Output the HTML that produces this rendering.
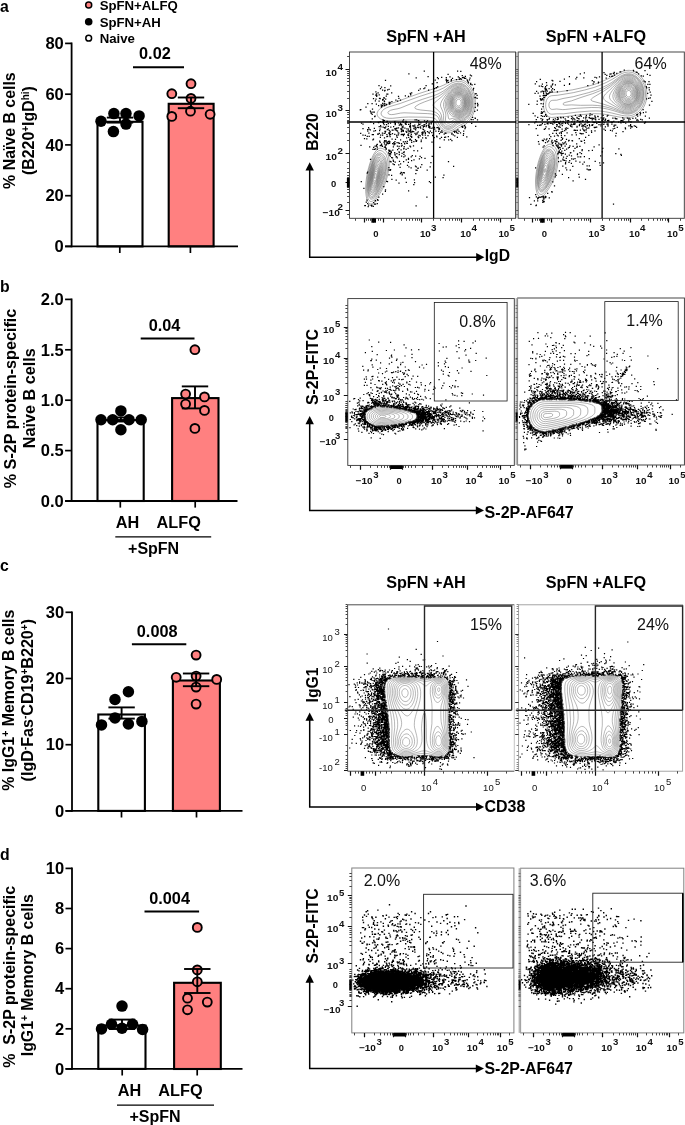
<!DOCTYPE html>
<html><head><meta charset="utf-8"><title>Figure</title>
<style>
html,body{margin:0;padding:0;background:#fff;}
svg{display:block;font-family:"Liberation Sans",sans-serif;will-change:transform;}
</style></head><body>
<svg width="685" height="1125" viewBox="0 0 685 1125">
<rect width="685" height="1125" fill="#fff"/>
<text x=".1" y="11.7" font-size="15.8" font-weight="bold" text-anchor="start" fill="#000">a</text>
<text x=".1" y="292" font-size="15.8" font-weight="bold" text-anchor="start" fill="#000">b</text>
<text x=".1" y="571.4" font-size="15.8" font-weight="bold" text-anchor="start" fill="#000">c</text>
<text x=".1" y="860" font-size="15.8" font-weight="bold" text-anchor="start" fill="#000">d</text>
<circle cx="88.7" cy="5" r="3.0" fill="#ff8080" stroke="#000" stroke-width="1.5"/>
<circle cx="88.7" cy="21.8" r="3.8" fill="#000"/>
<circle cx="88.7" cy="38.2" r="2.9" fill="#fff" stroke="#000" stroke-width="1.5"/>
<text x="99.7" y="10.3" font-size="13.2" font-weight="bold" text-anchor="start" fill="#000">SpFN+ALFQ</text>
<text x="99.7" y="26.8" font-size="13.2" font-weight="bold" text-anchor="start" fill="#000">SpFN+AH</text>
<text x="99.7" y="42.8" font-size="13.2" font-weight="bold" text-anchor="start" fill="#000">Naive</text>
<rect x="97.5" y="121.8" width="45" height="124.6" stroke="#000" stroke-width="2.1" fill="#fff"/>
<rect x="168.7" y="103.8" width="44.9" height="142.6" stroke="#000" stroke-width="2.1" fill="#ff8080"/>
<line x1="71.6" y1="42.5" x2="71.6" y2="247.3" stroke="#000" stroke-width="1.8" stroke-linecap="butt"/>
<line x1="65.1" y1="246.4" x2="238" y2="246.4" stroke="#000" stroke-width="1.8" stroke-linecap="butt"/>
<line x1="65.1" y1="43.4" x2="71.6" y2="43.4" stroke="#000" stroke-width="1.7" stroke-linecap="butt"/>
<text x="63.8" y="49.1" font-size="16.5" font-weight="bold" text-anchor="end" fill="#000">80</text>
<line x1="65.1" y1="94.2" x2="71.6" y2="94.2" stroke="#000" stroke-width="1.7" stroke-linecap="butt"/>
<text x="63.8" y="99.9" font-size="16.5" font-weight="bold" text-anchor="end" fill="#000">60</text>
<line x1="65.1" y1="144.9" x2="71.6" y2="144.9" stroke="#000" stroke-width="1.7" stroke-linecap="butt"/>
<text x="63.8" y="150.6" font-size="16.5" font-weight="bold" text-anchor="end" fill="#000">40</text>
<line x1="65.1" y1="195.7" x2="71.6" y2="195.7" stroke="#000" stroke-width="1.7" stroke-linecap="butt"/>
<text x="63.8" y="201.4" font-size="16.5" font-weight="bold" text-anchor="end" fill="#000">20</text>
<line x1="65.1" y1="246.4" x2="71.6" y2="246.4" stroke="#000" stroke-width="1.7" stroke-linecap="butt"/>
<text x="63.8" y="252.1" font-size="16.5" font-weight="bold" text-anchor="end" fill="#000">0</text>
<line x1="119.8" y1="246.4" x2="119.8" y2="253" stroke="#000" stroke-width="1.7" stroke-linecap="butt"/>
<line x1="190.4" y1="246.4" x2="190.4" y2="253" stroke="#000" stroke-width="1.7" stroke-linecap="butt"/>
<line x1="120" y1="117.6" x2="120" y2="122.6" stroke="#000" stroke-width="1.9" stroke-linecap="butt"/>
<line x1="106.8" y1="117.6" x2="133.2" y2="117.6" stroke="#000" stroke-width="1.9" stroke-linecap="butt"/>
<line x1="106.8" y1="122.6" x2="133.2" y2="122.6" stroke="#000" stroke-width="1.9" stroke-linecap="butt"/>
<circle cx="101" cy="121.3" r="5.75" fill="#000"/>
<circle cx="113.9" cy="113.6" r="5.75" fill="#000"/>
<circle cx="126" cy="113.6" r="5.75" fill="#000"/>
<circle cx="139.1" cy="115.9" r="5.75" fill="#000"/>
<circle cx="126" cy="124.1" r="5.75" fill="#000"/>
<circle cx="113.4" cy="131.6" r="5.75" fill="#000"/>
<circle cx="191" cy="83.7" r="4.45" fill="#ff8080" stroke="#000" stroke-width="1.9"/>
<circle cx="171.8" cy="93.7" r="4.45" fill="#ff8080" stroke="#000" stroke-width="1.9"/>
<circle cx="191" cy="98.4" r="4.45" fill="#ff8080" stroke="#000" stroke-width="1.9"/>
<circle cx="190.5" cy="111.2" r="4.45" fill="#ff8080" stroke="#000" stroke-width="1.9"/>
<circle cx="171.8" cy="116.4" r="4.45" fill="#ff8080" stroke="#000" stroke-width="1.9"/>
<circle cx="210.1" cy="114.3" r="4.45" fill="#ff8080" stroke="#000" stroke-width="1.9"/>
<line x1="191" y1="97.5" x2="191" y2="108.2" stroke="#000" stroke-width="1.9" stroke-linecap="butt"/>
<line x1="177.8" y1="97.5" x2="204.2" y2="97.5" stroke="#000" stroke-width="1.9" stroke-linecap="butt"/>
<line x1="177.8" y1="108.2" x2="204.2" y2="108.2" stroke="#000" stroke-width="1.9" stroke-linecap="butt"/>
<line x1="133" y1="67.3" x2="184" y2="67.3" stroke="#000" stroke-width="2.0" stroke-linecap="butt"/>
<text x="154.9" y="58.8" font-size="16.3" font-weight="bold" text-anchor="middle" fill="#000">0.02</text>
<text x="15.4" y="130.6" font-size="15.9" font-weight="bold" text-anchor="middle" fill="#000" transform="rotate(-90 15.4 130.6)">% Na&#239;ve B cells</text>
<text x="34.3" y="130.6" font-size="15.9" font-weight="bold" text-anchor="middle" transform="rotate(-90 34.3 130.6)">(B220<tspan font-size="10" dy="-5">+</tspan><tspan dy="5">IgD</tspan><tspan font-size="10" dy="-5">hi</tspan><tspan dy="5">)</tspan></text>
<rect x="97.5" y="420.1" width="46.2" height="80.9" stroke="#000" stroke-width="2.1" fill="#fff"/>
<rect x="172.1" y="398.1" width="46.4" height="102.9" stroke="#000" stroke-width="2.1" fill="#ff8080"/>
<line x1="71.6" y1="298.5" x2="71.6" y2="501.9" stroke="#000" stroke-width="1.8" stroke-linecap="butt"/>
<line x1="65.1" y1="501" x2="237.5" y2="501" stroke="#000" stroke-width="1.8" stroke-linecap="butt"/>
<line x1="65.1" y1="299.4" x2="71.6" y2="299.4" stroke="#000" stroke-width="1.7" stroke-linecap="butt"/>
<text x="63.8" y="305.1" font-size="16.5" font-weight="bold" text-anchor="end" fill="#000">2.0</text>
<line x1="65.1" y1="349.8" x2="71.6" y2="349.8" stroke="#000" stroke-width="1.7" stroke-linecap="butt"/>
<text x="63.8" y="355.5" font-size="16.5" font-weight="bold" text-anchor="end" fill="#000">1.5</text>
<line x1="65.1" y1="400.2" x2="71.6" y2="400.2" stroke="#000" stroke-width="1.7" stroke-linecap="butt"/>
<text x="63.8" y="405.9" font-size="16.5" font-weight="bold" text-anchor="end" fill="#000">1.0</text>
<line x1="65.1" y1="450.6" x2="71.6" y2="450.6" stroke="#000" stroke-width="1.7" stroke-linecap="butt"/>
<text x="63.8" y="456.3" font-size="16.5" font-weight="bold" text-anchor="end" fill="#000">0.5</text>
<line x1="65.1" y1="501" x2="71.6" y2="501" stroke="#000" stroke-width="1.7" stroke-linecap="butt"/>
<text x="63.8" y="506.7" font-size="16.5" font-weight="bold" text-anchor="end" fill="#000">0.0</text>
<line x1="120.3" y1="501" x2="120.3" y2="507.6" stroke="#000" stroke-width="1.7" stroke-linecap="butt"/>
<line x1="195.2" y1="501" x2="195.2" y2="507.6" stroke="#000" stroke-width="1.7" stroke-linecap="butt"/>
<line x1="120.9" y1="417.5" x2="120.9" y2="421.5" stroke="#000" stroke-width="1.9" stroke-linecap="butt"/>
<line x1="107.7" y1="417.5" x2="134.1" y2="417.5" stroke="#000" stroke-width="1.9" stroke-linecap="butt"/>
<line x1="107.7" y1="421.5" x2="134.1" y2="421.5" stroke="#000" stroke-width="1.9" stroke-linecap="butt"/>
<circle cx="101" cy="419.8" r="5.75" fill="#000"/>
<circle cx="141.2" cy="419.8" r="5.75" fill="#000"/>
<circle cx="120.9" cy="410.9" r="5.75" fill="#000"/>
<circle cx="120.9" cy="429.8" r="5.75" fill="#000"/>
<circle cx="112.7" cy="419.8" r="5.75" fill="#000"/>
<circle cx="129" cy="419.8" r="5.75" fill="#000"/>
<line x1="195" y1="386.4" x2="195" y2="408.4" stroke="#000" stroke-width="1.9" stroke-linecap="butt"/>
<line x1="181.8" y1="386.4" x2="208.2" y2="386.4" stroke="#000" stroke-width="1.9" stroke-linecap="butt"/>
<line x1="181.8" y1="408.4" x2="208.2" y2="408.4" stroke="#000" stroke-width="1.9" stroke-linecap="butt"/>
<circle cx="194.9" cy="349.7" r="4.45" fill="#ff8080" stroke="#000" stroke-width="1.9"/>
<circle cx="185.6" cy="394.1" r="4.45" fill="#ff8080" stroke="#000" stroke-width="1.9"/>
<circle cx="204.5" cy="396.9" r="4.45" fill="#ff8080" stroke="#000" stroke-width="1.9"/>
<circle cx="185.6" cy="404.1" r="4.45" fill="#ff8080" stroke="#000" stroke-width="1.9"/>
<circle cx="204.5" cy="410.4" r="4.45" fill="#ff8080" stroke="#000" stroke-width="1.9"/>
<circle cx="194.9" cy="428.4" r="4.45" fill="#ff8080" stroke="#000" stroke-width="1.9"/>
<line x1="140.7" y1="338.5" x2="194.5" y2="338.5" stroke="#000" stroke-width="2.0" stroke-linecap="butt"/>
<text x="164.6" y="331" font-size="16.3" font-weight="bold" text-anchor="middle" fill="#000">0.04</text>
<text x="127.6" y="528.3" font-size="16.3" font-weight="bold" text-anchor="middle" fill="#000">AH</text>
<text x="178.7" y="528.3" font-size="16.3" font-weight="bold" text-anchor="middle" fill="#000">ALFQ</text>
<line x1="115.3" y1="536.8" x2="211.2" y2="536.8" stroke="#000" stroke-width="1.3" stroke-linecap="butt"/>
<text x="153.6" y="553.6" font-size="16" font-weight="bold" text-anchor="middle" fill="#000">+SpFN</text>
<text x="15.8" y="398.5" font-size="16.2" font-weight="bold" text-anchor="middle" fill="#000" transform="rotate(-90 15.8 398.5)">% S-2P protein-specific</text>
<text x="35.2" y="398.2" font-size="16.2" font-weight="bold" text-anchor="middle" fill="#000" transform="rotate(-90 35.2 398.2)">Na&#239;ve B cells</text>
<rect x="98.3" y="714.5" width="46.6" height="96.4" stroke="#000" stroke-width="2.1" fill="#fff"/>
<rect x="172.9" y="680.5" width="47" height="130.4" stroke="#000" stroke-width="2.1" fill="#ff8080"/>
<line x1="72" y1="611.4" x2="72" y2="811.8" stroke="#000" stroke-width="1.8" stroke-linecap="butt"/>
<line x1="65.5" y1="810.9" x2="242.5" y2="810.9" stroke="#000" stroke-width="1.8" stroke-linecap="butt"/>
<line x1="65.5" y1="612.3" x2="72" y2="612.3" stroke="#000" stroke-width="1.7" stroke-linecap="butt"/>
<text x="64.2" y="618" font-size="16.5" font-weight="bold" text-anchor="end" fill="#000">30</text>
<line x1="65.5" y1="678.5" x2="72" y2="678.5" stroke="#000" stroke-width="1.7" stroke-linecap="butt"/>
<text x="64.2" y="684.2" font-size="16.5" font-weight="bold" text-anchor="end" fill="#000">20</text>
<line x1="65.5" y1="744.7" x2="72" y2="744.7" stroke="#000" stroke-width="1.7" stroke-linecap="butt"/>
<text x="64.2" y="750.4" font-size="16.5" font-weight="bold" text-anchor="end" fill="#000">10</text>
<line x1="65.5" y1="810.9" x2="72" y2="810.9" stroke="#000" stroke-width="1.7" stroke-linecap="butt"/>
<text x="64.2" y="816.6" font-size="16.5" font-weight="bold" text-anchor="end" fill="#000">0</text>
<line x1="121.5" y1="810.9" x2="121.5" y2="817.5" stroke="#000" stroke-width="1.7" stroke-linecap="butt"/>
<line x1="196.5" y1="810.9" x2="196.5" y2="817.5" stroke="#000" stroke-width="1.7" stroke-linecap="butt"/>
<line x1="121.6" y1="707.4" x2="121.6" y2="718.6" stroke="#000" stroke-width="1.9" stroke-linecap="butt"/>
<line x1="108.4" y1="707.4" x2="134.8" y2="707.4" stroke="#000" stroke-width="1.9" stroke-linecap="butt"/>
<line x1="108.4" y1="718.6" x2="134.8" y2="718.6" stroke="#000" stroke-width="1.9" stroke-linecap="butt"/>
<circle cx="128.4" cy="691.8" r="5.75" fill="#000"/>
<circle cx="115" cy="699.5" r="5.75" fill="#000"/>
<circle cx="115" cy="717.9" r="5.75" fill="#000"/>
<circle cx="101.5" cy="724.9" r="5.75" fill="#000"/>
<circle cx="128.4" cy="724" r="5.75" fill="#000"/>
<circle cx="141.9" cy="721.4" r="5.75" fill="#000"/>
<circle cx="196.1" cy="655.1" r="4.45" fill="#ff8080" stroke="#000" stroke-width="1.9"/>
<circle cx="176.2" cy="677.3" r="4.45" fill="#ff8080" stroke="#000" stroke-width="1.9"/>
<circle cx="216.7" cy="679.4" r="4.45" fill="#ff8080" stroke="#000" stroke-width="1.9"/>
<circle cx="196.1" cy="676.1" r="4.45" fill="#ff8080" stroke="#000" stroke-width="1.9"/>
<circle cx="196.1" cy="687.1" r="4.45" fill="#ff8080" stroke="#000" stroke-width="1.9"/>
<circle cx="196.1" cy="704.1" r="4.45" fill="#ff8080" stroke="#000" stroke-width="1.9"/>
<line x1="196.1" y1="673.5" x2="196.1" y2="686.2" stroke="#000" stroke-width="1.9" stroke-linecap="butt"/>
<line x1="182.9" y1="673.5" x2="209.3" y2="673.5" stroke="#000" stroke-width="1.9" stroke-linecap="butt"/>
<line x1="182.9" y1="686.2" x2="209.3" y2="686.2" stroke="#000" stroke-width="1.9" stroke-linecap="butt"/>
<line x1="131.9" y1="644.3" x2="186.3" y2="644.3" stroke="#000" stroke-width="2.0" stroke-linecap="butt"/>
<text x="157.2" y="636.9" font-size="16.3" font-weight="bold" text-anchor="middle" fill="#000">0.008</text>
<text x="13.7" y="700.2" font-size="15.9" font-weight="bold" text-anchor="middle" transform="rotate(-90 13.7 700.2)">% IgG1<tspan font-size="10.5" dy="-5">+</tspan><tspan dy="5"> Memory B cells</tspan></text>
<text x="33.0" y="700.2" font-size="16.1" font-weight="bold" text-anchor="middle" transform="rotate(-90 33.0 700.2)">(IgD<tspan font-size="10" dy="-5">-</tspan><tspan dy="5">Fas</tspan><tspan font-size="10" dy="-5">-</tspan><tspan dy="5">CD19</tspan><tspan font-size="10" dy="-5">+</tspan><tspan dy="5">B220</tspan><tspan font-size="10" dy="-5">+</tspan><tspan dy="5">)</tspan></text>
<rect x="98.3" y="1025.5" width="47.2" height="43.4" stroke="#000" stroke-width="2.1" fill="#fff"/>
<rect x="174.1" y="982.8" width="46.7" height="86.2" stroke="#000" stroke-width="2.1" fill="#ff8080"/>
<line x1="72" y1="867.5" x2="72" y2="1069.8" stroke="#000" stroke-width="1.8" stroke-linecap="butt"/>
<line x1="65.5" y1="1068.9" x2="242.5" y2="1068.9" stroke="#000" stroke-width="1.8" stroke-linecap="butt"/>
<line x1="65.5" y1="868.4" x2="72" y2="868.4" stroke="#000" stroke-width="1.7" stroke-linecap="butt"/>
<text x="64.2" y="874.1" font-size="16.5" font-weight="bold" text-anchor="end" fill="#000">10</text>
<line x1="65.5" y1="908.5" x2="72" y2="908.5" stroke="#000" stroke-width="1.7" stroke-linecap="butt"/>
<text x="64.2" y="914.2" font-size="16.5" font-weight="bold" text-anchor="end" fill="#000">8</text>
<line x1="65.5" y1="948.6" x2="72" y2="948.6" stroke="#000" stroke-width="1.7" stroke-linecap="butt"/>
<text x="64.2" y="954.3" font-size="16.5" font-weight="bold" text-anchor="end" fill="#000">6</text>
<line x1="65.5" y1="988.7" x2="72" y2="988.7" stroke="#000" stroke-width="1.7" stroke-linecap="butt"/>
<text x="64.2" y="994.4" font-size="16.5" font-weight="bold" text-anchor="end" fill="#000">4</text>
<line x1="65.5" y1="1028.8" x2="72" y2="1028.8" stroke="#000" stroke-width="1.7" stroke-linecap="butt"/>
<text x="64.2" y="1034.5" font-size="16.5" font-weight="bold" text-anchor="end" fill="#000">2</text>
<line x1="65.5" y1="1068.9" x2="72" y2="1068.9" stroke="#000" stroke-width="1.7" stroke-linecap="butt"/>
<text x="64.2" y="1074.6" font-size="16.5" font-weight="bold" text-anchor="end" fill="#000">0</text>
<line x1="122.2" y1="1068.9" x2="122.2" y2="1075.5" stroke="#000" stroke-width="1.7" stroke-linecap="butt"/>
<line x1="197.2" y1="1068.9" x2="197.2" y2="1075.5" stroke="#000" stroke-width="1.7" stroke-linecap="butt"/>
<line x1="122" y1="1019.6" x2="122" y2="1029" stroke="#000" stroke-width="1.9" stroke-linecap="butt"/>
<line x1="108.8" y1="1019.6" x2="135.2" y2="1019.6" stroke="#000" stroke-width="1.9" stroke-linecap="butt"/>
<line x1="108.8" y1="1029" x2="135.2" y2="1029" stroke="#000" stroke-width="1.9" stroke-linecap="butt"/>
<circle cx="122" cy="1006.1" r="5.75" fill="#000"/>
<circle cx="101.5" cy="1029" r="5.75" fill="#000"/>
<circle cx="111.5" cy="1024.3" r="5.75" fill="#000"/>
<circle cx="122" cy="1028.3" r="5.75" fill="#000"/>
<circle cx="132.6" cy="1024.3" r="5.75" fill="#000"/>
<circle cx="142.6" cy="1029.5" r="5.75" fill="#000"/>
<circle cx="197.3" cy="927.4" r="4.45" fill="#ff8080" stroke="#000" stroke-width="1.9"/>
<circle cx="197.3" cy="969.9" r="4.45" fill="#ff8080" stroke="#000" stroke-width="1.9"/>
<circle cx="197.3" cy="981.8" r="4.45" fill="#ff8080" stroke="#000" stroke-width="1.9"/>
<circle cx="187.5" cy="998.2" r="4.45" fill="#ff8080" stroke="#000" stroke-width="1.9"/>
<circle cx="207.3" cy="1002.1" r="4.45" fill="#ff8080" stroke="#000" stroke-width="1.9"/>
<circle cx="187.5" cy="1009.8" r="4.45" fill="#ff8080" stroke="#000" stroke-width="1.9"/>
<line x1="197.3" y1="969" x2="197.3" y2="993" stroke="#000" stroke-width="1.9" stroke-linecap="butt"/>
<line x1="184.1" y1="969" x2="210.5" y2="969" stroke="#000" stroke-width="1.9" stroke-linecap="butt"/>
<line x1="184.1" y1="993" x2="210.5" y2="993" stroke="#000" stroke-width="1.9" stroke-linecap="butt"/>
<line x1="144.5" y1="911.5" x2="199.1" y2="911.5" stroke="#000" stroke-width="2.0" stroke-linecap="butt"/>
<text x="169.6" y="904" font-size="16.3" font-weight="bold" text-anchor="middle" fill="#000">0.004</text>
<text x="129.4" y="1095.8" font-size="16.3" font-weight="bold" text-anchor="middle" fill="#000">AH</text>
<text x="180.5" y="1095.8" font-size="16.3" font-weight="bold" text-anchor="middle" fill="#000">ALFQ</text>
<line x1="117" y1="1105.2" x2="214" y2="1105.2" stroke="#000" stroke-width="1.3" stroke-linecap="butt"/>
<text x="155" y="1122.1" font-size="16" font-weight="bold" text-anchor="middle" fill="#000">+SpFN</text>
<text x="14.9" y="976.8" font-size="16.0" font-weight="bold" text-anchor="middle" fill="#000" transform="rotate(-90 14.9 976.8)" xml:space="preserve">%  S-2P protein-specific</text>
<text x="33.4" y="975.2" font-size="15.9" font-weight="bold" text-anchor="middle" transform="rotate(-90 33.4 975.2)">IgG1<tspan font-size="10" dy="-5">+</tspan><tspan dy="5"> Memory B cells</tspan></text>
<path d="M457.6 99.5l.9-.3l1 .2l1 .9l.5 1.2l.2 1.5l-.4 1.5l-.8 1.1l-1 .6l-1 0l-1-.6l-.7-1.1l-.3-1l0-1.5l.3-1l.7-1zM457.2 98l.8-.3l1-.1l1.5 .7l1.1 1.2l.7 2l0 2l-.6 2l-1.2 1.6l-1.5 .7l-1.5-.1l-1.1-.7l-.9-1.1l-.7-1.9l0-2l.3-1.5l.9-1.5zM457.4 96.5l1.1-.2l1 .1l1.5 .7l.8 .9l.7 1l.7 2.5l0 2.5l-.8 2.5l-1.4 1.7l-1 .7l-1 .3l-1 0l-1-.3l-1.5-1l-1.2-1.9l-.6-2l.1-2.5l.7-2.2l1.3-1.8zM457.3 95.5l1.2-.2l1 .1l1 .3l1 .7l1 1.1l.6 1l.6 1.5l.3 1.5l-.1 3l-.9 2.5l-1.5 2l-1 .7l-1.5 .5l-2-.2l-1-.5l-1-.8l-1-1.2l-.5-1l-.6-2.5l.1-3l1-2.5l1.5-1.9zM375.5 173.5l.5-.2l.1 .2l.2 1.5l-.3 2l-.5 1.2l-.5 .5l-.5-.5l0-1.7l.5-2.2zM456.6 95l1.4-.4l1 0l1.5 .3l1 .6l1 1l1 1.5l.6 1.5l.4 1.5l.1 2l-.2 1.5l-.3 1.5l-.7 1.5l-.9 1.4l-1 1l-1 .6l-1.5 .4l-2-.1l-1-.4l-1.2-.9l-1.5-2l-.7-1.5l-.3-1.5l0-3l.7-2.5l1.5-2.4l1-.9zM375.9 171l.6-.1l.6 1.1l.2 1.5l-.2 2l-.6 2.5l-.5 1.4l-1 1.5l-.5 .2l-.5-.3l-.3-1.3l0-3l.8-3.2l.5-1.2zM457.3 94l1.2-.2l1.5 .2l1.5 .7l1 .8l1 1.3l.9 1.7l.4 1.5l.3 2l-.1 2l-.2 1.5l-.5 1.5l-.8 1.5l-1 1.3l-1 .9l-1.5 .8l-1.5 .2l-1.5-.1l-1-.4l-1.2-.7l-1-1l-1.5-2.5l-.7-3l0-2l.3-1.5l1.2-3l.9-1.3l1-1l1-.7zM375.9 169.5l.6-.3l.5 .1l.5 .7l.4 2l-.1 3l-.8 3.4l-1 2.5l-1 1.4l-.5 .4l-.5 0l-.5-.5l-.4-1.7l-.1-2l.2-2l.5-2.5l.8-2.3l.5-1zM456.6 93.5l1.4-.3l1.5 0l1.5 .5l1.3 .8l1.2 1.3l1 1.6l.6 1.6l.4 2l.1 2l-.2 2l-.5 2l-.7 1.5l-1.1 1.5l-1.1 1.1l-1.5 .9l-1.5 .4l-1.5 0l-1.5-.4l-1-.5l-1.3-1l-.8-1l-.9-1.5l-.6-1.5l-.4-2l0-1.5l.2-2l1-3l.8-1.5l1-1.2l1.5-1.2zM376.3 168l.7-.2l.5 .3l.7 1.4l.3 2.5l-.2 3l-.7 3l-1.1 3.2l-1.5 2.4l-1 .6l-.5-.2l-.4-.5l-.4-1.5l-.2-2.5l.3-3l.6-3l.9-2.5l1.2-2.3zM457.5 92.5l1.5-.1l1.5 .3l1.5 .8l1.5 1.3l1 1.4l.8 1.8l.6 2l.2 2l0 2l-.4 2l-.6 2l-1.1 1.9l-1 1.2l-1.5 1.2l-1.5 .6l-1.5 .3l-1.5-.1l-1.5-.4l-1.5-.9l-1-1l-1-1.3l-.8-1.5l-.6-2l-.3-2l.1-2l.3-2l.8-2l.8-1.5l1.1-1.5l1.1-1l1.5-1zM376 167l1-.5l.5 .1l.5 .4l.5 1l.6 3l-.2 3.5l-.9 4l-1.5 3.9l-1.5 2.3l-1 .7l-.5 0l-.5-.3l-.3-.6l-.5-2l-.1-2.5l.2-3l.7-3.4l.9-3.1l1.1-2.2zM456.5 92l1.5-.3l2 .1l1.5 .5l1.6 1.2l1.4 1.6l1.1 1.9l.6 2l.5 2.5l-.1 2.5l-.3 2l-.6 2l-1 2l-1.2 1.5l-1.5 1.3l-1.5 .8l-2 .4l-1.5 0l-1.7-.5l-1.3-.7l-1.5-1.3l-1.2-1.5l-.7-1.5l-.7-2l-.3-2l0-2l.3-2l.4-1.5l.9-2l.9-1.5l1.4-1.6l1.5-1.2zM376.4 165.5l.6-.3l1 .2l.5 .5l.6 1.1l.5 3l-.1 4l-.9 4l-1.6 4.5l-1 2l-1 1.4l-1 .8l-.5 .1l-.5-.2l-.5-.5l-.7-2.1l-.2-3l.4-4l.7-4l1.2-3.5l1.1-2.4zM457.1 91l1.9-.2l2 .5l1.5 .8l1.5 1.3l1.2 1.6l1 2l.8 2.5l.3 2.5l-.1 2.5l-.5 2.5l-.8 2l-1.1 2l-1.3 1.5l-1.5 1.2l-2 .9l-2 .3l-2-.2l-1.5-.5l-1.5-.9l-1.4-1.3l-1-1.5l-1-2l-.7-2.5l-.2-2l.1-2l.5-2.5l.8-2l1.1-2l1.3-1.6l1.5-1.4l1.5-.9zM377.1 164l.9 0l.7 .5l.7 1l.5 1.5l.4 3.5l-.4 4.5l-1.2 4.5l-2.1 5l-1.1 1.9l-1 1.1l-1 .5l-.5 0l-.5-.3l-.5-.7l-.5-1.5l-.2-1.5l-.1-3.5l.5-4.5l1-4.5l1.3-3.6l1.5-2.6l1-1zM458.2 90l1.8 .1l2 .7l2 1.5l1.4 1.7l1.1 2l.9 2.5l.4 2.5l.1 2.5l-.3 2.5l-.7 2.5l-1 2l-1.4 2l-1.5 1.5l-2 1.1l-2 .6l-2 .1l-2-.3l-2-.8l-1.5-1.1l-.9-1.1l-1.2-2l-1-2.5l-.6-2.5l-.1-2l.3-2.5l.8-2.5l1.2-2.5l1.4-2l1.6-1.7l1.5-1.1l2-.9zM376.7 163l.8-.4l1 .2l1 1l.6 1.2l.6 2l.2 2l-.2 4.5l-1.3 5.5l-2.1 5.5l-1.3 2.3l-1 1.4l-1 .9l-1 .3l-.5-.2l-.7-.7l-.4-1l-.5-2l-.1-4l.4-4.5l1-5l1.3-4l1.5-3.1l1-1.4zM456.1 89.5l2.4-.4l2 .2l2 .9l2 1.5l1.5 1.9l1.3 2.4l.9 3l.3 2.5l-.1 3l-.5 3l-.9 2.5l-1.5 2.5l-1.5 1.7l-2 1.4l-2 .8l-2.5 .4l-2.5-.1l-2-.4l-1.5-.6l-1-.9l-1.2-1.8l-1.5-3l-.8-2.5l-.4-2.5l0-2l.5-2.5l.9-2.5l1.3-2.5l1.4-2l1.8-1.9l2-1.4zM377.2 161.5l.8-.2l1 .3l1 1l.9 1.9l.5 2l.3 2l-.1 2.5l-.2 2.5l-.7 3l-1 3.5l-2.6 6l-1.5 2.5l-1.1 1.3l-1 .8l-1 .1l-.9-.7l-.5-1l-.7-3l-.1-4.5l.5-5l1.1-5l1.7-5l.9-2l1-1.5l1-1.1zM456.4 88.5l1.6-.3l1.5 .1l2.5 .7l2.5 1.6l2 2.4l1.5 3l.9 3.5l.3 3.5l-.5 4l-1 3l-1.3 2.5l-1.9 2.3l-2 1.5l-1.5 .7l-2 .6l-6 .6l-3 .9l-1 0l-.5-.8l-.6-3.8l-2-6l-.5-2l-.2-2.5l.4-2.5l.6-2l1.2-2.5l1.1-2l1.5-2l1.5-1.6l1.5-1.2l1.5-1zM378 160l1 .1l1 .8l1 1.4l.7 1.7l.5 2l.2 2.5l-.1 2.5l-.3 2.5l-.8 3.5l-.9 3l-2.5 6l-1.4 2.5l-1.4 2l-1.5 1.3l-1 .2l-1-.5l-.5-.7l-.6-1.8l-.4-2l-.1-5l.7-6.5l1.6-6.5l1.7-4.5l1.1-1.9l1-1.4l1-.8zM456.9 87.5l2.6-.1l1.5 .3l1.5 .6l2.5 1.8l1.3 1.4l1 1.5l1.6 3.5l.7 3.5l.1 4l-.5 3.5l-1 3l-1.2 2.4l-1.5 1.9l-2 1.8l-3 1.5l-6.5 1.6l-1.3 .8l-2.7 2.2l-1 .4l-1 .1l-1-.4l-.5-.5l-.5-.8l-.4-1l-.1-1.5l.3-3.5l0-1.5l-.5-2l-1.6-5.5l-.2-2l.3-2l.8-2.5l1.3-2.5l1.9-3l1.5-2l1.7-1.8l2-1.5l2-1.1zM377.4 159l1.1-.3l1.5 .6l1.1 1.2l1 2l.7 2l.3 2.5l0 3l-.3 3l-.7 3l-1.2 4l-1.6 4l-1.7 3.5l-1.6 2.7l-1.5 1.9l-1.5 1.1l-1 0l-.9-.7l-.6-.9l-.5-1.6l-.4-2.5l-.1-5l.7-6.5l1.1-5.5l1.9-5.5l1.2-2.5l.9-1.5l1.2-1.4zM456.6 86.5l2.9-.2l1.5 .3l1.5 .6l1.5 .9l1.5 1.2l2.2 2.7l1.6 3.5l1 4l.2 4l-.2 2.5l-.4 2l-1 3l-1.3 2.5l-1.6 2.1l-2 1.9l-3 1.6l-4.5 1.3l-1.3 .6l-1.2 .8l-2.5 2.2l-1.5 .9l-1.5 .4l-1-.1l-1-.3l-1.2-.9l-.7-1l-.6-1.5l-.4-2l0-4l-.2-2l-.6-2l-2.1-5l-.2-1.5l.2-1.5l1-2.5l1.6-2.5l2.9-4l2.6-3l1.7-1.7l2-1.5l2-1.1zM377.7 157.5l1.3-.2l1.5 .6l1.4 1.6l1.1 2l.6 2l.4 2.5l0 3l-.3 3l-.8 4l-1.1 3.5l-1.6 4l-1.9 4l-1.7 3l-1.6 2.3l-1.5 1.5l-1 .4l-.5 0l-1-.4l-.9-1.3l-.5-1.5l-.5-2.5l-.2-5.5l.7-7l1.5-7l2.1-6l1-2l1.3-2l1-1.2zM455.8 85.5l1.7-.3l1.5-.1l1.5 .2l2 .7l1.5 .7l1.5 1.2l1.5 1.5l1.2 1.6l1.1 2l.8 2l1 4l.3 4.5l-.6 4.5l-.9 3l-1.2 2.5l-1.7 2.5l-2 2.1l-3 1.9l-4.5 1.6l-1.5 .8l-3.8 3.1l-1.2 .8l-2 .7l-2-.1l-1.5-.6l-1-.8l-1.5-2l-.8-2.5l-.9-6l-1.2-2.5l-1.6-1.9l-4.8-4.1l-.5-1l-.1-.5l.4-1l1.3-1.5l7.2-6l7.6-7.5l3.4-2.4zM377.7 156l.8-.3l1 0l1.5 .7l1.6 1.6l1.2 2l.8 2.5l.4 2.5l0 3l-.3 3.5l-.8 4l-1.2 4l-1.8 4.5l-2.3 4.5l-2.3 4l-1.8 2.4l-1.5 1.2l-1 .3l-.5 0l-1-.7l-.8-1.2l-.7-2l-.4-2.5l-.2-6l.7-7.5l1.7-7.5l2-6l1.2-2.5l1.2-2l1.3-1.6zM455.6 84.5l1.9-.4l1.5 0l3 .6l1.5 .7l1.5 .9l1.5 1.3l1.3 1.4l1.9 3l1.5 4l.8 4.5l0 4.5l-.7 4l-1 3l-1.5 3l-1.9 2.5l-1.4 1.4l-2 1.4l-7 3.2l-3.5 2.9l-1.5 1l-2 .8l-2 .1l-2-.6l-1.7-1.2l-1.2-1.5l-1-2l-1.6-5.8l-.7-1.7l-1.3-1.6l-2-1.4l-2-.8l-3-.7l-10.2-1l-3-.5l-1.8-.6l-.7-.4l-.4-.5l0-.5l.2-.5l1-1l3.4-2l4.7-2l9.8-3.6l5-2.4l4-2.7l5.6-4.8l2.4-1.8l2.5-1.4zM378.1 154.5l.9-.3l1 .1l1.5 .8l1.9 1.9l1.2 2l.8 2.5l.4 3l0 3.5l-.4 3.5l-.8 4l-1.4 4.5l-1.6 4l-1.9 4l-2.6 4.5l-2.1 3l-2 1.9l-1.5 .4l-1-.4l-1-1.3l-.8-2.1l-.5-2.5l-.3-3.5l0-3.5l.3-4l.5-4l1.6-7.5l2.4-7l1.4-3l1.4-2.2l1.5-1.6zM455.3 83.5l3.2-.4l2 .2l1.5 .3l3 1.6l1.5 1.1l1.6 1.7l2.2 3.5l1.6 4l.8 4.5l.1 5l-.6 3.5l-1 3.5l-1.4 3l-2.3 3.2l-1.5 1.5l-2 1.5l-6.5 3.1l-4.5 3.5l-1.5 .9l-2 .6l-2 .1l-2-.5l-2-1.2l-1.2-1.2l-1.3-2l-2-5.4l-1-2l-1-1.1l-1-.7l-2.5-.9l-2.5-.5l-3.5-.3l-23.5-.8l-3.5 .3l-6.5 1.3l-2.5 .2l-1.5-.1l-1-.4l-1-.8l-.1-.8l.6-1l2-1.2l2.5-.7l5-.9l3-.9l15.3-6.3l6.2-2.2l11-3.5l4.5-1.8l5-2.7l8-5.9l2-1zM378.6 153l1.4-.1l1 .3l1 .5l2 1.9l1.4 2.4l.8 2.5l.4 3.5l0 3.5l-.5 4l-.9 4.5l-1.4 4.5l-1.6 4l-2 4l-2.9 5l-2.5 3.5l-1.8 1.7l-1 .4l-1 .1l-1-.6l-1.1-1.6l-.7-2l-.5-3l-.3-3.5l0-3.5l.3-4.5l.5-4l1-5l1.1-4l2.5-7l1.5-3l1.2-1.9l1.5-1.7zM456.3 81.5l3.2-.1l2 .3l1.5 .5l2 1l1.5 1.1l2.6 2.7l1.1 1.5l1.4 2.5l1.6 4.5l.8 5l0 4.5l-.7 4.5l-1 3.5l-1.8 3.5l-2.1 3l-1.9 1.9l-2 1.5l-6.1 3.1l-4.4 3.2l-2 1.1l-2.5 .8l-2 .1l-2-.4l-2-1l-1.5-1.2l-1.4-1.6l-1.2-2l-1.9-3.6l-1-1.5l-1.5-1.2l-2.5-.9l-3-.4l-4.5-.2l-16.5-.2l-6.5 .3l-9.5 1l-3.5 0l-2.5-.3l-2.5-.8l-1.5-.9l-1-1.3l-.4-1l0-1l.4-1l.6-1l1.9-1.8l2.5-1.4l3.5-1.3l10.1-3l19.9-7.2l18-5.8l5.5-2.5l8-4.9l2.5-1zM378.2 151l.8-.4l1-.1l1 .1l1.5 .7l2.2 1.7l.9 1l.8 1.5l1 3l.5 3.5l0 4.5l-.5 4.5l-1 5l-1.2 4l-2 5l-2 4l-3.9 6.5l-2.8 3.9l-2 1.7l-1 .4l-1 0l-.5-.2l-.9-.8l-.9-1.5l-.8-2.5l-.5-3l-.3-3.5l0-4l.7-8l.9-5.5l1-4l1-3.5l1.6-4.5l1.6-3.5l1.6-2.8l1.5-1.9zM454.7 80l1.8-.4l2-.1l2 .2l2 .5l2 .8l2 1.3l2.9 2.7l1.6 2l1.2 2l1.1 2.5l.9 2.5l1 5l.2 5l-.6 5l-1.1 4l-1.8 4l-2.3 3.5l-2.1 2.2l-2 1.6l-6.8 3.7l-5.7 3.7l-2.5 .9l-2.5 .3l-2-.3l-2.5-.9l-1.7-1.2l-1.6-1.5l-4.7-6.3l-1.7-1.2l-2.3-.7l-2.5-.4l-4.5-.3l-13-.2l-8.6 .1l-11.4 .8l-4-.1l-3.5-.6l-3-1l-2-1.3l-1.4-1.8l-.4-1l-.1-1.5l.4-1.5l.8-1.5l1.2-1.3l1.4-1.2l3.6-2.1l3-1.2l11-3.7l19.5-7.1l21.2-6.9l4.7-2l7.1-3.7zM378.8 148.5l1.2-.3l1 0l1.5 .4l1.5 .7l2 1.7l1.6 2.5l1 3l.6 4l0 4.5l-.5 5l-1 5l-1.4 5l-1.6 4.5l-2.4 5l-3.6 6l-3.7 5.4l-1.5 1.6l-1 .8l-1 .5l-1 .1l-1-.3l-.5-.3l-1-1.3l-1.2-3l-.6-3l-.5-4.5l0-4.5l.2-4l.7-6l1.1-5.5l1-4l1.5-5l1.5-4l1.6-3.5l1.8-3l1.9-2.3z" fill="none" stroke="#686868" stroke-width="0.55" stroke-linejoin="round"/>
<path d="m366 107.1h0m-5.2 2.5h0m-.5 .3h0m1.2 13.1h0m1.5 1.1h0m0 4.4h0m-2.3 4.8h0m2.3 1.7h0m2.3 .4h0m-.8 3.1h0m-3.5 6.9h0m.3 36.3h0m2.6 6.6h0m1.5 17.3h0m-.6 .1h0m3 -102.2h0m2.6 7.6h0m.6 .9h0m.2 1.4h0m-.4 8.5h0m-2.2 5.6h0m.4 1.5h0m-1.4 .7h0m2.7 .2h0m-2.5 1.1h0m1.1 2.1h0m-1.6 3.2h0m1.9 0h0m-2.4 2.6h0m2.9 8h0m.8 12.5h0m-2.8 12.8h0m-.5 .8h0m-.2 27h0m-.7 2h0m1.4 1.7h0m1 1.4h0m3.2 .1h0m-.8 .1h0m.6 .9h0m-3.5 .3h0m7.7 -114.6h0m.6 2h0m-3.5 .3h0m2.8 .8h0m1 .4h0m-.1 1h0m-3.2 2.3h0m2.5 .4h0m-.6 1.8h0m-3.3 2.8h0m4.3 .5h0m-3.9 4.9h0m.4 3h0m1.4 0h0m-2.1 2.2h0m2.9 1.8h0m-.4 .6h0m-2.4 2.1h0m1.3 4.9h0m.8 4.7h0m1.1 2.2h0m-1.6 .4h0m3.7 3.2h0m-5.3 .3h0m1.1 .2h0m.1 4.3h0m-.6 .9h0m4.4 4.5h0m-.7 .8h0m-.1 .8h0m-1.4 .1h0m2.2 1.1h0m-3.6 .1h0m1.8 1.5h0m1.8 .3h0m-4.3 .3h0m1.5 0h0m3.1 50.1h0m-2.3 1.1h0m.3 .2h0m-1.9 1.7h0m3.6 1.1h0m-2.9 .5h0m1.1 0h0m-2.2 2.3h0m5.7 -120.9h0m2.5 1.6h0m-1 1.6h0m2.1 1.3h0m-4.5 2.8h0m1.1 2.1h0m4.7 2.6h0m-4.1 .8h0m-.3 .1h0m.7 .3h0m3 .7h0m-.6 .1h0m0 .7h0m-3.5 .9h0m3.6 2.2h0m-1.5 1.6h0m1.7 .1h0m-.3 .4h0m-4 .1h0m2.8 .5h0m.7 .2h0m-.7 .8h0m1.6 12.9h0m.3 .7h0m-3.1 1.1h0m3.4 .3h0m-1.1 .1h0m-4.2 .2h0m.4 .4h0m4.8 .7h0m-2.9 2.3h0m-1.4 .8h0m1.7 .4h0m2.2 .1h0m-3 2.2h0m-.5 1.4h0m2.8 2.6h0m-3.1 .1h0m-.8 .8h0m4.1 .9h0m-1.9 .2h0m-.3 2.1h0m-.7 3.8h0m.5 1.2h0m1.4 1.7h0m-.2 .4h0m.1 .4h0m.3 .7h0m-1.5 .1h0m2.1 .8h0m1.4 40.3h0m-1.2 7.5h0m-3.8 2.8h0m-.8 3.4h0m7.5 -120.1h0m-.6 7.3h0m4.2 1.8h0m-1.5 .4h0m-2.6 .5h0m-.4 .6h0m3.2 3.1h0m-.9 .1h0m-.6 2.1h0m-2 2h0m1.4 .8h0m-1.5 1.8h0m.3 .7h0m4.7 .9h0m.5 .9h0m-.5 .1h0m-4.4 .3h0m4.9 .3h0m-5.5 .2h0m2.4 .1h0m-.5 .6h0m-1.5 .6h0m-.6 15h0m.4 .2h0m2.9 .6h0m-.4 .6h0m1.4 1.7h0m-4.2 .9h0m2.4 .2h0m1.8 1.7h0m-2.5 .4h0m-1.3 .8h0m.5 .4h0m.1 .2h0m3.2 .6h0m-1 .7h0m1.9 .8h0m-4.2 1h0m.6 0h0m-.3 .1h0m4.7 .6h0m-.8 .9h0m-3.8 0h0m3.5 .3h0m.4 .2h0m-5.1 0h0m5.3 .4h0m-2.6 .7h0m2.9 .7h0m-2.2 1.2h0m-.7 .2h0m-2.4 1.2h0m1.6 2.7h0m-1.4 0h0m4.4 .6h0m-4.6 0h0m.2 0h0m3.8 .4h0m.5 .2h0m-1.1 .1h0m-1.8 .1h0m3.8 0h0m-5.8 .5h0m3.1 .3h0m2.1 .5h0m.3 .1h0m-2.4 0h0m1.3 .3h0m-1.5 0h0m-2.5 .3h0m1.9 .9h0m-1 .2h0m0 1.9h0m-1 .3h0m1.1 .4h0m.7 .8h0m-.1 1h0m2.7 .8h0m.9 .2h0m-.4 .4h0m-.2 .4h0m.6 .1h0m-1.1 1.6h0m1.4 .7h0m-.8 0h0m.2 1.6h0m-.5 12.4h0m.1 2.2h0m0 5.1h0m-2.3 6.4h0m.8 .3h0m-2 8.2h0m-.1 1.5h0m5.3 -105.5h0m1 7.1h0m4.2 7.3h0m-4 1.5h0m-1.8 .6h0m4.9 19.2h0m-.3 .2h0m-.3 1h0m-3.9 .5h0m4.9 0h0m-.1 0h0m0 .8h0m-.1 .5h0m-1.6 2h0m-2.8 .7h0m4.1 1.3h0m.1 0h0m.3 1.4h0m-3.1 .2h0m.8 0h0m-2.9 1.2h0m2.4 2.4h0m-1.8 .6h0m4.1 .1h0m-4.7 2.1h0m2 2.6h0m3.4 .2h0m-.6 2.2h0m-1.1 1.1h0m.2 .4h0m-1.4 .5h0m2.4 .2h0m-.3 .4h0m-.8 .8h0m-.5 1.9h0m-.6 3.4h0m-1.8 1h0m.4 1.2h0m3.3 .2h0m-4 .6h0m-.5 .4h0m.4 .4h0m4.3 .2h0m.3 .8h0m-4.8 1.2h0m1.2 1.3h0m.9 .3h0m.7 2.4h0m-3.1 1.1h0m3.4 .1h0m-3.4 .2h0m1 .2h0m4.1 .4h0m-2.2 1.7h0m1.4 .7h0m-.2 .1h0m-3.6 5h0m-.4 .7h0m1.4 4.9h0m.3 4h0m6.6 -82.9h0m.4 2.1h0m1.6 1.7h0m-2.8 .9h0m.8 21.8h0m1.8 .2h0m.4 1.1h0m.4 .1h0m.6 .2h0m-1.9 .3h0m1.6 .3h0m-2.1 .1h0m-.8 2.7h0m-1.5 .2h0m-.7 .4h0m4.7 .2h0m.9 .4h0m-.7 .6h0m.5 .2h0m-5.2 .2h0m5.3 0h0m-4.7 .8h0m.5 .2h0m3.8 .6h0m-3.2 1.1h0m.6 .4h0m3 1.3h0m-.5 .1h0m-2.8 .3h0m-1.6 .2h0m-.2 .7h0m.5 1.7h0m3.4 2.5h0m-3.5 2.7h0m1.5 .2h0m.8 .6h0m2.1 .1h0m-4.1 2.5h0m4.1 0h0m-2.4 .4h0m-.2 2h0m-1.3 1.1h0m3.5 .3h0m-2 2.1h0m.2 .7h0m-2.4 1h0m2.4 1h0m2.3 1.4h0m-5 .6h0m-.5 .2h0m1.2 .9h0m2.2 3.5h0m1.1 2.7h0m-1.8 1h0m1.3 2.3h0m1 5.1h0m.7 .3h0m-1.4 .9h0m-4.2 6.6h0m2.8 3h0m6.4 -87.3h0m-1.8 23.9h0m-1 1.4h0m3.4 .1h0m-2.7 .8h0m3.3 .3h0m-1.3 .6h0m0 .6h0m1 .6h0m-.4 .2h0m-2.8 1.8h0m-.7 .6h0m-.3 .3h0m.9 .6h0m1.9 .4h0m2 .7h0m-3.5 1.7h0m-1.1 .5h0m5.7 0h0m-4.7 .5h0m2.8 0h0m.1 .2h0m.5 .6h0m-2.3 1.9h0m-1.9 .3h0m1.4 0h0m-.7 .5h0m4.7 .1h0m-4.4 .5h0m3.1 2.3h0m.7 3.6h0m-2 .1h0m-1.9 .2h0m3.3 1.4h0m.6 .1h0m-2.7 0h0m.1 .7h0m-2.6 1.4h0m2.1 1.3h0m-.2 1.8h0m-.3 .3h0m2.4 .7h0m-1.8 2.5h0m-.6 .3h0m-1.6 1h0m1.8 1h0m1.2 1.5h0m-1.3 1h0m2.5 3h0m-2.7 1.8h0m3.9 3.8h0m-3.9 7.2h0m.8 .2h0m-2.2 1.3h0m0 .7h0m3.2 3.4h0m.9 4.3h0m2.6 -108.5h0m2.8 19h0m-1.4 .3h0m.4 1h0m0 .6h0m-2.2 1.6h0m2 26.8h0m-1.9 1.1h0m1.7 .5h0m3.3 .9h0m-.8 .2h0m-2.3 .1h0m-.9 .2h0m.7 .4h0m-.1 1h0m.4 .4h0m3.3 .5h0m-5.5 .6h0m2.3 .5h0m-1.7 1.1h0m1.6 0h0m-1.3 .7h0m3.1 0h0m1.3 .1h0m-2.9 .2h0m1.4 .1h0m-1.3 .7h0m-2 .5h0m-.8 1.2h0m3.2 .2h0m-2.7 .8h0m2 .9h0m1 .2h0m.1 .9h0m-3 0h0m1.2 1.8h0m.4 .1h0m.3 .2h0m-.8 .8h0m1.8 .5h0m2.3 .9h0m-2.2 .9h0m1.8 3.5h0m-3.5 .2h0m.6 .7h0m-2.5 1.6h0m4.2 7.2h0m-1.1 1.2h0m-2.7 1.4h0m-.1 1.1h0m.1 .1h0m5.5 .5h0m-2.4 .6h0m-3.2 1.8h0m.5 4.5h0m2.2 1.1h0m2.7 16.7h0m-5.2 6.1h0m7.6 -112.9h0m2.5 12.6h0m-3.6 29.3h0m1.6 0h0m1.6 .9h0m.6 .2h0m-.1 2h0m0 1.6h0m1.1 .2h0m-5.1 .5h0m3.2 .5h0m-3.9 1.1h0m1.2 .4h0m.3 .3h0m2.1 0h0m1 .1h0m-2.6 .6h0m-.9 1h0m.5 .8h0m2.5 1.8h0m-1.1 1.1h0m-2.1 .5h0m2 .5h0m-1.2 .5h0m0 .3h0m3.2 .6h0m-.6 1.5h0m-.3 .1h0m.6 .8h0m-3.2 1.8h0m1.2 1.2h0m-.7 .3h0m.4 .3h0m-2.4 9.2h0m3.6 .3h0m-2 5.3h0m3.8 2.8h0m-3.9 7.1h0m.8 .8h0m1.9 1.4h0m-.3 .2h0m-1.8 1.6h0m1 .4h0m-1.3 3.1h0m-1.4 6.3h0m.2 2.7h0m1.5 23.3h0m8.2 -134.8h0m.6 16.8h0m-1 .9h0m-3.6 .2h0m4.2 32h0m-3.7 1.9h0m3.3 1.9h0m.9 .1h0m-2.9 .9h0m1.5 .5h0m.7 .2h0m-4 .5h0m3.1 .3h0m-2.7 .8h0m2.3 1.1h0m-.1 0h0m.7 .6h0m1.2 1.2h0m-.6 .6h0m-1.7 .5h0m2.7 .5h0m-3.2 .1h0m.1 .2h0m1.1 0h0m-1 0h0m3.2 .5h0m-2.8 .1h0m-.5 1h0m3.2 .7h0m-2.6 .1h0m-2.4 .7h0m2.3 1.9h0m3 .1h0m-4.3 2.3h0m-.1 1.5h0m.4 6.3h0m-1.5 8.3h0m1.4 1.2h0m3.5 .8h0m-3.2 6.2h0m-1.2 2.5h0m7.5 -90.5h0m-2 9h0m2.5 4.7h0m-1.1 30.7h0m-1 .7h0m4.7 1h0m-4.9 .8h0m2.8 .3h0m2.1 .2h0m-2.2 .9h0m-.4 .5h0m-1.9 .1h0m2.2 .7h0m-2.7 .5h0m3.6 .1h0m-1.1 .5h0m.8 .5h0m.6 .4h0m1.8 .2h0m-1.5 2.8h0m-2.9 .4h0m1.4 .8h0m2.9 .2h0m-2.5 .6h0m-1.3 2.5h0m-1.8 2.5h0m5.8 4.1h0m-1.1 20.4h0m-.7 4.3h0m-3 3.2h0m2.2 11.4h0m1.2 1h0m-3.7 14.6h0m10.6 -119.6h0m-2.3 2.7h0m1.9 2.4h0m-3.9 1.2h0m-.9 .1h0m5.4 2.6h0m-1.1 1.2h0m-.5 .2h0m-1.6 .7h0m-2.3 32.7h0m2.3 6.1h0m-1.3 0h0m3.8 .3h0m1 0h0m-3.8 0h0m.5 1.5h0m1.2 2h0m-3.2 4.2h0m-.1 .2h0m4.1 .5h0m.3 .7h0m-2.8 .9h0m-2 18.7h0m3.1 20.7h0m6.4 -99.8h0m-3.3 1.2h0m.8 49.9h0m-.3 .2h0m.5 .5h0m-.4 .4h0m2.8 1.3h0m-3.1 .5h0m1.9 .7h0m1.5 .3h0m-2.6 1.2h0m2 3.9h0m-1.5 1.3h0m-.1 8.6h0m4 27.7h0m-.8 2.6h0m5 -103.3h0m-1.8 3.4h0m.1 1.7h0m-.3 .7h0m1.9 .2h0m-.5 .4h0m-.8 .1h0m0 1.2h0m1.7 .4h0m-3.2 50.6h0m.7 .4h0m-1.7 .7h0m4.1 2.5h0m-2.7 .5h0m-1 .2h0m4.1 2.5h0m-4.4 0h0m4.2 21.8h0m1.5 -84.7h0m2.5 1.5h0m-1.1 1.3h0m-.2 1.1h0m2.8 50.5h0m1.1 .1h0m-.4 1h0m-2.7 .9h0m-.2 .9h0m1.5 .8h0m1.5 .9h0m-4.1 3.6h0m1.2 1.1h0m1.7 25.7h0m4 -95.2h0m3.2 .3h0m-2.5 5.5h0m1.1 1.1h0m1.3 .6h0m-1.4 .9h0m1.9 0h0m-4.7 .1h0m5.4 46.7h0m-4 3.6h0m-.1 0h0m-1.3 1.2h0m2.5 .2h0m-2.3 1.4h0m3.8 .1h0m-2.5 .6h0m-.6 4h0m4.9 -61.8h0m3.1 .7h0m-1.6 1.1h0m.3 .2h0m-1.6 .1h0m3.2 .6h0m-1.3 .2h0m2.7 1.5h0m.5 1h0m-3 44.6h0m-1.9 .8h0m2.5 .4h0m-2.9 .4h0m3.2 .1h0m-2.8 .1h0m2.3 1.3h0m-1.3 2.4h0m-.1 2.6h0m-.2 1.7h0m3.4 1.5h0m3.6 -61.7h0m1.1 .6h0m-1.5 2.3h0m-.5 1.9h0m-1.4 1.9h0m.4 1.1h0m2.2 .5h0m0 1h0m1.4 .3h0m1.5 3.6h0m-.2 1.4h0m-.8 27.6h0m-1.3 2.2h0m1.8 .1h0m-1.4 3.6h0m3.1 -38.9h0m1.3 9.2h0m-.8 .3h0m1.8 1.4h0m-1.5 2h0m-.2 .3h0m-.5 0h0m2.2 .7h0m.4 5.2h0m-2.2 .2h0m2.6 .9h0m-.2 1.4h0m-2.4 1.5h0m2.1 2.6h0m-2.6 1.4h0m.3 6.7h0m.3 .2h0m2.1 1.5h0m-1.8 6.5h0" fill="none" stroke="#000" stroke-width="1.25" stroke-linecap="square"/>
<rect x="349.5" y="52" width="166.1" height="166.3" stroke="#333" stroke-width="0.9" fill="none"/>
<line x1="433.6" y1="52" x2="433.6" y2="218.3" stroke="#000" stroke-width="1.3" stroke-linecap="butt"/>
<line x1="347" y1="122" x2="518.1" y2="122" stroke="#000" stroke-width="1.3" stroke-linecap="butt"/>
<path d="M345.5 69.5h4M345.5 110.5h4M345.5 153.5h4M345.5 182.5h4M345.5 210.5h4" stroke="#111" stroke-width="1.2" fill="none"/>
<path d="M347.1 98.5h2.4M347.1 91.5h2.4M347.1 85.5h2.4M347.1 81.5h2.4M347.1 78.5h2.4M347.1 75.5h2.4M347.1 73.5h2.4M347.1 71.5h2.4M347.1 140.5h2.4M347.1 133.5h2.4M347.1 127.5h2.4M347.1 123.5h2.4M347.1 120.5h2.4M347.1 117.5h2.4M347.1 114.5h2.4M347.1 112.5h2.4M347.1 56.5h2.4M347.1 162.5h2.4M347.1 168.5h2.4M347.1 172.5h2.4M347.1 175.5h2.4M347.1 177.5h2.4M347.1 179.5h2.4M347.1 180.5h2.4M347.1 185.5h2.4M347.1 186.5h2.4M347.1 187.5h2.4M347.1 189.5h2.4M347.1 192.5h2.4M347.1 196.5h2.4M347.1 202.5h2.4M347.1 214.5h2.4" stroke="#444" stroke-width="1.0" fill="none"/>
<rect x="346.9" y="178" width="2.6" height="9.3" fill="#000"/>
<path d="M364.5 218.3v4.3M383.5 218.3v4.3M421.5 218.3v4.3M461.5 218.3v4.3M500.5 218.3v4.3M373.5 218.3v4.3" stroke="#111" stroke-width="1.2" fill="none"/>
<path d="M394.5 218.3v2.5M401.5 218.3v2.5M406.5 218.3v2.5M409.5 218.3v2.5M412.5 218.3v2.5M415.5 218.3v2.5M417.5 218.3v2.5M419.5 218.3v2.5M433.5 218.3v2.5M440.5 218.3v2.5M445.5 218.3v2.5M449.5 218.3v2.5M452.5 218.3v2.5M455.5 218.3v2.5M457.5 218.3v2.5M459.5 218.3v2.5M473.5 218.3v2.5M479.5 218.3v2.5M484.5 218.3v2.5M488.5 218.3v2.5M491.5 218.3v2.5M494.5 218.3v2.5M496.5 218.3v2.5M498.5 218.3v2.5M511.5 218.3v2.5M378.5 218.3v2.5M380.5 218.3v2.5M370.5 218.3v2.5M368.5 218.3v2.5M366.5 218.3v2.5M355.5 218.3v2.5" stroke="#444" stroke-width="1.0" fill="none"/>
<rect x="371.4" y="218.3" width="4.6" height="4.4" fill="#000"/>
<text x="337" y="75.5" font-size="9.5" font-weight="bold" text-anchor="end" fill="#111" textLength="11.4" lengthAdjust="spacingAndGlyphs">10</text>
<text x="337.6" y="69.7" font-size="9.8" font-weight="bold" text-anchor="start" fill="#111">4</text>
<text x="337" y="116.9" font-size="9.5" font-weight="bold" text-anchor="end" fill="#111" textLength="11.4" lengthAdjust="spacingAndGlyphs">10</text>
<text x="337.6" y="111.1" font-size="9.8" font-weight="bold" text-anchor="start" fill="#111">3</text>
<text x="337" y="159.5" font-size="9.5" font-weight="bold" text-anchor="end" fill="#111" textLength="11.4" lengthAdjust="spacingAndGlyphs">10</text>
<text x="337.6" y="153.7" font-size="9.8" font-weight="bold" text-anchor="start" fill="#111">2</text>
<text x="333.7" y="186.6" font-size="9.5" font-weight="bold" text-anchor="middle" fill="#111">0</text>
<text x="339.8" y="216.4" font-size="9.5" font-weight="bold" text-anchor="end" fill="#111" textLength="17.2" lengthAdjust="spacingAndGlyphs">&#8722;10</text>
<text x="337.4" y="210.2" font-size="9.8" font-weight="bold" text-anchor="start" fill="#111">2</text>
<text x="375.8" y="237.4" font-size="9.5" font-weight="bold" text-anchor="middle" fill="#111">0</text>
<text x="430.8" y="237.4" font-size="9.5" font-weight="bold" text-anchor="end" fill="#111" textLength="10.9" lengthAdjust="spacingAndGlyphs">10</text>
<text x="431" y="231.4" font-size="9.8" font-weight="bold" text-anchor="start" fill="#111">3</text>
<text x="471.2" y="237.4" font-size="9.5" font-weight="bold" text-anchor="end" fill="#111" textLength="10.9" lengthAdjust="spacingAndGlyphs">10</text>
<text x="471.4" y="231.4" font-size="9.8" font-weight="bold" text-anchor="start" fill="#111">4</text>
<text x="509.3" y="237.4" font-size="9.5" font-weight="bold" text-anchor="end" fill="#111" textLength="10.9" lengthAdjust="spacingAndGlyphs">10</text>
<text x="509.5" y="231.4" font-size="9.8" font-weight="bold" text-anchor="start" fill="#111">5</text>
<text x="426" y="42.4" font-size="16.2" font-weight="bold" text-anchor="middle" fill="#000">SpFN +AH</text>
<text x="485.7" y="69" font-size="16" text-anchor="middle" fill="#111">48%</text>
<path d="M628.1 90.5l1.1 0l1 .6l.6 .9l.4 1.4l-.2 1.6l-.6 1l-.7 .6l-1 .4l-1-.2l-1-.8l-.5-1l-.2-1l.2-1.5l.5-1l.5-.5zM628 89l1.2 0l1.5 .7l1 1.3l.6 2l-.1 2l-.6 1.5l-1.4 1.5l-1.5 .5l-1.5-.3l-1.4-1.2l-.8-1.5l-.3-1.5l.3-2l.7-1.4l1-1zM627.3 88l.9-.2l1 0l1 .3l1 .6l.8 .8l.6 1l.6 2l0 2.5l-.7 2l-1.3 1.6l-1 .7l-1 .3l-1 .1l-1-.2l-1.5-.9l-1.2-1.6l-.7-2l.1-2.5l.7-2l1.1-1.5zM626.8 87l1.4-.4l1 0l1 .3l1 .5l1 .8l1 1.3l.9 2.5l.1 1.5l-.1 1.5l-.4 1.5l-.5 1.2l-1.5 1.9l-1 .7l-1.5 .5l-2-.1l-1-.4l-1-.7l-1.5-1.8l-.8-2.3l-.1-2.5l.7-2.5l1.2-2l1-.9zM626.6 86l1.1-.3l1.5-.1l1.5 .4l1 .6l1.1 .9l.9 1.3l.8 1.7l.4 1.5l.1 2l-.2 1.5l-.4 1.5l-.7 1.5l-1 1.4l-1 .9l-1 .5l-1.5 .5l-1.5 0l-1-.2l-2-1.2l-1.7-1.9l-.7-1.5l-.4-1.5l-.1-1.5l.2-1.5l.7-2.5l.9-1.5l.8-1l1.3-1zM626.4 85l1.3-.4l1.5 0l1.5 .3l1.5 .8l1.4 1.3l1 1.5l.6 1.5l.5 2l.1 2l-.3 2l-.6 2l-.7 1.4l-1 1.3l-1 .9l-1.5 .8l-1.5 .4l-1.5 .1l-1.5-.4l-1.5-.8l-.9-.7l-1.1-1.2l-.8-1.3l-.6-1.5l-.4-1.5l0-1.5l.2-2l1.1-3l1-1.5l.9-1l1.1-.9zM626.2 84l1.5-.4l2 0l1.5 .4l1.5 .9l1.2 1.1l1.1 1.5l.9 2l.5 2l.2 2l-.1 2l-.5 2l-.9 2l-1 1.5l-1.4 1.4l-1.5 .9l-2 .6l-1.5 0l-1.5-.3l-1.5-.6l-1.4-1l-1.1-1.1l-1-1.5l-.7-1.4l-.5-2l-.2-1.5l.2-2l.5-2l.6-1.5l.9-1.5l1.2-1.5l1.5-1.2zM544.9 169l.3-.4l.5 .3l.1 1.1l-.6 2l-.5 .5l-.3-.5l-.1-1l.3-1.5zM627.3 83l1.9-.1l1.5 .3l1.5 .6l1.5 1.2l1.3 1.5l1.1 2l.7 2l.3 2l-.1 2.5l-.3 2l-.7 2l-1.1 2l-1.2 1.3l-1.5 1.2l-1.5 .7l-2 .4l-2-.2l-1.5-.4l-1.5-.9l-1.5-1.2l-1.2-1.4l-1.1-2l-.4-1.5l-.3-2l0-2l.5-2l.7-2l.9-1.5l1.1-1.5l1.6-1.5l1.7-1zM545.6 165.5l.6 0l.6 1l.2 1.5l-.1 2l-.5 2l-.7 1.9l-1 1.4l-.5 .3l-.5-.3l-.5-1.3l.1-3l.9-3.5l.5-1zM626.3 82.5l1.9-.4l2 .2l2 .7l1.5 1.1l1.5 1.6l1.1 1.8l.8 2l.5 2.5l.1 2.5l-.3 2l-.7 2.5l-1.1 2l-1.4 1.8l-1.5 1.2l-1.5 .8l-2 .5l-2 0l-1.5-.3l-2-1l-1.5-1.1l-1.4-1.4l-1.3-2l-.6-1.5l-.5-2l-.1-2l.3-2l.8-2.5l1-2l1.3-1.7l1.5-1.5l1.5-1.1zM545.7 163.5l.5-.2l.5 .1l.7 1.1l.4 2l-.1 3l-.5 2.6l-1.1 2.9l-1.4 2.2l-.5 .4l-.5 .1l-.5-.3l-.2-.4l-.5-1.5l-.1-2l.2-2.5l.5-2.5l.7-2l.9-1.9zM627.3 81.5l1.9-.1l2 .4l2 1l1.5 1.3l1.5 1.9l1 2l.7 2.5l.3 2.5l0 2.5l-.6 2.5l-.7 2l-1.2 2l-1.5 1.7l-1.5 1.2l-2 .9l-2 .3l-2-.1l-2-.6l-2-1.1l-1.5-1.2l-1.4-1.6l-1.3-2l-.7-2l-.3-2l0-2l.5-2.5l1.1-2.5l1.1-2l1.7-2l1.8-1.5l2-1.1zM545.6 162l.6-.3l.5-.1l.5 .2l.5 .5l.5 1.1l.4 2.6l-.2 3.5l-.8 3.5l-1.4 3.5l-1.5 2.3l-1 .6l-.5-.1l-.8-.8l-.5-2l-.1-2.5l.3-3l.6-3.1l1-2.9l1-1.9zM625.9 81l2.3-.4l2 .1l2 .6l2 1.3l1.8 1.9l1.3 2l1 2.5l.5 2.5l.1 3l-.3 2.5l-.8 2.5l-1.2 2.5l-1.6 2l-1.8 1.5l-2 1l-2 .4l-2 0l-2-.4l-2-.8l-2-1.4l-1.9-1.8l-1.5-2l-.9-2l-.5-2l-.1-2l.4-2.5l.9-2.5l1.3-2.5l1.5-2l1.8-1.9l2-1.4zM546.4 160l.8-.1l.8 .6l.6 1l.4 1l.4 3l-.3 4l-1 4l-1.6 4l-1.8 2.8l-1 .7l-.5 .1l-.5-.1l-.5-.5l-.5-1l-.3-1.5l-.2-3l.3-4l.9-4l1.3-3.7l1.5-2.4zM626.2 80l2.5-.3l2 .2l2 .7l2 1.4l1.9 2l1.2 2l1 2.5l.7 3l.1 3l-.3 2.5l-.9 3l-1.2 2.5l-1.6 2l-1.9 1.6l-2 1.1l-2.5 .6l-2.5 0l-2-.5l-2.5-1.1l-2-1.4l-2.4-2.3l-1.4-2l-1-2l-.5-2l0-2l.6-2.5l1.2-3l1.8-3l1.7-2.1l2-1.8l2-1.3zM546.4 158.5l.8-.2l1 .4l.7 .8l.7 1.5l.6 3.5l-.3 4.5l-1.2 5l-2 4.8l-2 2.9l-1 .8l-1 .2l-.5-.2l-.7-1l-.7-2.5l-.2-3.5l.4-4.5l1-4.5l1.2-3.6l1.5-2.8l1-1.2zM626.4 79l2.3-.3l2.5 .4l2.5 1.1l2 1.5l1.9 2.3l1.3 2.5l1 3l.4 2.5l0 3l-.5 3l-1 3l-1.3 2.5l-1.8 2.1l-2 1.6l-2.5 1.2l-2.5 .5l-2-.1l-2.5-.6l-2.5-1.1l-2.5-1.6l-2.8-2.5l-2-2.5l-1.1-2l-.4-2l.1-2l1.1-3l1.9-3.5l2-3l2.2-2.4l2-1.7l2-1.1zM546.4 157l.8-.3l.5 0l.8 .3l1 1l.7 1.5l.6 2l.2 2l-.2 4.5l-1.2 5.5l-2.2 5.5l-1.4 2.5l-1.3 1.7l-1 .8l-1 .4l-1-.4l-.5-.6l-.8-2.4l-.4-4l.4-5l1-5.5l1.5-4.5l1.8-3.4l1-1.1zM626 78l2.7-.3l2.5 .3l2.5 1l2.1 1.5l1.9 2.1l1.7 2.9l1.1 3l.5 3l.1 3.5l-.5 3.5l-1 3l-1.4 2.5l-2 2.5l-2 1.6l-2.5 1.2l-2.5 .6l-2.5 0l-2.5-.5l-2.5-.9l-2.6-1.5l-3.6-2.5l-3.5-3l-1.7-2l-.9-2l.2-2l.8-2l2-3l4.6-6l2.3-2.5l2.4-2l2-1.1zM547.3 155l1.4 .2l1 .8l1 1.5l.6 1.5l.4 2l.3 2.5l-.4 5l-.6 3l-.9 3l-1.2 3l-1.4 3l-1.5 2.5l-1.3 1.7l-1.5 1.2l-1 .2l-1-.5l-.5-.7l-.6-1.4l-.4-2l-.3-5l.6-6l1.4-6l1.7-4.5l1.1-2.1l1-1.4l1-1zM625.6 77l2.6-.4l3 .3l2.5 .9l2.5 1.8l2 2.1l1.7 2.8l1.3 3.5l.7 3.5l.1 3.5l-.5 3.5l-1 3l-1.5 3l-1.9 2.5l-2.4 2l-2.5 1.3l-3 .7l-2 .1l-2.5-.3l-3-1l-2.5-1.1l-12.8-7.2l-1.4-1l-.9-1l-.6-1.5l.1-1l.4-1l1.5-2l6.7-6.3l6-6.2l3.5-2.7l2-1.1zM547 153.5l1.2-.3l1.5 .7l1.1 1.1l1.1 2l.7 2.5l.3 2.5l0 3l-.3 3l-.7 3l-1 3.5l-1.4 3.5l-1.9 4l-1.9 3l-1.5 1.7l-1.5 1l-1 .1l-1-.7l-.5-.7l-.7-1.9l-.4-2l-.3-5.5l.6-6l1.4-6.5l1.8-5l2.1-3.9l1-1.2zM628.2 75.5l2.5 .2l2 .5l2.5 1.3l2 1.6l1.6 1.9l1.6 2.5l1.1 2.5l.9 3l.4 3l0 3l-.3 3l-.8 3l-1.1 2.5l-1.5 2.5l-1.9 2.3l-2 1.6l-2.5 1.4l-3 .8l-2.5 .1l-3-.3l-3.5-1.1l-7.5-3.3l-5.5-2l-5.5-1.7l-9.5-2.6l-1.3-.7l-.4-.5l0-.5l.3-.5l1.8-1.5l10.6-6.3l7-4.7l7.5-6.5l2.5-1.9l3.5-1.8l2-.6zM546.9 152l1.3-.4l1.5 .4l1.5 1.2l1.4 2.3l.8 2.5l.4 2.5l.1 3l-.3 3.5l-.7 3.5l-1 3.5l-1.5 4l-1.9 4l-2.1 3.5l-1.7 2.2l-1.5 1.3l-1.5 .4l-1-.3l-1-1.2l-.7-1.9l-.5-2l-.2-2.5l-.1-3.5l.6-6.5l1.2-6l2.1-6.5l1.2-2.5l1.1-2l1.3-1.6zM625.6 75l2.6-.4l3 .3l2.5 .9l2.5 1.5l2.4 2.2l1.8 2.5l1.5 3l1.1 3.5l.5 3.5l0 3.5l-.6 3.5l-1.1 3.5l-1.5 3l-1.8 2.5l-2.3 2.2l-2.5 1.5l-2.5 1l-2 .4l-2 .1l-2.5-.3l-3.5-.9l-8-2.9l-5.2-1.6l-5.3-1.3l-5-.7l-5.5-.3l-11.5 .1l-9-.4l-6 .3l-1.6-.2l-.9-.5l-.2-.5l.2-.5l.6-.5l1.1-.5l6.8-1.7l9.2-3.3l11.8-3.8l7-2.8l5.5-2.8l5-3l10.5-8l2.5-1.3zM547.6 150.5l1.6-.1l1.5 .7l1.5 1.6l1.2 2.3l.8 2.5l.4 3l0 3.5l-.4 3.5l-.8 3.5l-1.4 4.5l-1.6 4l-2.1 4l-2.2 3.5l-1.9 2.3l-1.5 1.1l-1.5 .3l-1-.6l-1-1.4l-.6-1.7l-.5-2.5l-.3-3l0-3.5l.7-7l1.5-7l1.1-3.5l1.3-3.5l1.3-2.5l1.5-2.1l1-1.1zM626.1 74l2.6-.3l3 .4l3 1.2l2.5 1.7l2.4 2.5l1.9 3l1.5 3.5l.9 3.5l.3 3.5l-.2 4l-.7 3.5l-1.3 3.5l-1.7 3l-2.1 2.5l-2.5 2.1l-2.5 1.3l-2 .7l-2 .4l-2 .1l-2.5-.2l-3.5-.8l-8.3-2.6l-5.2-1.4l-5-1l-4.5-.5l-6.5-.1l-15.5 .8l-11 1.2l-2.5 .1l-6-.6l-4 .4l-1 0l-1.5-.8l-1-1.5l-.3-2.1l.3-2l.9-1.5l1.1-.8l1.5-.4l4-.1l6.3-1.7l10.2-1.8l15.5-4.1l7-2.2l5.5-2.3l6-3l4.5-2.6l6.5-4.8l2.5-1.6l2.5-1.2zM547.2 149.5l1.5-.4l1 .1l1 .4l1.6 1.4l1.6 2.5l.9 2.5l.4 3l.1 3.5l-.3 4l-.9 4.5l-1 3.5l-1.6 4l-1.9 4l-2.7 4.5l-2.2 2.9l-2 1.7l-1.5 .4l-1-.4l-1-1.1l-.9-2l-.6-2.5l-.3-3l-.1-3.5l.2-3.5l.4-4l1.5-7.5l1-3.5l1.5-4l1.5-3l1.2-2l1.1-1.3zM624.8 72.5l3.4-.5l3 .3l3 .9l3 1.8l2.7 2.5l2.2 3l1.9 4l1 3.5l.5 4l0 4l-.6 4l-1.3 4l-1.5 3l-2.4 3.2l-2.5 2.3l-3 1.9l-2 .8l-2.5 .6l-2.5 .2l-2.5-.2l-3.5-.5l-9.4-2.3l-6.1-1.2l-5-.7l-5-.2l-6 .2l-12.5 1l-13.5 1.7l-7 0l-5 .4l-1.5-.3l-1.5-.8l-1-1.1l-.9-1.5l-.7-2l-.4-2l0-2l.2-2l.5-2l.8-1.6l1-1.4l1.5-1.2l2-.6l5.5-.4l16-2.6l11.5-2.7l9.1-2.5l5.6-2l6.8-3l5.7-3l8.3-5.1l2.5-1.2zM547.6 147l1.1-.4l1 0l2 .8l2 1.8l1.5 2.3l.8 2.5l.6 3.5l.1 4l-.4 4.5l-.9 4.5l-1.4 5l-1.6 4l-2 4l-3 5l-2.7 3.6l-2 1.8l-1 .5l-1 0l-1-.3l-.5-.4l-.8-1.2l-.9-2l-.6-2.5l-.4-3.5l-.1-3.5l.1-4l.5-4.5l.9-5l1.1-4.5l1.4-4.5l1.1-3l1.5-3l1.5-2.5l1.7-2zM626 70.5l3.2-.2l3.5 .6l3 1.2l3 2.1l2.7 2.8l2.1 3l1.6 3.5l1.3 4.5l.5 4.5l-.1 4l-.7 4.5l-1.2 3.5l-1.4 3l-2.4 3.5l-2.9 2.8l-3 2l-2 .9l-2.5 .7l-2.5 .4l-3 0l-5-.6l-16-3l-4.5-.4l-5-.1l-6.2 .3l-11 1l-13.8 1.9l-7 .2l-5 .4l-2-.3l-1.5-.8l-1.5-1.4l-1.3-2l-1.1-2.5l-.7-3l-.1-3l.3-3l.9-3l1.3-2.5l1.7-1.9l1.5-1l2.5-.7l5.5-.3l15-2.2l10.9-2.4l9.4-2.5l5.9-2l7-3l6.3-3l9.5-5.1l2-.7zM548.2 144.5l1-.3l1 0l1.5 .5l1 .5l1.5 1.2l1 1.1l1.4 2.5l.9 3l.5 4l0 4.5l-.5 4.5l-1 5l-1.5 5l-2 5l-2 4l-3.1 5l-3.2 4.3l-1.5 1.4l-1 .7l-1 .4l-1 0l-1.5-.8l-1-1.3l-.9-2.2l-.8-3.5l-.4-4l-.1-4l.3-5l.6-4.5l1-5.5l1-4l1.4-4.5l1.6-4l1.5-3l1.8-2.9l1.5-1.8z" fill="none" stroke="#686868" stroke-width="0.55" stroke-linejoin="round"/>
<path d="m528.8 104.3h0m4.4 9h0m-4.3 11.2h0m.6 73.1h0m1.4 6.7h0m5.7 -122.8h0m-1.3 2.3h0m4 2.2h0m-2.7 5.3h0m1.6 1.7h0m-3.1 .4h0m4.9 2.7h0m-2.7 4.9h0m-.2 3.3h0m-2 11.5h0m2.6 1.5h0m-1.4 2.2h0m-.3 2h0m-1.3 1.4h0m2.9 2.4h0m2.1 .1h0m-3.5 3.1h0m1.6 6.9h0m.7 6.1h0m.6 2.6h0m-3.5 23.8h0m.1 26.7h0m.7 2.3h0m2.4 .4h0m-.7 .3h0m0 .7h0m-.5 .5h0m.1 2h0m-3.3 .1h0m2 4.3h0m-.4 .4h0m4.3 -126.3h0m2.1 4.8h0m-1 1.9h0m1.3 .6h0m2.9 .1h0m-.6 1.4h0m.4 .1h0m-.3 .1h0m.2 1.2h0m.3 1.5h0m-3.3 0h0m1.6 .4h0m-.3 .2h0m-2.6 .2h0m2.5 .4h0m.1 1.3h0m1.7 1.8h0m-1.4 0h0m-.7 .2h0m1.9 .1h0m-.8 1.8h0m-.5 0h0m-1 1.1h0m-2.5 .1h0m1.6 .6h0m-1.2 .6h0m2.4 .2h0m-1.7 .2h0m-.3 3.4h0m2.2 .2h0m-.3 2.9h0m-1.4 2.4h0m2.3 2.5h0m-2.4 .3h0m1 .6h0m-1.3 .8h0m.9 .1h0m3.5 1.2h0m.2 .5h0m-4.5 .5h0m1.4 .7h0m1.8 .2h0m-3.5 2.2h0m1.7 .8h0m-.5 1h0m.2 3.2h0m2.5 .7h0m-3.7 .4h0m-1.1 .3h0m5.2 3.6h0m-1 .6h0m-.1 9.9h0m-1.8 1.2h0m.9 .2h0m.1 .2h0m2.1 1.9h0m-1.3 3.2h0m-1.1 1.2h0m.2 49.2h0m-.3 .1h0m2.2 .1h0m-3.6 .3h0m-1.4 .5h0m3 .3h0m2.3 0h0m-1.4 .3h0m-.3 1.3h0m-1 1.2h0m1.2 .9h0m-.8 0h0m1 .3h0m-.5 .4h0m-.9 .5h0m3.7 -119.9h0m.3 2.7h0m4.3 .9h0m.2 .9h0m-2.2 1.5h0m-2.6 .5h0m0 .7h0m5.2 .3h0m-4.4 1h0m2.4 1h0m1.2 .1h0m-4.8 .7h0m2.9 .2h0m-.8 .5h0m-1.6 .2h0m1.1 .3h0m-1.3 1.2h0m.3 21.1h0m2.7 2h0m-.4 1h0m-1.8 .3h0m.2 .5h0m.6 2.4h0m2.2 .6h0m.9 .3h0m-3.9 .1h0m.7 .1h0m.1 .2h0m-2 2.9h0m3 2.1h0m.5 5.9h0m1.3 1.8h0m-1.2 2.1h0m-2.7 .3h0m-.7 1h0m5.8 .4h0m-3.4 .5h0m-1.1 1h0m4 .1h0m.3 49.7h0m-4.1 1.6h0m-1.7 3.7h0m3.3 .8h0m2.8 -117.4h0m.7 .6h0m0 2.9h0m-.4 1h0m3 .1h0m-2.8 3.6h0m1.8 1h0m-2.1 2.2h0m5.1 .2h0m.1 25.6h0m.4 .2h0m-2.6 1.2h0m-1.9 .5h0m3.9 .1h0m-.1 0h0m-2.4 1.4h0m-1.7 .2h0m1.2 .4h0m2.5 .4h0m-3.3 .1h0m2.6 .4h0m-1.5 .5h0m-2 .8h0m.4 .4h0m3.6 .5h0m.8 .2h0m-.6 1.6h0m-2.2 1.2h0m.9 .7h0m2.4 1.4h0m-1.1 .3h0m-.9 .4h0m.6 .1h0m-2.3 0h0m.2 .1h0m-1.6 2.7h0m3.6 .1h0m.9 1.7h0m-2.8 1h0m2.2 3.4h0m-1.5 1.2h0m-.5 .1h0m1.2 .7h0m1 .1h0m-.2 0h0m.3 .1h0m-4.1 .6h0m2.7 1h0m-3.3 .1h0m5.7 1.3h0m-1.9 .2h0m-3.1 .3h0m.1 .3h0m3.5 .4h0m1.1 1h0m0 7h0m-2.2 19.8h0m.6 1.7h0m-.8 1.3h0m-2.5 5h0m1.7 4.2h0m-2.4 6.1h0m7.9 -110.6h0m.7 35.8h0m2.6 0h0m.1 .4h0m-2.4 .2h0m-2.6 1.2h0m0 0h0m2.3 2.2h0m0 .1h0m2.5 .1h0m-.3 .4h0m-4.5 .2h0m1.4 .4h0m-1.1 .4h0m.3 .2h0m.5 .2h0m3.3 .3h0m-1.5 .4h0m-1.3 .9h0m2.3 .8h0m-3.2 .9h0m-.4 .4h0m1.5 .5h0m1.9 1.6h0m.6 2.3h0m-1.4 .4h0m-.2 .7h0m-1.6 .6h0m1.9 .4h0m0 1.8h0m-3.1 .6h0m3.2 1.6h0m1.2 .8h0m-.4 1h0m-1.2 1.2h0m1.7 2.3h0m-4.2 .3h0m5.1 .7h0m-3.8 .4h0m1.3 .1h0m.6 .3h0m-.6 .5h0m-3.1 .7h0m3.4 .3h0m-2.1 1.2h0m-1.3 0h0m2 .4h0m2.8 .7h0m-4.4 .2h0m1.9 .8h0m-1.1 1.4h0m2.5 .3h0m-2.9 .5h0m.6 .7h0m1.5 .4h0m-2.3 .2h0m2.1 0h0m.3 .4h0m2.1 .1h0m-1.2 .3h0m-4 .1h0m3.5 1.4h0m2 2h0m-5.1 .6h0m4.5 1.4h0m.3 1h0m-2.3 1h0m-2.3 .4h0m4.2 4.5h0m-3.4 4.8h0m3 3.5h0m7 -97.7h0m-5 2.5h0m5.2 4.4h0m-.1 .9h0m-5.1 .9h0m2.7 5.2h0m1.1 26.5h0m-3 1.7h0m.7 1.6h0m2.8 .2h0m-.9 .1h0m.1 1.5h0m-2.6 .4h0m2.2 .6h0m-2 .2h0m3 .8h0m-2.2 3.7h0m1.5 .4h0m-2.4 .6h0m.6 .6h0m.1 .1h0m-1.4 1.1h0m2.4 2.1h0m-2.3 2.9h0m1.7 3.7h0m2.6 1.1h0m-.5 .4h0m-3.1 1h0m-.8 .9h0m1.7 1.3h0m3.5 1.9h0m-4.8 .1h0m4.3 1.4h0m-1 .5h0m-1.8 1.1h0m-1.8 1.4h0m.6 3.7h0m3.9 .9h0m-2.2 1.3h0m-.8 2h0m-1.8 1.9h0m5.2 .3h0m-3.7 .3h0m3 1.4h0m-3.4 .4h0m-.1 1.1h0m.4 4.2h0m.8 2h0m1.9 7.6h0m7.3 -98.7h0m-.5 36.5h0m-3.6 1.2h0m1 1.2h0m-1.3 .9h0m2.5 0h0m-1.3 1.2h0m2.2 0h0m-3 1.7h0m2.5 .4h0m-.5 1.4h0m1.3 .4h0m-4 .3h0m2.2 .4h0m1 0h0m-2.5 .5h0m-1.6 .3h0m.5 1h0m1.2 .6h0m2.5 3.2h0m1.2 .2h0m-1.5 .1h0m1.6 2.3h0m-3.8 2.3h0m.1 5.7h0m.4 .2h0m.6 5.6h0m1.9 1.9h0m-1.3 2.6h0m-2.9 1.6h0m-.4 .3h0m1.1 2.9h0m3.5 2.8h0m-3.3 .4h0m1.7 .1h0m2.5 2.1h0m-4.5 2.1h0m1.4 3h0m-2.5 3.9h0m2.8 10.8h0m7.2 -107.1h0m-3.5 3.5h0m3.5 37.6h0m.4 .5h0m.5 .8h0m-2.1 .1h0m-2.1 1.1h0m.2 .7h0m1.3 .4h0m.6 .4h0m-1.9 1.7h0m.7 .2h0m.2 .3h0m2.6 .1h0m-.9 .1h0m0 1.3h0m1.3 1.1h0m-1.6 .8h0m-.1 1.1h0m2.4 .4h0m-4.7 .2h0m-.1 .8h0m3.4 3h0m-3.1 .3h0m2.8 3.1h0m.9 .2h0m.7 .3h0m-5.3 .8h0m2.9 3.8h0m1.7 2.5h0m.7 .2h0m-5 2.5h0m3.2 2.5h0m-2.7 0h0m-.3 1h0m3.1 5.4h0m1.5 1h0m-4 .2h0m-.1 .8h0m.6 2.2h0m2.2 .1h0m.5 0h0m-.8 5.2h0m-1.1 12.2h0m.5 2.7h0m5.1 -104.1h0m-.6 5h0m4 7.7h0m-1.4 29.8h0m.1 1.6h0m-.9 0h0m-2 .7h0m2.1 1h0m1.6 1.6h0m-4.3 .3h0m0 0h0m2.6 .5h0m-3.4 0h0m.4 .3h0m4.7 .3h0m.1 .9h0m-1.9 1.4h0m-1.1 .2h0m-1.8 .9h0m1 .5h0m3.7 0h0m-2.3 .6h0m-2.1 .5h0m2.9 .4h0m1.2 1.1h0m-4.3 .7h0m1.2 .8h0m2.4 .1h0m-.3 .1h0m-2.2 .1h0m.2 .5h0m.6 .4h0m1.6 1.5h0m-3.1 1.2h0m2.5 3.6h0m-1.2 3.1h0m.2 2.5h0m-2.4 6.8h0m-.1 1h0m2.3 5.9h0m-.1 5.5h0m-1.5 2.1h0m4.3 1.7h0m0 3.1h0m-1.6 10.4h0m6.8 -98.7h0m1.6 1h0m-.7 2.2h0m-3 29.9h0m1.8 .9h0m-2.1 .7h0m-.4 1.9h0m-.4 .4h0m3 .3h0m.1 .1h0m-2 .2h0m.9 .1h0m2.8 0h0m-1 .2h0m.1 .3h0m-.8 1.1h0m-3.2 1.9h0m4 .3h0m-4.4 0h0m5.4 .4h0m-4.6 2h0m3.4 .1h0m-1 .4h0m.6 .2h0m-2.8 .7h0m-.8 2h0m2.7 2.8h0m.1 1.5h0m-2.8 3.1h0m3.6 15h0m-3.6 .2h0m.5 8h0m0 7.2h0m1.1 3.8h0m-2 .4h0m1.2 0h0m9.9 -93h0m-4.5 .5h0m1.6 .5h0m-2.6 4.1h0m4.5 .1h0m-.1 .6h0m-3.5 33h0m2.9 .7h0m.3 .2h0m-3 .1h0m.6 1h0m-.5 1.5h0m3.8 .1h0m-3.2 .5h0m.3 2.2h0m2 0h0m.9 .4h0m-4.3 0h0m2.1 1h0m2.2 1.1h0m-2.6 2.5h0m.3 0h0m-2.4 .4h0m1.2 0h0m-.8 .1h0m.3 3.4h0m4.1 14h0m-5 1.8h0m1.1 14.5h0m4.5 1.6h0m4.3 -90.2h0m1.2 1.6h0m-2.1 41h0m-1.9 2.5h0m2.7 .2h0m-.9 .4h0m2.6 .8h0m-2.4 .1h0m2.2 .6h0m-3.2 .3h0m-.2 .2h0m3 .1h0m-2.1 .6h0m-2.9 1.4h0m4.2 .2h0m-3.2 1.8h0m2.8 0h0m-2.9 1.5h0m4.5 .8h0m-1.4 2.4h0m1.4 1.3h0m-2.6 17.9h0m-.5 3.4h0m-1.6 4h0m2.8 7h0m-3.3 2.6h0m10.9 -91.4h0m-1.1 .2h0m-3.2 1.2h0m2.8 .9h0m2.1 0h0m-5.5 1.9h0m1.7 37.2h0m-.7 .7h0m1.6 4.3h0m-1.3 .2h0m1.1 .3h0m2.5 1.3h0m-3.1 1.8h0m-1 .1h0m4.9 .1h0m-3.9 .8h0m0 1.2h0m2.5 4.3h0m3.8 -58.2h0m-.9 1.2h0m3.4 0h0m-2.9 .1h0m.6 1.6h0m-1.8 1h0m2.4 41.9h0m-2.2 0h0m2.9 .6h0m.2 .1h0m.9 .2h0m-3.1 2.3h0m-1.5 .9h0m-.3 .3h0m3.7 2.6h0m-1.4 .1h0m-.3 1.2h0m3.3 1.1h0m-2.6 1h0m-1.5 .3h0m-.8 2.1h0m3.8 2.6h0m-.5 2.3h0m.1 17.9h0m-2.3 50.5h0m7.2 -132.4h0m-.6 .2h0m2.6 46h0m-.1 0h0m1.4 1.1h0m-1.1 1.3h0m-1.4 .3h0m-.7 .2h0m2 1h0m-4.2 .2h0m2.2 .3h0m3.1 0h0m-2.9 .6h0m2 8.7h0m-4.1 17.1h0m2 5.5h0m.5 1.2h0m2.9 -85.4h0m3.1 48h0m1.5 .2h0m-.2 1.5h0m.2 1.5h0m-3.2 1.9h0m3.2 2.7h0m-3.6 2.1h0m.2 .8h0m7.9 -58.5h0m.2 .6h0m2.1 47.3h0m-2.8 .1h0m-2.7 .8h0m.8 2.9h0m0 .1h0m-.4 2.6h0m-.1 .9h0m3.8 .4h0m1.3 .5h0m-4.6 0h0m.7 .2h0m.5 .1h0m-.4 0h0m-1.2 1.3h0m5.7 -56h0m.8 .4h0m1.5 1.3h0m2.7 2.2h0m-1.2 36.6h0m.5 .7h0m-3.1 1.2h0m2.8 .4h0m-3.7 .1h0m1.1 1.1h0m3 3.3h0m-3.1 .5h0m-1 .2h0m1.6 .8h0m-1.6 6.5h0m8.4 -56.7h0m2.4 3.7h0m-4.1 1.8h0m.8 5h0m1.3 .8h0m2.5 2.5h0m-1.6 2.2h0m.4 1.1h0m1 5.7h0m-1.1 5.3h0m-3.5 10.8h0m2.8 2.6h0m-2.5 .4h0m2 3.5h0m-3.1 3.7h0m3.2 2.3h0m-.4 .5h0m-.6 .6h0m5.5 -47.9h0m-1 6.3h0m.9 2.9h0m-.8 3.1h0m.2 2.2h0m.9 2.4h0m.8 2.9h0m-.7 2.9h0m-1.6 .5h0m3.2 2.8h0m-2.4 3.9h0m-.1 12.9h0" fill="none" stroke="#000" stroke-width="1.25" stroke-linecap="square"/>
<rect x="518.2" y="52" width="166.1" height="166.3" stroke="#333" stroke-width="0.9" fill="none"/>
<line x1="602.1" y1="52" x2="602.1" y2="218.3" stroke="#000" stroke-width="1.3" stroke-linecap="butt"/>
<line x1="515.7" y1="122" x2="685" y2="122" stroke="#000" stroke-width="1.3" stroke-linecap="butt"/>
<rect x="516.2" y="52" width="2" height="166.3" fill="#b5b5b5"/>
<path d="M516.2 69.5h2M516.2 110.5h2M516.2 153.5h2M516.2 182.5h2M516.2 210.5h2" stroke="#555" stroke-width="1.2" fill="none"/>
<path d="M516.2 98.5h2M516.2 91.5h2M516.2 85.5h2M516.2 81.5h2M516.2 78.5h2M516.2 75.5h2M516.2 73.5h2M516.2 71.5h2M516.2 140.5h2M516.2 133.5h2M516.2 127.5h2M516.2 123.5h2M516.2 120.5h2M516.2 117.5h2M516.2 114.5h2M516.2 112.5h2M516.2 56.5h2M516.2 162.5h2M516.2 168.5h2M516.2 172.5h2M516.2 175.5h2M516.2 177.5h2M516.2 179.5h2M516.2 180.5h2M516.2 185.5h2M516.2 186.5h2M516.2 187.5h2M516.2 189.5h2M516.2 192.5h2M516.2 196.5h2M516.2 202.5h2M516.2 214.5h2" stroke="#777" stroke-width="1.0" fill="none"/>
<rect x="516.2" y="178" width="2" height="9.3" fill="#000"/>
<path d="M532.5 218.3v4.3M551.5 218.3v4.3M590.5 218.3v4.3M630.5 218.3v4.3M668.5 218.3v4.3M542.5 218.3v4.3" stroke="#111" stroke-width="1.2" fill="none"/>
<path d="M563.5 218.3v2.5M570.5 218.3v2.5M574.5 218.3v2.5M578.5 218.3v2.5M581.5 218.3v2.5M584.5 218.3v2.5M586.5 218.3v2.5M588.5 218.3v2.5M602.5 218.3v2.5M609.5 218.3v2.5M614.5 218.3v2.5M618.5 218.3v2.5M621.5 218.3v2.5M624.5 218.3v2.5M626.5 218.3v2.5M628.5 218.3v2.5M641.5 218.3v2.5M648.5 218.3v2.5M653.5 218.3v2.5M657.5 218.3v2.5M660.5 218.3v2.5M662.5 218.3v2.5M665.5 218.3v2.5M667.5 218.3v2.5M680.5 218.3v2.5M547.5 218.3v2.5M549.5 218.3v2.5M539.5 218.3v2.5M537.5 218.3v2.5M535.5 218.3v2.5M524.5 218.3v2.5" stroke="#444" stroke-width="1.0" fill="none"/>
<rect x="540.1" y="218.3" width="4.6" height="4.4" fill="#000"/>
<text x="544.5" y="237.4" font-size="9.5" font-weight="bold" text-anchor="middle" fill="#111">0</text>
<text x="599.5" y="237.4" font-size="9.5" font-weight="bold" text-anchor="end" fill="#111" textLength="10.9" lengthAdjust="spacingAndGlyphs">10</text>
<text x="599.7" y="231.4" font-size="9.8" font-weight="bold" text-anchor="start" fill="#111">3</text>
<text x="639.9" y="237.4" font-size="9.5" font-weight="bold" text-anchor="end" fill="#111" textLength="10.9" lengthAdjust="spacingAndGlyphs">10</text>
<text x="640.1" y="231.4" font-size="9.8" font-weight="bold" text-anchor="start" fill="#111">4</text>
<text x="678" y="237.4" font-size="9.5" font-weight="bold" text-anchor="end" fill="#111" textLength="10.9" lengthAdjust="spacingAndGlyphs">10</text>
<text x="678.2" y="231.4" font-size="9.8" font-weight="bold" text-anchor="start" fill="#111">5</text>
<text x="595.9" y="42.4" font-size="16.2" font-weight="bold" text-anchor="middle" fill="#000">SpFN +ALFQ</text>
<text x="650.6" y="69" font-size="16" text-anchor="middle" fill="#111">64%</text>
<path d="M309.7 168.3V257.2H478.4" stroke="#000" stroke-width="1.5" fill="none"/>
<path d="M309.7 162.3l-4.2 8.2h8.4z" fill="#000"/>
<path d="M484.4 257.2l-8.2 -4.2v8.4z" fill="#000"/>
<text x="484.7" y="261" font-size="15.7" font-weight="bold" text-anchor="start" fill="#000">IgD</text>
<text x="318" y="132" font-size="15.7" font-weight="bold" text-anchor="middle" fill="#000" transform="rotate(-90 318 132)">B220</text>
<path d="m353.8 398.9h0m-4 2.5h0m3.4 7.6h0m-1.2 2.9h0m-1.7 .9h0m2 .1h0m1.5 2.6h0m-2 .6h0m-.3 .3h0m.2 .9h0m1.3 .3h0m.2 .4h0m-2.9 1.5h0m1.5 2.2h0m-1.8 5.9h0m4.7 -29.1h0m3.8 1.1h0m1.2 1.3h0m-.9 1.5h0m-1.4 .8h0m1.8 .8h0m0 1.2h0m-1.5 .6h0m2 2.2h0m-.3 .7h0m-3.4 .6h0m-1.1 .4h0m4.5 .5h0m-3.4 1.1h0m1.8 .4h0m.9 .2h0m0 .1h0m-4.2 .5h0m-.1 .8h0m4.2 .6h0m.7 .2h0m-1.8 .2h0m-2.6 .2h0m3.3 0h0m-1.8 .2h0m3.3 0h0m-5.1 1.1h0m2.5 .4h0m-.6 .8h0m.3 .2h0m-.4 .4h0m2.4 .9h0m.9 .1h0m-5 .3h0m4.3 0h0m-.5 .2h0m-1.1 .1h0m2.2 .3h0m-2.6 0h0m1.9 .1h0m-.4 .4h0m1.2 .2h0m-.9 0h0m-1.6 .2h0m-.5 .2h0m2.8 .5h0m.4 1.5h0m-1.6 .5h0m.9 .6h0m-3.9 .2h0m-1.2 .9h0m2.5 .7h0m.2 .2h0m2.5 .5h0m-1.1 2.7h0m.5 2.2h0m6.7 -78.4h0m-2.6 13.6h0m.8 3.9h0m.8 9h0m1 3.2h0m-1 3h0m-.6 9.1h0m-3.6 3.7h0m2.9 2.4h0m2.9 5.4h0m-3.8 .1h0m-1.4 0h0m2.2 .2h0m2.9 .3h0m-4.3 .6h0m.4 0h0m2.5 .1h0m0 0h0m-.5 .1h0m1.9 .2h0m-4.5 .5h0m3.4 .3h0m-3.9 0h0m2.1 .3h0m-1.1 0h0m3.6 .5h0m-.1 0h0m-.4 .3h0m.1 .1h0m-1.3 .2h0m-3 .6h0m3.5 .3h0m.9 .1h0m-.5 .2h0m-1.8 0h0m-1.6 .1h0m3.2 .1h0m-2.3 0h0m-1.9 .1h0m1.9 .2h0m2 .2h0m1.4 0h0m.1 .2h0m-.3 0h0m-1.6 .2h0m1.2 .2h0m-2.1 .2h0m2.1 0h0m-1.8 0h0m.3 .1h0m1.3 .1h0m-1 .2h0m-1.9 .2h0m.5 .2h0m2.6 0h0m-1.4 .1h0m1.4 .1h0m-.3 .2h0m-3.8 0h0m-.5 .1h0m3.2 .2h0m-.6 0h0m2 .1h0m-2.8 .1h0m2.6 .1h0m-1.2 0h0m1.8 0h0m-4.1 .1h0m2.5 .2h0m1.2 .4h0m-.5 .1h0m-.5 0h0m-3.6 0h0m4 .1h0m-.7 0h0m.7 0h0m-3.9 0h0m1.6 .2h0m2.6 .2h0m-2.2 .1h0m-2.3 .1h0m2.4 .3h0m.6 0h0m1.4 0h0m-2.4 0h0m-1.3 .1h0m.4 .2h0m3.7 .2h0m-.5 .1h0m.5 .5h0m-3.5 0h0m1.4 .1h0m-.8 .1h0m2.9 .2h0m-.7 .1h0m1.2 .5h0m-3.7 .1h0m-1 .2h0m4 .1h0m-3.8 0h0m4.4 0h0m-.2 .3h0m0 0h0m-2.3 .1h0m1.4 .4h0m-.8 .1h0m2.1 0h0m-3 .1h0m1.1 0h0m-2.8 0h0m2.2 .3h0m2.3 0h0m-.7 .3h0m-3.6 .4h0m2.4 .1h0m1.8 .2h0m-1.5 .1h0m1.9 .2h0m-.2 .2h0m-5.2 0h0m4.9 .2h0m-.3 0h0m-2.7 .1h0m2.5 0h0m.7 0h0m-.3 .4h0m-.8 .2h0m1.1 .4h0m.3 .4h0m-1.1 .2h0m.1 0h0m.6 .1h0m-2.7 .4h0m2.1 0h0m-2.2 .2h0m1.1 .1h0m1.2 .2h0m.9 .2h0m0 0h0m-.5 0h0m-3.8 .4h0m0 .4h0m0 .3h0m2.7 .7h0m-1.5 .7h0m2.2 .4h0m-1.2 .5h0m1 1.2h0m-2.7 3.2h0m7.4 -92.3h0m2.5 6.6h0m0 12.5h0m-1 1.6h0m.5 0h0m-3.1 9.2h0m-.2 1.1h0m4 5.6h0m-5.8 .2h0m.3 2.4h0m4.4 1h0m0 2.8h0m.1 .5h0m-4 1.9h0m3.9 2.3h0m-2.6 5h0m2.7 .1h0m-4 .9h0m2.6 .9h0m-.5 .1h0m.3 .5h0m.4 .6h0m.6 2.5h0m1.4 .3h0m0 .9h0m-.3 .9h0m-3.3 2h0m.6 .2h0m-1.1 .3h0m0 .1h0m3.9 .1h0m-2 1.9h0m-1.5 .3h0m-1.1 .3h0m4.6 .3h0m.1 .1h0m-.2 .1h0m-4.8 .1h0m1.8 0h0m1.6 .3h0m1.2 .3h0m-4.8 .2h0m.6 .1h0m4.2 .4h0m-.4 .3h0m.4 .1h0m-.7 .1h0m-3.6 0h0m4.2 .1h0m-2.3 0h0m.5 .1h0m.1 0h0m1.8 .2h0m.2 .1h0m-2 .2h0m-2.3 0h0m3 0h0m1.1 .1h0m-1.9 .2h0m.4 .1h0m0 0h0m-3.7 0h0m3.4 .1h0m-2.7 .1h0m1.4 0h0m.1 .1h0m-2.3 .2h0m.8 0h0m1.9 0h0m-.2 0h0m.6 0h0m-2 .2h0m1.6 0h0m-1.9 0h0m1.6 .1h0m-.3 .1h0m-1.8 0h0m1.2 0h0m-1.1 .3h0m.6 0h0m-.8 .3h0m.6 .4h0m-.3 .3h0m-.5 9.7h0m.9 .5h0m.2 .2h0m.1 .4h0m.4 0h0m-1.2 .2h0m-.2 .2h0m2 0h0m0 0h0m-1.2 .2h0m.6 .3h0m.1 .2h0m.3 .2h0m-.5 .1h0m1 0h0m1.1 0h0m-.3 0h0m-.7 .1h0m1.3 .1h0m-2.5 .2h0m2.5 .1h0m-.8 .1h0m1.6 .3h0m.5 .1h0m-.7 .1h0m.9 .2h0m-2.3 0h0m.2 .1h0m-1.8 .3h0m4.3 .1h0m-2.2 .7h0m-2 .1h0m1.5 .1h0m.8 0h0m-2.4 0h0m0 .2h0m2 .2h0m-2.3 0h0m1.4 .2h0m-.5 0h0m1.6 .2h0m2.2 .1h0m-.1 .2h0m-1.1 0h0m1 .2h0m-.3 .2h0m-.8 .2h0m-3.6 0h0m4 1.2h0m-4.2 .3h0m.5 .7h0m-.5 .7h0m3.9 .6h0m.8 1.2h0m-2.5 .8h0m2.2 4.5h0m1.1 -86.5h0m4.9 3.3h0m-.9 5.5h0m-4.1 4.7h0m.7 2.3h0m4.8 2.3h0m-4.8 6.9h0m4.8 .8h0m-5.1 1.8h0m2.4 5.5h0m1.7 2.6h0m.5 .6h0m-4.7 2.3h0m5.2 1h0m-.5 .4h0m-4.9 2.1h0m4.1 1h0m-2.8 2.1h0m3.8 .9h0m-4.5 1.6h0m2.9 .2h0m-.8 .3h0m2.2 .6h0m-4.9 .2h0m1.5 0h0m2.3 .1h0m-4 .1h0m5.2 .2h0m-4.5 .4h0m1.8 .2h0m1.4 .3h0m-.8 .2h0m-1.5 .4h0m2.3 0h0m-3.4 .1h0m1 .1h0m1.5 .1h0m.8 0h0m-.9 0h0m.2 .3h0m1.6 0h0m-3.7 0h0m4.4 0h0m-1.7 .2h0m-.2 0h0m.2 0h0m.2 .3h0m-1.4 .1h0m.1 0h0m.2 .1h0m1.6 .1h0m-.6 .1h0m-1.9 .1h0m3.3 0h0m-3.7 .3h0m1.1 .4h0m.2 .3h0m1.4 .1h0m.5 .1h0m-1.4 .6h0m-.2 .1h0m-1.1 .2h0m-.6 .1h0m4.1 .1h0m-3.8 .1h0m-.4 .1h0m3.7 0h0m-4.8 .1h0m.7 0h0m-.1 0h0m.1 .2h0m2.2 .2h0m0 .2h0m.1 .2h0m-2.3 .1h0m-.8 .3h0m.3 .3h0m.4 16.9h0m-.5 .7h0m-.2 0h0m1.6 .2h0m.6 .1h0m2.6 .1h0m-3.4 0h0m-1.1 .1h0m2.4 .2h0m-.6 .1h0m1.3 .3h0m-3 .1h0m2.1 0h0m1.2 .1h0m-.1 0h0m-3.4 .2h0m4.7 0h0m.8 .1h0m-.4 0h0m-1.3 .4h0m1.5 .1h0m-.6 .1h0m-2.1 0h0m0 0h0m.1 .2h0m-.7 0h0m.3 .2h0m-1.7 .6h0m-.2 0h0m-.5 .1h0m0 0h0m4.3 0h0m-.9 .2h0m.9 .1h0m-.6 0h0m-1.4 .1h0m3.1 .1h0m-2.1 .1h0m-3 .3h0m4.5 .1h0m-1 0h0m1.9 0h0m-3.7 .1h0m1 .2h0m2 0h0m-3 0h0m-1.3 .5h0m2.3 0h0m.9 .2h0m-3.8 .1h0m1.1 2.5h0m5.2 -91.3h0m1.9 20.6h0m-.4 5.4h0m-1.6 4.8h0m3.9 .7h0m-3.9 7h0m.8 .1h0m2.5 .3h0m.8 3.2h0m-1.6 3.4h0m-2.1 .1h0m.9 .8h0m.7 .2h0m-2.6 1.9h0m5 .3h0m-1.6 1.4h0m.1 .3h0m-2.3 .6h0m4.6 2.3h0m-5.2 0h0m.4 1h0m4.8 .3h0m-1.7 .8h0m.6 1.1h0m.9 .3h0m-4.3 .2h0m2.9 .6h0m.5 .3h0m1.1 .3h0m-.1 .3h0m-.9 .5h0m-3 0h0m-.6 .1h0m-.8 0h0m1.9 .5h0m-.2 .3h0m.1 .2h0m-.9 0h0m1.5 .5h0m1.6 .1h0m-3.7 .1h0m1.1 0h0m1.3 .1h0m0 .1h0m2.6 .3h0m-2 .5h0m-3.1 .1h0m5.2 .2h0m-4.2 .1h0m4.4 .3h0m-5.8 .1h0m2.3 .1h0m-.8 .1h0m-1.7 0h0m.5 .1h0m.2 0h0m4.6 .1h0m-1.1 .2h0m-1.6 0h0m1.5 .2h0m1.2 .1h0m-4.9 .2h0m5.1 .1h0m-.8 0h0m-.2 .1h0m.4 0h0m-1.8 .1h0m.3 0h0m1.3 .1h0m-1.3 0h0m-.7 .1h0m-.4 0h0m2.6 .1h0m-1.1 0h0m-.6 0h0m1.7 .2h0m-.4 0h0m-.7 19.1h0m.2 0h0m.3 0h0m-1.1 0h0m-2.8 .1h0m.7 0h0m.8 0h0m2.9 .1h0m.5 .2h0m-1.4 0h0m0 .1h0m-.7 0h0m-.3 0h0m2.8 0h0m-.6 0h0m-4.5 .1h0m-.2 .2h0m.6 0h0m.9 .1h0m-1.3 .1h0m.1 .3h0m2.5 0h0m-1 0h0m-.4 .1h0m-1.6 0h0m4.5 .2h0m-2.3 .1h0m-1.5 0h0m1.5 .1h0m-.8 0h0m1.2 .4h0m-1.3 0h0m-.7 .2h0m1 .1h0m.8 .4h0m3.1 0h0m-1 .1h0m-3.2 0h0m2 .2h0m2 0h0m-3.6 0h0m.8 .1h0m-.5 .1h0m.8 .4h0m.4 .1h0m1.2 .9h0m-.3 .5h0m-.8 .3h0m-3.3 .2h0m1.7 1.3h0m1.9 1.1h0m1.7 .5h0m-3.3 3.8h0m6.2 -87.9h0m3.1 7.7h0m-.2 5.7h0m-2.8 4.6h0m.3 2.7h0m-1.4 .8h0m-.6 5.7h0m3.8 1.6h0m-2.2 2.6h0m-1.1 .7h0m.4 .9h0m.7 .6h0m.3 .8h0m.8 3.5h0m-2 0h0m3.6 1.1h0m-1.9 .8h0m-1.6 .7h0m-1.1 .8h0m1.9 0h0m2.9 0h0m-4.1 .6h0m3.9 .2h0m-2.2 .4h0m2.5 .7h0m-1.5 4.4h0m.3 .3h0m-3.4 0h0m-.6 .1h0m1.9 1.1h0m2.5 .5h0m-3.1 .2h0m4.1 .1h0m-3.8 .7h0m-1.5 .1h0m3.4 .5h0m-1 .2h0m2.3 0h0m.3 .2h0m-5.1 .5h0m3.4 .1h0m-1 .4h0m-1.6 .2h0m2.1 .9h0m-.9 0h0m-.4 .4h0m2.9 .2h0m.1 .1h0m-4.6 .1h0m.9 .1h0m4.1 0h0m-5.1 .1h0m3.8 .1h0m-1.8 .3h0m.1 .2h0m-1 .1h0m.8 .1h0m-1.4 .3h0m4.2 .1h0m-1.9 .1h0m.5 .2h0m-3.1 .1h0m3.1 .1h0m-.4 0h0m-.2 0h0m2.3 0h0m-2 .3h0m2.4 0h0m0 .1h0m-1.4 18.1h0m-.5 .1h0m.6 .1h0m-.9 .1h0m-.6 .1h0m.9 .1h0m.6 0h0m.1 0h0m-3.8 .2h0m.7 .2h0m3.2 .1h0m.8 .2h0m-1.3 .2h0m-1.6 .1h0m3.5 .1h0m-5.7 .3h0m4.5 .1h0m-1.8 .1h0m2.1 0h0m-4.5 0h0m2.5 .1h0m2.4 0h0m-2.7 0h0m.4 .1h0m1 .3h0m-3.5 .4h0m4.8 .1h0m-1.5 .4h0m.6 .1h0m-2.9 .4h0m1.9 0h0m1.1 .3h0m-4.4 .1h0m1 .2h0m.6 .3h0m0 .2h0m2.5 1.2h0m2.4 -89.3h0m3.8 7.6h0m-2.8 5h0m-.3 .9h0m.6 1.2h0m-.2 5.2h0m4.1 9.3h0m-2.2 .5h0m-2.1 .5h0m.8 .1h0m.2 5h0m2.5 2h0m-1.5 .3h0m-2.2 .8h0m2.4 0h0m-1.1 1.6h0m1.8 .5h0m-1.7 3h0m0 .1h0m2.2 .7h0m-4.7 .4h0m5.6 .8h0m-5.4 1.4h0m5.5 .5h0m-4.8 .5h0m2.3 .1h0m1.4 .1h0m0 1.6h0m.9 1.6h0m-4 .3h0m-.1 .3h0m-1.5 .1h0m.6 1.7h0m1.5 1.1h0m-.4 .5h0m2.7 .1h0m-1.3 .1h0m.4 .1h0m1.8 .6h0m.6 .4h0m-1.9 1.9h0m-1.8 .2h0m.2 .5h0m2.2 .3h0m-4.7 .3h0m4 1.4h0m-.2 .3h0m1.3 .2h0m-1.5 .1h0m-1.6 1.2h0m1.6 0h0m-2.9 .1h0m3.8 .3h0m-3 .1h0m.3 0h0m.4 0h0m1.4 .1h0m-.7 .4h0m.1 .1h0m-1.6 .1h0m3.6 .1h0m.2 .1h0m-4.7 0h0m5.5 .1h0m-2.4 0h0m-.1 0h0m-2.2 .1h0m-1 .1h0m.3 0h0m5.3 0h0m-4.5 .2h0m-.2 0h0m.6 .1h0m3.1 .2h0m.4 0h0m0 .1h0m-3.7 0h0m-.2 0h0m2.6 .1h0m1.3 .2h0m-.2 16.5h0m.8 .1h0m-.4 .2h0m-3.5 .2h0m2.7 0h0m-3.2 0h0m2.3 .1h0m0 .1h0m-2.9 .3h0m2.3 .2h0m.7 0h0m-1 .1h0m2.9 0h0m-.9 .2h0m-2.9 .1h0m-.1 0h0m1.1 .1h0m-1 .4h0m3.8 .1h0m-1.5 0h0m-1.5 .1h0m-2.2 .3h0m5.3 0h0m-1.4 .3h0m-1.3 .2h0m-3 0h0m3.1 .1h0m2 0h0m-3.2 .7h0m.3 .3h0m-1.6 .2h0m.4 .2h0m.5 .1h0m-.4 .2h0m3 0h0m-1.2 .9h0m-.2 .3h0m2.1 2.7h0m.7 .7h0m1.3 -74.9h0m-.5 1.2h0m4.4 2.7h0m-.3 1.6h0m-2.8 2.6h0m.3 .5h0m0 3.1h0m2.5 .3h0m-.2 .4h0m-2.4 1h0m-1.1 4.6h0m2.3 2.2h0m2.5 .4h0m-3 3.5h0m1.3 .9h0m0 .6h0m-2 .8h0m3.5 .1h0m-5.2 .7h0m3.2 .2h0m-1.9 1.5h0m.8 0h0m-1.6 .3h0m2.1 .9h0m.2 .9h0m-1 4.7h0m-1.3 .3h0m.3 .3h0m1.4 .2h0m-1 .7h0m.4 .5h0m-1 .1h0m1 .6h0m1.1 .9h0m-2.7 .1h0m2.2 .8h0m1.7 .2h0m.7 .6h0m0 .4h0m-1.3 .9h0m-1.9 .4h0m3.6 .3h0m-5 .5h0m3.2 .3h0m-3.1 .2h0m3 .3h0m-1 1.1h0m2.3 0h0m-1 .6h0m-1.7 .2h0m.8 .2h0m1.5 0h0m-2.3 .3h0m-.1 0h0m.4 .1h0m2.6 .1h0m-4.4 .1h0m.3 .1h0m-.5 0h0m3 .1h0m2 0h0m-3.9 .4h0m-.9 .2h0m1.3 .1h0m2.1 .2h0m-3.2 0h0m2.9 .2h0m-3.4 0h0m.3 0h0m4.2 0h0m-3.8 .3h0m0 .1h0m1.8 0h0m1.6 .1h0m-1.6 0h0m-2.4 0h0m1.6 .3h0m1.4 .1h0m1.7 0h0m-4.1 .2h0m.1 .1h0m3 .1h0m1.8 0h0m-1.7 0h0m-1.7 0h0m1.1 0h0m1.1 0h0m-.2 .3h0m-.3 0h0m-.4 .1h0m-.2 14.8h0m-.8 .1h0m2.6 .2h0m-1.8 .3h0m2.1 0h0m-5.3 0h0m3.9 0h0m.1 .5h0m1.4 0h0m-.8 .1h0m-2 0h0m1 .1h0m-3.3 .2h0m2.8 .2h0m.6 .2h0m-2.4 .1h0m-.5 0h0m3.4 .1h0m1.4 .2h0m-4.6 0h0m4.2 .2h0m-3 .4h0m0 0h0m.6 .1h0m-1.4 .1h0m.2 .3h0m-.4 .2h0m1.7 1h0m2.2 .1h0m.4 .9h0m-1.9 1.4h0m-1.7 .4h0m5.9 -86.4h0m1.9 2.9h0m-1 8.2h0m-2.1 6.3h0m2.4 4.7h0m.4 3.6h0m-2.9 2.1h0m1.7 .4h0m-.5 .7h0m-.3 .5h0m3.4 .1h0m-1.9 2.2h0m-2.1 2.8h0m3.7 2.7h0m.1 .7h0m-3.8 1.6h0m1.3 2.1h0m3 2.3h0m.3 1.3h0m-5 1.2h0m3.7 2.6h0m-.3 3.5h0m-2.5 .1h0m2.6 .7h0m1.3 .2h0m-2 .6h0m-3.3 .7h0m.9 1.1h0m.5 1.3h0m.2 .4h0m2.4 .3h0m-.3 0h0m.6 .7h0m-4 .5h0m3.5 .2h0m.5 .3h0m-4.2 .2h0m5 .4h0m-4.1 .1h0m4.4 .1h0m0 .7h0m-4.8 .2h0m3.9 .1h0m.4 .2h0m-4.6 .1h0m3 .1h0m-2.1 0h0m4.5 .1h0m-.5 .1h0m-2.1 .2h0m-1.4 .1h0m1.9 0h0m-2.2 0h0m2.5 .2h0m-1.4 .1h0m2.5 0h0m.1 .3h0m.4 .2h0m-2.3 0h0m-2.3 .1h0m-.9 .2h0m4.3 .1h0m-1 0h0m.6 .2h0m-3.6 0h0m2.3 0h0m-.8 .2h0m0 .1h0m-.1 0h0m-.3 .2h0m-1.3 0h0m.5 .1h0m1.2 0h0m.6 .1h0m1.7 .3h0m-.8 0h0m-1.4 0h0m.7 .2h0m2.6 0h0m.4 .1h0m-.7 .1h0m.4 0h0m-1.2 0h0m-.5 .1h0m.5 .1h0m-.1 .1h0m.7 12.1h0m0 .1h0m.7 .1h0m-2 .4h0m1.2 .1h0m-.9 .2h0m-3.3 .2h0m-.5 .1h0m1.1 .3h0m3.2 .1h0m-.2 .1h0m-2.6 0h0m.3 0h0m1.2 .1h0m-2.8 .3h0m4.1 0h0m-1.5 .1h0m-2.6 0h0m1.5 .1h0m.8 .1h0m-1.3 .2h0m.4 .4h0m0 .3h0m-.2 .4h0m.8 .8h0m-1.9 .3h0m5.2 1.2h0m-4.5 0h0m.3 1h0m.2 .5h0m-1.1 .2h0m9 -80.2h0m.5 4.5h0m0 3.2h0m-3.6 12.2h0m.8 .5h0m-1 5.4h0m4.9 .4h0m-1.4 2.8h0m-2 2.6h0m-.8 2.9h0m1.3 .6h0m.3 6.8h0m1.4 .2h0m-2.6 2.9h0m1.1 2.3h0m2 .6h0m.1 1h0m-4.5 .3h0m5.8 .4h0m-.7 3.9h0m-4.8 1.2h0m1.6 .1h0m-1 1.5h0m-.5 0h0m3.6 .6h0m2 .6h0m-3.9 0h0m1.4 .1h0m-1.8 .1h0m-.5 0h0m4.7 .8h0m-.6 .1h0m-3.3 .1h0m3.3 .1h0m-1.5 .2h0m-2.7 .1h0m.1 .1h0m2 .4h0m-2.5 0h0m2.8 .2h0m.5 .1h0m-2.6 0h0m0 .1h0m.2 0h0m1.2 .1h0m-1.4 .1h0m4.3 0h0m-4.1 .2h0m-.6 0h0m1.4 .2h0m-.4 0h0m-1.5 0h0m1.4 .1h0m3.1 0h0m-2.8 0h0m.1 .1h0m.3 0h0m3.2 0h0m-5.1 .1h0m-.6 0h0m4 .2h0m-2.3 .1h0m2.3 .1h0m1.7 .1h0m-2.3 .1h0m-.3 .1h0m1 .2h0m-1.5 .1h0m1.8 .1h0m0 0h0m-.4 .3h0m1 .2h0m.4 8.1h0m0 .5h0m-3 .4h0m2.2 0h0m1.2 .1h0m-1.3 .1h0m-.7 .1h0m-.2 .1h0m1.3 0h0m-1.4 0h0m-.3 0h0m-1.5 .1h0m4 0h0m-5.1 0h0m2.4 .1h0m-2.5 .1h0m2.3 .2h0m2.4 0h0m-1.6 .1h0m-1.4 .2h0m-.2 .2h0m-1.2 .1h0m.8 0h0m2.7 .2h0m-3.1 .3h0m3.7 .2h0m-.6 .1h0m.4 .1h0m0 .1h0m-2.8 .1h0m1.3 0h0m-.8 .1h0m1.8 0h0m-2.6 0h0m2.2 .3h0m-.4 .3h0m.3 .1h0m.7 .4h0m-2.8 .1h0m1.6 .1h0m1.9 .5h0m-4.9 0h0m5.1 1.5h0m-.3 .1h0m5.7 -77.8h0m-3.3 11.9h0m4 5.5h0m-1.8 9.3h0m-1.2 5.8h0m1 5.1h0m.1 0h0m-2.2 .2h0m3.7 .4h0m-2.6 3.4h0m-2 2.1h0m3.1 .7h0m.9 .5h0m-1 2.8h0m-2.9 1.1h0m1.9 .1h0m1.3 .9h0m1.9 .2h0m-4.8 2.5h0m.9 .6h0m4 .8h0m-1 1h0m-4.5 .2h0m2 1.3h0m-.8 .2h0m3.1 0h0m-1.1 .1h0m.8 .7h0m-4 0h0m1.3 .3h0m2.8 .7h0m-2.7 .1h0m-1 .1h0m3.8 0h0m-.8 .3h0m.4 .1h0m-3.6 .1h0m.8 0h0m2.3 .2h0m-1.1 0h0m1.9 0h0m-2.1 .3h0m-.6 .1h0m1.1 0h0m.8 .1h0m-1.8 .1h0m1.6 0h0m-2.1 0h0m-.4 .2h0m2.9 .1h0m-.5 .1h0m2.4 .3h0m-5.1 .1h0m3.5 .2h0m1.6 .1h0m-1.7 0h0m-1.9 .1h0m-1.4 0h0m0 .2h0m3.7 .1h0m-.2 0h0m.5 .2h0m-2 0h0m2.4 .1h0m-3.1 .1h0m-1.3 .1h0m3.7 0h0m.4 0h0m-2.6 .1h0m-1.2 .1h0m-.5 0h0m1.8 .1h0m3.4 0h0m-2.5 0h0m-.2 0h0m.8 .2h0m.4 0h0m-3.2 .1h0m-.4 .1h0m.8 .1h0m1.8 0h0m-.2 0h0m2.7 0h0m-.5 .1h0m-2.1 0h0m-.2 0h0m1.9 0h0m-1.3 .1h0m1.7 .1h0m-1.8 0h0m.9 0h0m-2.5 0h0m-1.5 0h0m2.9 0h0m-1 0h0m1.9 0h0m0 .4h0m-1.7 .1h0m2.6 0h0m-.6 .1h0m-1.5 0h0m1.3 .1h0m1 .3h0m.1 0h0m-.2 .1h0m.4 .2h0m-2.9 0h0m-.1 0h0m1.9 .1h0m-1.5 .1h0m.5 0h0m.6 0h0m-1.2 .1h0m.4 .1h0m0 .1h0m.3 .1h0m.6 0h0m0 .2h0m.7 .1h0m-1.1 0h0m2 .1h0m-.8 .2h0m-1.8 .2h0m.9 .1h0m1 .1h0m-1.5 .1h0m1.5 0h0m-.3 .3h0m-.3 .1h0m.6 .2h0m.1 .2h0m.2 .2h0m.3 .1h0m-2.5 0h0m2.7 .2h0m-.3 .1h0m-2 .1h0m.9 0h0m.8 0h0m-2 .3h0m1.9 0h0m-1.1 .2h0m1 .1h0m-2 .1h0m2.8 .1h0m-3 0h0m1.4 .2h0m-.1 .1h0m0 .6h0m-1.7 .1h0m.3 .1h0m1.9 0h0m.2 .1h0m.1 0h0m-2.6 0h0m-.6 .2h0m2.8 0h0m-1.9 .1h0m1.7 0h0m-1.8 0h0m.2 .1h0m.6 .1h0m2.3 0h0m-2.1 .1h0m-.7 0h0m-.8 0h0m.4 .1h0m3.3 0h0m-1.8 0h0m-2.6 .1h0m3.3 0h0m.7 .2h0m-2.2 .1h0m-2.2 0h0m3.2 0h0m1.7 .2h0m-3.4 .1h0m3 0h0m-2.1 .1h0m-3 .2h0m.7 0h0m1.9 .1h0m-2.1 .1h0m0 0h0m3.6 .2h0m-4.1 0h0m5.3 .2h0m-4.4 0h0m2.3 .1h0m-1 .1h0m-1.8 .1h0m2 .1h0m2.2 0h0m-3 0h0m.1 .1h0m-1.6 .1h0m-.2 0h0m4.8 0h0m-1.5 0h0m-.5 .1h0m-2.3 .2h0m.8 .3h0m3.2 .1h0m-4.5 0h0m.1 .1h0m2.9 .2h0m.2 .3h0m-3.1 0h0m5.7 .3h0m-2.5 .2h0m-3 .2h0m-.3 .1h0m1.1 .5h0m.2 .3h0m4.3 .7h0m-2.5 .1h0m2 0h0m-1.7 1.1h0m-3.6 .7h0m1.7 1.2h0m3.8 .4h0m2.6 -64.2h0m1.6 3h0m-2.7 14.6h0m.4 2.2h0m4 .9h0m-.4 3.6h0m-.3 1.7h0m-4.1 5.3h0m4.7 .5h0m-3.4 2.6h0m1.6 .6h0m-2.5 4.1h0m1.7 2.6h0m-.8 .1h0m.1 .6h0m3.2 .3h0m-1.4 .4h0m-.2 .1h0m-1.1 .3h0m.3 .3h0m-2.4 .1h0m.7 .3h0m-1 .2h0m3.5 0h0m1 .1h0m-3.5 .1h0m-.5 0h0m.3 .1h0m-.4 0h0m4 0h0m-1.7 .5h0m0 0h0m3.1 0h0m-4.7 .2h0m.9 0h0m1.6 .2h0m-1 0h0m2.5 .1h0m-1.7 .1h0m-3.5 .1h0m3.5 .3h0m-3 .1h0m2.4 .5h0m-1.1 0h0m2.3 .1h0m0 .1h0m-3.9 .1h0m4.6 0h0m1 .5h0m-3.4 .1h0m.3 0h0m3 0h0m-4.9 .1h0m4.1 0h0m-1 0h0m-2.3 0h0m.1 .2h0m-.3 .2h0m3.4 0h0m.6 .2h0m-1.9 0h0m-2 .1h0m1.6 0h0m-1.9 .1h0m1.8 .1h0m1.7 0h0m-4.3 .1h0m0 .1h0m2.9 0h0m.5 0h0m-3 .2h0m-.4 0h0m3.9 0h0m-3.5 0h0m1.3 .1h0m-1 .1h0m1.1 .1h0m.4 0h0m2.7 0h0m-3.8 .1h0m1.4 0h0m-2.6 0h0m.3 0h0m5.1 .3h0m-5.5 .1h0m3.6 0h0m2 0h0m0 .1h0m-1.1 0h0m-1.7 .1h0m2.1 0h0m-4 .1h0m.3 .2h0m2.6 0h0m-2.6 .1h0m2.2 0h0m-.1 .1h0m-1.3 0h0m-.7 .1h0m-1.1 .2h0m3.8 0h0m-1.7 .1h0m.6 .1h0m-1.9 0h0m.6 .1h0m.3 0h0m3.7 0h0m-5.4 .1h0m.7 .2h0m2.7 .1h0m1.2 0h0m-.5 0h0m-2.1 .1h0m-2.4 .1h0m3.1 0h0m-1.8 .1h0m3.1 0h0m-2.7 .1h0m-1 0h0m-.4 0h0m.6 .1h0m2.2 0h0m2.1 0h0m-1.6 0h0m2.2 .1h0m0 .1h0m-.8 .1h0m-2.6 .1h0m-1 .1h0m4.2 0h0m-.5 .1h0m.2 0h0m-.5 0h0m-3.1 .1h0m-.8 0h0m2 0h0m1.3 0h0m-1.7 .1h0m1.3 .1h0m-2.2 0h0m-.6 0h0m2.3 .1h0m-.3 0h0m-2.7 .2h0m4 0h0m-1.7 0h0m-1.2 0h0m.2 .1h0m3.5 .1h0m-4.3 0h0m3.5 .1h0m-1.2 .1h0m0 0h0m.2 0h0m-.2 .1h0m-2.7 0h0m2.3 .2h0m1.4 .1h0m-1.7 0h0m-.3 .1h0m-.6 0h0m3.9 .2h0m-4.3 .1h0m2.3 .1h0m-3.1 .2h0m5.4 .5h0m-5.1 0h0m2.9 0h0m-.5 .1h0m-.1 0h0m-.3 0h0m3.2 .1h0m-3.3 .1h0m-1.1 .1h0m3.9 .2h0m.5 .1h0m-5.3 .1h0m.3 0h0m2.4 .3h0m-1.4 .1h0m3.4 0h0m-2.4 .3h0m-1.5 0h0m-.1 .2h0m1.8 .1h0m-.4 .1h0m-2.2 .5h0m3.8 0h0m-2.4 .2h0m4.2 .3h0m-4.3 .5h0m3.9 .2h0m-5.5 .9h0m5.6 .4h0m-3 .6h0m1.6 2h0m1.6 1.2h0m-2.7 0h0m-1.4 .9h0m4.7 -65.6h0m4.1 18.4h0m-1 1.3h0m-.9 6.4h0m-2.5 7.8h0m4.1 .5h0m-4 6.7h0m2.3 .7h0m-2.4 .8h0m4.8 .3h0m-4.2 .3h0m.4 0h0m4.1 .3h0m-1.1 .2h0m-1.4 .4h0m1.1 .2h0m-3 .4h0m1.8 0h0m-1.4 .1h0m2.6 .3h0m1.1 .9h0m-2.3 .2h0m3.1 .6h0m-2.3 0h0m.5 .2h0m-.5 .1h0m.5 .1h0m-2.3 0h0m1.2 0h0m-2.1 .1h0m.3 .5h0m.2 0h0m-1 .1h0m3 .2h0m-2.8 .1h0m1.4 0h0m-.2 .3h0m.3 .1h0m1 .1h0m.2 .3h0m1.2 .3h0m-3.4 .3h0m3.6 .1h0m-2.5 .2h0m1.6 .1h0m1.7 0h0m-3.4 0h0m-.4 0h0m-.4 .1h0m2.4 .1h0m-3.1 .2h0m4.2 0h0m-4.6 .1h0m3.4 0h0m-.7 0h0m1.3 .1h0m-.2 0h0m-.2 0h0m.9 0h0m-.8 .1h0m-3.7 0h0m3.4 .2h0m-.2 0h0m1 .1h0m-2.2 .3h0m2.2 0h0m-1.6 .1h0m.7 .1h0m1.4 0h0m-1.5 .2h0m-1.7 .1h0m3.2 0h0m0 .1h0m-2.5 .1h0m.6 .1h0m.2 .1h0m2.9 .4h0m-1.8 0h0m-.4 0h0m-2.9 0h0m5.1 .2h0m-1.3 .4h0m-1.4 0h0m1 .1h0m.5 .2h0m.6 0h0m-2.4 0h0m-2.4 .1h0m.5 0h0m2 .1h0m-2.7 .1h0m1.6 0h0m1.8 .3h0m-3.6 .3h0m5.2 .2h0m-2.9 .1h0m1.3 .3h0m-.9 0h0m-2.1 .2h0m2.7 .1h0m-3.2 .1h0m1.4 0h0m.8 .1h0m-1.3 .1h0m-.4 0h0m.8 .3h0m-1.3 0h0m.3 .2h0m.9 .1h0m-1.2 .2h0m2 .2h0m-.4 .1h0m.2 0h0m2.1 .3h0m-.5 .2h0m-2.8 .1h0m3.6 .2h0m-3.5 .2h0m1.5 0h0m-1.1 .1h0m0 .2h0m-.5 .3h0m1.8 .1h0m-1.4 .1h0m1.1 0h0m3.1 .1h0m-.2 .2h0m-3.4 1.7h0m-.8 0h0m4.8 1h0m-4.9 .8h0m7.3 -39.7h0m.8 1.2h0m-1.6 1.2h0m-.5 4.7h0m4.1 12.8h0m-.1 .5h0m-3.4 .9h0m3.2 .1h0m-3 .3h0m3.6 .1h0m.1 .1h0m-2.5 .1h0m-1.3 .6h0m2.1 .4h0m1.6 0h0m-1.1 .1h0m.4 .3h0m-.8 .5h0m-.1 .2h0m-2.7 .1h0m-.3 0h0m2.1 .1h0m-2.1 .1h0m3.2 0h0m-1.8 .5h0m1.4 0h0m-.8 .3h0m-1 0h0m4 .2h0m-4.2 .3h0m.9 .1h0m1.6 .1h0m-4.1 .2h0m3.2 .2h0m-1.5 0h0m-.2 .3h0m.6 .1h0m.4 .1h0m1 0h0m.9 .7h0m-4.2 .7h0m5.4 0h0m-2.7 .4h0m1.4 .1h0m-.7 .2h0m1.9 .2h0m-5.2 .2h0m2 .3h0m-2.3 .1h0m1.4 .1h0m3 .1h0m-4.2 0h0m.5 .2h0m1.5 .1h0m.2 .1h0m-.6 .1h0m.4 .1h0m-1.1 .1h0m1.2 .1h0m-.4 0h0m-1.6 .1h0m.7 .1h0m-.3 .4h0m-.3 .2h0m1 .3h0m-.1 .3h0m3.7 0h0m-2.4 .2h0m2.7 .4h0m-4.3 .2h0m.8 0h0m1.2 .1h0m-1.6 .1h0m4.5 .6h0m-3.7 .3h0m-1.6 .3h0m3.1 .1h0m-.1 .6h0m-2.3 .6h0m-1.3 .2h0m5.1 0h0m-2.7 .4h0m2.8 0h0m.3 1.5h0m-4.4 .1h0m-.1 .7h0m6.1 -81.9h0m4.1 3.7h0m-3.8 3.8h0m-1.1 11.7h0m.1 3.1h0m3.1 4.4h0m1.7 1.2h0m.1 2.8h0m-4.2 5.5h0m4.9 3.5h0m-1.2 2.5h0m-1.2 2.5h0m.5 15.8h0m-1.4 1.1h0m.8 1.1h0m1.2 1.7h0m.9 .2h0m-3.8 .8h0m-1.4 .4h0m1.8 .2h0m1.8 0h0m0 .1h0m-1.2 .2h0m-2.1 .2h0m2.1 .3h0m1.8 .1h0m-2.8 .4h0m1 1.2h0m-1.8 0h0m1.1 .3h0m.7 .5h0m2.7 .1h0m-1 .2h0m0 .8h0m-3.7 .4h0m2.9 .1h0m-3 .1h0m-.2 .2h0m4.8 0h0m-1 0h0m-3.7 .6h0m1.8 .4h0m-.9 .2h0m2.3 .2h0m1.5 .1h0m.3 .1h0m-1 0h0m-3.8 .3h0m2.9 1h0m-.3 0h0m-2 .3h0m.2 .1h0m.1 0h0m-.3 .2h0m1 .1h0m-.6 .2h0m3.6 .3h0m-1.4 .1h0m-.4 0h0m1.2 .1h0m-1.9 0h0m-2.2 .3h0m3.9 .1h0m-1.5 .2h0m-2.2 .2h0m-.1 .1h0m3.8 .2h0m1.3 .1h0m-2.5 .7h0m1.8 .1h0m-2.2 .3h0m.4 .2h0m1.6 0h0m.6 .2h0m-5.2 .3h0m1.8 .2h0m.9 1.2h0m-.7 .2h0m.9 .8h0m4.9 -77.5h0m.7 11.5h0m-1.7 2.7h0m.6 1.4h0m-1.3 1.3h0m.9 2.9h0m3 .7h0m1.1 5.1h0m-1.3 2.8h0m.8 .9h0m.6 10.3h0m-3.7 13.3h0m3.9 7h0m-3.5 .6h0m-1.8 1.2h0m4.8 2h0m-1.4 .2h0m-2.1 .4h0m-1 .4h0m2.2 .3h0m2.9 0h0m-2.7 .3h0m-1.3 0h0m-.3 0h0m.5 .1h0m2.6 .3h0m-1.5 .5h0m-2.3 .1h0m.1 .3h0m3.6 .4h0m.1 .6h0m-3.4 .3h0m1.3 0h0m-1.6 .3h0m2.1 .4h0m2.3 .3h0m-2.5 .1h0m1 1h0m.4 .1h0m-3.4 .4h0m3 1.2h0m1.7 .1h0m-5.2 .7h0m4.3 .9h0m1.3 .3h0m-4.6 .3h0m1.9 .3h0m-2.4 .6h0m3.7 1.9h0m-1 .7h0m-3.2 4.3h0m11.4 -48h0m-3.2 4.9h0m2.4 .6h0m0 1h0m-3.7 .6h0m1 5.7h0m.5 1.4h0m2.1 .5h0m-4 10.5h0m.8 3.9h0m-.9 1.1h0m2.4 1.3h0m2.7 .4h0m-5.5 .9h0m2.7 .4h0m-3 .2h0m3.1 .3h0m-2.4 .1h0m4 .2h0m-2.8 0h0m2.9 .2h0m.9 1.1h0m-5.4 1h0m-.3 0h0m1.5 .7h0m1.1 .3h0m1.2 .4h0m1.7 .2h0m-2 .7h0m-2.2 .1h0m.6 .3h0m1.2 .2h0m-1.7 .1h0m4.1 .6h0m-3.4 .5h0m1.8 .2h0m1 1h0m-.9 2.8h0m4.5 -84.2h0m.1 3.6h0m-2.5 1.3h0m2.9 1.9h0m-2.1 3.9h0m2.1 6.6h0m-1.7 12.4h0m1.3 2.6h0m-.7 13.4h0m3.4 6.2h0m.4 2.8h0m-4.6 .4h0m2.6 12.2h0m.6 2.7h0m1.3 .7h0m.3 .1h0m-5.8 1.3h0m.5 .3h0m2.1 .2h0m0 .8h0m-1.9 .3h0m2.7 .1h0m-1.6 .9h0m3.1 .8h0m-4.7 .2h0m1.5 .1h0m.2 .2h0m2.1 .4h0m-.2 .9h0m.7 2.9h0m-4.4 3.5h0m2.7 1.9h0m5.1 -85.1h0m1.5 8.2h0m-.9 1.4h0m1.3 4.1h0m-3.9 12.9h0m.5 25.4h0m-.4 16.9h0m.8 0h0m4.6 .3h0m-3.1 .8h0m2.4 1.2h0m-2.5 .2h0m1.1 .2h0m1.4 .1h0m-1.5 1.4h0m1.7 .3h0m-5.1 .1h0m.2 1.3h0m2.1 1h0m1.5 .6h0m1.2 1h0m-.8 2.2h0m-2.1 .6h0m8.9 -78.7h0m-2.4 5.5h0m-1.8 11.8h0m.2 1.6h0m.7 .4h0m1.3 9.1h0m1.3 22.7h0m-2.9 8.8h0m1.3 9.3h0m.1 1h0m2.1 1h0m.3 .4h0m-4.1 .1h0m.2 .1h0m.6 .3h0m0 .9h0m2.4 1.3h0m.1 .3h0m0 1h0m-2.9 3.1h0m5.9 -80.5h0m.8 12.2h0m-.5 7.2h0m-1.4 50h0m.2 7.4h0m9 -22.7h0m-.7 16.3h0m.5 5.5h0m1.3 1.6h0m-1.9 2.3h0m.4 10h0m3.1 -72.8h0m.6 17.4h0" fill="none" stroke="#000" stroke-width="1.2" stroke-linecap="square"/>
<path d="M379.9 415.6l1.4-.4l3 .2l.9 .2l.6 .4l.1 .6l-.4 .5l-1.2 .3l-3.5 .2l-1-.5l-.3-.5l0-.5zM380.1 414.1l1.2-.1l3.5 .1l3.5 .6l1.2 .4l.6 .5l.3 .5l-.1 1l-.5 .5l-1 .4l-2 .5l-5 .3l-2.1-.2l-.9-.3l-.9-.7l-.4-.5l-.1-1l.2-.5l.7-.8zM378.7 413.1l2.1-.3l3 .1l4.5 .4l3 .5l2 .7l1 .6l.5 1l0 1l-.5 .7l-1 .6l-3.5 1l-3.5 .4l-4.5 .2l-3-.3l-1.5-.6l-.8-.5l-.9-1l-.2-1l.1-1l.6-1l1.2-.9zM380.2 411.6l1.6 0l6.5 .4l3.5 .5l3.5 .8l2 .7l1.1 .6l.7 1l.1 1.5l-.5 1l-1.6 1l-2.3 .7l-2.5 .5l-4.5 .6l-6 .3l-2 0l-2-.4l-2-.8l-1.7-1.4l-.7-1.5l0-1.5l.8-1.5l1.6-1.3l2-.8zM378.3 410.6l3-.3l6.5 .5l6.5 .9l4.3 .9l2.8 1l1.6 1l.6 1l.1 1l-.2 1l-.7 1l-1.8 1l-2.7 .9l-4 .8l-5.5 .7l-7 .5l-2.5-.1l-2.5-.5l-2.5-1l-2-1.7l-.9-1.6l-.1-2l.6-1.5l1.4-1.5l2-1.2zM376.8 409.6l4-.5l4.5 .3l8.5 1l7.5 1.4l3.5 1.2l2.1 1.1l.6 .5l.5 1l0 2l-.6 1l-.6 .5l-2 1l-3.5 1.1l-4 .8l-6.5 .9l-9 .8l-3-.2l-2.5-.4l-3-1.1l-1.4-.9l-1.1-.9l-.8-1.1l-.5-1l-.3-2l.5-2l.7-1l.9-1l2.5-1.5zM378.2 408.1l3.6-.2l9 1l7.5 1.1l7 1.5l3.5 1.2l2.6 1.4l.5 .5l.6 1l0 2l-.6 1l-.5 .5l-3 1.5l-4.1 1.2l-5.5 1.1l-7.5 1.1l-10 .9l-3.5-.2l-3-.7l-3.5-1.4l-1.4-1l-1.1-1l-.7-1l-.7-1.5l-.3-1.5l.2-1.5l.3-1l.9-1.5l.9-1l1.4-1.1l1.5-.8l2-.8zM376.4 407.1l4.9-.4l6.5 .7l10.5 1.5l9.5 1.9l5 1.6l1.6 .7l1.4 .9l.6 .6l.5 1l0 2l-.5 1l-.5 .5l-1.6 1l-1.5 .7l-5 1.5l-7 1.4l-8 1.2l-11 1.2l-4-.2l-3.5-.7l-4-1.5l-1.8-1.1l-1.2-1.1l-1.1-1.4l-.8-1.5l-.3-1.5l0-1.5l.4-1.5l.7-1.5l1.1-1.3l1.4-1.2l1.6-1l2-.9z" fill="none" stroke="#6a6a6a" stroke-width="0.5" stroke-linejoin="round"/>
<rect x="347.8" y="298.6" width="166.5" height="166.8" stroke="#333" stroke-width="0.9" fill="none"/>
<rect x="434.3" y="302.5" width="72.8" height="98.5" stroke="#1a1a1a" stroke-width="0.8" fill="none"/>
<path d="M343.8 327.5h4M343.8 358.5h4M343.8 395.5h4M343.8 439.5h4" stroke="#111" stroke-width="1.2" fill="none"/>
<path d="M345.4 348.5h2.4M345.4 343.5h2.4M345.4 339.5h2.4M345.4 336.5h2.4M345.4 333.5h2.4M345.4 331.5h2.4M345.4 330.5h2.4M345.4 328.5h2.4M345.4 383.5h2.4M345.4 377.5h2.4M345.4 372.5h2.4M345.4 369.5h2.4M345.4 366.5h2.4M345.4 363.5h2.4M345.4 361.5h2.4M345.4 359.5h2.4M345.4 317.5h2.4M345.4 312.5h2.4M345.4 308.5h2.4M345.4 305.5h2.4M345.4 401.5h2.4M345.4 405.5h2.4M345.4 407.5h2.4M345.4 409.5h2.4M345.4 411.5h2.4M345.4 412.5h2.4M345.4 421.5h2.4M345.4 422.5h2.4M345.4 424.5h2.4M345.4 426.5h2.4M345.4 428.5h2.4M345.4 432.5h2.4M345.4 427.5h2.4M345.4 421.5h2.4M345.4 416.5h2.4M345.4 413.5h2.4M345.4 410.5h2.4M345.4 407.5h2.4M345.4 405.5h2.4M345.4 403.5h2.4" stroke="#444" stroke-width="1.0" fill="none"/>
<rect x="345.2" y="412.4" width="2.6" height="9.2" fill="#000"/>
<path d="M360.5 465.4v4.3M432.5 465.4v4.3M467.5 465.4v4.3M500.5 465.4v4.3M390.5 465.4v4.3M402.5 465.4v4.3" stroke="#111" stroke-width="1.2" fill="none"/>
<path d="M442.5 465.4v2.5M448.5 465.4v2.5M453.5 465.4v2.5M456.5 465.4v2.5M459.5 465.4v2.5M461.5 465.4v2.5M463.5 465.4v2.5M465.5 465.4v2.5M477.5 465.4v2.5M482.5 465.4v2.5M486.5 465.4v2.5M490.5 465.4v2.5M492.5 465.4v2.5M494.5 465.4v2.5M496.5 465.4v2.5M498.5 465.4v2.5M510.5 465.4v2.5M403.5 465.4v2.5M405.5 465.4v2.5M408.5 465.4v2.5M411.5 465.4v2.5M415.5 465.4v2.5M422.5 465.4v2.5M389.5 465.4v2.5M387.5 465.4v2.5M384.5 465.4v2.5M381.5 465.4v2.5M377.5 465.4v2.5M370.5 465.4v2.5M350.5 465.4v2.5" stroke="#444" stroke-width="1.0" fill="none"/>
<rect x="390.8" y="465.4" width="11.2" height="3.6" fill="#000"/>
<text x="334.3" y="332.5" font-size="9.3" font-weight="bold" text-anchor="end" fill="#111" textLength="11.3" lengthAdjust="spacingAndGlyphs">10</text>
<text x="334.9" y="326.9" font-size="9.6" font-weight="bold" text-anchor="start" fill="#111">5</text>
<text x="334.3" y="363.6" font-size="9.3" font-weight="bold" text-anchor="end" fill="#111" textLength="11.3" lengthAdjust="spacingAndGlyphs">10</text>
<text x="334.9" y="358" font-size="9.6" font-weight="bold" text-anchor="start" fill="#111">4</text>
<text x="334.3" y="400.6" font-size="9.3" font-weight="bold" text-anchor="end" fill="#111" textLength="11.3" lengthAdjust="spacingAndGlyphs">10</text>
<text x="334.9" y="395" font-size="9.6" font-weight="bold" text-anchor="start" fill="#111">3</text>
<text x="331.4" y="420.9" font-size="9.3" font-weight="bold" text-anchor="middle" fill="#111">0</text>
<text x="336.5" y="444.9" font-size="9.3" font-weight="bold" text-anchor="end" fill="#111" textLength="17" lengthAdjust="spacingAndGlyphs">&#8722;10</text>
<text x="334.9" y="438.5" font-size="9.6" font-weight="bold" text-anchor="start" fill="#111">3</text>
<text x="372.6" y="484.3" font-size="9.3" font-weight="bold" text-anchor="end" fill="#111" textLength="17" lengthAdjust="spacingAndGlyphs">&#8722;10</text>
<text x="373.2" y="477.5" font-size="9.6" font-weight="bold" text-anchor="start" fill="#111">3</text>
<text x="399" y="484.3" font-size="9.3" font-weight="bold" text-anchor="middle" fill="#111">0</text>
<text x="441.9" y="484.3" font-size="9.3" font-weight="bold" text-anchor="end" fill="#111" textLength="11" lengthAdjust="spacingAndGlyphs">10</text>
<text x="442.5" y="477.9" font-size="9.6" font-weight="bold" text-anchor="start" fill="#111">3</text>
<text x="476.6" y="484.3" font-size="9.3" font-weight="bold" text-anchor="end" fill="#111" textLength="11" lengthAdjust="spacingAndGlyphs">10</text>
<text x="477.2" y="477.9" font-size="9.6" font-weight="bold" text-anchor="start" fill="#111">4</text>
<text x="509.6" y="484.3" font-size="9.3" font-weight="bold" text-anchor="end" fill="#111" textLength="11" lengthAdjust="spacingAndGlyphs">10</text>
<text x="510.2" y="477.9" font-size="9.6" font-weight="bold" text-anchor="start" fill="#111">5</text>
<text x="477.6" y="327" font-size="16" text-anchor="middle" fill="#111">0.8%</text>
<path d="m520.4 402h0m1.5 .2h0m-1.7 1.9h0m-.2 1.7h0m.9 1.5h0m-.1 0h0m-1 1.7h0m1.5 2h0m-.7 2.2h0m.2 .4h0m-.3 .9h0m-1 2.2h0m.1 .8h0m-.2 5.3h0m5.3 -30.6h0m3.2 7.2h0m-3.3 1.3h0m1.9 .2h0m1.3 1.2h0m-3.7 .4h0m-1.6 2.7h0m1.2 0h0m-.4 1h0m4.4 .7h0m-3.5 .7h0m2.3 .2h0m-.1 .7h0m.7 .2h0m.3 .2h0m.5 .2h0m-1.4 .8h0m1.4 0h0m-.9 .3h0m-.1 .1h0m1 .3h0m-.1 .1h0m-.3 .3h0m.5 .3h0m-2.3 0h0m1.6 .8h0m-1.3 .4h0m-.4 .1h0m-.4 .1h0m-.1 0h0m2.1 .1h0m.6 .1h0m-.6 .2h0m-5.1 .1h0m2.7 .3h0m2.1 .9h0m.9 0h0m-.2 .1h0m-1.1 0h0m-.1 .6h0m1.4 0h0m-3.4 .3h0m2.2 0h0m.1 .1h0m-1.3 .1h0m-2.6 0h0m2.1 .1h0m2.7 0h0m-4.2 0h0m3.5 .2h0m.9 .1h0m-1.2 .1h0m-1.5 .1h0m-2.8 0h0m.6 .2h0m5 .5h0m-3.5 .1h0m3.4 .1h0m-.6 .2h0m-2.2 .2h0m-1.8 .3h0m4.3 .4h0m-3.3 0h0m3.3 .8h0m-2.6 .3h0m.1 .3h0m.4 .1h0m2.3 .4h0m-.3 .4h0m-.1 0h0m0 .1h0m-1.1 .1h0m-3.7 .1h0m3.9 .2h0m1 .4h0m-.7 .2h0m-2.4 .6h0m2.2 0h0m-3.5 .3h0m4.1 0h0m-1.7 0h0m-2.2 .1h0m3.3 .3h0m.7 .2h0m0 0h0m-2.2 1h0m1.7 .6h0m-3.3 0h0m3.6 .6h0m.5 .4h0m-3.1 .5h0m-.4 .1h0m3.5 .2h0m-.5 .8h0m.3 .1h0m-.2 .1h0m-3.3 1.1h0m4.1 .2h0m-3.4 .1h0m3.4 .5h0m-.1 2.4h0m-3.4 .6h0m2.8 1.9h0m-3.9 2h0m3.5 1.5h0m-3.1 .4h0m2.9 .3h0m.7 .3h0m-3.6 3.8h0m1.2 3.2h0m0 3.3h0m1.1 0h0m-1.2 .7h0m8.8 -111.1h0m-4.3 2.6h0m2.7 3.5h0m.7 6.8h0m0 1.3h0m-1.9 5.5h0m1.7 .2h0m-3.5 6.1h0m2.5 6.6h0m-1.2 2.4h0m-.9 1.2h0m1.6 .7h0m-.7 .1h0m-.6 .7h0m-.5 4.5h0m2 5h0m-1.7 .6h0m1.3 .8h0m0 1.3h0m-1 1.6h0m-.8 .3h0m2.7 .1h0m2.2 .7h0m-2.1 .6h0m1.3 1.3h0m-2 1.5h0m1.8 .6h0m.4 0h0m0 .3h0m.6 1.7h0m-.6 .2h0m.3 .1h0m0 .2h0m-.1 .1h0m-3.6 .1h0m2.7 .3h0m-1.9 .1h0m-.4 .2h0m2 .1h0m-.1 1.4h0m-1 0h0m.7 .1h0m-2.3 .1h0m3.8 .2h0m-3.4 .9h0m2.6 .2h0m-.3 0h0m-2.9 .1h0m4.3 0h0m-.4 .2h0m-3.6 .3h0m-1.5 .1h0m2.8 .2h0m-1.9 .3h0m1.1 0h0m3 .3h0m-3.2 0h0m1.2 .2h0m-3 0h0m3.5 .6h0m1.1 .1h0m-1 .2h0m-3.8 .1h0m2.4 .2h0m1.7 0h0m-.3 .3h0m-.4 .1h0m-3.3 .1h0m3.6 0h0m-.1 .2h0m-.5 .1h0m.6 .2h0m-2.9 .3h0m1.5 .1h0m-1.3 .1h0m2.7 .1h0m-.1 0h0m-1.6 .4h0m.5 .3h0m.2 0h0m-2.3 .1h0m.4 .1h0m.7 .3h0m-.4 .9h0m-.9 .2h0m.2 .4h0m.4 0h0m-.6 0h0m1.3 .2h0m.2 .1h0m0 .1h0m-1.3 1h0m-.2 .6h0m.3 .6h0m.3 .3h0m-.4 .2h0m-.1 1h0m.1 .1h0m-.3 .1h0m0 .2h0m.3 .2h0m-.1 .2h0m-.1 .2h0m.1 0h0m-.2 3.3h0m.5 1.1h0m-.2 .5h0m-.1 .1h0m.2 1.2h0m.4 .5h0m.4 .2h0m-.5 .7h0m.8 .3h0m-.8 .4h0m.4 .1h0m.6 .6h0m-.3 .3h0m.1 0h0m.1 .5h0m.9 .7h0m-.6 .3h0m0 .2h0m1.2 .1h0m-.5 .2h0m.8 .1h0m.3 .8h0m-2.7 .1h0m1.5 .1h0m-1.7 .2h0m2.2 .1h0m.5 .1h0m-1.9 .2h0m1.3 0h0m.7 .1h0m-.3 0h0m1 .1h0m-.7 0h0m-2.6 .1h0m.6 .1h0m4.1 .2h0m-5 .3h0m2.4 0h0m-.9 .1h0m2.9 0h0m-1.8 .1h0m-.9 .4h0m.7 .1h0m-1.7 0h0m3.8 .2h0m-4.2 .3h0m2.9 .1h0m-.3 0h0m-1.2 .4h0m2.1 .7h0m-2.5 .1h0m1.8 .2h0m.5 .2h0m-.3 0h0m-3.8 1.1h0m5.2 .1h0m-.5 .2h0m-.8 .8h0m.1 .2h0m-1.8 .1h0m2.3 1.9h0m-1.2 2.8h0m6.3 -105.3h0m.6 5.8h0m-1.5 15.5h0m2.6 2.9h0m-3.7 1.6h0m0 .6h0m0 3.6h0m-.9 6.6h0m-.2 .9h0m1 1.5h0m-1.5 6.8h0m3.5 .3h0m.1 1h0m-1.3 4h0m-2.5 .7h0m.4 0h0m4.7 .1h0m-.4 2.2h0m-2 .5h0m1.1 .2h0m-3.1 .9h0m2.1 1.3h0m.8 1.2h0m2.2 .7h0m-4.5 .2h0m.2 .3h0m-1.1 .3h0m5.1 .9h0m-4.8 .7h0m2.3 1.3h0m-2.3 0h0m.4 .5h0m2.4 .2h0m.2 .2h0m-2.5 .5h0m2.1 .6h0m-3 .3h0m1.9 0h0m-1.5 .3h0m-.8 .4h0m3.3 .1h0m2.5 .1h0m-.3 0h0m-.9 .3h0m.7 .2h0m-4.9 .1h0m.7 .2h0m.9 .2h0m3.5 .2h0m.5 .1h0m-.9 .1h0m-.1 0h0m.2 .1h0m-1 0h0m-2.7 .1h0m3.4 .1h0m-2.5 0h0m-.6 .1h0m2.1 0h0m1.2 .1h0m-1.9 0h0m-.7 0h0m2.3 .1h0m-4.2 .5h0m1.8 0h0m1 .3h0m-.4 0h0m.3 .1h0m-1 .4h0m-2 .6h0m.1 .1h0m.9 .1h0m-.9 .6h0m-.2 25.9h0m.5 .1h0m-.1 .1h0m.5 .1h0m.3 .2h0m.4 0h0m.6 .3h0m-.1 .1h0m.6 0h0m-.6 0h0m-2.2 .1h0m1.6 .1h0m1.2 .1h0m-.1 .1h0m1.4 0h0m-2 0h0m-1 .1h0m1.1 0h0m1.4 .1h0m-2.6 0h0m1.4 .3h0m.8 .1h0m2.7 .1h0m-.4 .1h0m-3.8 .1h0m2.4 .2h0m.6 0h0m-4.5 .5h0m3.6 .4h0m0 .2h0m-1.6 .1h0m3.7 .2h0m-.2 0h0m-4.3 .1h0m1.6 .2h0m-1.1 0h0m-.4 .9h0m-.8 .3h0m-.8 0h0m.8 .3h0m1.6 .5h0m0 .6h0m2.5 1.5h0m-.2 .5h0m-.9 .4h0m-1 .6h0m2.1 1.7h0m-1.3 1.7h0m-1 4.4h0m8.7 -110.6h0m.6 8.1h0m-.5 7.4h0m-5.2 3.1h0m4.3 .5h0m-2.7 1.3h0m2.4 3.9h0m-1.4 .1h0m2.8 .3h0m-2.5 .6h0m-2.7 4.8h0m4.4 4.4h0m0 1.9h0m-2.4 1.3h0m-.4 0h0m-.1 .3h0m0 4.3h0m2 .6h0m1.6 .4h0m.1 .2h0m-4.3 .7h0m4.5 .4h0m-2 1.4h0m-1.5 1h0m3.2 1.5h0m-4.5 .7h0m4.9 2.5h0m-3.4 1.9h0m2.7 1h0m-4.6 .8h0m1.3 .5h0m3.9 .3h0m-3.6 0h0m-.5 .8h0m2.3 .6h0m-3.1 .7h0m1.5 0h0m.4 .2h0m1.8 .2h0m-1.8 .3h0m-2.6 .1h0m4.3 0h0m-.7 0h0m-3.3 .1h0m2.2 .3h0m-.7 .2h0m3.6 .2h0m-2.8 .1h0m-1.7 .2h0m4.4 .8h0m.2 .1h0m-1.3 .1h0m-3.4 0h0m.1 0h0m.8 .1h0m.2 .4h0m.8 .1h0m-1 .2h0m.4 0h0m-1.8 0h0m-.1 0h0m3.2 .2h0m1.6 0h0m-.4 0h0m.5 .3h0m-2.9 0h0m2.8 0h0m-2.1 .1h0m-1 0h0m-1.3 .1h0m5.1 .1h0m-2.5 0h0m.5 .4h0m.3 .1h0m-1.1 .1h0m-.9 0h0m.4 0h0m-2.5 0h0m.3 0h0m.5 .1h0m0 0h0m1.7 .2h0m1.5 0h0m-3.7 0h0m2.9 .1h0m.9 0h0m-2.1 31.6h0m-1.3 .1h0m-.8 .1h0m.4 0h0m3.2 .3h0m-1.6 .1h0m1 0h0m-2 0h0m2.3 .1h0m2.2 0h0m-5.1 .1h0m1.5 0h0m3.8 .1h0m-.8 .1h0m-2.8 .1h0m.9 0h0m1.6 0h0m-1.5 0h0m-.6 .1h0m3.1 .1h0m-5 0h0m2.4 .1h0m1.4 0h0m-1 .1h0m0 0h0m-1.1 0h0m2.2 .1h0m.2 .1h0m-2.3 .2h0m.8 0h0m.5 .4h0m.7 0h0m-.4 0h0m1 .1h0m-1.2 .1h0m1.9 .1h0m-3.5 0h0m1.4 .1h0m-.2 .6h0m-2.4 .4h0m.1 .3h0m-.7 .1h0m4.1 .2h0m-.3 .2h0m-.9 .5h0m-.6 .7h0m.2 .5h0m-2.1 3.3h0m.7 .7h0m10.3 -108.3h0m-5.1 .6h0m1 2.2h0m3.1 1.7h0m-3.4 8.9h0m3.4 6.7h0m-.9 4.3h0m-.6 2.1h0m-2 2.3h0m1.7 3.4h0m-1.3 .1h0m-1 1.5h0m3 0h0m1.9 .6h0m0 .1h0m-1.1 .7h0m.5 1.1h0m-.5 .2h0m-.6 .2h0m.9 2.8h0m-3.6 .4h0m1.2 .7h0m-2 .1h0m.6 .7h0m.8 .5h0m3.7 .8h0m-5 1.3h0m2.8 0h0m.6 .1h0m-2.7 .1h0m1.4 .6h0m-2.3 1.4h0m4.2 2.1h0m-.5 1.4h0m-2.8 .5h0m-.5 .4h0m.6 .6h0m2.4 .5h0m-3 .1h0m3.2 .9h0m-1.3 .1h0m.7 .2h0m-2.1 .2h0m-.2 1.3h0m1.4 .2h0m-1.9 .1h0m4 .3h0m-1 .4h0m-1.9 0h0m3.7 .1h0m-4.6 .1h0m2.9 .3h0m1.3 .3h0m-2.8 .8h0m.9 .2h0m1.5 .3h0m-3.1 .8h0m3.4 .1h0m-.1 .2h0m-2.1 0h0m-2.2 .3h0m-.2 .7h0m2.9 .5h0m2.8 0h0m-4.8 .3h0m.3 .7h0m3.1 .3h0m-1.9 .1h0m3.2 .1h0m-5.4 .3h0m2.4 .1h0m2.4 .5h0m-1.1 0h0m1.2 .1h0m-4 .1h0m4.6 0h0m-2.8 .1h0m2.8 0h0m-5.6 0h0m4.5 0h0m-.2 0h0m-2.7 .1h0m2.8 0h0m-.7 .1h0m-1.3 .1h0m-1.7 .6h0m3.4 .3h0m-3.4 0h0m4.4 .4h0m-2.4 .1h0m1.7 0h0m-4.6 .1h0m4.9 .2h0m.1 0h0m-4.3 .1h0m2.3 .1h0m2.2 .1h0m-1.2 .1h0m1.1 0h0m-.9 .1h0m-3.5 0h0m1.1 .2h0m.9 .1h0m-2 .1h0m4.3 .2h0m-.1 0h0m-3.1 .1h0m2.2 0h0m-3.7 0h0m5.6 .1h0m-.4 .2h0m-1.5 .1h0m-2.9 0h0m2 0h0m.5 0h0m-.8 31.3h0m1 .1h0m.2 0h0m-.9 0h0m-.7 .2h0m.9 0h0m-2.7 0h0m3.5 .1h0m-.4 .1h0m-1 .1h0m-1.4 .1h0m3.6 .1h0m-4.4 .1h0m4.8 .1h0m-2.2 0h0m.5 .2h0m-1 .4h0m2.2 .4h0m-4.7 .1h0m2.1 .1h0m2 .3h0m.2 .4h0m.7 .1h0m-4.4 .1h0m1.8 .7h0m-2.3 .1h0m4.5 .1h0m-.1 0h0m.3 .1h0m-.4 .8h0m-2.7 .2h0m-1.7 0h0m9.7 -93.5h0m.4 .4h0m-2.5 2.4h0m-1.3 .1h0m3.4 .5h0m.5 1.6h0m-2 1.3h0m-2.2 .7h0m4 1.3h0m-3.4 .8h0m.8 1.7h0m3.6 1.1h0m-.4 0h0m-.3 2.3h0m.9 4.3h0m-4.7 2.5h0m1.8 1.1h0m-2.1 1.3h0m1.7 1.5h0m3.8 0h0m-2.9 .9h0m.1 1.3h0m1.7 1h0m-.8 .3h0m-2.8 1.4h0m4.5 1.2h0m-3.3 .1h0m3.4 .6h0m-.7 2.8h0m-4 .5h0m4.3 .7h0m.2 1.4h0m-2.8 3h0m2 .4h0m-3.3 1.7h0m.6 1.6h0m1.3 1.5h0m-.3 0h0m-.4 .4h0m.2 .1h0m.4 .5h0m-2.4 1.1h0m3.5 0h0m-.6 0h0m-1.8 .1h0m-.3 .1h0m3.9 .1h0m-1.9 .1h0m-1.4 .1h0m-.1 .3h0m-2.1 .1h0m2.2 0h0m-2.1 .4h0m1.2 .1h0m3.5 .3h0m-4.3 .1h0m1.8 .1h0m-1.4 .2h0m2.8 .5h0m-3.8 .4h0m0 .2h0m5.7 0h0m-5.3 0h0m2 0h0m1.4 .6h0m1.8 .1h0m0 .4h0m.3 .7h0m-4.6 0h0m4.6 .1h0m-4.8 .5h0m3.5 .2h0m-2.6 .1h0m3.3 .4h0m-2 0h0m-.6 0h0m.3 .1h0m2.1 0h0m-1.2 .3h0m.5 0h0m-3.4 .5h0m2.1 .2h0m-2 0h0m-.9 .2h0m5.4 0h0m.3 .1h0m-3.3 0h0m-2.4 .1h0m1.5 .4h0m.4 0h0m1.7 .1h0m.2 0h0m1.3 .2h0m-1 .2h0m-4 .1h0m.5 .3h0m3.8 0h0m-2.4 .1h0m1.7 .1h0m-3.1 .1h0m1.7 .1h0m1.9 .2h0m1 30.1h0m-4.3 0h0m3.6 0h0m-.8 .1h0m1 .1h0m-3.2 .1h0m4.1 .1h0m-5.7 .1h0m5.9 .1h0m-2.3 0h0m-.8 0h0m.6 .1h0m-.3 0h0m-1.9 .1h0m1.1 .1h0m1.5 .2h0m1.8 0h0m-5.5 .2h0m1.3 .1h0m2.2 .1h0m2.2 .2h0m-2.7 0h0m-3.1 .1h0m.5 0h0m.8 .1h0m2.8 0h0m-3.5 .1h0m2.9 .1h0m-1.2 .1h0m-.9 .3h0m-.4 .2h0m3.6 0h0m.5 0h0m-4.5 .2h0m1.1 .2h0m3.6 0h0m-3.1 .4h0m-1.2 .6h0m4.8 4.1h0m-3.6 0h0m9.3 -103.4h0m-4.3 9h0m4 1.8h0m-1.6 2.2h0m-1.8 5.1h0m3.5 3.7h0m-3 .8h0m-.6 .3h0m.3 2.8h0m3.5 .1h0m-3.4 6.3h0m3.6 .7h0m-1.5 1.7h0m.7 .5h0m-1.3 0h0m1.3 .3h0m-.3 1.2h0m-1.7 .8h0m-1.3 .1h0m-1.7 0h0m4.7 .5h0m1.3 1.2h0m-2.8 1.9h0m-3.1 1.3h0m5.3 .8h0m-5.2 .2h0m3.6 1.7h0m-1.4 1.7h0m-1.8 .2h0m.8 2.2h0m.2 .3h0m2.8 .4h0m-1.6 .6h0m2 .5h0m-4.7 .5h0m1.2 .2h0m2.3 .2h0m-3 .3h0m1.1 0h0m.2 1h0m1.9 .1h0m-3.2 .8h0m-.2 1.3h0m5.3 .3h0m-1.6 .1h0m-2.1 .2h0m3.4 .3h0m-2.2 .4h0m1.4 .3h0m-4.5 .3h0m5.1 .3h0m-3.4 .1h0m3.5 .6h0m-3.3 .3h0m4 .3h0m-4.4 .7h0m3.4 0h0m0 .1h0m-2.1 .1h0m1.6 .4h0m-3.1 .2h0m.5 .2h0m3.3 .2h0m-3.2 .2h0m3.1 .2h0m-3.2 .3h0m-1.8 0h0m1.4 0h0m-1.3 .1h0m2.1 .2h0m3.7 .1h0m-3.6 .2h0m1.8 .2h0m-2.2 .3h0m2.5 0h0m-2.2 .2h0m1.2 .1h0m0 .1h0m-.8 .1h0m3.2 .1h0m-.5 .2h0m-1.5 .1h0m-1.9 .1h0m2.9 .1h0m-2 .1h0m2.9 .1h0m.1 .1h0m-4.5 0h0m-.6 .2h0m3.5 .1h0m1 0h0m-4.9 0h0m2.2 .1h0m1 0h0m-3 0h0m3.9 0h0m-3 0h0m0 .1h0m-.7 0h0m-.1 0h0m1.4 .2h0m-1.6 0h0m4.1 .1h0m-1.5 0h0m1.3 0h0m1.1 .1h0m-3.9 .1h0m3.5 0h0m-3.3 0h0m1.2 .1h0m1.9 0h0m-3.3 0h0m2.6 0h0m.4 0h0m.4 .1h0m-.3 0h0m1.3 27.6h0m-.3 .5h0m-1.5 0h0m.9 0h0m-.2 .1h0m.4 .1h0m-.3 0h0m-3.1 .3h0m1 .2h0m-.3 .1h0m1.4 .2h0m-.2 .2h0m-3.3 .1h0m3.7 0h0m1 .1h0m-3.7 0h0m.6 0h0m-1.2 .1h0m4.5 0h0m-2.6 .1h0m-1 0h0m3 .3h0m.3 .2h0m-1.8 0h0m.1 0h0m-1.8 .2h0m3.2 .1h0m-2.6 .5h0m1.2 .3h0m1.1 .1h0m1.5 .5h0m-3.4 0h0m-.3 .2h0m-1.4 0h0m3.4 .2h0m-2.4 .1h0m1.1 0h0m-2 .4h0m.9 .4h0m1.7 .3h0m-2.8 .5h0m4.1 .2h0m-.6 .6h0m-2.6 .3h0m-.9 .8h0m.1 .1h0m3.6 .2h0m-2.7 2.5h0m5.7 -106.1h0m-.1 3.5h0m.3 .8h0m-.9 2h0m-.4 12.1h0m.4 6.2h0m-.3 7.3h0m5.1 4h0m-5.1 .5h0m4.2 1h0m-3.8 1.1h0m4.9 .5h0m-3.8 3.7h0m3.4 .6h0m-5.4 .1h0m5.2 .9h0m-4 1.5h0m-.3 .1h0m.7 .2h0m-.2 4.6h0m.2 .2h0m2.5 .1h0m1.4 1.6h0m-4.5 2.1h0m.3 .2h0m3 2.8h0m1.3 .5h0m-1.2 .5h0m-1.1 .1h0m-1.7 1.2h0m2.5 .1h0m-1.4 .6h0m-.1 .3h0m-2.2 .3h0m2.5 .1h0m-2.2 .1h0m1 .4h0m-.8 .5h0m2.6 .2h0m-1.9 .1h0m3.3 .2h0m-3.3 .5h0m3 .2h0m.3 .8h0m-1.1 .4h0m-3.4 0h0m3.9 .2h0m-2.9 0h0m.6 .5h0m3.9 .1h0m-1.8 0h0m-1 .2h0m.1 0h0m-2.6 .2h0m2.6 0h0m2.3 .1h0m-.9 .1h0m.3 0h0m-1.5 0h0m-1.3 0h0m-.7 .1h0m-.4 .1h0m.5 .1h0m-.9 0h0m.4 0h0m1.4 .1h0m3.2 .1h0m-5.2 0h0m1 .1h0m-.1 0h0m-1.1 .2h0m.8 .4h0m-.3 0h0m5 .1h0m-.7 0h0m.9 .1h0m-1.6 .2h0m1.3 26.1h0m-.6 .3h0m.6 .3h0m-3.6 .1h0m-.4 0h0m.5 .1h0m-.2 0h0m.3 0h0m-.8 .2h0m4.5 .1h0m-1.8 .1h0m-2.3 0h0m2 0h0m-1.9 .2h0m-1.3 .1h0m-.2 0h0m3.4 .1h0m1 .1h0m-3.7 .4h0m-.2 .5h0m1.9 .2h0m-1.7 .1h0m3.1 .1h0m1.7 .5h0m-5.1 .6h0m4.4 .4h0m-4.3 1.1h0m1.4 .9h0m1.8 1.3h0m2.1 -101.4h0m5 3.5h0m-1.2 6.1h0m.9 .6h0m.4 10.8h0m-4.3 .1h0m3.5 3.4h0m.1 3.1h0m.6 .9h0m-4.4 3.2h0m4.3 5.1h0m-2.7 2.1h0m1.6 .1h0m.2 1.7h0m-2.8 2.1h0m2.7 1.1h0m.5 .4h0m.3 .1h0m-.7 2.1h0m-2.3 1h0m.1 1.6h0m-1.1 .2h0m0 .4h0m3.7 .4h0m-.6 .9h0m-.8 0h0m1.3 2.7h0m-1.9 1.2h0m-.9 1h0m.5 1.2h0m1.2 .3h0m2.2 .9h0m-5.3 .5h0m1.9 .4h0m-1.2 .1h0m3.2 .2h0m-3.6 .5h0m3.1 .1h0m1.1 .1h0m-3.9 0h0m1.9 .1h0m-2.2 .4h0m-.5 0h0m2.7 .5h0m-1.5 .8h0m3.9 .6h0m-1.7 .1h0m-3.4 .3h0m2.3 0h0m2.3 .4h0m-2.8 0h0m1.1 .1h0m1.6 0h0m-2.9 .1h0m-1.6 0h0m1.2 0h0m4.6 .1h0m-3.4 .2h0m2.4 0h0m-2.9 .3h0m2.1 .3h0m-2.8 0h0m-.5 .1h0m4 0h0m-4.4 .7h0m1.9 .1h0m1 0h0m-1.8 .1h0m2.1 .1h0m0 0h0m-2.4 .1h0m.7 .3h0m.1 0h0m-.8 0h0m-.6 .1h0m4.1 0h0m-3.2 .1h0m3.4 0h0m-4.2 .1h0m2.9 0h0m.8 .1h0m-.3 0h0m-3.3 .2h0m2.9 .1h0m-2.3 0h0m4 0h0m-3.8 .1h0m-.8 0h0m-.6 .1h0m3.1 .3h0m1.4 .1h0m-2 0h0m-2.6 0h0m.5 0h0m3.5 .2h0m-1.9 0h0m-.9 .1h0m-1.2 0h0m2.8 24.6h0m2.3 .1h0m-1.7 0h0m1.2 .1h0m-.1 0h0m-2.7 .3h0m3.4 .2h0m-3.3 .2h0m.2 0h0m-1.6 .1h0m.9 .2h0m2.9 0h0m-2.4 .1h0m2.9 0h0m-1.7 0h0m.7 .3h0m.1 .2h0m-1.1 0h0m.5 .2h0m-2.1 .1h0m2 .1h0m-3.2 .7h0m1.2 .2h0m1.9 .1h0m1.5 .1h0m-2.4 .2h0m1.3 .1h0m-1.6 .6h0m-1.7 4.4h0m.2 2h0m8.9 -85.2h0m-2.4 10.3h0m3 3.3h0m-3.1 5.1h0m-.4 1.9h0m2.8 4.2h0m-.6 4.4h0m1.3 1.3h0m.3 .1h0m-2.7 1.3h0m2.1 .1h0m1.1 .1h0m-1.3 .1h0m-2.2 1.8h0m-.4 .8h0m2.4 .2h0m-1 .2h0m-1.8 .7h0m5.3 .1h0m-1 1.1h0m-4.4 1.1h0m.7 1.3h0m-.4 .3h0m-.5 .2h0m2.6 1.1h0m2.7 .2h0m-3.7 .3h0m-.6 .2h0m4.4 .1h0m-4.2 1.2h0m1.1 .4h0m1.7 .6h0m-.7 .2h0m-3 0h0m4.1 .9h0m-1.8 .3h0m-1.2 .1h0m.9 .2h0m.9 .3h0m-.1 .5h0m2 0h0m-3.9 .2h0m-.1 .3h0m3.4 .2h0m-3 .1h0m2.7 .3h0m-4.2 0h0m1.9 .3h0m1.5 .1h0m-2 .2h0m1.3 .1h0m-.4 0h0m2 .2h0m-.2 .1h0m-3.6 .1h0m1.8 .1h0m-2.1 0h0m3.9 .2h0m1.7 .1h0m-5.6 0h0m3.4 .1h0m2.2 .1h0m-2.5 0h0m.3 0h0m-1.6 .2h0m1.7 0h0m-1.4 .1h0m.5 0h0m2.1 0h0m-.4 .1h0m-.5 .2h0m-.4 .2h0m1.9 .3h0m-.6 0h0m0 22.1h0m.5 .2h0m-.7 .1h0m-.7 .1h0m0 .1h0m-1.5 .5h0m-2.2 0h0m2.7 .1h0m2 0h0m-1.6 .1h0m-3.1 .2h0m3.7 .1h0m0 0h0m-3.5 0h0m3.8 .1h0m0 .5h0m-3.2 .1h0m2.7 .2h0m-1.1 0h0m-.2 0h0m-.7 .2h0m-1.1 0h0m3 .1h0m-2.9 .1h0m1.9 .6h0m-.9 .2h0m-.9 .6h0m3 .3h0m-3.3 .3h0m3.5 0h0m-2.2 .4h0m-.2 .3h0m.4 1.1h0m6.5 -86.5h0m2.2 12.8h0m.4 8.9h0m0 .5h0m-5.3 1.4h0m2.7 .6h0m.1 3h0m-1.4 1.6h0m.8 .9h0m2.5 2.8h0m-1.3 3.6h0m.9 .7h0m-.8 .6h0m1.3 .4h0m-3.7 1.2h0m3.1 0h0m-3.7 3.1h0m4.2 1.7h0m.8 .6h0m-5.5 .4h0m4.7 1.8h0m-2.8 .7h0m-.7 .4h0m4.1 .7h0m-1.9 1.3h0m.6 0h0m-.6 .2h0m-2.3 .4h0m.6 1h0m-1.5 0h0m1.7 .2h0m.8 .1h0m.3 1h0m2.9 .2h0m-.9 .1h0m-4.6 .1h0m-.3 .3h0m1.2 0h0m1.8 .2h0m1.1 .5h0m-.4 .3h0m.1 0h0m1.4 .1h0m-2.4 0h0m2.6 .2h0m-4.9 .3h0m4.6 0h0m.1 .1h0m-2.5 .8h0m2.9 .3h0m-3.2 .2h0m-1.6 0h0m.4 0h0m3 .4h0m-3.1 .4h0m4.3 0h0m-2.6 .1h0m1.2 .1h0m1.7 .1h0m-2.1 0h0m-1.1 0h0m1.8 .1h0m-2.8 .1h0m1.3 0h0m-2.6 0h0m3.8 .1h0m-1.1 0h0m-1.2 .1h0m2.2 .1h0m1.1 0h0m0 .1h0m-1.1 0h0m.6 .1h0m.4 .1h0m-.6 0h0m-1.3 .1h0m2.1 0h0m-.4 20.2h0m-.8 0h0m-.5 0h0m-.3 .2h0m.1 .1h0m1.4 .1h0m-1.6 .2h0m-.1 .1h0m-.6 .1h0m-1.3 .1h0m3.3 .1h0m1 0h0m-4.5 .1h0m1 0h0m-1.1 .1h0m-.7 0h0m2.2 .1h0m-.4 .1h0m2.8 .1h0m-.4 0h0m-3.8 .1h0m1.8 .2h0m-2 .4h0m1.1 .2h0m-.1 .1h0m-.4 .1h0m-.3 .3h0m3.6 .2h0m.8 0h0m-3.1 .1h0m-1.5 .2h0m3.3 .6h0m-.3 .3h0m1.9 .8h0m-1.4 .7h0m-3.6 0h0m.2 1.6h0m-.4 .3h0m.3 1.4h0m7.7 -94.4h0m.3 8.8h0m3.2 1.5h0m-5 5h0m0 3.3h0m2.6 9h0m1.1 1.2h0m-1.5 10.7h0m.1 1.2h0m.7 3.1h0m-.2 3.8h0m-1.8 1.2h0m-.7 .7h0m1.8 .1h0m1.8 2.6h0m-.2 .1h0m-3.6 1.6h0m2.4 1h0m-.9 .4h0m2.2 .9h0m-1.5 .9h0m-1.6 .2h0m2.6 .8h0m.2 .6h0m-4.2 1.1h0m5.2 0h0m-4.5 .1h0m5.2 .2h0m-1.1 .2h0m-1.3 .4h0m.5 .9h0m1.6 .1h0m-1.1 .3h0m-.2 .4h0m-.8 .2h0m-1 .5h0m-.4 .2h0m.1 0h0m2.9 .1h0m-2.3 .2h0m-1.3 0h0m1.1 .7h0m2.9 .2h0m-.8 0h0m-1.9 .1h0m-.8 .1h0m2.8 0h0m.3 .3h0m.2 .1h0m-1.2 0h0m-2.7 0h0m4.5 .1h0m-.3 0h0m-3.9 .3h0m.6 .1h0m2.6 0h0m.9 .4h0m.2 16.3h0m-.6 .3h0m.2 0h0m-1.2 .1h0m.7 .1h0m.9 0h0m-1.4 .3h0m-2.1 .1h0m1.7 .1h0m-.9 .1h0m2.1 .1h0m-.1 .1h0m-3.3 .1h0m1.7 .4h0m.6 0h0m-.8 0h0m1.6 .1h0m-4.4 0h0m.6 0h0m4.5 .1h0m-.3 .1h0m-4.5 .2h0m2.3 .1h0m-3 .1h0m.3 .1h0m-.5 .3h0m1.4 .1h0m3.9 .1h0m-1.3 0h0m-3.7 0h0m1.4 .3h0m3.7 .1h0m-4.7 .2h0m3.1 0h0m-.1 0h0m.8 .2h0m-.7 .2h0m-2.2 0h0m3.9 .3h0m-4.2 0h0m3.4 0h0m-2.9 .1h0m2.2 .2h0m-3.7 0h0m3.5 .2h0m-3.8 .5h0m1.7 1h0m-.8 .9h0m4.9 .2h0m-5 .2h0m1.3 .2h0m-2 1.7h0m7.5 -63.2h0m-1.6 .6h0m1.2 1h0m.1 7h0m.3 .5h0m3.9 .7h0m-5 3.2h0m1.1 .8h0m.4 2.6h0m.4 3.5h0m.8 .2h0m-1 1h0m2 .3h0m-2.2 .6h0m2.7 .4h0m-.4 1.1h0m-.5 .9h0m-3.1 2h0m1.8 .3h0m1.2 2.4h0m-1.2 1.1h0m-1.1 .5h0m4 1.1h0m-.7 .6h0m-2 .3h0m-1.4 .2h0m-.8 1h0m1.6 .1h0m-.7 .1h0m-1.4 .6h0m4 .1h0m-.2 .2h0m-2.6 .1h0m4 .1h0m-4.3 0h0m1.7 .1h0m-1.1 .3h0m.7 0h0m-2 .2h0m.4 0h0m2.5 .2h0m.8 0h0m0 0h0m.1 .3h0m-3.3 0h0m2.7 .1h0m-1.8 0h0m.3 0h0m-.4 .1h0m3.6 0h0m-3 .1h0m-.7 .1h0m3.7 .1h0m-2.8 0h0m.3 .3h0m2.5 .1h0m-5.1 .2h0m3.8 0h0m-1.4 .2h0m-1.5 .2h0m1.9 0h0m2.2 0h0m-.2 0h0m-.2 .1h0m-2.3 .1h0m3.3 .2h0m-1.9 0h0m.7 .2h0m-1.2 0h0m2.1 .2h0m-1.1 .1h0m1.2 .3h0m.2 .1h0m0 11.1h0m-.5 .5h0m.6 .2h0m-.4 .3h0m.5 .1h0m-1.7 0h0m-.6 .3h0m-.2 .1h0m1.8 .4h0m-2 .1h0m1.3 .4h0m-.2 .1h0m-1.7 0h0m1.8 .1h0m1.2 .1h0m-2.2 .1h0m1.6 0h0m-4.2 .1h0m4 .2h0m.8 0h0m-3.5 0h0m1.6 0h0m-2.8 .1h0m5.1 .2h0m-4.3 0h0m1.6 .2h0m-2.6 .1h0m.4 .1h0m1.9 .2h0m1.4 .1h0m-2.7 .1h0m.1 .1h0m-.6 0h0m4 .2h0m-4.1 .1h0m4.1 .1h0m-1.7 .3h0m-1.1 .3h0m1.7 .2h0m.1 .1h0m1.2 0h0m-4 .2h0m4.2 0h0m-5 .1h0m-.1 .5h0m2.2 .3h0m.6 .1h0m.1 .1h0m-2.6 .1h0m1.9 .3h0m-1.1 0h0m4.2 .1h0m-1.8 .2h0m-1.3 0h0m-1.9 .4h0m-.5 .3h0m.9 .1h0m1.3 .5h0m2.6 .5h0m.1 .3h0m-3.1 .5h0m3.4 7.3h0m5.7 -99.6h0m-4.6 13.3h0m1.1 2h0m2.3 10.8h0m-2.1 15.3h0m.3 .3h0m-1.1 2.1h0m.8 .3h0m2.8 1.4h0m-4.2 2.9h0m2.8 .3h0m2.6 .3h0m-3.2 1.5h0m-1 .3h0m.4 3.1h0m2.9 4.4h0m-1.3 0h0m-1.4 1.4h0m2.7 1h0m-.3 .4h0m-1.7 1.7h0m2 .4h0m.9 1.5h0m-.7 .4h0m-2.8 1.3h0m-1.5 .1h0m1.9 .2h0m-1.2 0h0m1.7 .4h0m-1.8 0h0m-.7 .2h0m4.9 .2h0m-5.2 .2h0m2.3 .2h0m.5 0h0m.6 .7h0m1.2 .1h0m-.3 .2h0m.1 .2h0m-3.2 0h0m.2 .1h0m3.8 .1h0m.2 .5h0m-1.5 0h0m-1.4 0h0m-1.8 0h0m-.1 0h0m2 .2h0m-3 0h0m3.9 0h0m1.9 .1h0m-2.7 0h0m.1 .2h0m2.2 .1h0m-.1 .2h0m-.6 .1h0m-4.5 .1h0m2.6 0h0m-1.7 .1h0m1.5 .1h0m-2.7 0h0m2 .2h0m-1.6 0h0m1.8 .1h0m1.2 .1h0m.8 0h0m.3 0h0m-3.1 .1h0m3.8 .1h0m.1 0h0m-4.3 .1h0m3.5 0h0m-.9 0h0m-.7 .1h0m1.4 .1h0m-2.8 0h0m0 0h0m-.3 .1h0m1.9 0h0m1.8 .2h0m.9 0h0m-1.2 0h0m1 .1h0m-3.2 0h0m1.2 0h0m.3 .2h0m-2.3 0h0m2.4 0h0m-.5 0h0m-.6 .1h0m-.9 .2h0m1.9 0h0m1.7 0h0m-1.2 .1h0m1 0h0m-.1 0h0m-3.4 0h0m1.5 .1h0m-.9 0h0m2 .1h0m-.7 .1h0m2.1 .1h0m-1.3 .1h0m-2.1 .2h0m-.6 .1h0m1.3 0h0m.9 .1h0m.5 .1h0m.1 .3h0m.3 0h0m-.8 .1h0m-.9 .1h0m-1.2 .1h0m1 0h0m1 .1h0m-1.4 0h0m-.4 .1h0m1.8 0h0m-.7 0h0m-.8 0h0m3 .2h0m-1.9 .1h0m-.5 0h0m-1 .1h0m2.3 .1h0m-.9 0h0m.5 0h0m-.2 0h0m-1.9 .2h0m.8 0h0m2.8 0h0m-1.4 .1h0m-1.4 .1h0m.3 .1h0m1 0h0m-1.5 0h0m3.2 .1h0m-2.1 0h0m-.7 .1h0m2 0h0m-2.8 .1h0m3 .1h0m-2.3 0h0m-.8 .1h0m2.4 0h0m.1 .2h0m.3 .1h0m-2.2 .1h0m2.8 0h0m-3.1 .1h0m3.3 .1h0m-3.4 .1h0m3.6 .1h0m-.7 .1h0m-2 0h0m.4 .3h0m-1.4 .1h0m2.3 .1h0m0 .1h0m-1 0h0m1.8 .1h0m.4 .3h0m-2.4 0h0m-.4 .1h0m-.2 .2h0m-.2 .1h0m1.2 0h0m1.3 0h0m-1.9 .1h0m-1 .1h0m1.9 0h0m.6 .1h0m-.6 0h0m-.5 .2h0m-1.5 0h0m3.6 .1h0m-.1 0h0m-.5 .1h0m-1.9 0h0m1.2 .1h0m.4 0h0m-1.8 .1h0m1.2 .1h0m-1 0h0m-.5 .2h0m-.4 .1h0m-.8 .2h0m3.5 .1h0m.7 0h0m.2 .2h0m-1.4 .1h0m.4 0h0m-3.2 0h0m2.3 0h0m-1.8 .1h0m3.2 0h0m-.7 0h0m-3.7 0h0m.8 .1h0m.3 0h0m3.8 .1h0m-1.6 0h0m-2.4 .2h0m-.1 0h0m3.8 0h0m.4 .1h0m-5.3 .1h0m1.8 0h0m-1.9 .1h0m4.9 0h0m-3 .2h0m3 0h0m-2.9 .1h0m2.6 0h0m-2.1 0h0m-1.5 .1h0m2.1 0h0m-1.2 0h0m-.1 0h0m-.3 0h0m2 0h0m-.9 .1h0m-.1 0h0m2 0h0m-.4 .1h0m-3.3 0h0m4.2 0h0m-1.5 0h0m-3.5 0h0m2.2 0h0m-1.8 .2h0m4.6 .2h0m-4.7 0h0m.4 0h0m.9 .2h0m-1.6 .1h0m3.6 .2h0m-2 0h0m1.2 .1h0m-2.4 .1h0m-.7 .1h0m3.8 .1h0m-1.6 0h0m1.2 .1h0m1.3 0h0m-2.3 .1h0m-1.1 .1h0m1.9 0h0m-3.2 0h0m3.8 .1h0m0 .1h0m1.8 .1h0m-3.5 .1h0m2.6 .1h0m-2.9 .1h0m3.1 0h0m-2.8 .1h0m2.8 0h0m-2.1 0h0m-3 .4h0m1.6 0h0m4.1 .2h0m-1.4 0h0m-.2 0h0m1.5 .1h0m-4.4 0h0m4.7 .2h0m-3.5 0h0m-2.3 .3h0m3.2 .1h0m.7 .1h0m-2.4 .2h0m1.9 .1h0m-3.3 .1h0m3.8 0h0m-.3 .3h0m-1.8 0h0m.4 .2h0m1.2 .1h0m-3.3 .1h0m5.7 0h0m-1.3 .1h0m-.6 .8h0m-.6 .1h0m-.6 .3h0m2.5 .1h0m-2.4 .8h0m2.4 .2h0m-1.3 0h0m2 .8h0m-2.1 .7h0m-.6 .1h0m-1.8 .3h0m-.9 .2h0m2 .1h0m3.4 .3h0m-5.9 .1h0m2.2 .5h0m.4 .1h0m.4 .3h0m.5 .1h0m3.2 -84.9h0m-.2 9.4h0m0 3.3h0m5.2 4.1h0m-4.7 3.7h0m3 1.5h0m1.2 1.4h0m-5.2 8h0m3.5 2.1h0m-2.7 1.4h0m-.5 6.5h0m2.5 3.2h0m.4 2.2h0m-1.8 .9h0m.5 .1h0m.6 1.3h0m2.9 .2h0m-1.2 2h0m-3.2 .3h0m4.8 .3h0m-.4 .4h0m-1 0h0m-.3 .9h0m-1.8 .2h0m-1.3 0h0m-.3 .6h0m-.6 .3h0m2.6 1h0m-2.1 .1h0m1 .1h0m3.1 .2h0m-1.4 .4h0m1.6 .1h0m-1.2 .2h0m-2.5 .2h0m.9 0h0m2.8 .2h0m-4.8 .6h0m3.1 .8h0m-2.4 .2h0m4.3 .4h0m-1.7 .6h0m.3 .4h0m-1.8 .1h0m-1.6 .1h0m3.5 .3h0m-2.1 .2h0m.4 .1h0m-1.4 .5h0m2.8 .4h0m-2.9 .1h0m4.9 .2h0m-5.4 .4h0m5.3 .5h0m-4.9 .1h0m.6 .1h0m4 0h0m-2.6 .1h0m3 .1h0m-2.9 .1h0m-2.4 0h0m5 .3h0m-3.8 .3h0m-1.2 .1h0m2.5 .1h0m-.7 .2h0m0 0h0m1.1 .3h0m.6 0h0m-.4 .1h0m.7 .2h0m-3.5 0h0m3 .2h0m-1 0h0m1.9 0h0m-3.4 .1h0m-.9 .1h0m3.5 .1h0m-.3 .1h0m-2.3 0h0m-.2 0h0m4.7 .1h0m-4 0h0m-.2 0h0m-.3 .1h0m.9 .2h0m.4 .1h0m1.4 .1h0m-3 0h0m4.5 .1h0m-.8 .1h0m-3.7 .1h0m5.1 0h0m-2.8 .1h0m-2.6 .1h0m2.3 0h0m1.6 .1h0m-.1 .2h0m-2.1 .1h0m-1.7 0h0m2.7 0h0m-2.5 0h0m.4 0h0m.1 .2h0m.2 0h0m-.1 0h0m2.1 .1h0m-.9 .1h0m-2.3 .1h0m2.3 0h0m2.7 0h0m-3.4 .1h0m2.1 .1h0m-.4 0h0m1.7 .2h0m-3.6 0h0m-.1 0h0m-.9 .2h0m3 0h0m-2 .1h0m1.9 .1h0m2.2 .1h0m-4.9 0h0m1.7 .1h0m-1.6 .4h0m.4 .1h0m-1 0h0m1.4 0h0m2.8 .1h0m.4 .1h0m.8 0h0m-.5 .2h0m-4.1 .1h0m4.6 0h0m.2 .1h0m-4.5 0h0m.9 .1h0m-2.1 0h0m2.5 0h0m-.5 0h0m-1.3 .1h0m3.9 .1h0m1.1 .1h0m-2.8 0h0m-1.5 .1h0m2.9 0h0m-1.2 .1h0m2.4 0h0m-2.8 .1h0m2.4 0h0m-4.9 .1h0m1.6 0h0m2.3 .1h0m1.4 .1h0m-2.1 .2h0m.8 0h0m0 0h0m-.3 0h0m.6 .3h0m-1.5 .1h0m2.6 .1h0m-3.5 0h0m-.8 .1h0m-1.3 .2h0m4.8 0h0m-3.9 .2h0m2.5 0h0m-2.9 0h0m3.8 .1h0m.3 0h0m-1.7 .1h0m-1.3 0h0m.2 0h0m2.1 .1h0m-3.8 0h0m.1 0h0m3.5 .1h0m-3.1 0h0m4.5 .2h0m-4.2 0h0m4.1 0h0m-4.5 0h0m2.7 .1h0m-1.5 .1h0m-1.5 0h0m1.4 .1h0m3.7 .1h0m-.8 0h0m.1 0h0m1 0h0m-5.6 .2h0m1.6 0h0m2.9 .1h0m-3.7 .1h0m4.3 0h0m-2.3 .1h0m-.6 .1h0m.6 .2h0m-1.9 0h0m2.6 .1h0m1.3 .1h0m.7 .1h0m-3.5 .1h0m2.2 0h0m-2.4 0h0m2.8 0h0m-2.7 .1h0m.9 .5h0m1.7 0h0m-.7 0h0m1 0h0m.3 .1h0m-1.9 0h0m-1.3 .2h0m3.6 0h0m-3.1 .1h0m1.4 .1h0m-2 0h0m2.6 .1h0m-.4 .1h0m-.8 0h0m-1.1 .1h0m-.7 0h0m2.6 .1h0m1.3 .1h0m-.1 0h0m-4 0h0m.8 .1h0m-.9 .1h0m-.4 0h0m0 .1h0m1.7 0h0m1.6 .1h0m1.4 0h0m-2.9 0h0m2.3 0h0m-4.5 0h0m1.4 .1h0m.5 .1h0m1.9 0h0m-.4 0h0m2 .4h0m-1.2 .1h0m-4.1 .7h0m-.1 .1h0m1 .1h0m2.3 .2h0m-1.5 0h0m1.7 .3h0m.1 0h0m-1.7 0h0m1.3 .3h0m-1.8 0h0m4 .1h0m-2.4 .2h0m.6 .1h0m-3.2 0h0m4.2 .1h0m-5 0h0m5.2 .2h0m.4 .3h0m-2.3 0h0m-3.3 .1h0m2.6 0h0m-.8 .2h0m3.5 .1h0m-1.5 0h0m-2.6 .4h0m3.5 .6h0m-1 .1h0m-2.9 .2h0m3.2 0h0m-1.2 .1h0m1.6 .3h0m.2 .1h0m-.2 1.5h0m-2.4 .1h0m-.7 .1h0m-.5 .3h0m2.4 .1h0m.4 .8h0m-2.1 4.5h0m.4 2.7h0m6.1 -79.5h0m3.2 1.7h0m-.4 1.9h0m-2.7 .4h0m-1.5 6.3h0m4 4.4h0m-.5 3.6h0m1.1 2.2h0m.5 .8h0m-2.2 2.4h0m-3.6 .4h0m.6 2.4h0m5.3 .3h0m-3.7 .2h0m1.9 .9h0m-3.6 1.7h0m-.5 .2h0m1 5h0m-.9 .5h0m5.8 .1h0m-1.6 3.4h0m-.6 .2h0m1.7 3h0m-5.3 .7h0m3.1 .3h0m-2.3 0h0m-.6 1h0m4 2h0m.8 1.1h0m-2 .3h0m2.3 .5h0m-1.1 .6h0m-.7 .1h0m-1.3 1h0m-2.3 .1h0m4.6 0h0m-4.5 .2h0m.1 0h0m2.4 0h0m-2.6 .1h0m1.8 0h0m-1.3 .2h0m3.2 .3h0m-3.3 0h0m.6 .1h0m-.2 .1h0m4.5 .2h0m0 .2h0m-.5 .2h0m-4.4 .1h0m1.8 .1h0m3.6 0h0m-.4 .1h0m.5 .9h0m-1.8 0h0m-3.5 .1h0m0 .1h0m4.9 0h0m-2.3 .2h0m1.7 .2h0m-2.7 0h0m-1 .1h0m.8 .1h0m1.6 .2h0m.6 .1h0m-1 0h0m-1.5 .1h0m-.5 0h0m-.2 .1h0m.9 .2h0m2.4 .1h0m.4 .2h0m-4.7 .2h0m1.3 .2h0m-.6 0h0m3.6 0h0m-2.6 .2h0m.4 0h0m1.1 .1h0m-1.5 .3h0m3.3 .1h0m-3.2 .3h0m-1.5 .2h0m5.5 0h0m-2.3 .4h0m.5 .1h0m-2.2 0h0m3.3 .1h0m-4.1 .4h0m-.9 0h0m.8 0h0m1.2 0h0m.8 0h0m-2.3 .2h0m2.6 .1h0m2.7 .1h0m-4.3 0h0m3.9 .1h0m-1.7 0h0m-.2 .1h0m1.2 .1h0m-2.8 0h0m.9 .3h0m-1.5 0h0m.4 .1h0m1 0h0m1.6 0h0m-1.9 .1h0m.5 0h0m1.1 0h0m-2.1 .1h0m3.1 0h0m-.3 .2h0m-4.2 0h0m1.9 .2h0m.5 .1h0m2.4 .1h0m-1.3 0h0m-3.7 .1h0m4.8 0h0m-3.9 .2h0m3.8 0h0m-.8 .1h0m-1.2 0h0m-2.2 0h0m1.8 .1h0m.8 0h0m1.5 .1h0m-3.7 0h0m.8 .1h0m1.3 0h0m-1.1 .1h0m1.7 .1h0m0 .1h0m1.1 0h0m-4 .2h0m2.2 .1h0m.5 .1h0m-3 .2h0m0 0h0m3.8 .3h0m-1.7 0h0m-.8 0h0m-2 .2h0m4.5 0h0m-3 0h0m4.3 .6h0m-1.8 .1h0m-2.2 0h0m-.3 .1h0m-1.5 0h0m.3 .2h0m.2 .1h0m-.2 .3h0m3.7 .2h0m-3.6 0h0m3.6 .1h0m-3.4 .2h0m1.3 .1h0m-.9 .3h0m-.7 0h0m.6 .3h0m.7 0h0m-1 0h0m-.5 0h0m3.4 .1h0m.1 .1h0m-1.4 0h0m-.1 .2h0m-.2 .2h0m-1.3 .1h0m1.1 .3h0m-1.1 0h0m2.5 .1h0m-.7 .1h0m1.4 .1h0m-2.7 .2h0m.6 .1h0m2.4 .2h0m-2 .1h0m-.5 .1h0m-.7 0h0m4.7 .1h0m-.1 .2h0m-3.3 .1h0m2.3 0h0m-3 .1h0m-.5 .7h0m2.7 .4h0m-1.3 .2h0m.2 .1h0m-1 0h0m1.8 .3h0m-.2 .6h0m-1.8 0h0m1.2 .2h0m1.1 .1h0m-1.9 .6h0m3.1 .2h0m-.7 .2h0m-2.7 .5h0m3.4 1h0m-1.1 1.4h0m-2.5 1.5h0m3.4 .8h0m-3.7 1.3h0m1.2 .1h0m6 -80.3h0m2.8 4.7h0m-.7 6.7h0m-1.3 10h0m1.7 3h0m.8 .3h0m-3.1 .2h0m2.4 .3h0m-.6 .4h0m1.2 .1h0m-5.2 0h0m5 .4h0m-1.1 .1h0m.4 .3h0m0 .8h0m-1.7 .5h0m.6 .1h0m-3.4 .1h0m2.7 1.5h0m-1.6 .9h0m-1.1 1.3h0m0 1.4h0m.8 .8h0m0 .9h0m2.8 .3h0m-1.1 2.2h0m1.1 3.9h0m-3.6 .7h0m4 2.3h0m.4 5.8h0m-.1 1.2h0m-1.4 2.4h0m-.8 .5h0m3.6 .1h0m-5.8 .2h0m1.5 .5h0m.1 .3h0m4 0h0m-4.1 .2h0m-1.2 .3h0m0 .8h0m3.6 .1h0m-2.1 .4h0m2.1 .4h0m-2.9 .6h0m2.8 .3h0m-.5 .2h0m-.4 .2h0m-1.5 .5h0m2.3 .2h0m-1 .6h0m1 .1h0m-.5 .2h0m-2.6 0h0m4.2 .1h0m-4.2 .1h0m1.7 .1h0m2.9 0h0m-3.2 .1h0m.3 .2h0m-1.7 .4h0m3.2 .2h0m-2.5 0h0m1.4 .3h0m-.7 .4h0m3 0h0m0 0h0m-.6 0h0m-4.3 .2h0m2.2 .2h0m2.3 0h0m0 .2h0m-3.5 .1h0m.6 .1h0m3.9 .1h0m0 .2h0m-.9 .2h0m.6 .1h0m-5 .1h0m1.2 .1h0m-1.2 .1h0m.3 0h0m.8 .4h0m-.4 0h0m-.7 .1h0m.3 .1h0m3.8 0h0m-1.9 .1h0m.6 0h0m1 .1h0m-1.6 .1h0m.8 0h0m-2.2 0h0m.2 0h0m3 .1h0m-.4 .2h0m-2.9 .1h0m-.1 .1h0m3.4 0h0m-2.7 .1h0m3.9 .1h0m-5.5 .4h0m4.3 .1h0m0 0h0m1.2 .2h0m-2.5 .2h0m-2.1 .4h0m.3 .3h0m3.4 .2h0m-1.9 0h0m2.5 0h0m.3 0h0m-1.5 .1h0m.7 .6h0m.9 .3h0m-4.1 .5h0m-.3 .1h0m4.7 0h0m-4.7 0h0m-.7 .2h0m3 .1h0m-1.3 .3h0m-2 .4h0m3.2 .4h0m1.4 .1h0m-1.5 .1h0m-.1 0h0m2.4 .7h0m-1 .2h0m-4.4 .7h0m1 .2h0m.1 .6h0m-.8 .3h0m-.1 1.1h0m2.1 .2h0m1.7 .8h0m-1.6 1.1h0m1.8 .3h0m-2.2 .1h0m4 -74.3h0m.4 9.4h0m5.1 5.7h0m-.1 .3h0m-.5 .4h0m-2.9 .1h0m.7 .9h0m-.8 1.2h0m.4 .6h0m.7 .1h0m-2 .3h0m0 .1h0m.3 .1h0m1.1 .3h0m-1.3 .3h0m-.9 .8h0m.1 .2h0m.9 .6h0m-.6 1.8h0m1.7 12.6h0m2.5 0h0m-4.2 .2h0m4 2h0m-2.1 2.9h0m-1.9 1.2h0m-.1 5.8h0m3.2 1.8h0m1.7 .6h0m-5.3 .6h0m1.7 .4h0m.3 .2h0m.1 .5h0m-.8 0h0m1.2 .1h0m1.3 .2h0m1 .5h0m-2 0h0m-1.1 0h0m2.8 1h0m.9 .5h0m-4.2 1.5h0m.5 0h0m-.8 .2h0m4.7 0h0m-3.4 .3h0m-1.4 .2h0m.5 .2h0m2.5 .2h0m-2.1 0h0m.3 0h0m.4 .3h0m.7 .3h0m2.3 .5h0m-.7 .3h0m-.8 .2h0m-2.8 .1h0m-.5 0h0m4.1 0h0m-3.7 .5h0m.9 .3h0m-.1 0h0m-.2 .2h0m2.5 .6h0m-3.1 0h0m-.4 .2h0m2.3 0h0m-1.1 0h0m-.6 .1h0m-1.2 0h0m3.4 .7h0m1 .1h0m-4.3 0h0m1.6 .1h0m1.6 .1h0m0 0h0m-3.4 .1h0m2.5 .2h0m-1 0h0m-.6 .1h0m-.4 .4h0m2.7 .2h0m-1.5 0h0m-1.1 .1h0m4 .1h0m-2.4 .7h0m0 .3h0m-1.9 .2h0m2.6 .8h0m1.5 .1h0m.5 .1h0m-.8 .1h0m-.1 .3h0m-3.9 0h0m5.7 .1h0m-3.4 .3h0m-.6 .1h0m.3 .4h0m.4 0h0m2.5 0h0m-2.2 .8h0m-.6 .1h0m1.4 .5h0m-2.3 .2h0m2.9 .2h0m-4.3 .2h0m1.5 .1h0m3.7 0h0m-4.8 0h0m1.9 .1h0m-2.1 .1h0m4.5 .4h0m-2.6 .8h0m2.5 .7h0m-4.6 .5h0m4.1 .9h0m-3.7 1.2h0m6.5 -76.5h0m-.9 8.9h0m1.2 3.6h0m.4 15.1h0m3 3.6h0m-2.7 4.8h0m3.1 6.9h0m-3 11h0m-1.4 3.3h0m3 1h0m-1.7 .4h0m-1.4 1.1h0m3.9 .3h0m-4 .9h0m4.6 .6h0m-4.4 0h0m-.3 0h0m.9 0h0m.6 .3h0m.7 .2h0m-2.5 .1h0m3.6 0h0m0 .7h0m-.8 .1h0m-2.8 .1h0m5.3 .1h0m-1.3 .2h0m-3.6 .4h0m4.7 .1h0m.6 .1h0m-.8 .2h0m-1.9 .3h0m-1.2 .5h0m-1.1 .1h0m2.9 .2h0m-2.7 .9h0m.5 .1h0m1.4 .9h0m-2 .3h0m3.7 .1h0m-2.5 0h0m.2 .2h0m1.6 .2h0m1.2 .4h0m.7 .4h0m-1.3 1h0m1 .1h0m-5 .1h0m2.9 .6h0m2.6 .1h0m-3.7 .8h0m-1.3 1.5h0m3.3 1h0m.5 .8h0m-3.6 1h0m-.1 2.9h0m6.7 -43.6h0m-1.5 3.7h0m4.5 .2h0m-.1 3h0m-3.5 1.1h0m1 1h0m.8 6.9h0m1.4 1.1h0m.9 3.6h0m-.2 3.1h0m.1 2.2h0m-2.8 .9h0m1.3 .7h0m-3.2 .4h0m4 .6h0m-2.5 .4h0m-1.6 .2h0m-.2 .3h0m4.7 .1h0m.6 .2h0m-.2 .5h0m.6 0h0m-4.8 .3h0m1.3 .1h0m.4 .2h0m-.2 .3h0m2.6 .3h0m-3.7 .1h0m-.8 0h0m.9 .1h0m4.2 0h0m-1.2 .2h0m0 .1h0m-.1 .2h0m1 .1h0m-1.3 .3h0m1.7 .2h0m-2.1 .3h0m-2.4 .1h0m4.3 .1h0m-3.4 .7h0m-.2 .4h0m.1 0h0m-.6 .3h0m3.8 .2h0m.3 .1h0m-5.6 .3h0m2 .9h0m2 .2h0m-1 .7h0m2.3 .1h0m-3.7 .7h0m.8 1h0m-2 .4h0m3.8 1h0m-1.1 .5h0m-.7 .2h0m.1 .2h0m1.2 2.6h0m-2 .2h0m10.1 -70.5h0m-.5 40.1h0m-4.1 2.5h0m-.9 1.2h0m4.7 6.1h0m-2 1.1h0m.4 .3h0m-2.5 .5h0m3.5 .6h0m-3.6 .9h0m4.1 .7h0m-4.3 .1h0m5.2 .5h0m-3.5 .1h0m.1 .1h0m1.9 1.2h0m-2.1 .1h0m-1.6 .3h0m4.6 .2h0m-2.3 .5h0m-.9 0h0m2.5 0h0m-4.4 .5h0m.4 1.7h0m1.6 .1h0m-1.9 .4h0m.4 .1h0m2.5 0h0m-1.9 .1h0m.3 .3h0m1.5 .1h0m-3 .1h0m3.4 .2h0m-2.4 .5h0m3.3 1.1h0m-.8 1.1h0m-2.4 .2h0m.7 .6h0m-1.8 .4h0m2.3 .7h0m.9 .1h0m8.5 -39.7h0m-4.8 20.7h0m2.8 .7h0m-.9 1.6h0m1.8 1.1h0m-4.2 1.7h0m3.7 1.3h0m-3 .8h0m3.7 2.1h0m-3.9 .8h0m1.2 .6h0m3.4 1h0m-.8 .1h0m-4.3 .6h0m-.5 .3h0m1.7 .4h0m4.2 1h0m-3.9 2.5h0m-.7 0h0m.4 4.8h0m1.2 .2h0m6.8 -55.3h0m-3.4 15.9h0m3.6 18.8h0m1.6 4.3h0m-1.9 4.8h0m-3.5 1.7h0m.1 .1h0m.7 1h0m-.8 .6h0m4.8 .4h0m.2 .2h0m-4.9 .1h0m2.2 .5h0m.3 2.1h0m-1.8 1.8h0m1.3 1.3h0m1.3 1h0m-1.5 6h0m.1 1h0m4.7 -23.6h0m2.3 3.2h0m-2.8 2.7h0m.7 .5h0m.7 2.4h0m-.7 .4h0m-.8 1.2h0m.9 .2h0m15.4 -17.5h0m-4.3 14.5h0" fill="none" stroke="#000" stroke-width="1.2" stroke-linecap="square"/>
<path d="M547.6 413.5l2.5-.1l1.5 .2l.8 .4l.2 .5l-.1 1l-.2 .5l-.8 .5l-2.9 .8l-3.5 .4l-1.3-.7l-.3-.5l-.1-1l.2-.7l.5-.6l1-.5zM547.9 411.5l6.7-.3l2 .2l1.5 .3l1 .6l.4 .7l.1 1.5l-.1 1l-.8 1l-.8 .5l-1.8 .7l-2.5 .7l-8 1.3l-1.5-.2l-1-.4l-1.2-1.1l-.6-1.5l0-1.5l.6-1.5l.9-1l1.3-.6zM548.4 409.5l9.7-.4l3.5 .2l2.5 .5l1.6 .7l.8 1l.2 1.5l-.2 2l-.5 1l-.5 .5l-1.6 1l-2.5 1l-3.3 .9l-4.5 1l-8 1.3l-2-.2l-1.5-.6l-1.7-1.4l-1-2l-.2-2.5l.5-2l1.1-1.5l1.8-1.2l2-.6zM549.3 407.5l12.8-.3l4.5 .2l3.5 .6l2.4 1l.9 1l.3 1.5l-.1 3l-.9 1.5l-2 1.5l-3.5 1.5l-4.6 1.3l-6.5 1.5l-10.5 1.9l-2.5-.3l-2-.7l-1.5-1.1l-1-1l-.7-1.1l-.6-1.5l-.3-1.5l0-1.5l.3-1.5l.5-1.5l.8-1.2l1-1l1-.8l1.5-.7l2-.5zM550.7 405.5l8.9-.2l7 0l5.5 .4l4.4 .8l2.5 1l.7 .5l.8 1l.3 2l-.2 3l-.4 1l-.8 1l-1.3 1l-1.9 1l-4.6 1.8l-7 2l-8.5 1.9l-10.5 2l-3-.3l-1.5-.5l-1.5-.7l-1.5-1.1l-1.1-1.1l-1-1.5l-.8-2l-.3-2l0-2l.4-2l1-2l1.1-1.5l1.2-1.1l1.5-1l1.5-.6l2.5-.5zM554.5 403.5l10.1-.1l8 .3l6.5 .7l4.5 .9l2.6 1.2l.6 .5l.7 1l.4 2l0 2l-.3 1.5l-.8 1.5l-1 1l-2.3 1.5l-2.4 1.1l-7.5 2.7l-11.5 2.9l-17 3.5l-2.5-.3l-2-.5l-2-.9l-1.5-1l-1.6-1.5l-1.3-2l-.9-2l-.5-2.5l0-2.5l.5-2.5l.8-2l1.4-2l1.5-1.5l1.6-1.1l1.5-.7l2-.6l2.5-.4zM542.1 402l2.5-.3l3.5 0l21 .1l10 .5l8 1.1l4.5 1.3l1.6 .8l1 1l.5 1l.2 1l-.1 4l-.4 1l-.7 1l-1 1l-1.4 1l-4.7 2.3l-6.5 2.4l-13 3.6l-21.5 4.9l-3.5-.3l-2.5-.7l-2-.9l-2-1.3l-2-2l-1.3-2l-.9-2l-.6-2.5l-.2-2.5l.2-2.5l.7-2.5l1-2l1.5-2l1.6-1.6l2-1.3l2-.9zM541.9 400l3.7-.3l15.5 .1l11 .3l11.5 .8l9 1.2l5.4 1.4l1.6 .7l1.1 .8l.8 1l.4 1l.1 2l-.1 2.5l-.6 1.5l-.7 1l-2.6 2l-5 2.5l-7.4 2.7l-6.5 2.1l-9 2.5l-24.5 5.9l-4-.3l-2.5-.7l-3-1.4l-2-1.4l-2-1.9l-1.7-2.5l-1.1-2.5l-.6-2.5l-.2-3l.3-3l.7-2.5l1.1-2.5l1.5-2.1l2-1.9l2.5-1.7l2.5-1.1z" fill="none" stroke="#6a6a6a" stroke-width="0.5" stroke-linejoin="round"/>
<rect x="517.6" y="298" width="166.8" height="167" stroke="#333" stroke-width="0.9" fill="none"/>
<rect x="604.8" y="301.6" width="73.4" height="98.9" stroke="#1a1a1a" stroke-width="0.8" fill="none"/>
<rect x="515.6" y="298" width="2" height="167" fill="#b5b5b5"/>
<path d="M515.6 327.5h2M515.6 358.5h2M515.6 395.5h2M515.6 439.5h2" stroke="#555" stroke-width="1.2" fill="none"/>
<path d="M515.6 348.5h2M515.6 343.5h2M515.6 339.5h2M515.6 336.5h2M515.6 333.5h2M515.6 331.5h2M515.6 330.5h2M515.6 328.5h2M515.6 383.5h2M515.6 377.5h2M515.6 372.5h2M515.6 369.5h2M515.6 366.5h2M515.6 363.5h2M515.6 361.5h2M515.6 359.5h2M515.6 317.5h2M515.6 312.5h2M515.6 308.5h2M515.6 305.5h2M515.6 401.5h2M515.6 405.5h2M515.6 407.5h2M515.6 409.5h2M515.6 411.5h2M515.6 412.5h2M515.6 421.5h2M515.6 422.5h2M515.6 424.5h2M515.6 426.5h2M515.6 428.5h2M515.6 432.5h2M515.6 427.5h2M515.6 421.5h2M515.6 416.5h2M515.6 413.5h2M515.6 410.5h2M515.6 407.5h2M515.6 405.5h2M515.6 403.5h2" stroke="#777" stroke-width="1.0" fill="none"/>
<rect x="515.6" y="412.4" width="2" height="9.2" fill="#000"/>
<path d="M530.5 465v4.3M602.5 465v4.3M637.5 465v4.3M670.5 465v4.3M560.5 465v4.3M572.5 465v4.3" stroke="#111" stroke-width="1.2" fill="none"/>
<path d="M612.5 465v2.5M618.5 465v2.5M623.5 465v2.5M626.5 465v2.5M629.5 465v2.5M631.5 465v2.5M633.5 465v2.5M635.5 465v2.5M647.5 465v2.5M652.5 465v2.5M656.5 465v2.5M660.5 465v2.5M662.5 465v2.5M664.5 465v2.5M666.5 465v2.5M668.5 465v2.5M680.5 465v2.5M573.5 465v2.5M575.5 465v2.5M578.5 465v2.5M581.5 465v2.5M585.5 465v2.5M592.5 465v2.5M559.5 465v2.5M557.5 465v2.5M554.5 465v2.5M551.5 465v2.5M547.5 465v2.5M540.5 465v2.5M520.5 465v2.5" stroke="#444" stroke-width="1.0" fill="none"/>
<rect x="560.8" y="465" width="11.2" height="3.6" fill="#000"/>
<text x="542.6" y="484.3" font-size="9.3" font-weight="bold" text-anchor="end" fill="#111" textLength="17" lengthAdjust="spacingAndGlyphs">&#8722;10</text>
<text x="543.2" y="477.5" font-size="9.6" font-weight="bold" text-anchor="start" fill="#111">3</text>
<text x="569" y="484.3" font-size="9.3" font-weight="bold" text-anchor="middle" fill="#111">0</text>
<text x="611.9" y="484.3" font-size="9.3" font-weight="bold" text-anchor="end" fill="#111" textLength="11" lengthAdjust="spacingAndGlyphs">10</text>
<text x="612.5" y="477.9" font-size="9.6" font-weight="bold" text-anchor="start" fill="#111">3</text>
<text x="646.6" y="484.3" font-size="9.3" font-weight="bold" text-anchor="end" fill="#111" textLength="11" lengthAdjust="spacingAndGlyphs">10</text>
<text x="647.2" y="477.9" font-size="9.6" font-weight="bold" text-anchor="start" fill="#111">4</text>
<text x="679.6" y="484.3" font-size="9.3" font-weight="bold" text-anchor="end" fill="#111" textLength="11" lengthAdjust="spacingAndGlyphs">10</text>
<text x="680.2" y="477.9" font-size="9.6" font-weight="bold" text-anchor="start" fill="#111">5</text>
<text x="644.5" y="326.1" font-size="16" text-anchor="middle" fill="#111">1.4%</text>
<path d="M309.7 422V510.4H478" stroke="#000" stroke-width="1.5" fill="none"/>
<path d="M309.7 416l-4.2 8.2h8.4z" fill="#000"/>
<path d="M484 510.4l-8.2 -4.2v8.4z" fill="#000"/>
<text x="484.6" y="518.3" font-size="16.05" font-weight="bold" text-anchor="start" fill="#000">S-2P-AF647</text>
<text x="318" y="367" font-size="15.95" font-weight="bold" text-anchor="middle" fill="#000" transform="rotate(-90 318 367)">S-2P-FITC</text>
<path d="m353.8 679.4h0m-4.8 5.3h0m.9 12h0m.1 9.5h0m2.3 .5h0m-3.3 .3h0m4.2 2.3h0m.1 7.9h0m-3 13.3h0m1.9 8.9h0m-.3 3.7h0m-2.2 4.9h0m9.3 -68.5h0m.6 2.3h0m-2.4 1h0m2.4 .3h0m-5.3 1.1h0m3.3 .8h0m-2.1 .1h0m.3 1.9h0m-.4 .4h0m3.1 .1h0m-2.2 2.2h0m-.4 .7h0m1.7 1.7h0m.3 1h0m1.5 1.8h0m-1.2 4.5h0m-3.1 .5h0m.9 2.7h0m3.3 2.3h0m.5 7h0m-4 .1h0m1.6 1.8h0m-2.3 .2h0m4.4 .8h0m-1.2 3.3h0m.9 1.9h0m-4.6 5.8h0m3.8 .2h0m-1.8 4.6h0m-.6 1.9h0m-1.2 3h0m1.5 7.9h0m8.2 -68.7h0m-3.7 2.6h0m4.2 2.3h0m.4 1.3h0m-.2 .7h0m-.2 1.2h0m-3.5 .2h0m1.4 .1h0m1.8 .7h0m1 0h0m-2 .5h0m1.9 2.3h0m-.3 0h0m0 .5h0m-1.3 .5h0m-.9 2.4h0m.4 .4h0m-2.5 .1h0m5 .6h0m-1.8 1.9h0m1.2 2.4h0m-3.2 .6h0m-1.6 .8h0m4.9 .6h0m0 1.8h0m-3 .6h0m-1.1 1.2h0m2.5 .5h0m-1.3 .4h0m1.7 .6h0m-1 .3h0m2.2 .8h0m-1 1.3h0m-4.3 .4h0m3.6 .5h0m-3.7 1.1h0m2.8 .7h0m-1.6 1.5h0m3.4 3.2h0m-3.3 3.9h0m1.8 .7h0m0 .6h0m1.4 1.2h0m-.2 .5h0m-1 2.6h0m-.2 .8h0m.9 1.1h0m1.3 .5h0m-3.8 .7h0m4 .7h0m-5.1 .8h0m3.1 .8h0m.2 2.4h0m0 .8h0m-2.8 .2h0m-1 2.6h0m4.7 2.6h0m-.3 1.2h0m-1.7 .8h0m-2.4 .8h0m.3 1.4h0m1.5 1h0m-.2 1.4h0m-.6 1.3h0m-.5 .6h0m0 .2h0m4.4 1h0m0 .2h0m-.7 2.6h0m.9 9.3h0m1.7 -103.6h0m.1 9.1h0m4.6 8.3h0m-1.5 1.6h0m-1.4 1h0m2.5 4.3h0m.1 .5h0m-1 .6h0m.9 .5h0m-3.9 2h0m1.5 1h0m-1.2 .1h0m2.8 .7h0m-.3 .1h0m-3 .9h0m3.7 .7h0m-3.4 0h0m2.9 .3h0m1.4 .5h0m0 0h0m-2.2 .4h0m-3 .3h0m4.3 .3h0m0 .2h0m.4 0h0m-.2 .2h0m-.1 .4h0m-5 1h0m2.8 .2h0m1.6 2h0m-3.3 .3h0m1.2 0h0m-1.3 .4h0m4.6 .9h0m-3.3 .6h0m3.1 .1h0m-2.4 .8h0m2.4 .4h0m-3.3 .2h0m-.5 .5h0m2.6 0h0m.7 .1h0m-1.5 1h0m2.4 .3h0m-4.1 .5h0m.8 .2h0m3.2 1h0m-3.6 .3h0m1.1 .2h0m2.1 0h0m-2 0h0m.4 1.4h0m-.5 .1h0m-2.6 .8h0m3 .3h0m-3.3 .1h0m4.5 .1h0m-1.2 .7h0m-.6 .4h0m-1.3 .3h0m1.7 .9h0m-3.4 1.2h0m.7 .3h0m3.9 0h0m.2 .1h0m-.1 .6h0m-4.1 1h0m4 .2h0m-2.6 .7h0m3.7 .7h0m-2.8 .1h0m-2.4 .3h0m2.9 1.9h0m2.2 .3h0m-2.8 0h0m2.9 1.1h0m-3.3 1h0m-2.3 .4h0m3.5 2.1h0m1.4 .2h0m-2.4 .3h0m0 .4h0m1.2 .3h0m.3 1h0m-3.6 .6h0m2.9 .4h0m-2.8 .9h0m2.2 .6h0m.7 .1h0m1.2 .1h0m-3.2 1h0m3 .2h0m-3 1.3h0m3 .1h0m-.1 1.7h0m-1 .2h0m1.6 .5h0m-2.9 2.1h0m3.5 .5h0m-.7 .6h0m.7 .6h0m-1.1 .6h0m-.8 .9h0m-1.6 .1h0m2.6 1.3h0m1 .3h0m-3.9 .3h0m.1 .5h0m3.5 .1h0m-4.4 .4h0m4.6 .5h0m-4.6 .6h0m4.5 .8h0m-2 .6h0m-.4 .4h0m1 .1h0m-.1 .3h0m-3.3 .2h0m1.1 .7h0m1.2 .5h0m-1.3 .3h0m2.1 .3h0m-.1 .4h0m-3.8 .5h0m4 3.2h0m-2.8 .2h0m1.9 .9h0m-2.1 .3h0m2.6 1h0m-.9 .2h0m1.5 .9h0m-2.2 .2h0m3.6 .5h0m-3.6 .6h0m3.3 0h0m-3 2.5h0m.2 .4h0m1.6 .3h0m.5 .4h0m1.2 2.9h0m-.1 3.5h0m.3 .1h0m1.2 -89.8h0m2.7 2.3h0m-1.5 1h0m2.4 .9h0m-.6 2h0m-.5 .9h0m-3.2 1h0m1.5 1h0m3.5 .4h0m-1 .4h0m-1.3 .5h0m-.3 0h0m1.9 1.1h0m-3.9 .2h0m1.9 .1h0m-.4 .1h0m-.1 .6h0m3.1 .6h0m-1.2 .2h0m.2 0h0m.9 .2h0m-.2 .3h0m.2 .2h0m-1.7 .1h0m.8 .2h0m-.7 .1h0m-2.5 .2h0m3.7 .7h0m-1.4 .1h0m.1 .3h0m.8 .1h0m.9 .1h0m-2.3 0h0m2 .3h0m.2 .4h0m-3.3 .3h0m.8 .1h0m1.6 0h0m-.6 .4h0m-3.1 0h0m.7 0h0m2.9 .5h0m.2 .7h0m.8 .1h0m-2.6 .3h0m2.9 .3h0m-.3 .2h0m-2 .5h0m2.5 .1h0m-1.8 .2h0m-3.7 .2h0m4.3 0h0m-.5 .2h0m-1.1 .1h0m-.9 .2h0m3.4 0h0m-4.9 0h0m4.9 .4h0m-.9 .4h0m.8 0h0m-.3 .7h0m.4 .1h0m-1.9 .2h0m-1.1 .2h0m3.4 .3h0m-2.8 .4h0m2.8 .3h0m-2.8 .4h0m2.8 0h0m-4 .4h0m3.5 .1h0m-3.7 .3h0m.9 .6h0m.9 .2h0m1.8 .1h0m-1.7 .3h0m1.6 .2h0m-.7 .1h0m-1.8 0h0m-.3 .5h0m3.4 .2h0m-4.6 .1h0m3.8 .2h0m-.5 .1h0m1.1 .4h0m-.2 .8h0m-3.3 .1h0m3 .1h0m.7 0h0m0 .6h0m-.2 0h0m-.6 0h0m-1.1 .6h0m1.6 .1h0m0 .1h0m-4.1 .3h0m0 .1h0m.5 .1h0m1.2 .4h0m1 0h0m1 .9h0m-4.2 0h0m-.5 .1h0m5.6 0h0m-.6 .6h0m-.4 .8h0m.2 .3h0m-.7 .1h0m-.1 .2h0m-1.8 .2h0m2.7 .1h0m-2 .1h0m-2.7 .3h0m2.4 .2h0m2.1 .1h0m-1.2 1.1h0m-1.4 .4h0m1.4 .1h0m1.8 .3h0m-2.4 .1h0m-1.5 .5h0m-1.4 .1h0m2.9 .6h0m2.5 .4h0m-5 0h0m4.6 .1h0m-3.1 .1h0m2.9 .1h0m-1.6 0h0m1.1 .4h0m.4 .1h0m-4 .3h0m3 0h0m-2.4 .8h0m2 .3h0m-1.3 .6h0m1 .2h0m-2.5 .4h0m4.5 .2h0m-1.1 0h0m.6 .2h0m-3.7 0h0m2 .6h0m2.3 0h0m-3.8 .7h0m.8 .1h0m-1.1 .3h0m.2 0h0m2.4 .3h0m-3.8 .1h0m4.1 .3h0m-1.4 .3h0m.3 .1h0m2.2 .3h0m-4 1h0m3.1 .2h0m-1.6 .2h0m-.8 .5h0m-1 0h0m3.5 .6h0m-1.4 .3h0m.4 0h0m-3 .1h0m3.8 .1h0m-4.2 .3h0m2.9 .5h0m2.4 .6h0m-.6 .2h0m-4.7 .1h0m1.8 .1h0m-.3 .8h0m4.2 .3h0m-2.1 .2h0m1.6 .6h0m-.7 .3h0m-.9 .5h0m2.1 .1h0m-2.9 .3h0m1 .2h0m-2.1 0h0m0 .1h0m-.5 .1h0m4.1 .3h0m-.4 .8h0m-1.1 .1h0m1.4 0h0m-3 0h0m.5 .2h0m2.9 .2h0m-4.2 .2h0m3.7 0h0m-.2 .2h0m-.9 .1h0m-2.4 .6h0m-.4 .1h0m2 .3h0m.5 .1h0m1 .2h0m-1.4 0h0m-2.8 0h0m3.6 .1h0m-2.2 .2h0m1.9 .1h0m1.2 0h0m-4 .8h0m0 .2h0m4 .8h0m-2.1 .4h0m-2 .2h0m.5 .1h0m3.9 .4h0m-3 .2h0m2.6 .3h0m.7 .2h0m-3.7 .5h0m-1.3 .2h0m4.1 .1h0m-2.2 .8h0m1.2 .1h0m-.9 .2h0m.4 .1h0m-2.7 .1h0m3.8 .1h0m.8 .4h0m-.3 0h0m.8 .1h0m-1 .4h0m-.5 .2h0m1.3 0h0m-3.9 .1h0m-1 .1h0m5.3 .5h0m-5.7 .3h0m5.7 1.1h0m-5.4 .1h0m5 .4h0m-2.9 .1h0m.3 0h0m1.2 0h0m-.9 0h0m-2.7 .1h0m.6 .1h0m3.9 .4h0m-1 .2h0m1 .4h0m-.6 .3h0m-4.4 .3h0m5 .3h0m-1.2 .1h0m-1.7 .2h0m-.5 .5h0m1.8 .5h0m2.5 .9h0m-4 .1h0m3.2 .3h0m-4.6 .1h0m4.3 .2h0m-1.9 .4h0m-2.2 .2h0m5.1 .1h0m-1.1 .1h0m-1.1 .2h0m2.1 .1h0m-2.7 .3h0m-1 .1h0m1.4 .5h0m-3.2 .1h0m3.9 .2h0m1.6 .4h0m-.1 .2h0m-1.3 .1h0m-4.1 .1h0m4.8 .5h0m.8 .5h0m-.1 .1h0m-4.8 .6h0m3.7 .3h0m.9 0h0m-.5 .3h0m-.1 1.1h0m-3.8 .6h0m.8 0h0m2.6 .4h0m-1 0h0m-.4 .1h0m.3 .5h0m.5 .3h0m-2.2 0h0m-.3 .2h0m1.3 .3h0m2.1 .4h0m-.1 .1h0m-.7 .1h0m-1.1 .1h0m-1 .2h0m1 1h0m-2.8 0h0m5.4 0h0m-2.7 .3h0m1.6 .2h0m-1.3 2.2h0m1.2 .2h0m-3.8 5.3h0m.7 2.4h0m1.1 .5h0m5.5 -95.2h0m-1.4 1.4h0m1.6 .7h0m.9 .1h0m1.6 .1h0m-2.2 .4h0m-.5 .2h0m3.3 .7h0m-.3 2.5h0m-3.2 .6h0m3.8 .2h0m-1.5 .7h0m-.1 .3h0m1.3 .2h0m-1.2 0h0m-.2 .1h0m1.1 .1h0m-3.2 .5h0m1.9 0h0m.8 .1h0m.1 .9h0m.7 .1h0m-.5 0h0m-.8 .2h0m-1.3 .3h0m-1.7 .3h0m4 .1h0m-.8 .1h0m-1.4 .1h0m1.1 0h0m-.4 .1h0m-2.1 0h0m2.3 .4h0m-1 0h0m-1.4 .4h0m.9 .1h0m1.6 0h0m1.9 0h0m-2.6 .2h0m2.9 .3h0m-1.2 .2h0m-1 .1h0m-.7 .2h0m-1.9 .1h0m3.3 .2h0m-.5 .1h0m.8 .1h0m-2.1 .1h0m.6 .1h0m-2 .3h0m1.2 0h0m-.7 .1h0m-.8 0h0m4.7 .2h0m-2.1 0h0m2.1 0h0m-1.2 .1h0m-1.9 0h0m2 .1h0m-.4 .1h0m-.1 .4h0m-2.3 .1h0m3 0h0m-.7 .1h0m-2.9 .1h0m.7 0h0m-1.1 .4h0m5.3 0h0m-1.6 .3h0m-1.5 .2h0m.9 0h0m-1.1 .2h0m1.4 .2h0m-1.6 0h0m-1.9 .6h0m3.3 .5h0m-3.8 .1h0m5.1 0h0m-3.2 .1h0m.5 .2h0m-1.5 .5h0m2.4 .1h0m-1.8 0h0m-1.3 .1h0m5 .1h0m-2.4 .2h0m-2.2 .1h0m-.5 .1h0m1.1 .3h0m4.8 .1h0m-.6 0h0m-2.1 .1h0m2.5 .1h0m-2.3 .1h0m-.2 .1h0m-1.4 .1h0m2 0h0m-1.3 .3h0m3.3 0h0m-3.8 .2h0m-.8 .3h0m1.1 0h0m.5 .2h0m-.3 0h0m3.2 0h0m-1.5 .1h0m-2.2 .1h0m1.5 .1h0m1.1 .1h0m-1.4 0h0m-1 .1h0m2.3 .2h0m-3.7 .1h0m2.8 .1h0m.3 .2h0m-3.4 0h0m5 .2h0m-3.3 .1h0m-2.1 .2h0m4.9 0h0m-4.9 .1h0m2.6 0h0m1.3 0h0m.1 .1h0m-2.9 0h0m2.7 0h0m-3 .1h0m2.1 0h0m-2.8 0h0m4.2 0h0m.7 .1h0m-.4 .2h0m-.9 .1h0m-1.1 0h0m-1 .1h0m-.4 0h0m4.5 .1h0m-.1 .1h0m-2.6 .2h0m1.2 0h0m.8 .1h0m-1.6 .1h0m.4 .3h0m1.1 0h0m-3 0h0m-.5 .2h0m.3 .1h0m-.8 0h0m3.4 .1h0m-1 .1h0m-2.2 .1h0m4.6 .3h0m-.1 0h0m-1.3 .2h0m-4.2 0h0m.2 .2h0m2.1 .1h0m2.2 .1h0m-1.2 .1h0m2.3 0h0m-.2 .1h0m-4.8 .4h0m3.8 .1h0m.6 0h0m-5.2 .7h0m5.9 0h0m-4.3 .1h0m.3 .1h0m-.2 .1h0m.2 .1h0m-.6 0h0m.8 .2h0m2.7 0h0m-4.7 .2h0m2.3 .2h0m2.5 0h0m.5 .1h0m-1 0h0m-.8 .1h0m-3.3 0h0m1.6 .2h0m-1.5 .2h0m1.6 .2h0m3.5 0h0m-.7 0h0m-.3 .1h0m-4.4 0h0m4.1 .1h0m0 .3h0m-1.5 0h0m-2.7 .2h0m.9 .2h0m2.4 .1h0m.7 .1h0m-4.1 0h0m4.4 .2h0m.2 .1h0m-1 .1h0m2.1 .1h0m-3.9 0h0m3 .1h0m-1.7 .1h0m1.7 0h0m-1.1 .1h0m2 0h0m-.1 0h0m-1.9 .1h0m.1 0h0m1.5 .1h0m-.1 .1h0m.6 .1h0m-1.8 0h0m-3.5 0h0m3.8 .1h0m.4 .4h0m-.3 .3h0m1.2 .1h0m.1 0h0m-1.8 .4h0m.6 0h0m-3.2 .7h0m-.9 0h0m1.2 .1h0m-1 .8h0m5.2 0h0m-.9 .2h0m.5 .2h0m-3.8 .1h0m4.2 .2h0m-2.1 0h0m-1.6 .1h0m2.2 .1h0m-.5 .2h0m.3 .3h0m-3.3 .3h0m-.2 .3h0m2.2 .1h0m1 .1h0m-.9 0h0m-1.5 .3h0m4.5 0h0m-3.3 .1h0m2 0h0m-.9 0h0m1.5 .1h0m-5 .4h0m3 .1h0m-2.1 0h0m2.7 0h0m.4 .2h0m-.6 .1h0m-.5 .1h0m2.6 0h0m-.3 .3h0m-2.2 0h0m.8 0h0m.6 .3h0m-1.3 .2h0m-.9 0h0m-1.9 .2h0m5.1 .1h0m-2.2 0h0m-1.7 .1h0m1.9 .3h0m-.5 .2h0m1 .3h0m1.5 .1h0m.2 .1h0m-.2 .1h0m-1.6 0h0m-.5 .1h0m-.2 0h0m-.2 .2h0m.5 .3h0m-1.1 0h0m2.2 .2h0m.7 .1h0m-1.5 .1h0m-1.6 .1h0m1.1 .1h0m-2.5 .1h0m2.5 .7h0m-3 .1h0m3 0h0m-1.8 .5h0m-.3 .2h0m2.2 .2h0m1.3 .2h0m-.8 .1h0m1.9 .2h0m-1.8 .2h0m1.7 0h0m-.4 .3h0m-.2 .1h0m-1.2 .2h0m1.3 .1h0m-2.2 0h0m2.7 .2h0m-.6 .4h0m-1.8 0h0m.8 .1h0m-1.8 0h0m1 .1h0m-1.6 0h0m3.2 0h0m-.3 0h0m-3.7 .1h0m.5 .1h0m-.9 .1h0m3.7 .2h0m.6 .1h0m-3.5 .2h0m-.3 0h0m1.5 .1h0m-.9 .1h0m-1.5 0h0m2.5 .1h0m2.6 .2h0m-2.3 0h0m2.1 .2h0m-1.4 .2h0m-.4 .3h0m-2.8 0h0m3.7 0h0m1.4 .2h0m-1.4 .1h0m-3.4 .1h0m3.6 0h0m-2.8 0h0m4 .2h0m-4.6 .5h0m.4 .1h0m2.8 .1h0m1.2 0h0m-.3 .1h0m-2.6 0h0m2.8 .2h0m-3.3 .1h0m-1.6 .2h0m4.4 0h0m-3 .1h0m2.9 0h0m-2.4 .2h0m2 .2h0m1.6 .2h0m-.4 .1h0m-.8 .3h0m-1.3 0h0m-3.2 .2h0m1.5 .1h0m-.3 0h0m2.2 .1h0m.9 .2h0m-3.3 0h0m4.4 .1h0m-3.5 .1h0m3.5 .2h0m-2.1 .1h0m1.7 0h0m-1.8 .1h0m.5 .2h0m-2.3 .1h0m-1.2 0h0m1.6 0h0m2.4 .2h0m-3.2 0h0m2.5 .3h0m-3.5 .1h0m1.7 0h0m2.8 .3h0m-1.3 .5h0m-3.1 .4h0m4.7 .1h0m-1.3 0h0m-2.1 0h0m2.8 0h0m-3.6 0h0m3.3 .2h0m-.9 0h0m1.3 .1h0m-3.6 .3h0m1.2 .5h0m-1.5 .1h0m-.2 .9h0m-.1 .1h0m3.2 .2h0m-2.5 .1h0m4 0h0m-3.2 .1h0m2.1 .3h0m-3.5 .2h0m3.4 .2h0m-2.1 .3h0m1.5 .2h0m-1.1 0h0m-1.1 .5h0m2.9 .3h0m-2.1 .1h0m2 0h0m-2.1 .2h0m-.4 .2h0m2.7 0h0m-2.5 .2h0m-1.2 0h0m1.1 .1h0m4.2 .1h0m-2 0h0m-2.2 .3h0m4 0h0m-.3 .1h0m-4.5 .3h0m1.4 0h0m-1 .4h0m2.6 .2h0m2.3 .1h0m-.9 .6h0m-3.8 .2h0m4.2 .2h0m-3.2 .1h0m-.1 0h0m3.6 .2h0m-1.4 .3h0m-.3 0h0m-3.1 .1h0m3.7 .3h0m.4 0h0m-2.5 .3h0m3 .3h0m-.5 .1h0m-1.9 .1h0m2.5 0h0m-1.1 .1h0m.8 .4h0m-4.6 0h0m4 0h0m-1.3 .2h0m-2.1 0h0m4 0h0m-2.8 0h0m1.2 .2h0m-1 0h0m1.8 .1h0m-1.2 .5h0m2.5 .1h0m-5.3 .2h0m4.9 .1h0m-3.8 .3h0m1.1 .1h0m-.1 .1h0m2.9 .2h0m-3 0h0m-.4 .1h0m-1.9 .1h0m5.5 .1h0m-2.9 .2h0m.1 .1h0m.2 .3h0m1.8 .1h0m-4.5 0h0m5.1 .2h0m-4.7 0h0m.2 .4h0m2.9 .2h0m1.5 .1h0m-.7 0h0m-.4 .2h0m1.3 .2h0m-2.4 0h0m1 .1h0m-1.6 .2h0m-.7 .2h0m-.2 .2h0m1.1 .2h0m-1.7 0h0m1.7 .1h0m-2.8 .1h0m5.9 .1h0m-2.3 0h0m.3 .1h0m-.7 .5h0m-.3 .3h0m1.7 .1h0m-1 .1h0m-.4 .1h0m-.9 0h0m-1.6 .2h0m4.9 .1h0m-1.2 .3h0m.5 .1h0m.4 .3h0m.7 .1h0m-4.5 .2h0m-1 0h0m.1 .1h0m4.5 .1h0m-4 0h0m4.3 .1h0m-1 .2h0m-.6 0h0m.8 0h0m.9 .3h0m-.7 0h0m-1.1 .1h0m.1 .2h0m0 .2h0m.4 .1h0m-1.1 .1h0m.8 0h0m.9 0h0m-1.6 .1h0m1.5 .2h0m-2.7 .1h0m.6 .1h0m-.6 0h0m3.4 .2h0m-1.5 0h0m-.9 .2h0m2.7 .2h0m-.5 0h0m-3.5 .2h0m2.1 .3h0m-2.9 0h0m4.1 .2h0m-2.5 .2h0m2.8 .1h0m-.8 0h0m-1.2 .4h0m-2.9 0h0m.6 .2h0m0 0h0m.9 .3h0m3.9 .1h0m-2.6 .4h0m2.2 0h0m-.3 .1h0m-4.5 .7h0m3.1 .1h0m-.1 .3h0m-1.2 .4h0m-1.1 .1h0m3.5 .1h0m.2 0h0m-.3 .5h0m-3.3 .1h0m4.2 .4h0m-.4 0h0m-1.7 .3h0m-.3 .2h0m1.5 0h0m-4.1 0h0m4.4 .2h0m-.7 .4h0m-2.4 .6h0m1.1 .3h0m-3 .1h0m3.3 .1h0m-2 0h0m2.4 .3h0m-1 .4h0m.9 .1h0m-.9 .6h0m-1.5 .2h0m1.8 0h0m3 .4h0m-.8 0h0m0 .4h0m-1.1 0h0m-.3 .2h0m-1 .5h0m-.3 1h0m3.1 .2h0m-.5 .1h0m-.1 0h0m-.2 .3h0m-4 0h0m2 .1h0m1.6 1.2h0m-1 .6h0m-1.7 .7h0m.1 .1h0m.9 .5h0m-.6 .2h0m2.2 .4h0m-4 .4h0m3.5 0h0m-.3 2.4h0m-1.4 .5h0m1.7 .3h0m-3.2 2.8h0m9.9 -136.3h0m1 41h0m-4.3 .2h0m2.8 1.4h0m-3.2 .1h0m3.2 .7h0m-2.2 .7h0m-1.7 1h0m1.2 .5h0m4.5 .4h0m-5.1 .1h0m5 .3h0m-1.3 .3h0m1.6 .1h0m-4.6 .5h0m-.7 .4h0m1 .5h0m3.5 .1h0m-4.6 .1h0m5.1 0h0m-5.6 .1h0m5.2 .2h0m-4.2 .1h0m2.3 .1h0m1.5 .2h0m-.6 .2h0m-1.9 .3h0m3.1 0h0m-4.4 .1h0m4.7 .1h0m-1.8 .1h0m-1.9 .1h0m-1.7 .1h0m.7 .2h0m1.8 0h0m.3 0h0m-2.9 .6h0m.8 .2h0m.8 .1h0m.3 .3h0m.5 .2h0m.1 .3h0m-.6 .1h0m-1.3 .2h0m.6 0h0m-.4 .3h0m0 0h0m.3 .5h0m.1 .4h0m-1.1 .6h0m.6 0h0m-.8 .2h0m-.1 .1h0m1.2 .4h0m-.8 1.2h0m.1 1h0m0 1.3h0m-.2 1.9h0m-.1 .2h0m.2 1.6h0m0 0h0m-.2 .3h0m-.3 .7h0m.6 .2h0m-.4 1.6h0m0 .3h0m.3 0h0m.2 .6h0m-.3 .7h0m0 .3h0m.2 .1h0m.1 .2h0m.4 .1h0m-.3 .1h0m-.8 .1h0m.6 .7h0m.5 .2h0m0 .3h0m-.6 .1h0m.2 1.8h0m-.3 .7h0m1.4 .5h0m-1.3 .2h0m-.5 .3h0m1.5 0h0m0 1.1h0m.8 .4h0m-1.2 .3h0m-.8 .2h0m.1 .6h0m-.3 .1h0m1 .1h0m-.1 .1h0m-.4 .1h0m.9 .1h0m-.3 .6h0m-1 .2h0m1.1 .1h0m.6 0h0m.3 .1h0m.3 .5h0m-.3 .3h0m-2 .1h0m.7 0h0m1.8 0h0m-1.5 .1h0m1.3 .3h0m-2.2 .3h0m-.2 .8h0m0 .3h0m1 0h0m.6 .2h0m-.4 .2h0m1.3 0h0m-1.5 0h0m-.4 .1h0m1.7 .2h0m.6 0h0m-.3 .1h0m-2.3 .1h0m.2 0h0m.8 .3h0m.4 .3h0m.8 .1h0m.3 .1h0m-1.9 .2h0m.1 .2h0m-.6 .6h0m1.6 0h0m-1 .1h0m-.8 0h0m1.8 0h0m-1.3 .3h0m2.9 .7h0m-1.9 .2h0m0 .7h0m-1.6 .1h0m2.1 .4h0m-1.5 0h0m-.5 .5h0m1.3 .1h0m-.1 .1h0m1.2 .1h0m.7 .2h0m-1.9 .3h0m1.9 0h0m0 .1h0m-1.9 .3h0m-.1 .1h0m-.3 0h0m2.5 0h0m-1.9 .2h0m.9 0h0m.1 0h0m-.8 .1h0m-.7 .2h0m.4 .1h0m.3 0h0m0 .1h0m1.9 .1h0m-1.6 .3h0m1.8 0h0m-2.9 .1h0m2.6 .4h0m-.2 0h0m-2 .1h0m-.8 .1h0m2.4 0h0m-1.6 0h0m.1 .2h0m-.3 .1h0m.1 0h0m2 0h0m-.9 .1h0m-1.1 .2h0m-1.2 .1h0m3.3 .1h0m-2.9 0h0m1.9 .1h0m-1 .2h0m1.7 0h0m-1.4 .2h0m2 .1h0m-.1 .3h0m-1.3 0h0m-1.9 .1h0m2.7 .4h0m-.1 .1h0m.5 0h0m-.4 .2h0m-3.1 .2h0m.2 0h0m2.8 0h0m-2 .1h0m.7 0h0m1.9 .1h0m.4 .1h0m-3.6 .2h0m1.6 .1h0m.5 .1h0m.5 0h0m-1.7 .3h0m-.6 .1h0m2.7 .1h0m-1.6 .2h0m.1 0h0m.9 .1h0m1.1 0h0m-1.9 .2h0m-.2 .3h0m.2 0h0m.6 .2h0m.2 .1h0m1.4 .1h0m-3.7 .1h0m3.6 0h0m-2.7 .2h0m-.9 .2h0m1.9 0h0m1.8 0h0m-2.4 .1h0m0 .6h0m.4 0h0m-2.1 .1h0m3.7 0h0m-3 .2h0m.4 .1h0m-.5 .1h0m1.3 0h0m.1 .1h0m2.4 0h0m-1.1 .2h0m-1.4 .1h0m-1.9 0h0m3.3 .1h0m-2.6 .1h0m1.6 .1h0m1.2 .5h0m-.8 .1h0m-2 0h0m-.7 .1h0m4.5 0h0m-.5 .1h0m-2.5 0h0m2.2 .2h0m-3.5 .4h0m1.3 .1h0m1.3 0h0m-2.6 .2h0m3.3 .1h0m-.2 .1h0m-.1 .1h0m-2.9 .1h0m.7 0h0m3.5 .1h0m-4.6 .1h0m4.2 .2h0m-.8 0h0m.9 0h0m-2.2 .2h0m.1 .1h0m1.4 .1h0m.4 .2h0m-.2 0h0m.6 0h0m-2.2 .1h0m.7 0h0m-2.4 0h0m2.3 .1h0m-1.1 0h0m-1.2 .1h0m1.7 0h0m.9 0h0m-2.2 .1h0m1 .3h0m1.3 0h0m-1.3 0h0m2.6 .2h0m-4.2 .1h0m4.8 0h0m-4.3 .1h0m4.3 0h0m-.2 .4h0m-4.6 .1h0m4.1 .1h0m-1.6 0h0m.9 .1h0m-2.9 0h0m.7 0h0m3.7 .2h0m-3.2 .3h0m2.6 0h0m-1.6 .4h0m0 .1h0m-1.3 0h0m-.1 .4h0m3.3 0h0m-2.9 .1h0m2.3 .3h0m-1.8 .1h0m-2 .1h0m-.2 0h0m1.4 .4h0m2.3 .1h0m-.8 .2h0m.8 .1h0m-.5 0h0m-1.5 0h0m1.7 .1h0m1 .2h0m-3.3 0h0m3.6 0h0m.2 .3h0m-3.2 0h0m-1.9 .1h0m1.6 .1h0m-1.2 0h0m2.6 .4h0m-.5 .1h0m2.2 0h0m-1.5 .1h0m-1.7 .1h0m2.2 .2h0m-.8 0h0m-.8 .4h0m1.6 .1h0m.1 0h0m-3.8 0h0m4.5 0h0m-.2 .1h0m-2.8 0h0m.5 .1h0m-.7 .1h0m3.4 0h0m-3.4 .1h0m.9 0h0m1.5 0h0m-2.3 .1h0m.8 0h0m0 0h0m-1.5 0h0m3.5 .1h0m-3.2 .1h0m-.2 .2h0m.9 0h0m.3 .1h0m.3 0h0m1.8 .2h0m-1.2 .2h0m-2.4 .1h0m.4 0h0m-.1 0h0m-.7 .2h0m4.5 0h0m-2.2 .1h0m.2 0h0m-2.7 .1h0m5.1 0h0m-1.5 0h0m1.3 .1h0m-3 .4h0m1.6 0h0m-.6 .1h0m2.3 .1h0m-.9 0h0m-3.9 .2h0m2.2 0h0m.7 .1h0m1.6 .3h0m-1.3 0h0m.3 .4h0m-.9 .1h0m.3 .1h0m-1.3 .2h0m2.1 .1h0m-2.8 0h0m.4 .2h0m.4 0h0m2.2 .5h0m-4.4 0h0m1 .1h0m3.3 .1h0m-2.9 .1h0m3.4 .4h0m-3.3 0h0m3.6 .4h0m.2 0h0m-5.2 0h0m2.9 .2h0m-1 0h0m2.7 .2h0m.5 0h0m0 .5h0m.1 .2h0m-1.7 0h0m-3.4 0h0m5.1 .1h0m-2.5 0h0m.1 .3h0m-1.7 0h0m1.9 .2h0m-2.8 0h0m1.1 0h0m1 .1h0m2.4 .1h0m-2 0h0m-.9 0h0m2.7 .1h0m-.5 0h0m-2.6 0h0m3.2 .1h0m-3.8 .1h0m-.8 0h0m1.4 0h0m2 0h0m.3 .1h0m-2.7 .2h0m0 .1h0m1.8 .1h0m.6 0h0m1.2 .1h0m-.3 .1h0m.7 .1h0m-.1 0h0m-2.1 .1h0m.3 .2h0m2 .2h0m-5.1 .1h0m.4 .3h0m4.5 .1h0m-1.4 .1h0m-1 .1h0m2.4 .1h0m-1.9 0h0m-2.8 .1h0m1.3 .1h0m3 0h0m-3.5 .2h0m.2 0h0m2 .1h0m-.8 0h0m-1.9 .1h0m1.4 .1h0m-.8 .2h0m2.3 .1h0m.2 0h0m-.5 0h0m2.1 0h0m-3.9 .2h0m-1.1 .1h0m1.6 .2h0m0 0h0m-.5 .1h0m3.2 .1h0m-3.5 .2h0m3.9 0h0m-.4 0h0m-2.4 .2h0m.8 0h0m.9 .1h0m1 0h0m.4 .1h0m-1.7 .2h0m1.3 .1h0m-1.5 .1h0m-1.7 0h0m1.5 .1h0m-1.5 .3h0m-.9 .1h0m4.9 .1h0m-2.1 0h0m.8 .1h0m1 0h0m-3.3 .2h0m-.1 0h0m1 .3h0m-.3 0h0m.5 .1h0m0 .1h0m.5 .5h0m1.8 0h0m-3.4 .2h0m1.2 0h0m0 .2h0m-3.2 0h0m3.5 .2h0m-.4 .3h0m-1.3 0h0m-.1 0h0m4.1 0h0m-2.6 .3h0m2.3 .2h0m-4.8 .3h0m3.6 0h0m.1 .1h0m-1.9 .6h0m2.6 0h0m.6 0h0m-.5 .3h0m-5.2 0h0m0 .1h0m0 .3h0m.3 .1h0m2.4 .2h0m.4 .2h0m1.6 .1h0m-1.5 .2h0m1.5 .1h0m.7 0h0m-2.1 0h0m-.2 0h0m2.8 0h0m-1 .2h0m-1.8 .1h0m-2.1 0h0m-.9 .1h0m4.6 .1h0m-1.3 .3h0m-3.3 .1h0m5.2 0h0m-5.1 .1h0m1.8 .1h0m3.1 .4h0m-1.1 .3h0m.3 .3h0m.6 .1h0m-1.3 .1h0m1.6 .1h0m-.4 .2h0m-.5 .2h0m-4.2 .1h0m5.7 .4h0m-1.9 .2h0m-1.8 .3h0m3.5 .7h0m-1.7 .3h0m.6 .4h0m-1.4 .1h0m-1.5 .3h0m2.3 .1h0m-1 .6h0m2.7 0h0m-2.7 0h0m-1.5 .2h0m2.2 .6h0m0 2.6h0m-.6 .7h0m8.8 -99.9h0m-1.3 5.1h0m-2.2 2h0m-.5 .7h0m-.4 1.1h0m2.8 .6h0m-.4 .5h0m2 .1h0m-.8 .8h0m-5 .8h0m2.4 .1h0m2.3 0h0m.8 .3h0m-3.1 .3h0m-2.3 .2h0m1.5 0h0m-1.2 .1h0m.7 .2h0m3 .1h0m.1 .5h0m1.2 .1h0m-2 .1h0m.1 .1h0m-2.9 1h0m-.6 .3h0m.7 72.4h0m-.4 0h0m.2 .2h0m0 1.1h0m-.5 .4h0m2.2 .1h0m-1.3 .1h0m-.1 .2h0m-.7 .3h0m1.9 .4h0m-1.3 .1h0m1.5 .1h0m.7 .3h0m1.6 0h0m-3.1 0h0m2.6 .3h0m-2.9 0h0m2.2 .1h0m1.6 0h0m.8 0h0m-.6 0h0m-5.1 .1h0m5 .1h0m-.9 .2h0m-3 .5h0m3.5 .5h0m.2 .3h0m-3 0h0m-.8 0h0m.4 0h0m-1.1 .1h0m2.8 .2h0m0 .1h0m.1 .2h0m-2.7 .2h0m2.4 0h0m-.9 .1h0m-1 .5h0m4.5 .2h0m-2.7 0h0m-2.2 0h0m1.8 .3h0m2.9 .1h0m-5.3 .3h0m3.7 .1h0m-3.5 .2h0m3.1 0h0m-.1 .1h0m-1.4 .1h0m-1 .1h0m-.1 1.5h0m2 1.8h0m2.2 .9h0m-4.6 2.8h0m-.4 1.5h0m9.3 -110.5h0m-1.2 5.2h0m.9 4.4h0m-.1 2.4h0m1.2 1.6h0m-2.9 .7h0m.5 .4h0m-1 .3h0m.3 .1h0m.2 .5h0m4.8 .1h0m-2 .5h0m.6 .1h0m-3.7 .1h0m4.1 .6h0m-4.5 1.1h0m1.8 0h0m.5 .3h0m2 .1h0m-1 .1h0m2 .1h0m-.8 .5h0m-1.9 .2h0m-.5 .2h0m-.4 .1h0m2.3 0h0m-3.8 78.4h0m1.3 .3h0m-.7 .1h0m.2 .5h0m1.6 0h0m-.5 .2h0m.8 .1h0m1 .1h0m-4.3 0h0m1.3 .1h0m.1 .1h0m2.6 .2h0m1 .1h0m-3.6 0h0m1.9 .8h0m.7 0h0m-2 .3h0m2 .1h0m1.5 .1h0m-1.7 .1h0m-.4 0h0m1.1 .2h0m-3.8 .7h0m2.4 1.6h0m-1.5 .6h0m2.7 .6h0m-3.5 .5h0m10.5 -103h0m-4.8 6.7h0m3.5 3h0m.8 2.2h0m-2.5 .2h0m3.1 .9h0m-3 .3h0m1.1 .5h0m1.3 .3h0m-3 .2h0m.2 .3h0m3.7 .1h0m-5.2 .3h0m2.3 0h0m-1.3 .8h0m1.4 .4h0m-.2 .1h0m-2.5 .2h0m1.9 .3h0m3.3 .2h0m.2 .1h0m-3.7 .2h0m.2 0h0m-1.9 79.3h0m3.6 .5h0m2 .2h0m-2.9 0h0m.8 .1h0m-2.4 0h0m3.9 .3h0m.3 0h0m-1.9 0h0m-.6 0h0m1.6 .1h0m.6 0h0m-2.9 .3h0m1.8 .1h0m-3.3 0h0m3 .1h0m1.4 .4h0m-3.2 .1h0m.7 .8h0m-2 .3h0m5.1 0h0m-2.1 .1h0m-3.1 .7h0m-.3 .5h0m0 1.7h0m4.8 1h0m-.5 1.3h0m3.5 -103.5h0m-.5 4.7h0m.8 5.3h0m-.7 .4h0m1.8 1.2h0m.9 .4h0m-1.5 .1h0m.8 .1h0m-3.5 .1h0m4.2 0h0m.3 .1h0m-3.8 .7h0m-.4 .1h0m.4 .1h0m4.9 .3h0m-2 0h0m1.5 .4h0m-4 .1h0m0 .1h0m-1 .2h0m4 .5h0m-1.8 .1h0m3.1 0h0m-4.1 0h0m2.5 .1h0m-4 .1h0m1.5 .1h0m2 .1h0m-1.6 0h0m-.8 0h0m3 0h0m-3.7 .2h0m3.9 79.1h0m-.8 .2h0m0 .1h0m-1.3 .2h0m-1.9 0h0m.9 0h0m1.7 0h0m.9 .3h0m-2.3 0h0m1.6 .3h0m-2.7 0h0m4 .7h0m1.4 .1h0m-2.8 0h0m-2.9 .1h0m2.6 1h0m.7 .8h0m-2.7 0h0m2 .7h0m2.1 .4h0m1 .1h0m-1.2 .5h0m-3.6 .6h0m3.3 .7h0m-1.9 .2h0m1.7 .5h0m-1.7 .8h0m.4 .1h0m-2.6 .1h0m2.7 1.1h0m-1.4 .3h0m-.1 .1h0m-1 .1h0m7.7 -116.9h0m2 15.3h0m-2.4 .6h0m3.6 1.2h0m-4.8 .4h0m2.6 1.1h0m-1.2 .2h0m.7 .7h0m1.3 .4h0m-2.8 .4h0m3.3 .6h0m-3.3 .6h0m1.1 1.7h0m3.2 .1h0m-2.8 .5h0m.6 .1h0m-2.5 .2h0m1 0h0m0 .6h0m.9 .4h0m-.1 .7h0m-1.2 0h0m2.1 .5h0m1.6 .1h0m-.4 .1h0m.4 .4h0m-.5 .1h0m-2.7 .1h0m-1.1 .3h0m.8 .1h0m.5 .5h0m.6 .1h0m1.3 78.3h0m-.1 0h0m.8 .1h0m.8 0h0m-1.4 .2h0m1.5 .4h0m-.9 .8h0m-2.3 .1h0m-2 0h0m3 .2h0m-1.2 1h0m.1 .3h0m-1.7 .1h0m3.2 1.4h0m-.9 .1h0m.2 .4h0m2 .2h0m-4.9 .1h0m5 .1h0m-3.6 2h0m1.5 1.1h0m4.1 -110h0m3.4 5.3h0m-1.4 .4h0m-1.9 6.5h0m1.6 4.2h0m-2.1 .6h0m3.4 .5h0m-4 .3h0m.1 .3h0m.6 .1h0m1.6 .7h0m.8 0h0m-.7 .3h0m-1.4 .1h0m3.4 .6h0m.7 .2h0m-3.6 .3h0m2.7 0h0m0 .5h0m-2.3 .5h0m1.1 0h0m-.7 .4h0m-.5 .2h0m-1.1 .1h0m2.2 0h0m-.6 .8h0m1.2 .4h0m.5 .1h0m-2.1 0h0m-.9 .1h0m1.1 .2h0m-1.8 0h0m2.5 77.6h0m-.6 0h0m2.3 0h0m-.8 .1h0m-2 .3h0m3.8 .1h0m-4.3 0h0m1.9 .3h0m2.5 0h0m-3.8 .2h0m1.6 .2h0m.8 .2h0m-1.9 .1h0m-2.2 .5h0m.3 .1h0m0 .1h0m1.6 0h0m-2.1 0h0m3.4 .3h0m-1.6 0h0m4 .5h0m-2.8 .2h0m2 0h0m-4 .1h0m1.8 .5h0m-1.8 .7h0m-.7 .1h0m5.2 .2h0m-2.7 .9h0m-.7 .1h0m-2.1 0h0m3.1 1.5h0m-.2 .7h0m2.5 4h0m6 -101.9h0m-2.8 .5h0m2.1 .5h0m-4.1 .2h0m2.5 1h0m1.8 1.6h0m.3 1h0m-1.9 .3h0m1.9 1.6h0m-2.1 .6h0m1.5 .2h0m.4 0h0m-3.7 .2h0m1.1 .4h0m2.7 .1h0m.7 .6h0m-2.5 0h0m.4 0h0m1.6 .2h0m-1.4 .4h0m-.3 .2h0m-1.9 .1h0m-.5 .3h0m.2 0h0m3.5 .1h0m-.5 .1h0m.1 .2h0m0 0h0m-2.2 .3h0m-1.2 0h0m1.1 .2h0m1.9 0h0m-3.6 .1h0m4.2 .1h0m-3.5 0h0m.8 .1h0m-.1 .1h0m1.4 .4h0m-3.1 0h0m5.2 .1h0m.2 0h0m-5.3 .2h0m2.3 .1h0m1.7 0h0m-3.3 77.9h0m2.7 .3h0m0 0h0m-.2 0h0m1.8 .2h0m-.4 .2h0m-4.3 .2h0m4.2 0h0m-.7 .2h0m.6 .2h0m-4.4 .5h0m3.9 .3h0m1.3 .5h0m-5.5 .1h0m2.7 .7h0m.6 0h0m2.5 .1h0m-.1 0h0m-4.6 .1h0m2.4 0h0m1.5 .3h0m.7 .3h0m-2.3 1.7h0m-.7 1.1h0m2.9 1.3h0m5.8 -122.5h0m-1.7 22h0m1.5 4.2h0m-.2 1h0m-2.5 1.4h0m-1.4 .6h0m3.7 1h0m1 0h0m-1.7 .5h0m-.2 1.1h0m-1.9 .2h0m.3 .4h0m-.4 .1h0m-1.4 .5h0m1.5 .2h0m-2 .4h0m5.4 .4h0m-4.3 0h0m-.3 .3h0m.5 .2h0m-1 .2h0m1.6 .2h0m1 .2h0m-.8 .2h0m.5 .1h0m0 .3h0m-1.1 .3h0m-.6 78.8h0m-.6 .2h0m2.4 .1h0m-.1 .2h0m-2.4 .1h0m5.6 .1h0m-2 0h0m1.8 .1h0m-.9 .1h0m-1.9 .2h0m-1.4 .3h0m.1 .4h0m-1.1 .1h0m2.7 .5h0m1.7 .2h0m-4.2 .2h0m4.1 .2h0m-3.2 .1h0m3.1 .2h0m-3 .1h0m3.7 .4h0m-5.2 0h0m4.7 .1h0m-1.8 .1h0m-2.6 .5h0m3.7 .3h0m1.7 0h0m-2.6 .1h0m-.4 .1h0m8.1 -105.3h0m.4 12.7h0m-1 .3h0m1.2 3.7h0m-1.8 .2h0m1.9 0h0m-4.3 .2h0m2 .1h0m2 .2h0m0 1h0m-2.7 .8h0m-2.5 0h0m4.1 .8h0m0 .1h0m-2.3 .5h0m-1.6 .4h0m2.3 .4h0m.3 .1h0m.8 78.7h0m-1.5 .4h0m.4 .2h0m-.5 .1h0m1.5 .2h0m-2.3 .1h0m-.2 .1h0m2.7 .2h0m.3 .1h0m-.5 0h0m-3.3 .1h0m5.5 0h0m-2.9 .1h0m.4 .2h0m-1.4 .4h0m-.3 .5h0m-.4 .1h0m2.8 .4h0m-3.8 .6h0m-.1 .3h0m0 .3h0m2.3 2h0m2.5 1.2h0m.2 .2h0m-1 .8h0m-1.9 1.6h0m-.4 2.5h0m1.6 .4h0m7.6 -103.2h0m-2.5 3.5h0m-1.5 .7h0m-.1 .2h0m-.5 .3h0m1.2 .1h0m-.8 .6h0m2.9 .1h0m-3.7 .5h0m.6 .8h0m1.2 1.3h0m-1.9 .8h0m1.7 0h0m4 .8h0m-5.3 1h0m3.1 .2h0m-.4 .3h0m-1.7 .1h0m-.4 .1h0m1.5 .6h0m.2 .5h0m1 .3h0m0 .4h0m-.2 .3h0m2.2 .7h0m-.3 .8h0m-1 .9h0m.4 .3h0m.3 .3h0m.7 .3h0m.2 1.1h0m-.8 .3h0m.6 0h0m-.8 .1h0m.6 1.1h0m0 1.5h0m.3 1.1h0m-.2 .5h0m.3 2h0m-.5 1.4h0m-.1 .3h0m.2 .1h0m.1 1.2h0m.1 .4h0m-.2 .3h0m-.7 .7h0m.2 .9h0m.5 .5h0m-.7 .3h0m.4 .1h0m.6 0h0m-.7 .1h0m.4 .6h0m-.4 .1h0m.7 .2h0m-.4 .2h0m-.3 .5h0m-.3 .1h0m.8 0h0m0 .9h0m-.3 .1h0m.2 1h0m-.1 .5h0m-.2 .3h0m-.2 1.9h0m-.2 .7h0m.5 .4h0m0 .2h0m.2 .3h0m.1 .9h0m-.2 .4h0m.1 .2h0m-.7 2.4h0m.1 .5h0m-.1 .3h0m.4 1h0m.1 .2h0m-.1 1.3h0m.5 .2h0m-.6 0h0m-.1 .1h0m.5 .2h0m-.5 2.1h0m.8 1.1h0m-1 .6h0m.6 0h0m-.6 1.4h0m.9 .2h0m-.8 .4h0m0 .7h0m.1 .7h0m.8 0h0m-.3 .2h0m-.6 .3h0m.8 .7h0m-.8 .5h0m.3 .9h0m-.3 1.9h0m.4 .1h0m-.1 1.1h0m.3 1h0m0 .3h0m-.1 .1h0m-.5 .7h0m.5 0h0m.1 .2h0m.2 1.4h0m-.1 0h0m-.2 .4h0m0 .6h0m-.2 .3h0m.6 1.5h0m-.3 0h0m-.6 .8h0m.9 .7h0m-.3 .1h0m-.4 0h0m.6 .3h0m-.1 .4h0m.1 1.2h0m-.3 .2h0m.2 .9h0m-.3 3.4h0m.3 4h0m-.6 2.5h0m.2 .5h0m.2 .4h0m0 .5h0m-.1 1h0m-.2 .1h0m0 0h0m-.1 2h0m.7 1h0m-1.6 .4h0m.9 .2h0m-.5 .7h0m-1.2 .6h0m.6 0h0m-1.1 .1h0m.7 .1h0m.2 .2h0m2 0h0m-2.1 .6h0m1.6 .2h0m-3.4 0h0m-.3 .7h0m1 .2h0m3.1 .1h0m-2.8 .2h0m-1.1 .1h0m2 .2h0m-3.4 .2h0m3.6 .7h0m-3.7 .1h0m4.1 .1h0m-2.3 0h0m-.5 .2h0m.7 .2h0m1.5 .1h0m-3.4 .1h0m2.4 0h0m-2 .1h0m4.1 .4h0m-4.5 .7h0m4.1 1.6h0m-1 3h0m.3 1.1h0m3.8 -90.9h0m-1.3 .7h0m-.1 .5h0m4.4 1.1h0m.2 .6h0m.7 .1h0m-3.1 .2h0m-2.3 .3h0m4 .5h0m-.2 1.2h0m-.1 .3h0m0 .4h0m-3.4 .3h0m4.3 .1h0m-1.8 .2h0m-2.2 .3h0m1.2 .2h0m1.8 .6h0m-.7 .3h0m-2.4 .3h0m-.2 .2h0m.3 .4h0m1.4 .2h0m.1 .1h0m-1.8 .5h0m1.9 .4h0m-2.2 .1h0m2.1 0h0m2.4 .3h0m-4 0h0m2.5 .1h0m-2.1 .1h0m-.2 .3h0m.4 .4h0m.4 0h0m0 .2h0m4.4 .5h0m-.4 .1h0m-4.8 .1h0m.8 .4h0m1.6 .1h0m2.5 .3h0m-2.7 .6h0m-2.3 .3h0m.3 0h0m4.7 .5h0m-4.1 .9h0m4.3 .3h0m0 .1h0m-5.4 .1h0m1.7 0h0m-.4 .1h0m1 .1h0m2.5 .1h0m.4 0h0m-3.8 .1h0m-1.2 .3h0m3 1h0m-2.6 0h0m.8 .1h0m2 .1h0m-3.8 .1h0m1.6 .2h0m-1.6 .2h0m2 0h0m-2 .2h0m.8 .5h0m1.7 .1h0m.4 .1h0m1.1 .3h0m-1.4 .1h0m3.1 .2h0m-2.4 .1h0m-2.8 0h0m3.3 .2h0m.9 .1h0m-1 .1h0m-1.5 .1h0m-2 .3h0m2.8 0h0m-1.5 0h0m-1.2 .3h0m4 0h0m-4.3 .3h0m2.1 .5h0m-.7 .8h0m1.6 .1h0m1.3 .3h0m1 .1h0m-5.1 .5h0m2.4 0h0m-2.3 .1h0m1.1 .3h0m3.2 .8h0m-1.1 .2h0m-2.3 .1h0m1.6 .2h0m-1.9 .2h0m-.3 .2h0m-.3 .1h0m4.4 .1h0m-2 .1h0m-.3 0h0m-1.7 .5h0m1.8 .1h0m1 .2h0m-1.1 .2h0m.1 .1h0m.1 .1h0m-2.4 .4h0m.6 .1h0m1.2 0h0m-.2 .2h0m1.3 .1h0m-1.8 .3h0m2.6 .5h0m1.8 .3h0m-3.3 0h0m1.1 .2h0m1.7 .6h0m-4.7 0h0m1.1 .2h0m2.8 .1h0m-.4 1.6h0m-3.9 .2h0m1.4 .5h0m-1.2 .4h0m3.7 .1h0m-1.4 .3h0m-.9 .1h0m1.8 .1h0m-1.8 .3h0m1.4 .2h0m1.6 0h0m-4.3 .1h0m.4 .5h0m2.2 .5h0m-2.6 .1h0m3.7 .7h0m.4 .2h0m-4.4 .2h0m1.6 .5h0m-.7 .1h0m4.7 .1h0m-3 .2h0m-1.4 .2h0m0 .1h0m3.9 .4h0m-.2 .1h0m-1.3 .4h0m1 .1h0m-.8 .8h0m1.4 .1h0m.5 1.1h0m-5.8 .1h0m.7 .4h0m.9 .2h0m-1.3 .5h0m3.4 .4h0m-.8 .6h0m-3 .1h0m.2 .2h0m5.1 0h0m-2 .1h0m-2.5 .2h0m.6 .9h0m.1 .6h0m.1 0h0m.7 .2h0m.3 0h0m-.8 .1h0m-.3 .2h0m-1.5 .2h0m3.6 .2h0m-1.5 1.3h0m1 0h0m.4 .7h0m-2.1 0h0m-.9 .3h0m3.8 .3h0m-3.5 .1h0m2.2 1.2h0m-2.6 0h0m.1 .3h0m5.1 .2h0m-4.6 .2h0m-.9 .1h0m3.4 .6h0m1.5 .2h0m-2 0h0m-1.7 1h0m.2 .1h0m-.6 .4h0m4.5 .1h0m-3.8 .3h0m2.1 .5h0m1.7 .3h0m-4.6 .4h0m2.9 .4h0m-3 .1h0m-.6 .2h0m.3 .1h0m4 0h0m-1.2 1h0m-2.1 .2h0m2.9 .1h0m-3.6 .3h0m0 .1h0m-.1 2.2h0m2.2 .2h0m.5 0h0m-2.4 .5h0m.5 0h0m3.5 0h0m-3.4 .3h0m.1 .1h0m.8 .4h0m2.9 .8h0m-1.4 .2h0m1.5 .1h0m-5 .1h0m3.2 .4h0m-2.3 .1h0m.3 0h0m-1 .5h0m-.1 .3h0m1.4 .3h0m2.2 0h0m-2.8 0h0m-.2 .1h0m.5 0h0m-.6 .8h0m.7 .2h0m.3 .1h0m2.1 .1h0m1.8 .1h0m-3.1 .1h0m2.7 .2h0m-4.1 .3h0m1.7 .1h0m-2.2 .1h0m4.6 .2h0m-2.5 0h0m-2.7 .7h0m.6 .2h0m1.9 .7h0m.6 .1h0m-2 .2h0m-.7 0h0m3.1 .3h0m-3.5 .2h0m1.4 0h0m.8 .2h0m2.9 .3h0m-5 .2h0m4.8 0h0m-1.1 .4h0m.9 .1h0m-3.6 .1h0m.5 .6h0m1.4 .1h0m-.7 0h0m1.8 .1h0m-3.7 .1h0m3.2 .2h0m-3.5 0h0m2 .3h0m3.6 .1h0m-.3 .1h0m-3.4 0h0m-1.1 .1h0m2.2 .7h0m-2.3 .3h0m1.4 .3h0m-1.5 .6h0m-.4 .3h0m-.1 .5h0m4.4 .3h0m-1.9 .8h0m-2 0h0m-.5 .1h0m4.4 .2h0m.9 .3h0m-2.9 .2h0m.2 .1h0m-.1 .3h0m.3 .5h0m-1.1 .2h0m-1.5 .1h0m2.3 .1h0m-1.3 0h0m1.2 .3h0m-1.4 .1h0m1.4 .7h0m-1.7 .1h0m.8 .1h0m1.4 .6h0m.1 0h0m0 2h0m-.6 .3h0m.6 .1h0m.4 .1h0m-1.7 .4h0m1.9 1.5h0m-1.9 .2h0m1.2 .3h0m1.8 1.4h0m1.6 -86.9h0m.4 8h0m1.4 2.5h0m2.9 8.1h0m-4.4 .1h0m.8 .9h0m-1 .1h0m1.3 1.3h0m-1.9 .1h0m5.2 1.5h0m-1 .8h0m.8 .9h0m-3 .1h0m1.1 .9h0m-2.3 5.1h0m2.8 0h0m-2.8 1h0m.7 3.8h0m1.6 .8h0m-2 2.3h0m0 .9h0m.2 2.2h0m.8 1h0m1.1 2.2h0m2 1.2h0m-2.8 4.3h0m-.2 1.2h0m1.6 .2h0m-1.7 .8h0m-1.2 .4h0m2.7 .3h0m-2.1 2.2h0m3.7 3.4h0m-4.1 .8h0m-.4 .5h0m1.7 .9h0m3.3 .3h0m-5.7 1h0m.4 .5h0m-.2 2.4h0m5.7 1.3h0m-4.9 .5h0m1.6 .3h0m-2.2 1.1h0m1.4 4.8h0m-1.8 1.2h0m5 1.4h0m-4.7 1.3h0m4.7 .8h0m-2.7 .6h0m3.1 .3h0m-3.3 .9h0m2.2 1.3h0m-4 3.9h0m10.2 -77.3h0m-3.9 10.5h0m.9 7.6h0m2 21.5h0m2.5 .2h0m-.5 4.7h0m-5.4 5.9h0m3.1 3.6h0m-2.2 .3h0m.2 .3h0m4.8 -48.2h0m3.3 45.7h0m2.7 25.7h0" fill="none" stroke="#000" stroke-width="1.2" stroke-linecap="square"/>
<path d="M404.7 676.8l6.4 .2l14 1.2l3.5-.1l8-.8l4 .1l3 .5l2 .8l1.6 1.1l.9 1.4l.8 2.6l.3 5l-.4 21.5l0 14.5l.4 14.5l0 5.5l-.4 4l-.7 3l-1.3 2l-1.7 1.3l-3 1l-3.5 .4l-3-.1l-7.5-.9l-3.5-.2l-4 .2l-11 .9l-6-.1l-5-.7l-3.5-1.1l-1.5-.8l-1.3-.9l-1.6-2l-.9-2.5l-.5-3l-.2-4.5l0-11.5l-.3-6.5l-.8-8l-2.1-13.5l-.7-5.5l-.4-7l.3-4.5l.6-2l.9-1.3l1.5-1.2l2-.9l2.5-.8l3.5-.7l4-.4zM402 677.8l4.1-.1l4.5 .2l11.5 1.5l3.5 .2l3-.2l7.5-1.1l4 0l2.5 .4l2 .8l1.2 .8l1.1 1.5l.5 1.5l.3 1.5l.3 4l-.1 4.5l-.6 10.5l-.1 7.5l.1 12.5l.7 14l0 6l-.4 4l-.7 3l-1.3 2l-1.5 1.2l-1.5 .6l-1.5 .4l-3.5 .2l-3.5-.3l-7-1.4l-3.5-.1l-3 .2l-10 1.4l-3.5 .2l-3-.1l-4-.6l-3-1l-2.1-1.2l-1-1l-.8-1l-.7-1.5l-.4-1.5l-.5-4l0-4l.4-11l-.3-7.5l-.9-6.5l-2.4-12l-.8-5l-.5-6l.2-5.5l.4-2l.7-1.5l.8-1l1.4-1l2-.9l2.5-.7l3.5-.6zM399.7 678.8l5.4-.3l5.5 .3l5 .7l7.5 1.6l2.5 .3l2.5-.3l7-1.8l2.5-.2l2 0l2 .3l1.5 .5l1.5 .9l1 1.1l.7 1.4l.3 1.5l.4 4l-.2 5l-1 10.5l-.2 7.5l.1 11.5l1.2 13.5l.1 6l-.3 3.5l-.6 3l-1 2l-1.6 1.5l-1.4 .7l-1.5 .4l-2 .2l-2-.1l-3.5-.7l-6.5-2.3l-2.5-.2l-2.5 .3l-5.9 1.7l-3.6 .8l-4 .4l-3.5 0l-3.5-.5l-2.5-.9l-2.1-1.3l-1.4-1.7l-.6-1.3l-.6-2l-.4-4l.1-4.5l1.1-10l-.2-6.5l-1-6.5l-2.8-11l-1-5l-.7-5.5l0-5l.3-2.5l.3-1.5l.7-1.5l.9-1l1.3-1l2.1-.9l2.5-.7zM403.9 679.3l6.2 .3l3 .5l3 .7l3.8 1.5l1.7 1l3 2.2l1 .4l1-.2l2.7-2.4l2.2-1.5l2.1-1l2.5-.7l3-.2l2.5 .5l1.9 .9l1.3 1.5l.6 1.5l.4 1.5l.2 5l-.4 4.5l-1.8 10.5l-.2 4.5l.1 8l.4 6.5l1.7 12l.2 6l-.4 3.5l-.6 2.5l-1.2 2l-1.7 1.3l-2 .7l-2 .1l-2.5-.3l-2-.7l-2-1.1l-1.2-1l-1.3-1.5l-1.1-2l-1-3l-.5-3.5l-.1-12.5l-.3-6.9l-.5-5.2l-.5-2l-.5-.6l-.5 .4l-1 2.4l-.8 3.9l-.5 4l-.3 5l.5 9.5l-.2 4l-.9 3.5l-1.4 2.5l-2.1 2l-2.7 1.5l-3.6 1.1l-4 .5l-3.5-.2l-3.3-.9l-2.3-1.5l-1.5-2l-.6-1.5l-.4-2l-.2-4l.4-4l1.9-9.5l.1-2.5l-.1-3l-.4-3l-.8-3.5l-3.6-11l-1.4-5.5l-.7-5.5l.1-5.5l.5-2.5l.6-1.5l1.1-1.5l1.1-.8l1.5-.8l2.5-.7l3-.5zM401.9 680.3l4.2-.1l4 .4l3.5 .8l2.9 1.4l1.7 1.5l1.3 2l.7 2.5l.5 3l-.1 4l-.7 5l-1 4l-3.4 11.5l-.8 3.5l-.3 3l-.1 2.5l.3 2.5l2 7.5l.6 3.5l.1 3l-.3 2.5l-.5 1.5l-.7 1.5l-1.9 2l-1.3 .9l-1.5 .6l-3.5 .8l-2 0l-2-.2l-1.5-.5l-1.3-.6l-1.2-.9l-1-1.1l-.8-1.5l-.5-1.5l-.3-3.5l.3-3.5l.9-3.5l3-8l.4-2.5l0-2l-.5-3l-1-3l-4.5-10.2l-1.5-4l-1.1-4.3l-.6-4l0-3l.2-3l.7-2.5l.8-1.5l1.5-1.5l1.5-.8l2-.7zM435.8 681.3l1.8-.4l2 .1l1.5 .3l1.5 .8l1.1 1.2l.7 1.5l.5 2l.1 2l-.1 3l-.5 3.5l-3.2 10.5l-.3 2.5l-.1 3.5l.1 6l.3 4l.7 3.5l1.8 6.5l.8 4l.5 4l-.1 4l-.7 3.5l-1.1 2.2l-1 1l-1 .6l-1 .3l-1.5 .2l-2-.2l-1.5-.6l-1.5-.9l-1-1.1l-1-1.5l-.7-2l-.4-2l-.2-2.5l.1-5l1.5-12l.2-15l-.3-5.5l-1.5-9.5l0-4.5l.5-3l.9-2l.8-1l1.1-.9zM401.8 681.3l3.3-.2l3 .2l2.5 .5l2.5 1l1.5 1l1.3 1.5l1 2l.6 2.5l.3 3.5l-.2 3.5l-.7 3.5l-1.2 4l-2.1 4.6l-2 3.4l-2 2.5l-1 .7l-1 .4l-1.5-.2l-2-1.4l-2-2.2l-2.5-3.4l-2-3.3l-1.5-3.1l-1-3l-.7-3l-.4-3l0-3l.5-3l.7-2l1.1-1.5l1.3-1.1l2-.9zM436.6 682.3l1.5-.3l1.5 0l1.5 .5l1 .7l.8 1.1l.5 1l.4 1.5l.2 2l0 2l-.3 2.5l-.6 2.2l-.7 1.8l-1.3 2.3l-1 1.3l-1.5 1.3l-1 .3l-.5 0l-1-.6l-1-1.2l-1-1.9l-1.2-3.5l-.6-4l.2-3.5l.7-2.5l1.4-1.8zM436.3 726.8l.8-.4l1 .1l1 .8l1.5 2l1 1.7l1 2.4l.7 2.4l.5 2.5l.1 4.5l-.3 2l-.5 1.9l-.5 1.1l-1 1.2l-1 .7l-1.5 .4l-1.5-.1l-1-.3l-1-.5l-1-.9l-.8-1l-.7-1.5l-.7-3l0-4.5l.7-4.5l1.5-4.4l1-1.8zM406.1 729.3l1-.2l1.5 .4l1.5 1.1l1.5 1.8l1.1 1.9l1.1 2.5l.6 2.5l.2 2l-.1 2l-.4 1.5l-.6 1.5l-1.1 1.5l-1.2 1l-1.6 .8l-1.5 .4l-2 .2l-1.5-.1l-1.5-.4l-1.5-.8l-1-.9l-.9-1.2l-.6-1.5l-.4-1.5l-.1-2l.2-2l.5-2l1.5-3.5l1.3-1.8l1.5-1.6l1.5-1.2zM402.8 682.3l2.3-.2l2.5 .3l2 .5l1.9 .9l1.2 1l1.2 1.5l.8 2l.5 2l.3 3l-.2 3l-.7 3l-1 2.9l-1.5 2.9l-1.5 1.9l-1.5 1.4l-2 .8l-1.5 0l-2-.7l-2-1.6l-1.5-1.7l-1.5-2.2l-1.2-2.2l-.9-2.5l-.7-3l-.2-3l.1-2.5l.4-2l.9-2l1.1-1.5l1-.7l1.6-.8zM438 683.3l1.1 0l1 .2l1.5 1.1l1 1.9l.4 2.8l-.4 3.5l-1 2.7l-1.5 1.9l-1 .6l-1 .2l-1.5-.6l-1.4-1.8l-.9-2.5l-.4-3l.3-3l.8-2l1.6-1.5zM437.9 731.8l.7 0l1 .5l1.5 1.9l1.2 3.1l.5 3.5l-.2 3l-.9 2.5l-.6 .9l-.7 .6l-.8 .4l-1 .2l-1-.2l-.8-.4l-1.5-1.5l-.9-2l-.4-3l.2-3.5l.9-3.1l.8-1.4l.7-.9zM404.7 734.3l1.4-.4l1 0l1 .3l1 .6l1 1l1 1.5l.7 1.5l.3 1.5l.2 1.5l-.2 1.5l-.4 1.5l-.5 1l-1.6 1.6l-1 .6l-1.5 .4l-1.5 .1l-1-.2l-2-.9l-1.3-1.6l-.8-2l-.1-2.5l.2-1.5l.5-1.5l1.5-2.4l1-.9zM402.6 683.8l2-.3l2 .2l1.5 .4l1.5 .7l1.2 1l1.1 1.5l.7 1.5l.5 2l.2 2l-.1 2.5l-.5 2.5l-.7 2l-1.1 2l-1.3 1.6l-1.5 1.2l-1.5 .5l-1.5 0l-1.5-.4l-1.5-1l-1-1l-1.1-1.4l-1.2-2l-.8-2l-.5-2l-.2-2l0-2l.3-2l.5-1.6l.8-1.4l.8-1l1.4-.9zM437.4 685.3l1.2-.4l1.5 .4l.6 .5l.6 1l.5 2l-.1 2.5l-.6 1.8l-1 1.4l-.5 .4l-1 .3l-1-.2l-1-.9l-.7-1.3l-.4-2l0-2l.4-1.5l.7-1.3zM437.7 735.8l.9-.2l.5 .1l.8 .6l.9 1.5l.5 2l.1 2l-.3 2l-.9 1.5l-1.1 .7l-1-.1l-1-.6l-.9-1.5l-.4-1.5l-.1-2l.4-2l.6-1.5zM404.9 737.8l1.2-.3l1.5 .4l1.4 1.4l.6 1.5l.1 2l-.6 1.5l-1 1.2l-1.5 .7l-1.5-.1l-1-.5l-1-1.1l-.5-1.2l0-2l.4-1.5l.7-1zM403 685.8l1.1-.3l1.5 0l1.2 .3l1.3 .7l1 .8l.7 1l.7 1.5l.4 1.5l.1 1.5l-.1 2l-.8 3l-.9 1.5l-.8 1l-1.3 .9l-1 .3l-1 .1l-1-.3l-1-.4l-1-.8l-1.7-2.3l-1-3l-.2-3l.5-2.5l.4-1l1-1.3l.9-.7zM438.5 687.8l.6 0l.5 .4l.3 1.6l-.3 1.2l-.5 .5l-.5 .1l-.5-.3l-.3-.5l-.2-1l.1-1l.4-.7zM404.1 688.8l1.5 0l1 .5l1 1.3l.5 1.6l0 1.6l-.5 1.7l-1 1.3l-1 .5l-1.5-.2l-1-.7l-.7-1.1l-.5-1.5l-.1-1.5l.3-1.5l1-1.4z" fill="none" stroke="#707070" stroke-width="0.5" stroke-linejoin="round"/>
<path d="M514.3 604.8H347.6V771.2H514.3" stroke="#3a3a3a" stroke-width="0.9" fill="none"/>
<line x1="514.3" y1="604.8" x2="514.3" y2="771.2" stroke="#bdbdbd" stroke-width="0.9" stroke-linecap="butt"/>
<path d="M424.5 605.3V771.2M344.8 710.3H511.7M424.5 606H511.7V710.3" stroke="#262626" stroke-width="1.4" fill="none"/>
<path d="M344 634.5h3.6M344 666.5h3.6M344 702.5h3.6M344 718.5h3.6M344 734.5h3.6M344 770.5h3.6" stroke="#111" stroke-width="1.2" fill="none"/>
<path d="M345.6 656.5h2M345.6 650.5h2M345.6 646.5h2M345.6 643.5h2M345.6 641.5h2M345.6 639.5h2M345.6 637.5h2M345.6 635.5h2M345.6 691.5h2M345.6 685.5h2M345.6 680.5h2M345.6 677.5h2M345.6 674.5h2M345.6 671.5h2M345.6 669.5h2M345.6 668.5h2M345.6 624.5h2M345.6 618.5h2M345.6 614.5h2M345.6 611.5h2M345.6 608.5h2M345.6 606.5h2M345.6 604.5h2M345.6 708.5h2M345.6 711.5h2M345.6 713.5h2M345.6 715.5h2M345.6 721.5h2M345.6 723.5h2M345.6 725.5h2M345.6 729.5h2M345.6 745.5h2M345.6 751.5h2M345.6 755.5h2M345.6 759.5h2M345.6 762.5h2M345.6 764.5h2M345.6 766.5h2M345.6 768.5h2" stroke="#444" stroke-width="1.0" fill="none"/>
<path d="M350.5 771.2v4.6M375.5 771.2v4.6M424.5 771.2v4.6M487.5 771.2v4.6" stroke="#111" stroke-width="1.2" fill="none"/>
<path d="M405.5 771.2v2.4M410.5 771.2v2.4M414.5 771.2v2.4M418.5 771.2v2.4M421.5 771.2v2.4M443.5 771.2v2.4M454.5 771.2v2.4M462.5 771.2v2.4M468.5 771.2v2.4M473.5 771.2v2.4M477.5 771.2v2.4M481.5 771.2v2.4M484.5 771.2v2.4M506.5 771.2v2.4M355.5 771.2v2.4M358.5 771.2v2.4M366.5 771.2v2.4M369.5 771.2v2.4M372.5 771.2v2.4M380.5 771.2v2.4M386.5 771.2v2.4M391.5 771.2v2.4" stroke="#444" stroke-width="1.0" fill="none"/>
<rect x="360.6" y="771.2" width="3.6" height="4.6" fill="#000"/>
<text x="332.8" y="640.9" font-size="9.5" text-anchor="end" fill="#141414">10</text>
<text x="334.6" y="634.5" font-size="9.5" text-anchor="start" fill="#141414">3</text>
<text x="332.8" y="673.2" font-size="9.5" text-anchor="end" fill="#141414">10</text>
<text x="334.6" y="666.8" font-size="9.5" text-anchor="start" fill="#141414">2</text>
<text x="332.8" y="709.3" font-size="9.5" text-anchor="end" fill="#141414">10</text>
<text x="334.6" y="702.9" font-size="9.5" text-anchor="start" fill="#141414">1</text>
<text x="330.8" y="723.3" font-size="9.5" text-anchor="middle" fill="#141414">0</text>
<text x="332.8" y="741.1" font-size="9.5" text-anchor="end" fill="#141414">-10</text>
<text x="334.6" y="734.7" font-size="9.5" text-anchor="start" fill="#141414">1</text>
<text x="332.8" y="771.3" font-size="9.5" text-anchor="end" fill="#141414">-10</text>
<text x="334.6" y="764.9" font-size="9.5" text-anchor="start" fill="#141414">2</text>
<text x="363.7" y="791.3" font-size="9.5" text-anchor="middle" fill="#141414">0</text>
<text x="431.5" y="791.3" font-size="9.5" text-anchor="end" fill="#141414">10</text>
<text x="432.7" y="785.3" font-size="9.5" text-anchor="start" fill="#141414">4</text>
<text x="493.7" y="791.3" font-size="9.5" text-anchor="end" fill="#141414">10</text>
<text x="494.9" y="785.3" font-size="9.5" text-anchor="start" fill="#141414">5</text>
<text x="426" y="588.4" font-size="16.2" font-weight="bold" text-anchor="middle" fill="#000">SpFN +AH</text>
<text x="486" y="630.3" font-size="16" text-anchor="middle" fill="#111">15%</text>
<path d="m521.5 682.8h0m-1.3 7.1h0m1.5 18h0m-1.7 15.3h0m.2 33.9h0m4.4 -99.2h0m2 16.8h0m-.4 3.8h0m1.5 3.1h0m-1.1 1.2h0m1.1 .6h0m-1.6 1.5h0m.7 1.6h0m-2 .2h0m3 4.2h0m-5.4 .1h0m4.9 .9h0m-2.4 1.1h0m-1 .9h0m3.1 .1h0m-.7 2.4h0m-.4 .2h0m.2 .3h0m-.5 11.9h0m.6 2.3h0m-.4 0h0m-.2 4.4h0m1.4 .1h0m-3 4.6h0m2.6 4.3h0m-1.4 6.3h0m-.7 3.9h0m2.4 1.5h0m-2.9 1h0m1.9 3.1h0m-3.5 5.7h0m5.1 1.3h0m-.3 3.1h0m-5.2 3.6h0m10.5 -75.9h0m-3.5 2.2h0m3.7 1.6h0m-3.7 .1h0m3.6 .9h0m-1.9 .8h0m.9 .9h0m2.1 .3h0m-.3 2.2h0m-1 3.3h0m-3.9 .2h0m3.7 .6h0m0 1.5h0m.9 2.1h0m-2.4 .4h0m.3 .1h0m1.3 6.5h0m-3.7 2.6h0m1.6 1h0m.2 .8h0m2.5 .8h0m.8 1.3h0m-5.1 1.4h0m5.4 .2h0m-.8 .7h0m-1.6 2.5h0m-1.5 2h0m3.1 .8h0m.2 1.4h0m-1.4 .5h0m-3.7 .1h0m4.2 1.6h0m-4.5 .3h0m.1 4h0m3.5 5.3h0m-2.5 1.7h0m1.3 1.1h0m2.9 1.1h0m-4.1 .8h0m-.7 2.3h0m1.2 .6h0m.2 0h0m3.8 .6h0m-2.3 6.1h0m-3 2.7h0m2.9 1.9h0m.3 1.2h0m1.3 2.6h0m.1 .2h0m.7 4.3h0m-.6 1.6h0m-.2 .5h0m6.4 -85.8h0m.2 .1h0m-1 2.4h0m1.2 1.2h0m-2.2 .9h0m-2.3 .2h0m-.3 .1h0m3.3 .5h0m-1.4 .1h0m-1 .8h0m4 1h0m-.5 .6h0m-2.2 1h0m2.3 0h0m-4.2 .6h0m.7 .8h0m.9 .6h0m-.4 .4h0m.2 1.8h0m-.1 .1h0m.9 1.4h0m2 0h0m-1 .7h0m-1.5 .7h0m1.6 .7h0m-.6 .2h0m-3.2 0h0m4.8 .6h0m-.3 .7h0m-2.1 1.4h0m1.3 .3h0m.2 .4h0m-1.5 .1h0m.1 .3h0m1.8 0h0m-1.9 .1h0m-.3 1.8h0m-.6 0h0m3.7 .5h0m-1.7 1.8h0m-.3 2.1h0m-1.3 .3h0m1.8 .2h0m.3 .8h0m1.2 .4h0m-2.5 .5h0m.7 .4h0m1.7 2.4h0m-.7 .3h0m.6 .2h0m0 .1h0m-.9 .7h0m-2.7 .6h0m.5 1.1h0m-2.2 .1h0m1.7 .1h0m-.7 .1h0m.5 .1h0m-.2 .4h0m2.2 .2h0m1.1 1.2h0m0 .5h0m.1 .5h0m-.7 1.1h0m-.4 .7h0m1.3 .6h0m-1.2 1.5h0m-2 2.2h0m.9 1.2h0m1.7 0h0m-.5 .6h0m-3.6 0h0m4.7 .6h0m-1.8 1.2h0m.8 2.3h0m-2.6 2.4h0m1.2 1.2h0m-1.4 2.3h0m1.6 .6h0m-.1 1.1h0m-1.3 .1h0m-.4 3.2h0m-1.3 .8h0m1.1 .9h0m2.5 .1h0m-1 .1h0m-1.4 1.1h0m4.6 .4h0m-.1 3.4h0m-2.2 .9h0m-1 1.4h0m2.7 .7h0m-2 3.4h0m2.1 0h0m-1.7 .5h0m-1.2 0h0m-.4 .3h0m2.9 .8h0m-1.3 .9h0m2.2 .1h0m-.5 .3h0m-1.8 .1h0m-.2 1.3h0m-.8 2.8h0m-.3 .1h0m-1.2 .5h0m2.3 1.7h0m.4 3.5h0m3.4 -88.5h0m0 1.2h0m1 .2h0m1 2.1h0m-1.4 .1h0m-.6 .1h0m3.1 .2h0m-2.1 .6h0m.3 .6h0m.6 1.1h0m.8 .5h0m-.7 .3h0m-2 1h0m4.1 0h0m.1 .3h0m-2.5 .4h0m1.4 .2h0m-.3 1.5h0m-.2 0h0m-.5 .2h0m1 .3h0m1.2 .6h0m-1.5 0h0m1.4 .1h0m.2 .1h0m-2.9 1h0m-2.6 0h0m2.3 1.1h0m-1.6 0h0m4.3 .5h0m-2.1 .1h0m2.5 0h0m-5.1 .1h0m3.5 .2h0m.8 .7h0m-3.8 .4h0m-.3 .1h0m.8 .4h0m3.2 .1h0m-.6 .1h0m-1.2 0h0m2.7 .5h0m-.6 .1h0m-3.8 .3h0m1.8 .5h0m1.7 .6h0m-.7 .2h0m.1 .1h0m1.8 .4h0m0 0h0m-2.5 .6h0m-1.3 .6h0m-.4 .3h0m2.4 .3h0m1.6 0h0m-.8 .8h0m-.9 .1h0m-1.2 .2h0m-2 .1h0m-.1 .9h0m.7 .1h0m1.9 .5h0m0 .3h0m1.9 .1h0m-.5 .1h0m1 .4h0m-4.2 .7h0m3.3 .2h0m-3 1.2h0m1.7 .1h0m1.2 .1h0m-2.5 .3h0m1.3 .3h0m1.3 1h0m-3.3 .3h0m-1.1 .1h0m2.9 .5h0m-2 0h0m1.8 .1h0m2.9 .8h0m-2.5 .2h0m1.9 .5h0m-1.3 .3h0m-.3 .5h0m-.9 .1h0m-.4 .1h0m.3 .5h0m1.3 0h0m1.2 .6h0m.7 .6h0m-4.3 .5h0m-.3 .4h0m2 .1h0m-2.1 0h0m4.5 .3h0m-4.7 0h0m1.2 .9h0m3.7 .2h0m-2 0h0m1.2 .5h0m-2.6 0h0m2.6 .9h0m0 .1h0m-.1 .1h0m-1.6 .3h0m-.6 .1h0m1.4 .4h0m-.2 .1h0m-.7 .1h0m2.6 .4h0m-.3 .1h0m-3.9 .1h0m2.7 .1h0m.5 1h0m-.5 .1h0m-.5 .7h0m-2.1 .6h0m3.1 .3h0m-1.1 .4h0m.9 .5h0m.2 .1h0m-1.8 .1h0m2.4 .9h0m-.2 .1h0m-4.1 .7h0m2.2 .9h0m.2 .1h0m-2.1 .4h0m3.3 .1h0m.3 0h0m-2.8 .5h0m1 .7h0m-1 .6h0m2.2 0h0m.7 1.3h0m-1.5 .3h0m2.3 .1h0m-3.3 1.5h0m1.4 .8h0m-3.4 .5h0m5.3 0h0m-3.5 1.2h0m1.6 .1h0m-3.1 .1h0m4.2 .2h0m-1.8 1.4h0m2.3 2.3h0m-3.1 3.3h0m1.4 .1h0m-.3 0h0m-2.8 0h0m2.5 .4h0m-2.4 .4h0m2 .9h0m-.4 .1h0m.4 .5h0m1.4 .4h0m-2.7 .5h0m1.2 .2h0m1.4 0h0m-3.2 .6h0m1.9 .1h0m.5 .4h0m-1.2 .6h0m2.7 .2h0m-2.1 .3h0m1.9 .7h0m-1.4 .7h0m-1.8 .1h0m3 1h0m-3.1 1.1h0m2.6 .6h0m1 1h0m-3.4 0h0m.6 .1h0m1.4 .3h0m1.3 1.5h0m-.7 .3h0m-1.6 .5h0m2.8 .4h0m-4.9 .3h0m3.2 .8h0m-.5 .3h0m-1.1 1.3h0m0 .2h0m2.1 1h0m-.4 .1h0m1.4 .1h0m-4.8 0h0m2 0h0m-1.7 2.1h0m1.3 .9h0m3.7 .1h0m-4.6 1.2h0m3.6 1.9h0m-2.6 .1h0m3.6 3h0m1 -92.1h0m4.6 5.2h0m-2.3 .7h0m1 .2h0m-2.8 1h0m2.6 .3h0m0 .2h0m-.4 0h0m-1.1 1.2h0m.4 .5h0m-1.2 .1h0m-.6 .5h0m2.9 0h0m1.2 .1h0m.1 0h0m-.8 .1h0m-2.9 .2h0m-1.2 0h0m1.2 .3h0m-.5 .2h0m1.1 .5h0m3.8 .2h0m-1 .1h0m.9 1.1h0m-3.3 .2h0m1.9 0h0m.6 .1h0m-.9 .2h0m1.1 0h0m-.6 .2h0m-2.5 .3h0m-1.3 .1h0m-.1 0h0m.6 .5h0m.2 .3h0m3.8 .4h0m-.7 .4h0m1.1 .3h0m-.8 0h0m.8 .1h0m.2 .4h0m-.4 .3h0m-2.4 .1h0m.5 .6h0m2.2 .1h0m-.4 .1h0m-3.4 .1h0m.9 0h0m3 .3h0m-4.1 .2h0m1 .4h0m2 .1h0m-4 .1h0m0 0h0m5.1 .1h0m.1 .2h0m-2.6 .1h0m2.3 0h0m-5.5 0h0m3 .1h0m2.3 0h0m-.4 0h0m.2 .2h0m-5 .2h0m4.1 .1h0m-.3 .3h0m.2 .4h0m-.7 .1h0m-.5 .2h0m-1.4 0h0m-1.3 .1h0m3.9 .1h0m-3.2 .1h0m-1 .2h0m1.4 .1h0m1.8 .2h0m-2.7 .2h0m.1 .1h0m4.6 .1h0m-4.8 .1h0m.5 .1h0m.4 0h0m2.1 .1h0m.2 .4h0m-3.5 .1h0m.7 .5h0m4.8 .1h0m-2.5 .2h0m-1.9 .3h0m1.2 0h0m3 .1h0m-.4 0h0m-5 .8h0m5.5 .1h0m-.5 0h0m-2.4 .2h0m.4 .3h0m-2 .3h0m-.3 .6h0m3 .1h0m1.7 0h0m-2.2 .1h0m2.1 0h0m-.5 .5h0m-3.6 .1h0m-.7 .1h0m1.1 .1h0m4.3 0h0m-1.4 .2h0m1.3 .3h0m-1.3 0h0m-1 .1h0m.3 0h0m.3 .2h0m-1.8 .5h0m3.3 .2h0m-.5 .1h0m-3.2 .4h0m.9 0h0m-.1 .1h0m3 .1h0m-1.8 0h0m-2.9 .1h0m3.7 0h0m-3.2 0h0m-.3 .1h0m-.1 .3h0m2.2 .3h0m-1.6 .1h0m-1.1 .6h0m3.5 .1h0m.1 .1h0m.6 0h0m-4.6 .2h0m.6 .1h0m.2 .3h0m1.4 .4h0m1.6 .2h0m1.9 .1h0m-1.8 .1h0m-1.3 .1h0m-.2 0h0m2.3 .9h0m-4.2 .2h0m1.8 .1h0m-2.4 .3h0m3.4 .2h0m-3 .4h0m-.3 .1h0m1.1 .1h0m-.2 .2h0m4.5 .8h0m-2.9 0h0m-1.1 0h0m2.7 .2h0m.2 0h0m1 .6h0m-1.9 .1h0m1.9 .2h0m-.6 .3h0m-2.4 .3h0m-2 .1h0m5.4 .1h0m-1.4 .1h0m-2.2 .3h0m1 0h0m.3 0h0m-.6 .1h0m2.4 0h0m.1 .8h0m-.4 .1h0m-4.1 .2h0m3.7 .1h0m-.8 .1h0m-.2 .1h0m-3.6 0h0m5.3 .2h0m-4.7 .2h0m3.8 0h0m.5 .2h0m-4.7 .1h0m5.1 .4h0m-2.8 .1h0m1.4 .3h0m-.2 .3h0m.8 .1h0m-1.1 .2h0m2.5 .4h0m-2 0h0m-4 .1h0m2.5 0h0m2.3 .1h0m-.3 .4h0m-4.2 .2h0m-.2 .1h0m5.2 .3h0m-1.1 0h0m-4 .1h0m4.5 .1h0m-.3 1.1h0m1.3 0h0m-1.5 .1h0m1.6 .1h0m-.2 0h0m-4.2 .3h0m4.3 .5h0m-2.3 .2h0m.5 0h0m.7 .2h0m-2.6 .6h0m1.6 0h0m-.3 0h0m2.1 .5h0m-.8 .4h0m1 .1h0m-5.1 0h0m-.1 .1h0m4.8 0h0m.8 .3h0m-1.9 .1h0m-3.6 .1h0m2.6 .4h0m-2.7 .1h0m5.2 0h0m-4.7 .1h0m1.8 0h0m1.9 .1h0m-3.9 0h0m1.1 .1h0m2.5 .3h0m-1.9 .7h0m-1.5 .9h0m3.8 0h0m1 1.3h0m-4.4 .5h0m2.5 .2h0m.5 .1h0m-3.5 .1h0m2.1 .2h0m-.5 .2h0m1.1 .1h0m1.9 .1h0m-5.3 .2h0m5.6 .1h0m-1.5 0h0m-3.7 .7h0m4.2 .1h0m-1.9 .1h0m1.9 .5h0m-.2 .1h0m-2.5 .3h0m2.4 .1h0m1.2 .1h0m-3.5 .4h0m3 .1h0m-4.8 .1h0m5.2 0h0m-4.4 .1h0m4.7 .1h0m-4.2 .1h0m-1.3 .1h0m.8 .7h0m3.9 .1h0m.5 .1h0m-2 .7h0m2.3 .2h0m-1.2 0h0m-1.8 0h0m.5 .6h0m-2 .7h0m4.3 .2h0m-2.6 1.1h0m-1.2 .9h0m-1.3 0h0m-.4 .1h0m5.3 .1h0m.6 .2h0m-2.9 .3h0m-2.2 .2h0m2.7 .2h0m-.7 0h0m1.4 .2h0m-.2 .3h0m-.1 .3h0m-2.9 .3h0m2.5 .2h0m-2.4 .1h0m3.3 .1h0m-3.2 .5h0m2.7 .6h0m1.6 0h0m-.7 .3h0m-3.3 .2h0m3 .5h0m-.9 .1h0m.9 .3h0m-3.8 .2h0m2.4 .2h0m2.8 .6h0m-1.3 .4h0m.6 .3h0m-1.3 .5h0m-1.7 .1h0m.8 0h0m-1.6 .1h0m-.4 .8h0m4.8 .1h0m-2.7 0h0m-2.9 .5h0m2.1 .5h0m1.8 .1h0m1 .1h0m.1 .1h0m-2 .3h0m-1.2 .1h0m-1 .2h0m4 .1h0m-1.9 .2h0m-.8 0h0m1.6 .2h0m1.7 .1h0m-.6 .2h0m-3.1 .1h0m1.2 .3h0m-1 .2h0m0 .2h0m-1.6 0h0m2.2 .1h0m-2.2 0h0m1.3 .1h0m-.4 0h0m3.9 .4h0m-5.3 .4h0m5.5 .1h0m-3.9 .2h0m-.3 .2h0m3.2 .1h0m-2.4 .2h0m-.1 .2h0m.5 .1h0m1.3 0h0m-2.6 .4h0m2.4 .2h0m1.3 .2h0m.2 .8h0m-.1 0h0m-2.9 0h0m-.4 .1h0m.4 .1h0m-.7 .2h0m3.8 0h0m0 .1h0m.7 .2h0m-.6 .6h0m-1.3 0h0m-3.3 .1h0m4.7 .1h0m-.4 .4h0m.3 .5h0m-2.3 1h0m2.7 .2h0m-2.6 .3h0m.9 .2h0m1.7 .3h0m-.4 .4h0m-1 .2h0m-2.3 .2h0m3 .1h0m.4 .1h0m-2.9 .3h0m2 .1h0m-1.3 1.3h0m.4 .6h0m-2.8 1.5h0m2.4 .2h0m-.2 .1h0m-.6 .2h0m1.5 1h0m-2.1 .2h0m-.3 2.1h0m-.9 .3h0m4.4 .9h0m-2.7 1.6h0m4.4 -92.9h0m4.2 .1h0m-4.8 0h0m4.9 .6h0m-3.9 .4h0m3.5 1.1h0m-2.1 .6h0m-1.8 1.1h0m4.3 .5h0m.7 .7h0m-5.3 .2h0m4.5 .5h0m-.1 .3h0m-3 0h0m1.3 .2h0m.3 .3h0m-2.8 .4h0m.7 .3h0m1.2 0h0m1.7 .4h0m-3.6 .2h0m-.2 .2h0m-.1 .2h0m4.3 0h0m.7 .1h0m-2.6 0h0m-1.7 .8h0m.7 .1h0m-1.6 .1h0m5.7 .1h0m-4.8 .1h0m4 .1h0m-1.8 .4h0m.8 .1h0m1.4 .1h0m-.1 .1h0m-1.4 0h0m-3.9 .1h0m.6 0h0m2.4 .2h0m-1.6 .2h0m3.7 0h0m-3.1 .2h0m0 0h0m1.4 .3h0m-.3 .2h0m-.1 .1h0m-2.1 .1h0m-.4 .2h0m5.3 .1h0m-.7 .2h0m-1.7 0h0m-2.5 .1h0m.7 .1h0m.9 0h0m.6 .1h0m-1.2 .2h0m2.5 .1h0m1 0h0m-2.3 0h0m2.4 .2h0m-.7 0h0m-3.6 .1h0m2.6 0h0m-3.5 0h0m3.1 .1h0m-.2 .1h0m.4 .2h0m-3.6 .2h0m1.8 .1h0m-1.1 0h0m2.7 .1h0m-.9 .1h0m3.4 .1h0m-5.1 0h0m3.6 0h0m.9 0h0m-3.1 .1h0m-1.8 .1h0m5.2 0h0m-1.8 .2h0m.3 0h0m-.3 0h0m1.8 .3h0m-2.6 0h0m1 .2h0m1.7 .1h0m-.9 0h0m-.2 0h0m-.3 .1h0m-4.2 .1h0m.7 .2h0m.6 0h0m4.3 .1h0m-2.7 .1h0m.1 .1h0m-3.1 .1h0m2.6 .1h0m3.3 .3h0m-1 0h0m-4.1 .3h0m2.5 0h0m-2.3 .1h0m3.2 0h0m-4.3 0h0m4.6 .1h0m-3.6 0h0m3.8 .3h0m-3.1 .1h0m4.1 .1h0m-1.1 .2h0m-3.5 .1h0m-1.1 .1h0m1.9 0h0m1.2 0h0m.9 .1h0m.8 0h0m-2.5 .2h0m-.4 0h0m3.5 0h0m-5.5 0h0m3.8 .1h0m-3.4 .1h0m2.4 0h0m1.6 .2h0m1.1 .1h0m-5 0h0m1.7 .1h0m-.4 0h0m2.5 0h0m.7 0h0m-4.3 .1h0m.2 0h0m4.3 .3h0m-2 0h0m-2.2 0h0m.6 .1h0m.5 0h0m-.1 .1h0m.5 .1h0m2.6 .1h0m-.7 .1h0m-3.3 .1h0m3.7 .1h0m.8 0h0m-3.2 .6h0m-.5 .1h0m1.3 .1h0m0 .1h0m0 .1h0m-2.1 0h0m1.4 .1h0m.6 0h0m-2.8 .1h0m4.1 .1h0m-3.2 .1h0m2.2 0h0m-1.4 .1h0m2.8 .1h0m-.7 0h0m-1 .1h0m.9 0h0m-2.7 .4h0m2.3 .1h0m.5 .2h0m-.2 .1h0m1.8 .2h0m-2 .1h0m-1.9 .2h0m3.3 .1h0m-.8 0h0m-2.4 .1h0m3.1 .1h0m0 0h0m.2 .5h0m-4.2 0h0m.9 .3h0m1.9 0h0m-1.7 .2h0m3.7 .1h0m-1.3 0h0m-.9 .1h0m-2.4 0h0m3.8 .1h0m-3.8 0h0m4.6 .2h0m-5.6 0h0m1.6 .2h0m1.2 0h0m-.1 .1h0m2 0h0m-.3 .1h0m-1.8 0h0m2.3 .1h0m-4.2 .1h0m3.9 0h0m-4.1 .1h0m5.1 .1h0m-1 .3h0m.4 0h0m.5 0h0m-2.5 .1h0m-1.7 0h0m4.4 0h0m-2.9 .1h0m.8 .1h0m-2 0h0m4 0h0m-3.4 .1h0m-.1 .1h0m2.3 0h0m-3.2 .1h0m.6 .1h0m-.8 .1h0m3.7 .1h0m-1.3 0h0m1.8 .1h0m-4 0h0m2.2 .2h0m.6 .4h0m1.2 .1h0m-.1 .1h0m-4.8 0h0m4.3 .1h0m.6 .2h0m-1 0h0m-2.9 .2h0m-1 .1h0m5 .1h0m-2.3 .1h0m0 .1h0m-3 .1h0m2.9 .1h0m2.5 .1h0m-.9 0h0m1.2 .1h0m-4.1 .2h0m2.4 0h0m-3 0h0m.7 .4h0m3.4 0h0m-1.9 .1h0m.1 .3h0m-.2 0h0m2.4 0h0m.2 .4h0m-2.8 0h0m-1 .3h0m2.8 0h0m-1.9 0h0m1.4 0h0m-1.1 .3h0m-1.4 0h0m.9 .3h0m1.9 0h0m-1 .1h0m-.1 0h0m-2.4 .1h0m.9 .1h0m3.9 .1h0m-4.7 .1h0m2.6 0h0m-1.1 0h0m.7 .1h0m-1.7 0h0m3.8 .1h0m-3.3 .2h0m3 0h0m-1.7 .1h0m-.8 .1h0m-1.6 0h0m4 .1h0m-1.9 0h0m-2.2 .1h0m4 .1h0m-.8 0h0m-2.5 .1h0m3.1 0h0m-1.9 .1h0m.5 0h0m-.1 .1h0m.3 0h0m-.8 0h0m-.1 0h0m.6 0h0m-1.8 .2h0m-.9 .5h0m-.2 .2h0m.4 0h0m4.3 .1h0m-1.8 0h0m2.5 0h0m-5.3 .1h0m4.8 .1h0m-1.7 .2h0m-3.1 .1h0m1.7 .1h0m2.7 .1h0m-1.5 .2h0m-3.3 .1h0m3.3 0h0m1.3 .1h0m-.8 0h0m-3.9 .3h0m5.1 0h0m-1.4 .3h0m-3.4 0h0m.1 0h0m4.3 0h0m-.2 .1h0m-2.9 .1h0m3.9 0h0m-.3 .4h0m-4.3 .2h0m3.6 0h0m-1.7 .2h0m2 .2h0m-3.3 .1h0m4.3 .1h0m-.5 .2h0m-4.6 .1h0m1.9 .3h0m2.2 .1h0m-4.1 0h0m4.1 .4h0m-1.6 .1h0m-.4 0h0m1.6 .1h0m.9 .2h0m-2.9 0h0m-.2 .3h0m.9 0h0m2.3 0h0m-2.4 .2h0m-.5 0h0m-1.9 .2h0m2.5 .2h0m2 0h0m-4.1 .1h0m1.6 .1h0m-.6 .1h0m-.8 .5h0m.4 .2h0m1.1 .1h0m-1.2 .1h0m-1.2 .2h0m1 .2h0m1.7 .1h0m.8 .1h0m-2.1 0h0m-.4 .1h0m3.7 0h0m.1 0h0m.3 .1h0m-3.5 .1h0m1.3 .1h0m2.4 .2h0m-4.1 .1h0m.6 0h0m3.2 .1h0m-4.7 .4h0m1.9 .1h0m1.8 .2h0m1.1 .1h0m-2.7 0h0m2 .1h0m-3.6 .1h0m3.7 0h0m-.5 .5h0m-2.3 .1h0m1.9 0h0m1.6 0h0m-2.2 .3h0m-.7 .9h0m-2.2 0h0m2.8 0h0m-.3 .1h0m1.8 .4h0m.3 0h0m-2 .6h0m2.2 .2h0m-.4 .1h0m.5 .1h0m-.2 0h0m-2.6 .1h0m-2.2 0h0m2.4 .3h0m2.5 .2h0m-.2 .2h0m-1.9 .1h0m-2.7 0h0m3 0h0m.3 .2h0m.2 .1h0m-1.3 .1h0m.4 .1h0m-1.8 0h0m2.2 .1h0m1.3 0h0m-2 .1h0m-2.7 0h0m3.2 .1h0m-2.8 .1h0m2.3 .2h0m1.3 .1h0m-.6 .2h0m-.3 .3h0m-.5 .3h0m.7 0h0m-1.9 .3h0m1.5 .1h0m2.7 .1h0m-4.9 0h0m4.4 .2h0m-1 .1h0m-2.5 .2h0m4.3 .2h0m-1.4 .1h0m.7 .3h0m-4 .1h0m3.5 .3h0m1.1 .1h0m-.2 .2h0m-1.4 .1h0m1.6 .2h0m-2.7 .1h0m1.8 0h0m-4.6 0h0m-.4 .1h0m5.4 0h0m.4 0h0m-5.3 .1h0m2 .2h0m3.1 .2h0m-4.2 .1h0m2.2 0h0m1.4 .2h0m-3.1 0h0m-.5 .1h0m1.5 .1h0m-2.6 0h0m1.7 .2h0m-1.8 .1h0m3.7 0h0m-3 .1h0m1.3 0h0m3.3 .1h0m-.9 0h0m-.7 .1h0m-1.2 0h0m1 .1h0m-.8 0h0m.1 .2h0m-.8 .6h0m-.5 .3h0m2.5 .1h0m-3.4 .2h0m4.9 .2h0m-1.7 .2h0m-2.8 .1h0m2.6 .3h0m-1 0h0m2.2 .3h0m-3.9 0h0m1 .2h0m3.1 .4h0m.6 0h0m-2.4 .1h0m-3.4 .1h0m1.4 .1h0m2.5 0h0m-2.9 .2h0m4.9 .1h0m-5.8 0h0m1.8 .3h0m.6 .1h0m3.5 0h0m-.7 .4h0m-1.9 0h0m2.4 .3h0m-4.7 .1h0m4.5 0h0m.3 0h0m-4.8 .1h0m4.8 0h0m-3.3 .3h0m2.7 .1h0m-1.4 .2h0m1.5 0h0m.5 .2h0m-3.4 .1h0m2 .3h0m.8 .2h0m.4 .1h0m-4.5 .1h0m2.1 .2h0m-2.4 .1h0m3.6 .2h0m-2.1 0h0m2 .2h0m.8 .1h0m-4.4 0h0m2.6 0h0m1.1 0h0m-2.1 .2h0m1.7 .2h0m-3.8 .1h0m5.1 0h0m-3 .1h0m-.4 .2h0m2.8 .1h0m-1.7 0h0m-3 .1h0m5.4 0h0m-1.6 .1h0m.2 .2h0m-1 .1h0m0 .3h0m-.4 .5h0m-2.1 .1h0m3.4 .1h0m-.5 .7h0m1.8 .1h0m-.3 0h0m.3 .3h0m-3.5 .3h0m2.5 0h0m.4 .2h0m-1.7 0h0m.5 .1h0m-.6 .1h0m1 .2h0m-1.1 .2h0m-2.1 .1h0m1.7 0h0m2.2 .1h0m0 .1h0m-1.9 .1h0m-.7 .2h0m2.1 .1h0m-3.6 0h0m3.9 .2h0m-3.3 .2h0m-.2 .2h0m-.3 .3h0m5.2 .1h0m-3.6 .4h0m-.3 0h0m2.4 .1h0m-1.5 .5h0m1.3 .1h0m-1.8 0h0m-.1 0h0m.8 .1h0m-1.3 .1h0m1.8 0h0m-.9 .3h0m0 1h0m3 .2h0m-3.8 .1h0m1.8 0h0m2.3 .1h0m-1.5 .3h0m1.1 .1h0m-2.1 .4h0m1.2 .6h0m-1.3 .1h0m1.8 .1h0m-2.4 0h0m2.1 .2h0m-2.9 .2h0m1.5 .3h0m-1.7 0h0m-1.4 .1h0m5.2 0h0m-2.3 0h0m2.2 .2h0m-.1 .2h0m-2.3 .1h0m-2.4 0h0m4.5 0h0m-4 .1h0m1.8 0h0m-1.5 0h0m-.9 0h0m2.7 .1h0m-3 .2h0m3.8 .2h0m1.9 .1h0m-1.2 .1h0m-4.7 .5h0m4 0h0m-2 0h0m2.7 .1h0m0 0h0m-3.4 .1h0m1.7 .1h0m.6 .2h0m-2.4 .2h0m.6 0h0m-1 .3h0m1.7 .2h0m1.1 .4h0m-3.2 0h0m4.2 .1h0m-.9 .1h0m1.9 .2h0m-3.3 .1h0m2 .3h0m.3 .1h0m.6 0h0m-3.7 .1h0m1.1 0h0m.6 .1h0m1.1 0h0m-.6 .1h0m1.7 .2h0m0 .2h0m-4.6 .1h0m3.4 0h0m1.7 .1h0m-4 .1h0m2.2 0h0m-2.5 .3h0m3.5 .1h0m-3 .2h0m0 0h0m-1.3 0h0m2.9 .1h0m.8 .1h0m-3.2 .1h0m2.4 .1h0m-1.1 0h0m-.4 .1h0m1.9 .1h0m.1 .2h0m.4 .1h0m-.5 .3h0m-1.2 0h0m-.1 .2h0m.2 .1h0m.8 .1h0m-.8 0h0m0 0h0m1.1 .2h0m-2 .2h0m-1.5 .1h0m4.7 .1h0m.7 .4h0m-1.1 .1h0m-4.5 .2h0m.7 .1h0m-1.1 0h0m3 .2h0m2 .1h0m-4.3 0h0m3.8 .5h0m-.8 0h0m1.9 .3h0m-2.9 .3h0m2.1 .1h0m-.7 0h0m1.2 .7h0m-2.8 0h0m-.1 0h0m.8 .1h0m-1.7 .6h0m1.4 .8h0m1.6 .4h0m.4 .4h0m-.6 .1h0m.7 .2h0m.9 .3h0m-1.6 .1h0m-1.1 .1h0m-1.3 .3h0m-.6 .4h0m-1.2 .4h0m3.6 .2h0m-1.8 .1h0m2.7 .1h0m-1.4 1.8h0m-.6 1.6h0m-2.2 .5h0m5.1 1h0m-3 1h0m2 2.9h0m7.4 -107h0m-4.3 1.6h0m-.5 7.5h0m.4 2h0m-.6 .6h0m.3 .2h0m.1 .6h0m1.3 .8h0m2.4 1.7h0m-2.7 .5h0m2.4 .2h0m-3.4 .4h0m.8 0h0m1.6 0h0m.5 .2h0m.2 0h0m-1.4 .1h0m-2.1 0h0m4.7 .5h0m-1.5 0h0m-3.6 0h0m3.3 0h0m-.3 .3h0m-2.3 .2h0m-.7 .4h0m3.8 .3h0m-1.4 .1h0m-.4 .5h0m2 .1h0m.6 .2h0m0 .1h0m-3.9 .1h0m-.5 .2h0m1.1 .1h0m.6 0h0m3.1 .1h0m-1.2 0h0m-1 0h0m-1.4 .2h0m2.8 .2h0m.9 .2h0m-2.4 0h0m2.4 0h0m-.5 0h0m-1.6 .1h0m-1.3 0h0m-1.3 .3h0m2 .2h0m2.2 .2h0m-1.3 .2h0m-.6 0h0m-1.3 .3h0m.9 0h0m2 .1h0m-3.3 .1h0m0 .1h0m-1 .3h0m3.7 0h0m-2.1 .2h0m.5 .1h0m-.8 .3h0m1.4 0h0m-1.5 .1h0m.7 0h0m.3 0h0m-1.1 .1h0m1.4 0h0m.1 .1h0m-1.4 .2h0m.5 .1h0m1.5 .1h0m-2.3 0h0m-1.3 .2h0m.3 .1h0m1.9 0h0m1.2 0h0m-1.1 .1h0m-.9 .1h0m1.8 0h0m-2.4 .2h0m-.2 .1h0m.3 .2h0m-.3 0h0m.2 .1h0m1 0h0m.1 0h0m-.1 .1h0m0 .5h0m1 .1h0m-2.3 .2h0m2.7 0h0m-1.7 .3h0m-.2 0h0m-.7 .1h0m-.7 .1h0m2.2 0h0m-1.6 .2h0m-.6 0h0m3.3 .3h0m-2.6 0h0m1.7 .2h0m-2 .1h0m-.4 .2h0m1.5 .2h0m1.3 .1h0m-1.6 0h0m-.3 .1h0m.1 .1h0m-.7 .2h0m1.9 .1h0m.1 .1h0m-.4 .1h0m-.8 0h0m.5 .1h0m.2 0h0m.6 0h0m-.6 0h0m-1.3 .2h0m.9 .2h0m.4 0h0m.1 0h0m1.4 .1h0m-2.6 .4h0m1.3 .1h0m-.1 0h0m-.3 .1h0m-.2 0h0m1.9 .1h0m-.3 .4h0m-.2 0h0m-1.1 .1h0m.7 .1h0m-1.5 .1h0m2.3 .1h0m-3.1 0h0m1.3 .1h0m.5 0h0m-1.1 .1h0m2 .1h0m-1.2 .2h0m.3 0h0m.1 .1h0m.7 .1h0m-.7 0h0m-1.3 .1h0m1.2 .1h0m.1 .1h0m-1.8 0h0m2.9 .1h0m-1.7 0h0m.8 0h0m-1.5 .3h0m.1 .5h0m2.1 .3h0m-.2 .2h0m0 .1h0m-.3 .3h0m-1.5 .3h0m2.2 0h0m-2.1 .1h0m2.1 .4h0m-1.8 .2h0m-.6 .2h0m.7 .1h0m.7 .2h0m.9 0h0m-.5 .2h0m-1.2 0h0m1.7 0h0m-1.1 .1h0m-.3 .1h0m1.9 .1h0m0 0h0m-2.5 .1h0m0 .3h0m2.5 0h0m0 .2h0m.1 .1h0m-1.1 .1h0m.4 .1h0m-1.2 .1h0m-.9 .2h0m2.8 0h0m-.7 .1h0m-.1 .1h0m-.5 0h0m-1.5 0h0m-.5 .2h0m.4 .3h0m2.5 0h0m-.7 .1h0m-1.9 .3h0m1.9 .2h0m.9 .1h0m0 .1h0m-1.4 0h0m1 .4h0m-.5 .2h0m.7 0h0m.5 .1h0m-.7 .2h0m-2 .3h0m-.8 .2h0m2.1 .3h0m-1.6 .2h0m2.8 0h0m-1 .1h0m1.2 0h0m-3.5 .2h0m2.1 0h0m-.8 .1h0m.7 0h0m-.1 .3h0m-.2 .1h0m-1.3 .1h0m.3 .1h0m2.2 .1h0m.2 0h0m-.2 0h0m-2.5 .3h0m.3 .1h0m2.2 .1h0m1.1 0h0m-.2 .4h0m-.8 .1h0m1.1 0h0m-1.5 .3h0m1.3 .1h0m-1.8 0h0m1.1 .1h0m-2.9 .1h0m1.8 .1h0m-1.6 0h0m-.3 .2h0m.4 .1h0m2 .1h0m-2.2 0h0m3.5 .1h0m-2.4 .3h0m1.4 .1h0m-1.7 0h0m-.3 .1h0m.8 .3h0m1 .4h0m.8 .1h0m-1 .1h0m-.5 0h0m-1.8 .2h0m.7 .2h0m-.2 .3h0m.6 .3h0m1.5 0h0m.5 .1h0m.2 0h0m1.1 0h0m-2.8 .1h0m1.5 .1h0m-2.8 0h0m2.7 .1h0m.3 .1h0m-1.9 .2h0m2.9 0h0m-1.9 .1h0m0 0h0m-1.9 0h0m-.6 .4h0m3 .2h0m-2.9 0h0m3.4 .1h0m.3 .2h0m-.7 .2h0m-3 .1h0m1.7 0h0m2 0h0m.2 .2h0m-3.6 0h0m2.8 .1h0m-2.1 0h0m1.4 .1h0m-1.3 .1h0m1.8 .1h0m1.1 .4h0m-3.1 0h0m2.9 0h0m-1 0h0m.5 .1h0m-1.4 .3h0m1.1 0h0m-2.9 .1h0m4.3 0h0m-.6 .1h0m-.7 .1h0m-2.4 .2h0m.9 0h0m.4 0h0m-1 .2h0m-.7 0h0m4.1 0h0m-2 0h0m1.8 .1h0m-.4 .1h0m-3 .1h0m1.4 .1h0m-1.9 0h0m2.3 0h0m1.1 .1h0m-1.4 0h0m1.9 .1h0m-1.1 .1h0m-3.4 .2h0m.9 .1h0m2.4 0h0m1.2 0h0m-.1 .2h0m-4.2 .1h0m4 0h0m.4 .1h0m-4.6 0h0m3.4 0h0m1.4 .1h0m-2.2 0h0m2.2 .1h0m.2 .1h0m-1 0h0m.3 .2h0m-4 .1h0m3.4 0h0m.8 0h0m-2.9 .1h0m2.9 .1h0m.5 .1h0m-3.3 .1h0m.1 .1h0m-1.9 .1h0m2.6 .2h0m-2.5 .3h0m4.5 0h0m.7 0h0m-4.3 0h0m4.1 .1h0m-1.5 0h0m.8 .1h0m-.8 0h0m.9 .2h0m-1.8 .1h0m2 .1h0m-1.7 .1h0m-1 0h0m1.9 0h0m-1.1 .1h0m-2.6 0h0m.3 0h0m4.6 .2h0m-.9 0h0m-.4 .2h0m-.3 .1h0m-2.1 0h0m2.8 .1h0m-.3 0h0m.4 0h0m-1.4 0h0m1.5 .1h0m0 .2h0m-2.9 .1h0m3.7 0h0m-1.5 .1h0m-.5 0h0m-2.1 0h0m3.4 .3h0m.2 .1h0m-2.5 .1h0m2.7 0h0m-.3 .1h0m-3.2 .1h0m1.6 .1h0m-2.8 0h0m.7 .2h0m4.4 0h0m0 0h0m-.3 0h0m.8 0h0m-2.1 0h0m-1.1 0h0m.9 .2h0m-.5 .1h0m1.9 0h0m-4.8 .3h0m3.9 .2h0m-3.5 0h0m3.7 .2h0m-3.6 .1h0m5 0h0m-4.3 .2h0m4 .1h0m-1.9 0h0m-1.5 .1h0m2.3 0h0m-1.7 .1h0m.8 0h0m2.1 .1h0m-3.3 .1h0m1.8 0h0m.6 0h0m.4 0h0m.6 .2h0m-.1 0h0m-2.4 .2h0m-1.7 0h0m.5 .2h0m3.2 0h0m-.4 .1h0m.8 .4h0m-.4 0h0m-.4 .2h0m-3.3 0h0m3.7 .1h0m-1.3 0h0m.7 .1h0m-2.8 0h0m2.1 .1h0m.8 .1h0m-3.5 .1h0m-.7 0h0m2 0h0m3.3 .1h0m-2.6 0h0m.1 .1h0m-1.8 0h0m.8 .1h0m.3 0h0m-.7 .2h0m3.4 .1h0m.5 0h0m-1.5 .3h0m-1.7 .1h0m1.7 0h0m1.3 .1h0m-3.2 .2h0m.3 0h0m2 .2h0m.4 .1h0m-3.7 .1h0m-.4 0h0m.5 .1h0m.1 0h0m4.1 0h0m-1.6 .2h0m-.1 0h0m.4 0h0m-2.4 .1h0m3.4 .1h0m-1.5 .3h0m-3.6 0h0m4.3 .1h0m-3 .3h0m1 .1h0m.9 .2h0m-3.1 .1h0m1.2 0h0m3.2 .1h0m.6 .2h0m-4.1 .1h0m1.1 0h0m3.3 .1h0m-.1 .1h0m.6 .1h0m0 .1h0m-.8 .2h0m-4.2 .1h0m4.7 .1h0m-5.2 0h0m4.1 .1h0m-2.4 0h0m3.2 0h0m-.6 .1h0m-.2 0h0m-1 .1h0m1.7 0h0m-1.9 .1h0m-.6 0h0m-.8 0h0m-1.3 .1h0m2.3 0h0m2.3 0h0m-3.4 .1h0m.2 0h0m2.9 .1h0m-3.4 .1h0m4.4 0h0m-4.8 .2h0m1.7 .1h0m-.9 0h0m2.4 .1h0m.2 .1h0m.4 0h0m-.6 .1h0m-4.3 .1h0m2.6 0h0m2.1 .2h0m-4.1 0h0m3.8 0h0m-2.9 .1h0m-.2 .1h0m2.8 .1h0m-3.3 .1h0m1.5 .1h0m-2.3 0h0m4.9 0h0m-4.9 .1h0m1.6 0h0m3.2 .1h0m-3.3 0h0m4 .1h0m.2 .1h0m-2.2 .1h0m-1.5 0h0m1.5 .3h0m.7 .1h0m.7 .1h0m-3.1 0h0m-1 0h0m5 0h0m-4 .2h0m-.9 0h0m.7 .1h0m.3 .1h0m3.8 .1h0m-5.3 .1h0m3.7 .2h0m.2 0h0m-2.9 .1h0m4.2 .1h0m-4.6 .1h0m3.7 .1h0m1 0h0m-5.4 0h0m3.7 .1h0m-2.5 .1h0m1.4 0h0m-.4 .1h0m.9 .1h0m-2.6 0h0m3 .3h0m.4 0h0m-4.2 .3h0m3.9 0h0m-2 .1h0m0 0h0m3.9 .1h0m-5.3 0h0m-.3 0h0m4 .1h0m-.8 .1h0m2.3 0h0m-3 0h0m2 .1h0m-1.6 0h0m-1.4 0h0m1.5 .2h0m-1.4 0h0m.7 .1h0m-.6 .1h0m1.2 0h0m1.2 .2h0m-3 0h0m1.9 0h0m0 .1h0m-.5 .3h0m-.4 0h0m3.3 .2h0m-.6 0h0m-2.6 0h0m2.5 .2h0m-3 0h0m3.5 0h0m-4.1 .3h0m.6 .1h0m-1.8 0h0m5.4 .2h0m-5.4 0h0m1 0h0m-1.1 .1h0m1.5 .2h0m1.9 0h0m-2.5 .1h0m2.2 .1h0m.1 .2h0m2.5 .2h0m-1.6 0h0m1.4 .2h0m-3.8 0h0m1 .1h0m1.5 0h0m-1.4 .1h0m-2.3 0h0m.4 .1h0m3 0h0m.4 .1h0m1.2 0h0m.3 0h0m-1.8 .3h0m1.8 0h0m-.1 .2h0m-3.9 0h0m1.7 .2h0m-.4 .1h0m-2.5 0h0m1.8 0h0m1.4 0h0m1.8 0h0m-1 .1h0m-4.3 .1h0m1.7 .2h0m-1.5 0h0m1.2 .3h0m2.8 0h0m.7 .1h0m-5 0h0m4.9 0h0m-1.5 .1h0m-3.7 .2h0m2.4 .4h0m2.5 .1h0m-.4 .1h0m-2.7 .1h0m.3 .2h0m1.7 0h0m0 0h0m1.2 0h0m-4.8 .1h0m4.9 0h0m.8 .2h0m-.3 0h0m-.9 .3h0m-2.1 0h0m.4 0h0m-.4 .3h0m.7 .1h0m.8 .1h0m1.1 0h0m-2.4 0h0m.9 .1h0m-.6 0h0m-.1 .1h0m-1.5 .2h0m3.2 .1h0m.8 .1h0m-1.5 .2h0m-3.8 .1h0m4.8 .3h0m-4.6 .1h0m.8 .2h0m1.1 .1h0m2.8 0h0m-.7 .1h0m-4.3 0h0m.8 .4h0m.7 .1h0m2.6 .1h0m.6 .1h0m-2.3 .2h0m-2.4 .1h0m.4 .2h0m.9 .1h0m.5 0h0m1 .1h0m1 0h0m-1.2 0h0m-2.2 .1h0m3.3 0h0m.2 .3h0m-1.8 0h0m-.3 0h0m1.2 .1h0m2.5 .4h0m-1.4 0h0m-2 0h0m3.1 0h0m.3 0h0m-.8 .1h0m.4 0h0m-.7 .2h0m-.7 .2h0m-2.9 .1h0m3.9 0h0m-1.3 .1h0m-2 0h0m3.4 .3h0m-1 0h0m-1.7 .1h0m1.5 .1h0m2.2 .3h0m-.3 .1h0m-3.8 0h0m-1.1 0h0m5 .4h0m-1.9 0h0m-2.2 0h0m3.6 0h0m-3.9 0h0m2.7 .3h0m1.3 0h0m.3 0h0m-.9 .2h0m.4 .1h0m-1.3 .2h0m.9 0h0m1.1 0h0m-4.8 .1h0m2.7 0h0m.4 0h0m.1 0h0m-3.6 0h0m-.5 .2h0m3 0h0m-2.8 .2h0m4.4 0h0m-1.5 .1h0m2 0h0m-.8 0h0m-3.4 0h0m4.4 .1h0m-4.6 .1h0m3.6 0h0m-1.1 0h0m-.6 .1h0m-.2 0h0m.2 .1h0m.1 0h0m2.3 .2h0m-1 .1h0m-.1 0h0m1.1 .1h0m-3.5 0h0m3.7 0h0m-.3 0h0m-1 .1h0m-.9 .1h0m-3 0h0m5.4 .1h0m-4.6 0h0m4.6 0h0m-3.8 .1h0m4.3 0h0m-2.1 .1h0m-.1 .2h0m.9 0h0m.1 0h0m.7 .1h0m.1 .1h0m-5.4 .1h0m2.5 .3h0m2.8 0h0m-1.4 .3h0m-.8 0h0m-1.9 0h0m-1 .2h0m3.9 .1h0m.2 .1h0m1.1 .1h0m-5.2 0h0m4.6 0h0m-1.5 .1h0m-1 .1h0m1.1 0h0m2.2 0h0m-4 0h0m-1.2 .2h0m5 0h0m-5.5 .1h0m4.2 .1h0m-4.2 .1h0m4.5 .1h0m-1.3 0h0m.6 .1h0m1.2 0h0m-.6 .2h0m1 .1h0m-1.6 .1h0m1.4 .1h0m-1.1 .1h0m-3.4 .1h0m3.9 0h0m.9 0h0m-5.2 .2h0m3.8 0h0m.6 .1h0m-1.9 0h0m2.2 .1h0m.7 .1h0m-4.5 .4h0m4.2 0h0m-4 .3h0m4.3 .3h0m-.1 .3h0m-.3 0h0m-4.6 .3h0m.7 .2h0m2.6 .1h0m.2 .1h0m-.9 .2h0m-2.4 .1h0m4.7 .1h0m0 0h0m-1.5 .1h0m1.3 .1h0m.3 .1h0m-1.1 0h0m.4 .2h0m.2 .2h0m-1.2 0h0m1.8 .1h0m-2.6 0h0m-2 .1h0m2.5 0h0m.4 .1h0m-1.8 .1h0m2.2 .1h0m-1.2 .2h0m1.9 .1h0m-.1 .1h0m-2.4 .1h0m-.2 0h0m-1.8 1h0m3.1 .2h0m.2 .1h0m-1.3 .2h0m-2.2 0h0m2.3 0h0m-2.1 .2h0m-.4 0h0m3.6 .1h0m-1 .1h0m.5 .1h0m.3 .2h0m1.2 .1h0m-.8 .2h0m-3.3 .1h0m1.8 .1h0m.8 0h0m0 0h0m1.7 0h0m.7 .3h0m-1.7 0h0m1.4 .6h0m-4.8 .8h0m.9 .3h0m2.9 .3h0m-2.8 0h0m4.1 .1h0m-2.4 .2h0m-2.8 .1h0m3.2 .3h0m1.2 .2h0m-4.1 .1h0m4.9 .2h0m-5.3 .1h0m2.6 .4h0m-.4 .2h0m2.8 0h0m-4.6 .1h0m2.6 .2h0m.2 .8h0m-.4 .2h0m-1 .1h0m1.3 .7h0m.4 1.1h0m-2.1 0h0m.2 .3h0m3.8 .6h0m-1.5 2.6h0m5.9 -99.5h0m-1.6 1.2h0m-2.4 1.9h0m1.4 .4h0m1.6 .1h0m-.4 .3h0m2.6 .6h0m-1.2 1.1h0m-.3 .1h0m-1.8 .6h0m.8 .2h0m1.9 .7h0m-.4 .1h0m-3.1 .4h0m-1.4 0h0m4.2 0h0m-2.6 0h0m-.7 .1h0m4.9 1h0m-1.8 .4h0m.5 .1h0m-3.6 .2h0m-.5 .3h0m2.2 0h0m1.1 .1h0m1.7 .2h0m-3.7 0h0m-1 .1h0m-.4 .1h0m.5 .1h0m1.2 .3h0m1.1 .1h0m0 .3h0m.5 0h0m.6 .2h0m-3.8 .1h0m1.8 0h0m.7 .4h0m-.7 .1h0m-2.2 0h0m1.7 .2h0m-1.7 43.9h0m-.1 0h0m.1 1.1h0m.2 .4h0m0 3.3h0m-.1 .5h0m-.2 1h0m.3 .6h0m-.3 0h0m.1 .3h0m0 1.4h0m.1 .2h0m-.1 .5h0m0 .8h0m-.1 .9h0m.2 2.8h0m-.2 .3h0m.1 1.7h0m0 .9h0m.5 .5h0m.1 1.6h0m0 .2h0m-.1 1.4h0m-.5 .1h0m-.1 .6h0m.2 .5h0m.4 1.2h0m-.3 1.6h0m.5 .1h0m.3 1.1h0m-.6 .3h0m.7 .1h0m-.2 .2h0m.3 0h0m-.9 .3h0m.2 .3h0m.5 .1h0m-.1 0h0m-.3 .4h0m1.1 0h0m-.5 .6h0m-.7 0h0m.9 .1h0m-.7 .2h0m1.1 .2h0m-1.4 .1h0m.8 .1h0m-.1 .7h0m0 .4h0m.5 .1h0m1.4 .2h0m-1.8 .3h0m1 0h0m-.8 .1h0m.7 0h0m.8 .2h0m-2.9 .1h0m.1 .1h0m.8 .4h0m-.2 .1h0m1.5 .2h0m2.1 0h0m0 .4h0m-2.6 0h0m4 .3h0m-2 .2h0m-1.6 .1h0m-1.2 .2h0m1.3 .1h0m3.6 .1h0m-3.6 0h0m1.6 .1h0m1.8 .1h0m-1.9 .2h0m-.3 .1h0m1.7 0h0m-.9 0h0m1.3 .1h0m-4.8 .2h0m4.4 .3h0m-1.9 .4h0m2.4 .3h0m-3.3 0h0m1.8 .1h0m-2.3 0h0m2.1 0h0m.2 0h0m1.3 .1h0m-4.2 0h0m-.4 0h0m1.4 .1h0m.7 .2h0m1.7 0h0m-3 .1h0m.5 .2h0m.9 .1h0m-2 .2h0m-.4 .2h0m.7 .1h0m-.2 .1h0m2.7 .2h0m-.6 .2h0m-.9 .2h0m-.4 0h0m2.4 .1h0m-2.6 .1h0m1.6 1.2h0m2 .8h0m-2.1 0h0m-2.5 .7h0m1.6 1h0m-1.4 1.1h0m2.4 .6h0m-1.8 .6h0m.4 0h0m.7 1.7h0m9.2 -102.2h0m-.4 1.4h0m-2.3 .2h0m1.7 .7h0m-3.2 2.8h0m-1.6 1.8h0m2.9 0h0m-2.5 .1h0m3.9 1.5h0m-2.9 .2h0m1.3 1.1h0m-1.6 .1h0m-.7 0h0m5 .7h0m-.2 0h0m.6 .4h0m-.3 0h0m-3.2 .2h0m-1.1 .2h0m2.5 .3h0m-1 .1h0m-2.7 .5h0m.9 78.2h0m-.2 .1h0m1.1 .4h0m-.9 .4h0m4.1 .1h0m.5 0h0m.1 .1h0m-3.3 0h0m-.7 .5h0m4.1 .3h0m-4.3 .6h0m1.1 .1h0m-.4 .1h0m-.1 0h0m-.7 .1h0m.6 0h0m-1.3 0h0m-.1 .1h0m1.1 .1h0m4.2 .1h0m-4.2 .3h0m3.9 .2h0m-.5 .4h0m.7 1h0m-.6 .2h0m-1.5 .5h0m-1.6 .4h0m-1.2 .1h0m4.5 .3h0m-3.4 0h0m3 .3h0m-4.8 0h0m5.7 .9h0m-.3 .2h0m-1.7 .1h0m.3 .5h0m-.3 .5h0m.6 .1h0m-1.3 .2h0m.6 .9h0m-3.3 2h0m11 -112.2h0m-.4 8.2h0m-4.6 1.4h0m4.7 1.7h0m-3.3 .6h0m3.5 .5h0m.6 1h0m-2.8 .3h0m-1.7 .4h0m2.8 .3h0m1.6 1.9h0m-5.7 .4h0m.1 .2h0m2.7 .3h0m-2.2 .2h0m2.7 .2h0m1.3 .1h0m-3.9 0h0m3.3 .6h0m-2.2 .4h0m-.9 .5h0m3.3 .1h0m-2.8 .5h0m4.1 .1h0m-1.1 .6h0m-4.1 .1h0m.2 .1h0m2.4 0h0m-2.4 80.3h0m-.3 0h0m.1 .1h0m-.2 .3h0m4.6 .3h0m-3 .1h0m-1.1 .4h0m-.2 .1h0m.7 .5h0m4.1 .2h0m.5 .6h0m-2.2 .2h0m1.9 .3h0m-2.2 0h0m2 .1h0m-3 .3h0m3.2 .2h0m-3.3 .1h0m2.1 .3h0m-3.5 .2h0m1.5 .1h0m2.3 0h0m-1.3 .1h0m-1.3 0h0m1.6 .4h0m1.1 .2h0m-.4 .1h0m.4 0h0m-3.5 .1h0m-.8 1.4h0m3.6 .6h0m.5 4.5h0m-1.6 .1h0m-1.4 1h0m7.7 -121.7h0m.9 8.3h0m-2.7 2.9h0m4.2 3.5h0m0 .1h0m-.3 .1h0m-4.7 4.9h0m-.3 2.9h0m.1 .6h0m2.5 .5h0m-1.7 .3h0m1.7 .2h0m-1.7 .7h0m3.2 .5h0m-2.2 .5h0m-1.1 0h0m2.1 .8h0m1.4 .2h0m-.3 .1h0m1.5 .1h0m-2.7 0h0m-2.5 .1h0m2.9 0h0m2 .1h0m-5.6 0h0m.6 .1h0m3.3 .1h0m-1.6 .1h0m2.4 .1h0m1.2 .1h0m-4.3 .2h0m1.8 .4h0m1.9 80.8h0m-2.3 .1h0m2.6 0h0m-2.5 .3h0m-.7 .5h0m.4 .1h0m.8 .4h0m-2.3 .2h0m1 0h0m1.9 .1h0m-.2 .1h0m-.8 .1h0m-2.7 .1h0m4.6 .2h0m-1.6 .1h0m2.3 .1h0m-4.6 .5h0m2.4 .3h0m1.6 .2h0m.2 .1h0m-4.9 .3h0m5.4 .6h0m-3.3 0h0m0 .5h0m-2 .2h0m5.2 .2h0m-.1 .8h0m-3 1.5h0m2.5 .8h0m-2.6 .3h0m-1.9 1.1h0m3 .1h0m-.7 2.8h0m6.2 -118.8h0m2.5 12.8h0m-1.8 .3h0m.9 1.6h0m-4 .3h0m.4 .3h0m3.5 3.1h0m-4 .1h0m1.4 .1h0m2.8 .9h0m-4.8 1h0m5.8 .6h0m-1.8 .1h0m.3 .7h0m-.2 .1h0m-.5 .1h0m2.1 .2h0m-1.2 .2h0m-.6 0h0m-3.2 .2h0m-.5 .1h0m3.7 .4h0m1.1 0h0m-1.7 .1h0m1.2 0h0m-3.6 .2h0m.4 .2h0m.8 .1h0m1.5 .7h0m-2.1 0h0m-.4 .1h0m3.9 .1h0m-3.5 0h0m.3 .2h0m3.4 0h0m-4.6 .1h0m5.2 .2h0m-1.4 .4h0m.9 .1h0m.2 .3h0m-.5 80.1h0m-4.6 0h0m.2 .2h0m.9 .1h0m-1.1 .1h0m3.4 .1h0m-3.7 0h0m4.3 0h0m-3.7 0h0m-.7 .1h0m1.8 .1h0m1.2 0h0m1.4 .1h0m-3 0h0m.8 .4h0m1.3 .1h0m.9 .2h0m1.2 .2h0m-4 .1h0m-.7 .1h0m1.8 0h0m-1.1 .1h0m1.6 .2h0m1.5 .2h0m-2.1 0h0m-2.2 .4h0m2.3 .4h0m1.4 0h0m-2.3 .2h0m2.1 1.7h0m-3.2 1.1h0m.5 .9h0m-1.2 0h0m1 .3h0m-.4 2.3h0m.9 .3h0m-.6 1.2h0m2.8 1.4h0m6.8 -121h0m-1.8 11.1h0m.6 1.9h0m2.1 1.4h0m-2.8 1.3h0m1.2 1.2h0m-3.6 .3h0m2.5 .4h0m-2.6 2.3h0m2.6 .2h0m2.5 1h0m-1.3 2.3h0m-2.1 .1h0m1.5 .3h0m-2.1 .1h0m2.7 .2h0m-2.8 .5h0m1.1 .2h0m1.5 .1h0m-.7 .2h0m1.7 .2h0m-.8 .1h0m-3.7 .1h0m.5 0h0m5.2 .6h0m-.6 .2h0m-3.1 .1h0m2 .3h0m.4 0h0m-3.5 .1h0m-.4 .3h0m3.6 .1h0m-2.3 .1h0m1.3 0h0m-.1 .1h0m-2.6 .4h0m1.2 0h0m2.3 0h0m-.6 .3h0m.2 .1h0m2 79.7h0m-.4 .2h0m-4 .1h0m3 .1h0m1 0h0m-2.2 .1h0m-2.3 .3h0m5.1 0h0m-.5 .2h0m.3 .1h0m-3.6 .2h0m2.1 0h0m-4.1 .1h0m3.2 .2h0m-3.1 .2h0m1.1 0h0m-1.4 .2h0m4.7 .2h0m-1.9 .1h0m.5 .2h0m-2.7 .6h0m-.3 0h0m.3 .1h0m4.2 .1h0m.1 .1h0m-3.5 .1h0m.7 0h0m2 .1h0m-3.7 0h0m.4 .3h0m-.3 0h0m.1 .9h0m.1 .1h0m2.6 .5h0m1 .2h0m.4 .1h0m1.1 .8h0m-2 4.6h0m6.7 -113.5h0m-.3 4h0m1.4 2.3h0m-4.4 1.6h0m4.8 .9h0m-1.2 1.1h0m-3.1 3.6h0m1.3 .3h0m-.8 1.7h0m2.4 .1h0m1 1h0m-.6 .8h0m-.9 .3h0m.4 .6h0m-2 .6h0m.9 .1h0m-.1 .1h0m-1.4 .2h0m.1 0h0m-2 .3h0m2.1 .5h0m1.5 .1h0m-.1 0h0m-3 .5h0m1.5 .3h0m.7 .1h0m2.3 .2h0m-3.2 0h0m2.1 .1h0m-2.5 .3h0m3.6 0h0m-1.7 .1h0m-3.2 80.6h0m.2 .2h0m2 .4h0m.8 .3h0m2.1 .1h0m-3.5 0h0m1.1 .1h0m.1 0h0m1.2 .2h0m1 0h0m-5 .1h0m3.5 0h0m-3.2 0h0m5 .2h0m-.1 .2h0m-5 .1h0m1.1 .3h0m2 .1h0m2.1 .3h0m-.5 .4h0m-.5 .1h0m-4 .2h0m5.3 .4h0m-5.5 .3h0m2 0h0m1.5 0h0m-3.3 0h0m1.9 .6h0m-1.4 .3h0m4.2 .4h0m-3.3 .3h0m.3 0h0m1.3 .2h0m-3.3 .3h0m5.4 .1h0m-.3 .8h0m-1.1 .6h0m-1.7 .3h0m-1.4 .5h0m2 5.4h0m7.5 -113.3h0m-.8 3.6h0m-3.4 .9h0m-.3 1.9h0m5.4 3.3h0m-1.3 .3h0m.3 1.5h0m-3.4 .2h0m3.1 1.9h0m.2 .2h0m.3 .1h0m-1.8 .1h0m1.4 .5h0m-1.5 .2h0m.3 .1h0m-2.7 .3h0m1.7 0h0m0 0h0m3.9 0h0m-.3 .8h0m-4.4 .4h0m-.3 0h0m2.1 0h0m2.6 .2h0m-.1 .3h0m-2.4 0h0m1.5 .1h0m-.4 .1h0m-2.8 .2h0m1 .6h0m.8 .1h0m.2 .1h0m-.7 .3h0m2.3 .1h0m-2.8 0h0m3.3 0h0m-2.1 82.3h0m2.3 0h0m-1.1 .1h0m-4.7 .1h0m4.6 0h0m-3.5 .1h0m1.3 0h0m3.3 .5h0m-1.3 .1h0m1.2 .1h0m-3.4 .6h0m0 .4h0m2.5 .1h0m-1.6 0h0m-2.2 .1h0m-.5 .2h0m.9 .3h0m4.4 .3h0m-.9 .2h0m-1.3 .1h0m-.1 .1h0m1.1 .3h0m-4.2 .3h0m1.3 .3h0m.3 0h0m.8 .1h0m-2.5 .5h0m4.2 1.3h0m-2.6 .4h0m4.1 .3h0m-.5 .2h0m-5.1 1.5h0m5.8 -116h0m1.9 13h0m-1.6 3.4h0m1.5 .5h0m-1.6 2.1h0m.8 .3h0m-1 .3h0m2.6 .3h0m2 0h0m-2.6 1.4h0m.5 .4h0m.7 .2h0m-2 0h0m-.8 .4h0m.3 .7h0m.3 1.3h0m2.6 .1h0m-2.6 .5h0m.9 .2h0m1.7 .4h0m.4 .3h0m.5 0h0m1.2 .2h0m-.9 79.4h0m1 .3h0m-.4 .1h0m-.9 .1h0m-1.1 .1h0m.4 .1h0m1.1 .2h0m.4 .5h0m-.4 0h0m.4 .1h0m-3.9 .3h0m1.1 0h0m.1 0h0m-1 .1h0m2.2 .4h0m-1.8 .1h0m-2.1 .3h0m0 .5h0m6 .1h0m-3.7 .2h0m2.2 .1h0m-2.9 .4h0m3.7 0h0m-3.3 .1h0m3.7 0h0m-4.1 .1h0m-.2 .3h0m4.3 0h0m.2 .1h0m-3.9 .6h0m2.9 0h0m-.5 .4h0m-.3 .3h0m-1.2 .2h0m-1.4 .3h0m.5 .5h0m2 .3h0m-.9 .1h0m-2.3 3h0m9.3 -97.9h0m-2.3 3.2h0m.8 .2h0m1 .8h0m-2.5 0h0m2.4 .6h0m1.5 1.2h0m-.1 .3h0m-2.5 0h0m-.2 .1h0m-1.4 .2h0m1.2 .5h0m1 0h0m-2.4 .4h0m2 .1h0m-.9 .4h0m1.6 0h0m.6 .3h0m-.2 .9h0m.8 .2h0m1.1 .3h0m-1.4 .6h0m-.9 .1h0m.5 0h0m.5 .1h0m-.3 .1h0m1 .1h0m.1 .1h0m-1.7 .1h0m.1 0h0m2.1 .3h0m.3 .5h0m-1.2 .1h0m-.1 .3h0m-.5 .3h0m-.1 .5h0m1.1 .2h0m-.2 .4h0m-.5 0h0m.7 .7h0m-1 0h0m1.6 .4h0m-.6 .3h0m.6 0h0m-.3 .3h0m-.7 0h0m-.1 0h0m.7 .4h0m.4 1.9h0m-1 .5h0m1.1 0h0m0 1.2h0m-.3 .3h0m-.9 .1h0m.8 2.1h0m-.5 .4h0m.4 .1h0m-.7 1h0m.2 1h0m.1 0h0m.8 .3h0m-1.2 .8h0m1.2 .5h0m.1 0h0m-.8 .2h0m.5 0h0m-.1 .1h0m-.5 .4h0m-.7 .1h0m0 0h0m1.7 0h0m-1 .2h0m-.6 .1h0m.9 .2h0m-1.1 .2h0m.1 0h0m1.1 .5h0m-1.2 .3h0m-.1 1.2h0m.8 .5h0m1.1 .3h0m-.3 .1h0m-.2 .1h0m-.9 0h0m.1 .5h0m-.7 .1h0m1.9 1.1h0m-.8 .8h0m-1.5 .1h0m.5 .5h0m.2 0h0m.9 .1h0m-.3 .5h0m-.3 .4h0m-.1 0h0m-.7 .7h0m1.9 .3h0m-1 .1h0m1.1 .9h0m-.7 .6h0m-.5 .2h0m-.2 .1h0m.2 .1h0m.1 0h0m.2 1.3h0m-.3 .4h0m-1 .1h0m2.1 .1h0m-2.2 .1h0m2.4 .1h0m-2.4 .2h0m.4 .1h0m2.2 .2h0m-.8 .5h0m-1.1 .2h0m0 .2h0m-1.2 .4h0m1 .1h0m1.2 1.3h0m-1 .1h0m.1 .8h0m-.4 .1h0m-1 .1h0m1.9 .2h0m-2.3 .3h0m3.3 .1h0m-1 .4h0m-2.2 .2h0m-.1 .1h0m2.5 0h0m-1.4 .1h0m1.9 .4h0m-.4 .4h0m.1 .1h0m-2.1 .1h0m.7 .5h0m1.9 0h0m.1 .4h0m-.7 0h0m-2.6 0h0m.9 1.3h0m.3 .2h0m1.1 .3h0m-1.8 .2h0m2.9 .5h0m-2.5 .1h0m1.1 .7h0m.5 0h0m.1 .2h0m-1.8 .4h0m.2 .1h0m2.5 0h0m-2.4 .1h0m-.4 .2h0m-1.2 .1h0m2.3 .1h0m-2 0h0m-.2 .1h0m1 0h0m1.6 .7h0m-.1 .3h0m-2.6 .2h0m3.5 .1h0m-2.7 .2h0m-.5 .1h0m1.2 .3h0m-1.1 .1h0m-.2 .1h0m.9 0h0m.5 .1h0m.8 .1h0m1.7 .4h0m-1.7 .5h0m.7 .1h0m-1.1 .2h0m-.6 0h0m-1.1 .3h0m.9 .1h0m1.2 .3h0m.6 0h0m-1.2 .1h0m-1.1 .1h0m1.2 .1h0m-.7 .4h0m-.9 .1h0m2 .4h0m-1.7 .5h0m-.3 .3h0m1.5 .4h0m.9 .2h0m-.5 .1h0m1.4 0h0m-1.7 .1h0m.6 .6h0m-2.4 .5h0m3.5 .2h0m-1.4 0h0m-1.5 1.1h0m2.4 .3h0m-1.1 .2h0m-.2 .2h0m.6 0h0m1.7 .1h0m-2.7 .2h0m.2 .1h0m-1.2 .3h0m2.2 .2h0m.4 .2h0m-2.2 0h0m.9 .1h0m1 .9h0m-2.6 .2h0m.6 .1h0m-.3 .1h0m2.8 .1h0m-2.1 .3h0m-.9 .1h0m1.5 .1h0m-.6 .2h0m2.7 0h0m-.8 1.4h0m-2.6 .2h0m0 .8h0m2.5 .1h0m-1.4 .2h0m.2 .3h0m-1.7 .1h0m.3 .1h0m3 0h0m-3 .2h0m.9 .5h0m.7 .9h0m1 .1h0m-1.6 .1h0m-1.3 .1h0m1.4 .2h0m1.6 .3h0m-2 .2h0m-.5 .3h0m2.7 .1h0m-2.1 .1h0m-.6 .2h0m2.3 .2h0m-2.1 .7h0m-.7 .3h0m2.2 .2h0m.7 .1h0m.8 .2h0m-.3 .1h0m.3 .5h0m-2.1 0h0m1 .1h0m-.7 .1h0m1.8 1.2h0m-.9 .1h0m1.1 .2h0m.1 .3h0m-1.7 .2h0m-.5 .1h0m.7 .6h0m-.7 .3h0m-1.2 .1h0m3.5 .1h0m-2.1 .2h0m-.4 .5h0m-1.6 .5h0m.2 .1h0m1 0h0m.4 .7h0m-.2 .5h0m.9 0h0m-1.2 .1h0m.7 0h0m.2 .4h0m0 .1h0m1.9 .5h0m-.7 .2h0m.1 .1h0m-1.5 0h0m-1.8 .1h0m2 .1h0m-2 0h0m.3 .1h0m2.2 .1h0m-1.5 .1h0m.2 .1h0m-.1 .1h0m-1.2 .4h0m1 .5h0m-.6 .2h0m-.7 .1h0m1.2 .1h0m.5 .2h0m-2.2 .2h0m.9 .1h0m-.8 .1h0m.3 .1h0m-.4 .2h0m2.5 .3h0m-2.4 .3h0m2.2 0h0m-2.8 .4h0m.7 .3h0m.8 .3h0m1.6 0h0m-1 .2h0m-1.4 .1h0m.3 .3h0m.4 0h0m-1.4 0h0m.5 .1h0m4.3 .1h0m-.4 .2h0m-3.1 .1h0m1.2 .1h0m-.9 .2h0m-1.7 .2h0m1.7 0h0m1 .7h0m-2.5 .7h0m2.6 .8h0m1.7 .1h0m-.7 2.4h0m-1.3 0h0m-1.1 .5h0m-.7 .5h0m.9 2.2h0m-.4 2.4h0m8.2 -123.3h0m-2.4 20h0m3.8 3.7h0m-2.9 3.2h0m-2.2 .2h0m.8 3.7h0m.3 .9h0m3.1 .2h0m-2.8 1.3h0m-1.3 .4h0m.7 .5h0m.5 .1h0m1.1 0h0m1 .1h0m-1.7 1.2h0m-1 .1h0m.8 .1h0m-.6 .5h0m-.9 .7h0m.5 .2h0m.5 0h0m.3 .1h0m2.9 .6h0m-2.3 .7h0m.4 .7h0m-2.2 .1h0m2.9 .1h0m2.5 1.5h0m-1.3 .2h0m-2 .4h0m1.7 .1h0m-3.7 0h0m1.5 .1h0m2.5 .4h0m-3.5 .2h0m-.7 1.3h0m3.9 .7h0m-2.3 .3h0m-.7 0h0m1.9 .5h0m-.5 0h0m0 .1h0m1.2 .2h0m-2.8 0h0m.1 .2h0m4.5 .1h0m-2.9 .2h0m-2.4 .6h0m0 .7h0m3 .2h0m1.8 0h0m-2.9 .2h0m-1.6 .4h0m-.2 .1h0m.9 0h0m-.5 1.5h0m.2 .1h0m4.9 .5h0m-3.2 .1h0m2.3 .3h0m-1.1 .1h0m-1 .2h0m2.3 .5h0m-.7 0h0m-1.1 0h0m-2.1 .1h0m4.1 1.1h0m-3.1 0h0m.6 .3h0m-1.2 .3h0m.9 .2h0m.5 .2h0m.3 0h0m-2.6 .2h0m1.7 .1h0m3 .1h0m-4.9 .1h0m4.3 .7h0m-2.4 0h0m.1 0h0m-2.2 .5h0m2.5 0h0m-.2 .1h0m3.4 .8h0m-3.9 .1h0m-1.4 .3h0m1.2 .2h0m-1.2 .1h0m1.3 .1h0m-.3 .2h0m-1.4 2.5h0m.8 .4h0m.8 .1h0m3.7 .2h0m-2.1 .3h0m-2.1 .5h0m1.8 .3h0m-.3 1.1h0m-1.1 .5h0m-1 .4h0m1.8 .3h0m1.1 .3h0m.2 .3h0m2 .4h0m-5.1 .1h0m-.6 .5h0m3.7 .2h0m-3.4 .2h0m2.2 .5h0m-2.4 0h0m2.2 .1h0m.8 .5h0m.9 0h0m-4 .2h0m.2 0h0m4 .2h0m-2 1.4h0m2.1 .2h0m-4.1 .1h0m1.6 .8h0m-1.1 1.3h0m1 .1h0m1.4 .1h0m-.6 .3h0m.3 .6h0m.7 .2h0m-1.9 .2h0m.4 .3h0m-.8 .1h0m.8 0h0m-1.7 .3h0m.2 1.2h0m5.1 .1h0m-4.9 .3h0m1.4 .8h0m.9 .1h0m-2.5 .1h0m-.6 0h0m1.1 2h0m1.9 .1h0m-2.2 .2h0m1.4 .4h0m1.1 .2h0m-1.5 .7h0m-.4 .1h0m3.2 .3h0m-4.2 .3h0m.9 .3h0m2.9 .2h0m-3.4 .1h0m-.1 .7h0m3.2 .3h0m-3.9 0h0m4.2 .4h0m-4 .2h0m5.6 .1h0m-4.1 .1h0m.1 0h0m-.7 .3h0m1.1 .2h0m1.8 .5h0m-2.9 .6h0m-.7 .3h0m.9 .1h0m-.6 1.2h0m2.6 .3h0m-2.7 0h0m-.3 1.3h0m.4 .1h0m1 .4h0m1.9 .1h0m.7 .8h0m-.7 .1h0m-1.1 1h0m.4 0h0m-1.7 .4h0m.9 1.1h0m.7 1h0m-2.2 0h0m1 .2h0m-1.2 1.1h0m-.4 .6h0m1.6 .2h0m-.4 .2h0m.6 .2h0m1.3 .1h0m-.8 .7h0m3.3 .4h0m-4.1 .1h0m1.2 2.1h0m-2.3 1h0m2.7 0h0m-2.3 .8h0m1.5 .2h0m.2 0h0m-2.2 .3h0m.8 .6h0m-1 .1h0m5.7 .2h0m-2.6 .1h0m1.1 .8h0m-4.2 .2h0m2.1 .8h0m-.6 .2h0m.6 1.8h0m1.8 0h0m-2 0h0m.9 .6h0m1.8 .2h0m-1.2 .1h0m1.5 .1h0m-4 .2h0m-.5 .3h0m2.1 .1h0m-.7 .2h0m-.8 1.6h0m2.3 .1h0m-3.1 .5h0m2.5 .4h0m2 .1h0m-2.4 .3h0m.1 .4h0m-1.1 .9h0m-.5 .1h0m1.1 1.5h0m1 .1h0m-1.6 .5h0m3.2 .1h0m-4.4 .9h0m5.3 2.2h0m-3.9 4.4h0m7 -89.3h0m-1.5 1h0m1.9 0h0m1 2.1h0m-1.5 4.5h0m-2.1 .5h0m-.3 5h0m0 3.9h0m4.2 1.6h0m.9 4.3h0m-2.7 .3h0m.7 1.5h0m-2.5 1.6h0m.4 3.5h0m2 .4h0m-2.4 .5h0m.8 1.3h0m-.3 .7h0m-1.1 .5h0m3.8 .5h0m-3.8 2h0m.9 6h0m-.8 7h0m1.4 6.2h0m3.2 1.5h0m-4.7 4.3h0m.8 .8h0m0 8.6h0m.3 1.1h0m-.5 3.8h0m.8 1.7h0m1.2 7.8h0m5.3 -84.5h0m3.6 5.5h0m-2.5 7.1h0m.7 .4h0m-2.2 3.9h0m2.4 1.1h0m-3.6 6.1h0m3.1 .8h0m-2 7.3h0m1.3 5.7h0m-2.3 4.1h0m3.8 3h0m-2 8.7h0m-2.2 1.7h0m3 5.2h0m4.6 -69.9h0m-1.4 5.8h0" fill="none" stroke="#000" stroke-width="1.2" stroke-linecap="square"/>
<path d="M605.3 675.3l3.3-.3l3.5 .1l3 .5l2.5 .7l1.5 .7l1.5 1.3l.9 1.5l.5 2l.3 4.5l-.1 6.5l-1.7 19.5l-.6 10l-.1 22.5l-.4 4.5l-.8 3l-1.3 2l-1.7 1.4l-2.5 .9l-3 .4l-3.5 0l-9.5-.9l-12 .5l-5 0l-5-.7l-4-1.2l-2.4-1.4l-1.9-2l-1.1-2.5l-.7-3.5l-.4-5.5l-.1-12l-.2-6.5l-2.9-31l0-5.5l.6-3l.5-1l.9-1l2.2-1.4l3.3-1.1l4.2-.9l4-.4l4.5-.2l14.5 .6l3-.2zM605.3 676.3l3.3-.3l3 .1l3 .4l2 .6l1.5 .8l1.5 1.4l.8 1.5l.4 1.5l.3 4.5l-.2 6.5l-2 19l-.6 8.5l0 5.5l.4 12l-.1 5.5l-.4 4.5l-.8 3l-1.3 2l-1.5 1.2l-2 .8l-2.5 .4l-3.5-.1l-7-1.2l-3-.2l-3 .1l-8 .8l-5 0l-3.5-.4l-3.2-.9l-2.7-1.5l-1.8-2l-1.3-3l-.7-4l-.3-6l.5-10.5l0-5l-.9-13l-1.9-17l0-5.5l.6-3.5l1.2-2l2-1.5l3-1.1l3.5-.8l3.5-.4l4-.1l4 .2l6.5 .7l3 0l2.5-.2zM608.7 676.8l2.4 0l2.5 .4l2 .5l1.5 .8l1 .8l1 1.5l.5 1.5l.3 2l.2 5l-.3 5.5l-.6 5l-1.7 11.5l-.7 7l0 7l.8 11l.1 5.5l-.4 5.5l-.5 2l-.5 1.5l-1.2 1.7l-1.5 1.1l-2 .7l-2 .3l-2-.1l-2-.3l-6.5-2l-2-.4l-2.5 .1l-7 1.4l-4.5 .5l-4.5-.3l-3.5-1l-1.3-.7l-1.2-.9l-1.6-2.1l-1.2-3l-.7-4l0-5.5l1.2-10.5l.2-5.5l-.8-13l-1.9-11.5l-.4-4l0-5l.3-2l.5-1.5l1.3-2l1.6-1.3l2.5-1.1l3-.7l3.5-.3l4 0l3.5 .4l6 1l2 .1l2.5-.3l6.5-1.8zM606.8 677.8l2.3-.2l2.5 .1l2 .4l2 .7l1.4 1l.7 1l.7 1.5l.4 2l.3 5l-.4 6l-.9 5.5l-2.2 11l-.7 6.5l.1 6.5l1.4 10l.4 5l-.3 5.5l-.3 2l-.6 2l-1.2 2l-1.8 1.4l-2.5 .6l-3-.2l-2.5-.8l-1.8-1l-2.4-2l-2.8-3.2l-1-.4l-1 .4l-3.1 2.7l-1.5 1l-1.9 1l-2 .7l-2.5 .6l-3 .2l-2.5-.2l-2-.6l-2.5-1.4l-1-1l-.9-1.3l-1.3-3l-.6-3.5l-.1-3l.2-3l.6-3l1.8-8l.4-3l.1-3l-.3-6.5l-.5-4.5l-.7-3.5l-2-7.5l-.7-4l0-4.5l.8-3.5l1.1-2l1.6-1.4l2-1l2.5-.7l4-.3l4 .3l3 .7l5.5 2l1.5 .2l1.5-.3l3.6-2l2.2-1zM606.4 678.8l2.2-.3l2.5 0l2 .4l2 .9l1.1 1l.9 1.5l.6 2l.3 3l-.1 5l-.6 5l-1.2 5.2l-2.9 9.8l-.6 3.5l-.3 3l0 3l.4 2.5l2.1 8.5l.7 4l.3 4l-.2 4l-.7 3l-.7 1.5l-.6 .9l-1.5 1.2l-1 .4l-1.5 .2l-1.5-.1l-1.5-.4l-1.2-.7l-1.2-1l-.9-1l-.8-1.5l-1-3.5l-.4-3l0-3l1.2-12.5l0-7l-.8-7l-2.7-13.5l-.6-5.5l.1-3l.4-2.5l.6-2l1-2l1.2-1.5l1.3-1l1.8-.9zM578.9 680.3l2.7-.2l3 .3l2.5 .7l2.2 1.2l1.6 1.5l1.3 2l.7 2l.4 2.5l0 2l-.4 2.5l-3.3 10.5l-.5 3l-.2 3l.2 10l.5 3.5l1.7 7l.5 3l.2 3.5l-.3 3l-1 3.5l-.8 1.5l-1.2 1.5l-1.2 1l-1.9 1l-1.6 .5l-1.9 .3l-2-.1l-2-.5l-1.5-.8l-1.5-1.3l-1.2-1.6l-.8-2l-.5-2l-.3-2.5l.1-3l.7-3.5l1-2.8l2.7-6.2l.8-2.5l.5-3l.1-3.5l-.3-4.5l-.7-3.5l-.9-2.5l-3-6.5l-1.2-3.5l-.5-3.5l0-3l.7-3l.7-1.5l.8-1l2-1.5l1.3-.6zM606.6 679.8l2-.4l2.5 0l2 .6l1.4 .8l1 1l.7 1.5l.5 2l.3 2.5l0 3.5l-.4 3.4l-.6 3.1l-1 3.5l-1.9 4.5l-2 3.7l-1.5 2.2l-1 1l-.5 .1l-1-.3l-1-1.3l-1-2l-1.5-3.8l-1.9-6.6l-.5-3l-.4-3.5l.2-4.5l.3-2l.7-2l.9-1.5l.9-1l1.3-.9zM578.9 681.8l1.7-.3l2 .1l2 .4l1.7 .8l1.3 1l1 1.2l.7 1.3l.6 2l.2 2l-.1 2.5l-.5 2l-.9 2.4l-1 1.8l-1.5 2l-1.5 1.4l-1.5 .7l-1 .1l-1.5-.4l-1.5-.9l-1.5-1.4l-1.5-1.9l-1-1.7l-.9-2.1l-.6-2l-.2-2l0-2l.4-2l.6-1.5l.7-1.1l1-1l1.4-.9zM608.1 725.8l1 .2l1 .9l1.5 2.1l1 1.8l1.5 4.2l.7 4.8l-.2 4.5l-.4 2l-.6 1.5l-.6 1l-1.1 1l-.9 .5l-1.4 .3l-1.5-.3l-1-.4l-1-.7l-.8-.9l-.9-1.5l-.6-1.5l-.6-3.5l0-2.5l.2-2.5l1.1-5l1.6-4l1-1.4zM580.5 726.8l1.1-.4l1.5 .1l1.5 .8l1.5 1.6l1.2 1.9l1 2.5l.6 2l.3 2.5l0 2l-.3 2l-.6 2l-.8 1.5l-1.3 1.5l-1.4 1l-1.7 .7l-1.5 .2l-1.5-.1l-1.5-.4l-1.5-.9l-1-1l-1-1.4l-.7-1.6l-.4-1.5l-.2-2l.1-2l.3-2l.6-2l.8-1.7l1-1.7l1.5-1.8l1-.9zM607.1 680.8l2-.4l1.5 0l1.6 .4l1.4 .8l1 1.2l.5 1l.5 1.6l.3 2.4l0 3l-.3 3l-.6 3l-.9 2.7l-1 2.1l-1.5 2.3l-1.5 1.3l-1.5 .5l-1-.3l-1-.8l-1.7-2.8l-1.6-4.5l-.7-5l.1-4.5l.4-2l.5-1.5l1.3-2l1.2-1zM580.4 683.3l1.2-.1l1.5 .3l1.5 .6l.9 .7l.9 1l.6 1l.7 2.5l-.1 3l-.4 1.5l-.7 1.5l-.9 1.3l-1 1l-1 .7l-1.5 .4l-1.5-.1l-1-.4l-2-1.6l-1.5-2.4l-.8-2.9l-.1-1.5l.2-1.5l.4-1.5l.6-1l.7-.9l1-.8l1-.5zM580.9 730.8l1.2 0l1 .3l1 .7l1 1.1l.9 1.4l.6 1.5l.4 3l-.4 3l-.5 1.4l-.7 1.1l-.8 .9l-1 .7l-1 .5l-1.5 .2l-2-.4l-1-.6l-1-.9l-.6-.9l-.7-1.5l-.3-1.5l-.1-1.5l.4-3l1.3-2.8l1-1.2l1-.8zM608.6 731.3l1 0l1 .6l1.5 1.8l1.2 3.1l.5 3.5l-.2 3.5l-.7 2.5l-.6 1l-.7 .8l-1 .6l-1 .2l-1-.2l-.9-.4l-1.4-1.5l-.9-2l-.6-3l.1-3.5l.9-3.5l1.3-2.4l.6-.6zM608.3 681.8l1.3-.2l1.5 .2l1.1 .5l.9 .8l.5 .7l.7 1.5l.6 3.5l-.4 4.5l-.4 2l-.9 2.5l-1.1 1.8l-1 1.2l-1 .6l-1 .3l-1-.3l-1-.7l-1.5-2.4l-1.1-3.5l-.4-3.5l.1-3.5l.9-3l.5-1l.9-1zM580 685.8l1.6-.2l1.5 .5l1.3 1.2l.7 1.5l.2 2l-.5 2l-1.2 1.6l-1.5 .7l-1.5 0l-1.4-.8l-1.1-1.3l-.6-1.7l-.1-2l.5-1.5l.7-1.1zM580.1 734.3l1.5-.1l1.5 .8l1 1.3l.6 2l0 2l-.8 2l-1.3 1.3l-1.5 .5l-1.5-.3l-1-.7l-1-1.6l-.4-1.7l.2-2l.6-1.5l1.1-1.4zM609 734.8l.6 0l1 .4l1 1.3l.7 1.8l.4 2.5l-.1 2l-.6 2l-.9 1.4l-.5 .3l-1 .3l-1-.3l-1.2-1.2l-.8-2l-.2-2l.1-2.5l.6-1.9l1-1.5zM608.1 683.8l1-.4l1-.1l1.5 .6l.8 .9l.5 1l.6 2.5l-.1 3.5l-.8 3.2l-.7 1.3l-.8 1.1l-.5 .4l-1 .4l-1-.2l-.5-.3l-1-1.2l-1-2.2l-.4-2.5l-.1-2.5l.5-2.5l.9-2zM609 739.3l.6-.3l.5 .2l.5 .8l.2 .8l-.2 1.7l-.5 .7l-.5 .1l-.6-.5l-.4-1l0-1.5zM609.2 686.3l.9-.1l.8 .6l.6 1l.3 1.5l-.1 2l-.5 1.5l-.6 .9l-1 .5l-.5-.2l-.5-.4l-.5-.7l-.5-2.6l.1-1.5l.4-1.3l.5-.7z" fill="none" stroke="#707070" stroke-width="0.5" stroke-linejoin="round"/>
<rect x="518.6" y="604.8" width="164" height="166.4" stroke="#9a9a9a" stroke-width="0.9" fill="none"/>
<path d="M595.4 605.3V771.2M515.8 710.3H682.6M595.4 606H682.6V710.3" stroke="#262626" stroke-width="1.4" fill="none"/>
<path d="M515.2 634.5h3.4M515.2 666.5h3.4M515.2 702.5h3.4M515.2 718.5h3.4M515.2 734.5h3.4M515.2 770.5h3.4" stroke="#2a2a2a" stroke-width="1.2" fill="none"/>
<path d="M516.6 656.5h2M516.6 650.5h2M516.6 646.5h2M516.6 643.5h2M516.6 641.5h2M516.6 639.5h2M516.6 637.5h2M516.6 635.5h2M516.6 691.5h2M516.6 685.5h2M516.6 680.5h2M516.6 677.5h2M516.6 674.5h2M516.6 671.5h2M516.6 669.5h2M516.6 668.5h2M516.6 624.5h2M516.6 618.5h2M516.6 614.5h2M516.6 611.5h2M516.6 608.5h2M516.6 606.5h2M516.6 604.5h2M516.6 708.5h2M516.6 711.5h2M516.6 713.5h2M516.6 715.5h2M516.6 721.5h2M516.6 723.5h2M516.6 725.5h2M516.6 729.5h2M516.6 745.5h2M516.6 751.5h2M516.6 755.5h2M516.6 759.5h2M516.6 762.5h2M516.6 764.5h2M516.6 766.5h2M516.6 768.5h2" stroke="#8a8a8a" stroke-width="1.0" fill="none"/>
<path d="M521.5 771.2v4.6M546.5 771.2v4.6M595.5 771.2v4.6M658.5 771.2v4.6" stroke="#111" stroke-width="1.2" fill="none"/>
<path d="M576.5 771.2v2.4M581.5 771.2v2.4M585.5 771.2v2.4M589.5 771.2v2.4M592.5 771.2v2.4M614.5 771.2v2.4M625.5 771.2v2.4M633.5 771.2v2.4M639.5 771.2v2.4M644.5 771.2v2.4M648.5 771.2v2.4M652.5 771.2v2.4M655.5 771.2v2.4M677.5 771.2v2.4M526.5 771.2v2.4M529.5 771.2v2.4M537.5 771.2v2.4M540.5 771.2v2.4M543.5 771.2v2.4M551.5 771.2v2.4M557.5 771.2v2.4M562.5 771.2v2.4" stroke="#444" stroke-width="1.0" fill="none"/>
<rect x="531.6" y="771.2" width="3.6" height="4.6" fill="#000"/>
<text x="534.7" y="791.3" font-size="9.5" text-anchor="middle" fill="#141414">0</text>
<text x="602.5" y="791.3" font-size="9.5" text-anchor="end" fill="#141414">10</text>
<text x="603.7" y="785.3" font-size="9.5" text-anchor="start" fill="#141414">4</text>
<text x="664.7" y="791.3" font-size="9.5" text-anchor="end" fill="#141414">10</text>
<text x="665.9" y="785.3" font-size="9.5" text-anchor="start" fill="#141414">5</text>
<text x="595.9" y="588.4" font-size="16.2" font-weight="bold" text-anchor="middle" fill="#000">SpFN +ALFQ</text>
<text x="653" y="630.3" font-size="16" text-anchor="middle" fill="#111">24%</text>
<path d="M309.7 718.5V806.9H478.2" stroke="#000" stroke-width="1.5" fill="none"/>
<path d="M309.7 712.5l-4.2 8.2h8.4z" fill="#000"/>
<path d="M484.2 806.9l-8.2 -4.2v8.4z" fill="#000"/>
<text x="484.5" y="811.9" font-size="16.0" font-weight="bold" text-anchor="start" fill="#000">CD38</text>
<text x="318" y="685" font-size="15.7" font-weight="bold" text-anchor="middle" fill="#000" transform="rotate(-90 318 685)">IgG1</text>
<path d="M380.7 972l6.1-.1l7.5 .5l9.5 1.2l8 1.6l4.2 1.3l2.6 1.5l1.6 2l.1 2l-.8 1.5l-1.8 1.5l-5.9 2.4l-12 2.4l-12.5 1.4l-8.5-.2l-7.5-1.3l-5.6-2.2l-3.5-3l-.9-2l.2-2.5l1.3-2l2-1.7l3-1.6l4-1.4z" fill="#000" stroke="#000" stroke-width="0.8" stroke-linejoin="round"/>
<path d="m352.8 980.1h0m1 3.8h0m-.1 0h0m2.6 -18.1h0m3.2 2.6h0m-1.9 1.6h0m1.4 .9h0m-4.2 3.5h0m3.8 .1h0m.8 .1h0m-1.3 .2h0m-.4 1.5h0m.7 .1h0m-2.1 0h0m-1.3 0h0m1 .1h0m-1.6 .1h0m5.4 .3h0m-1.1 .3h0m-.3 .5h0m1.4 .2h0m-.2 .1h0m-1.2 .4h0m-.8 0h0m.1 .5h0m1.8 .1h0m-3.1 .6h0m-.7 0h0m1.5 0h0m-.8 .4h0m3.1 .1h0m-.7 0h0m1.1 .5h0m-1.4 .2h0m.9 0h0m0 0h0m.3 .2h0m-2.2 .2h0m1.3 0h0m.1 .1h0m-.6 0h0m.1 0h0m.1 .2h0m.6 .3h0m-.9 0h0m-2.9 0h0m3.9 .1h0m.7 0h0m-.4 0h0m-.8 0h0m1.2 .3h0m-3.1 .2h0m-.4 0h0m.9 .1h0m0 .3h0m-.7 .2h0m1.8 0h0m.1 .1h0m.2 .4h0m.2 .2h0m.7 .1h0m-2.2 .7h0m1.6 .7h0m.8 .1h0m-4.9 .4h0m4.9 .6h0m-4.2 .1h0m2.8 .1h0m-4.2 .1h0m2.7 .8h0m-.6 .4h0m-.9 .5h0m-.9 .2h0m.6 0h0m-.1 .6h0m-.5 0h0m3.7 .4h0m-1 .3h0m1.7 1.7h0m-.2 1h0m.5 .2h0m.4 .4h0m-2.8 2.7h0m1.5 .2h0m1.5 .8h0m-2.6 9.5h0m7.3 -91.3h0m-1.8 2.3h0m.1 2.8h0m.7 2.4h0m.1 5.1h0m-1.1 0h0m2.9 1.1h0m-.5 1.2h0m-4.2 3h0m4 3.6h0m-3 1.5h0m-1.2 3.3h0m3.8 .6h0m-2.3 1.2h0m.7 .1h0m3.2 9.2h0m-4.8 1h0m1.3 .8h0m1 4.4h0m-2.9 1.1h0m2.6 .1h0m1.3 2.5h0m-.7 1.4h0m-.5 1.2h0m2.5 5.4h0m-3.2 .1h0m3.4 .3h0m-.9 .5h0m-2.8 .4h0m2.1 0h0m1.5 .9h0m-2.9 .9h0m2.1 .4h0m.9 0h0m-1.9 0h0m-.3 0h0m1.7 .1h0m-2.8 0h0m-.2 .1h0m-1 .1h0m0 0h0m2.8 .1h0m1 .1h0m-3 .1h0m-1.2 .2h0m2.2 .2h0m-2 .2h0m-.7 0h0m4.4 .2h0m.3 .1h0m.6 .2h0m-2.6 0h0m2.6 0h0m-3.7 0h0m3 .1h0m.5 .1h0m-1.9 .2h0m-1.9 0h0m3.2 .1h0m0 .2h0m-2.9 .1h0m2.7 0h0m.6 .1h0m-.4 0h0m-4.3 .1h0m3.9 0h0m-.1 .4h0m-.2 .1h0m-.1 .2h0m-3.4 .4h0m1.2 0h0m1.5 .4h0m-3.1 0h0m-.1 .1h0m1.1 0h0m.1 .1h0m.3 .3h0m-.6 0h0m1.4 .2h0m-.3 0h0m-.9 .3h0m-1.2 .1h0m-.1 .1h0m2.4 .2h0m-2 .2h0m1.7 .2h0m-1.1 0h0m-.7 .2h0m1.8 .1h0m-.6 .1h0m-1.2 .2h0m-.1 0h0m.1 .2h0m1.2 .8h0m-1.3 0h0m.2 .4h0m1 .2h0m-.1 .1h0m0 0h0m.4 .3h0m-.7 .1h0m-.3 .1h0m-.3 .3h0m1 0h0m-.4 .1h0m.8 .1h0m.6 .2h0m-2 .1h0m1.9 .1h0m-1.9 .4h0m.6 .8h0m-.3 0h0m1.2 0h0m.4 .1h0m.8 .2h0m-2.5 0h0m2.7 0h0m-.5 .1h0m-.3 .2h0m-.9 .3h0m-1.5 .1h0m.3 0h0m.2 .1h0m.7 .1h0m.3 0h0m.4 .4h0m1.9 .1h0m-3.5 .2h0m2.3 0h0m2.1 .2h0m-.5 0h0m-3 .2h0m-.6 .1h0m2.3 0h0m1.5 .1h0m1 .1h0m.2 .9h0m-.6 .3h0m.4 .2h0m-3.6 .1h0m.6 .1h0m1.6 0h0m.3 .1h0m-3.4 .2h0m.1 0h0m2.6 .1h0m.8 0h0m-4.6 0h0m1.4 .2h0m.5 .3h0m2.1 .2h0m.3 .8h0m.6 .6h0m-.8 .2h0m-.6 .1h0m-2.2 1.2h0m4.6 .1h0m-5.1 .4h0m3.9 .2h0m1 1.1h0m-2.1 1.9h0m4 -85.9h0m-1.4 1h0m2.1 2.4h0m-1.8 2.3h0m5.3 .6h0m-3.5 8.1h0m1 2.2h0m2.4 .2h0m-1.9 9.3h0m-2.6 7.4h0m-.2 .1h0m2.4 .1h0m-2.4 .5h0m-.8 3.1h0m2.4 1.7h0m3.1 .8h0m-2.1 5h0m1.1 1.3h0m-.2 .6h0m-1.8 2.2h0m1.4 1.8h0m-1.2 3.1h0m.3 .2h0m-1.1 3h0m.7 .7h0m.8 .7h0m-2.2 .3h0m.5 .3h0m-.3 .5h0m3.8 .5h0m-2.9 0h0m-1 .1h0m-.7 0h0m3.1 .1h0m-3.8 0h0m.2 .3h0m1.6 .3h0m.3 .1h0m3.5 0h0m-4.7 .3h0m3.9 0h0m.5 .2h0m-.7 .3h0m.4 .9h0m.2 0h0m-2.6 .3h0m-1 0h0m2.5 .1h0m-.6 .3h0m.1 0h0m1.3 .1h0m-.2 .1h0m-1.7 .1h0m-2.9 .3h0m3 0h0m-3.1 .2h0m.1 12.5h0m.3 .2h0m.7 .3h0m-.5 .1h0m.3 .1h0m-.1 .1h0m.3 .2h0m-.5 .2h0m-.5 .1h0m2.1 0h0m-.6 0h0m2.2 .2h0m-.1 0h0m-3.3 .1h0m2 .1h0m-.1 .1h0m1 0h0m1.7 .2h0m-.6 0h0m-4.1 0h0m1.3 .1h0m-1.1 0h0m3.2 .1h0m-.6 .1h0m-3.1 0h0m2 .1h0m1.5 .1h0m-2.3 .1h0m1.5 .2h0m2.3 0h0m-1.4 .1h0m-.7 0h0m-2.3 .1h0m5.1 .1h0m-5.3 0h0m1.4 0h0m-1 0h0m3.8 .2h0m-2.6 0h0m0 .1h0m-1.4 0h0m2.6 .3h0m.2 .1h0m.2 0h0m-3.5 .1h0m2 .2h0m-1.1 .1h0m.3 .2h0m3.7 .1h0m-3.4 .2h0m.7 .3h0m-1.8 0h0m1.6 .4h0m.5 1.3h0m9.2 -83.9h0m-5.7 7.1h0m3.7 .1h0m-3.8 .5h0m.8 1.1h0m1.3 1.8h0m3.3 1.9h0m-3.9 .1h0m-.2 1.6h0m4 .9h0m-2.7 .1h0m2.3 .1h0m-2.2 3.6h0m-2.6 2.7h0m3.3 2.6h0m-.8 0h0m-2.2 0h0m1.4 2.6h0m3.1 2.2h0m-3.2 1.3h0m.3 1.4h0m.9 .7h0m-2.4 .4h0m5 1.8h0m-2.6 .2h0m1.3 1.3h0m-.4 1.4h0m-1.8 .6h0m3.8 2h0m-2.1 2.9h0m-3.5 4.4h0m.2 2.1h0m.4 3.6h0m3.9 .3h0m.4 .8h0m-1.2 .5h0m-.9 .4h0m-.6 0h0m2.6 2.1h0m-1.5 .7h0m-1.8 .5h0m2 .7h0m-.6 0h0m1.9 .6h0m-2.5 .2h0m2.4 .1h0m-1.2 0h0m-1.6 .2h0m1.4 .2h0m-2.8 .2h0m1.9 0h0m-1 0h0m.8 .2h0m1.3 .2h0m.5 .1h0m-1.5 .1h0m-.7 .1h0m3.4 .1h0m-1.3 .3h0m-.6 0h0m0 .1h0m-.5 .1h0m-.3 .2h0m.2 .1h0m1.2 .2h0m-2.2 .2h0m-1.5 0h0m.2 .3h0m2 .1h0m-1.1 16.7h0m-.5 .1h0m.5 .1h0m.4 .1h0m.5 .2h0m-.2 0h0m1.2 .1h0m-3.2 .1h0m4.7 .2h0m.2 0h0m-2.1 0h0m.6 0h0m-1.1 .1h0m-.1 .2h0m1.7 0h0m-.9 .2h0m-2.1 0h0m2.7 0h0m-1.8 .1h0m3.3 .2h0m-.9 .2h0m-.4 .1h0m.9 .3h0m-3.2 .1h0m-1 .1h0m3.3 0h0m.4 .2h0m.9 .1h0m-2 .1h0m.9 .2h0m1.2 .3h0m-3 0h0m2 .5h0m.2 .3h0m-1.3 .6h0m.7 .1h0m-1.1 .5h0m0 1.1h0m-1.4 .7h0m9.3 -81.4h0m.3 .5h0m-2.3 5.8h0m2.4 1.5h0m.1 2.9h0m-4.6 3.2h0m3 2.3h0m.8 .2h0m-4.3 1.5h0m1.6 1.3h0m-.7 3.1h0m-.6 1.3h0m3.3 5h0m.8 .8h0m-.3 6.6h0m1.2 .5h0m-.1 .9h0m-2.3 1.1h0m-.1 .7h0m-2.3 .4h0m-.6 1.1h0m.5 4.7h0m.1 .9h0m4.6 3.5h0m-4.1 .1h0m3 1.5h0m.5 .7h0m-2.1 .6h0m1.1 .2h0m-2.1 0h0m.6 .1h0m2.8 .2h0m-4.7 .1h0m2.2 .1h0m.2 .4h0m-1.5 0h0m-.5 .4h0m1.9 .7h0m.1 .1h0m-1.8 .3h0m3.1 .1h0m.7 0h0m-2.1 .1h0m2.5 .1h0m-4.8 0h0m5.5 .1h0m-2.5 0h0m-1.3 0h0m-1 .1h0m1.2 .1h0m2.5 .2h0m.3 .1h0m-1.1 .1h0m-.9 .1h0m-2.5 0h0m4.5 0h0m-.6 .1h0m-2.5 0h0m-.9 .1h0m4.1 0h0m-5.2 .1h0m.8 .1h0m-.2 18.4h0m3.6 .1h0m-.2 .1h0m-.3 0h0m1.4 .1h0m-.5 0h0m-4.3 .1h0m3.2 0h0m.2 .1h0m.7 .2h0m-3.6 .1h0m3.8 .1h0m.9 0h0m-4.2 .1h0m1.8 0h0m-.4 .1h0m2.3 0h0m.7 .1h0m-4.4 .1h0m.8 .2h0m1.7 0h0m1.9 .3h0m-1.2 0h0m-3.3 .1h0m-.1 .1h0m2.7 .1h0m.2 .2h0m.9 0h0m-.8 .2h0m1.3 .3h0m-2.6 .2h0m2.4 .7h0m.5 .5h0m-1.2 1.5h0m-4.2 3.2h0m11.2 -94.9h0m-3.1 10.4h0m2.6 1.9h0m-3.6 1.7h0m4.4 3.6h0m-1.6 2.8h0m.2 1h0m-4 3.9h0m4.6 3.3h0m-4.6 .8h0m5.6 .9h0m-4.1 2.1h0m.1 .9h0m1.4 .3h0m.4 3.6h0m-1.6 .3h0m3.5 2.2h0m-1.5 .3h0m-.3 1.6h0m-1 .6h0m1.7 .1h0m-3.9 .7h0m4 1.4h0m-3.6 6.9h0m2.7 2.2h0m-.1 .4h0m-2.2 .1h0m1.2 1.7h0m-2 1.3h0m1.7 1.3h0m2.8 .2h0m-2.3 .9h0m2.9 .7h0m-2.8 .9h0m1.4 .2h0m-2.7 .1h0m-.4 1.2h0m3.8 .1h0m-.9 1.1h0m-.6 0h0m-2.9 1.1h0m.5 .1h0m1 0h0m-1.7 .2h0m3.8 .5h0m-.3 .2h0m-3.9 .4h0m2.4 .1h0m3 .1h0m-.4 .2h0m-.4 0h0m1.2 0h0m-4.2 .1h0m1.9 .1h0m.2 0h0m.9 .1h0m-1.8 .1h0m.1 0h0m-1.2 .1h0m2 .1h0m2.1 0h0m-1.1 .1h0m-1.1 18.8h0m-2.1 .1h0m3 0h0m-1.5 0h0m2.6 .2h0m-2.6 .1h0m2.9 0h0m-5.9 .2h0m3.8 .1h0m.2 0h0m.1 .2h0m-2.7 0h0m4.3 .1h0m-3.8 .1h0m-.3 .1h0m1.2 .1h0m2.7 .2h0m-1.8 0h0m-1.6 .2h0m1.5 .1h0m-.2 0h0m-.8 .1h0m.1 .2h0m0 .1h0m-.8 .1h0m-.5 0h0m-.5 .1h0m.8 .2h0m4.1 .1h0m0 .2h0m-.2 .3h0m-4.1 .1h0m-.5 0h0m1.5 .1h0m-1.2 .1h0m3 0h0m-2.3 .1h0m3.2 .1h0m-3.1 0h0m1.3 1.9h0m6.7 -79.1h0m-2 3.2h0m-1.4 .5h0m1.8 2.7h0m-.5 .9h0m3.2 .3h0m-1.2 .6h0m-.4 4.9h0m.2 .6h0m-3.5 5.8h0m5.1 2.2h0m-3.4 5.5h0m3.1 5.1h0m-.7 .5h0m-1.9 .7h0m1.4 .1h0m.5 1h0m-2.6 .1h0m-1.5 1.9h0m4.4 1.2h0m1 .7h0m-1.2 1.3h0m0 .7h0m-1.5 2.4h0m-.4 .9h0m.7 0h0m-1.4 1h0m.3 .1h0m-.6 2.2h0m1.8 1h0m0 .1h0m-1.7 .3h0m.6 .7h0m1.6 1.2h0m1.4 1h0m.2 .3h0m-2.1 .1h0m-.4 .1h0m0 .2h0m-2.6 .1h0m1.2 .1h0m2.1 .1h0m-2.7 .4h0m3.2 .2h0m.7 .1h0m-.1 0h0m.6 .1h0m-1.7 .2h0m1.9 0h0m-3.2 .1h0m2.2 .1h0m-1.8 .1h0m-2.6 0h0m5.5 0h0m-1.7 0h0m-3.6 0h0m5.1 .1h0m-.2 0h0m-4 .1h0m4.1 0h0m-4.7 .1h0m1.9 0h0m0 .1h0m-1.7 0h0m-.3 .2h0m1.5 .3h0m2.8 0h0m-.1 .1h0m-3.8 0h0m-.5 0h0m3.6 0h0m-.2 0h0m-1.3 0h0m.8 .1h0m-1 .2h0m-.6 0h0m4.1 0h0m-3.5 .1h0m3.1 17.6h0m-1.8 .2h0m-2.2 0h0m.6 0h0m3.2 .1h0m.4 0h0m-.2 .2h0m-3.2 0h0m-.6 0h0m4 .1h0m-1 .1h0m.4 .1h0m-1.8 .1h0m1.6 .2h0m-2.7 .1h0m-1 0h0m1.6 .1h0m2.3 0h0m-3.7 0h0m3 0h0m-1.1 .1h0m-2.7 .1h0m.6 .1h0m.5 0h0m1.7 .3h0m1.2 .3h0m.9 .1h0m-4.6 .4h0m-.1 .2h0m-.7 .2h0m.6 .2h0m.3 0h0m3.5 .2h0m.2 0h0m.6 .2h0m-3.3 0h0m2.5 0h0m-1.4 1.4h0m-.7 .6h0m-.1 .2h0m-1.6 1.1h0m1.6 .1h0m-.7 4.6h0m6.4 -88.4h0m1.2 1.2h0m-1.7 2h0m-1.4 .5h0m.2 .3h0m.9 1.2h0m3.8 2.4h0m-1 .9h0m-2.2 2h0m2.2 .1h0m-2.9 2.4h0m3.3 .3h0m-1.9 .2h0m2.7 .1h0m-.6 3h0m-1.8 .5h0m-2.9 .3h0m1.6 1.1h0m-.7 0h0m5 .2h0m-4.6 2.8h0m.5 .9h0m-1.3 .2h0m-.3 1.6h0m3.7 .4h0m.7 3.3h0m-2.9 2.3h0m-1.1 .5h0m-.5 8h0m4.3 1.5h0m-.3 .9h0m-3 .9h0m3.1 4.2h0m-.9 2.4h0m-2 0h0m.9 .4h0m-.3 .6h0m3.1 .1h0m.8 .6h0m-1.7 .1h0m-2.3 1.6h0m.6 1.1h0m2.1 1.2h0m-1.8 .5h0m2.7 .7h0m-3.5 .6h0m-1.8 .5h0m2.3 .7h0m-.7 .3h0m3.6 .1h0m-4 0h0m3.7 .1h0m-4.7 0h0m3.5 .1h0m-2.7 .1h0m.3 0h0m2.3 0h0m-.9 .3h0m-2.2 .1h0m2.6 .1h0m-2.4 .4h0m.3 0h0m1.4 0h0m2.5 .2h0m-.9 0h0m.1 0h0m-3.4 .2h0m.4 0h0m-.5 .1h0m2.3 0h0m-2.9 .3h0m.6 0h0m4.7 .1h0m-.6 0h0m-.3 0h0m.1 .3h0m1.3 15.8h0m-.5 .4h0m-2 .1h0m-1.8 .2h0m-.6 .1h0m1.6 .2h0m-1.6 .1h0m2.2 0h0m-.2 .2h0m-.6 .1h0m.6 .1h0m-.9 0h0m2.5 .1h0m-2.9 .1h0m1.6 .1h0m-.8 .4h0m-2.2 0h0m-.3 .1h0m.1 .1h0m2.2 0h0m-.8 .2h0m-1.1 .2h0m.1 0h0m3 .1h0m.3 0h0m-.6 .1h0m-2.9 .3h0m1.3 .4h0m3.9 .5h0m-5.3 .2h0m5.2 .6h0m-5 1.5h0m5.2 .4h0m5.3 -82.1h0m-1.7 .9h0m1.1 .4h0m-3.6 3.8h0m1.2 .7h0m2.2 .6h0m.5 3.4h0m-.7 .5h0m-1.4 5.2h0m-2.5 1.9h0m4.5 .9h0m-1 3.2h0m1.7 .7h0m-4.6 1.3h0m.3 .6h0m2 .1h0m1.7 .9h0m-1.4 .9h0m-2.1 .1h0m4.5 1.3h0m-1.9 2.3h0m-.5 4.8h0m-1.8 5h0m2.6 .7h0m1.9 1.1h0m-1.9 1.7h0m-2.8 2.7h0m-.3 .4h0m1.1 1.1h0m.3 .1h0m-.9 1.1h0m.3 .8h0m2.7 1h0m-2.9 0h0m.6 .6h0m2.6 .7h0m-4.2 2.6h0m.6 .8h0m3.6 0h0m-3.2 0h0m1.2 .9h0m-2.2 .3h0m3.1 .1h0m-.3 .1h0m-3.2 .9h0m3.2 .2h0m-.4 .1h0m-2.4 .1h0m1.5 .4h0m2.7 .1h0m-.2 .2h0m1.5 .1h0m-4.5 .1h0m3.7 0h0m-2.9 .2h0m.4 .1h0m-2.1 .1h0m0 0h0m.6 .1h0m4.5 .1h0m-5.4 .2h0m.3 .1h0m2.7 0h0m1.7 .3h0m.9 .1h0m-.2 .1h0m-3.9 0h0m.1 0h0m.2 .2h0m1.7 0h0m1.7 .2h0m.4 13.4h0m-.1 .3h0m-.5 .1h0m0 0h0m-1.6 .1h0m.8 0h0m-.9 .1h0m.8 0h0m1.4 .1h0m-.9 0h0m1 .1h0m-3.3 .1h0m1.7 .1h0m-2.1 0h0m2.9 0h0m-1.9 .1h0m1 .1h0m-2.7 0h0m-.8 0h0m.5 0h0m4 0h0m-2.4 .1h0m-1.1 0h0m3.4 0h0m-1.1 0h0m-3.8 .1h0m1.3 .1h0m-1.1 0h0m5.1 .1h0m-4 .2h0m4.1 .1h0m-1.8 .1h0m-1.5 0h0m-1.9 .2h0m5.1 .2h0m-.7 .1h0m0 0h0m-3.3 .1h0m4.5 0h0m-3 .1h0m1.7 .4h0m-2.5 .2h0m3.6 .2h0m-1 0h0m-3.4 .1h0m4 .4h0m-1.5 .1h0m-2.3 .2h0m-.1 .3h0m-.5 0h0m1.8 .1h0m1.6 .2h0m-2.7 .1h0m3.5 .4h0m-4.1 .3h0m0 .1h0m2.7 0h0m-1.4 3.8h0m-2.2 .4h0m9.4 -86h0m-2.5 3.6h0m1.9 3.6h0m-1.1 5.5h0m1.2 4.9h0m1.5 1.1h0m-.3 4.4h0m-1.1 .4h0m.5 4.2h0m-2.1 1.1h0m.1 1.8h0m1.1 .3h0m-2.2 4.1h0m2.3 .1h0m2.2 .1h0m-2 0h0m-2 2.2h0m3.6 2.1h0m-4.5 7.3h0m2.5 6.8h0m2.7 2.7h0m-1 1h0m-3.1 .2h0m4.7 .1h0m-2.5 .5h0m-1.2 .3h0m-1 .1h0m-1.2 .8h0m3.4 .3h0m2.5 0h0m-.1 .1h0m-4.5 .2h0m2.7 .8h0m-.6 .1h0m-3.1 0h0m4.9 .3h0m-1.8 .5h0m-2.7 .1h0m1.9 .2h0m-1.3 .1h0m3.3 0h0m-4.2 .2h0m.6 .1h0m-.9 .2h0m5.3 .1h0m-4.4 .1h0m.3 0h0m3.9 .1h0m-3.8 .1h0m1.8 .3h0m-.3 0h0m2.4 .1h0m-.1 .6h0m-.2 .1h0m.8 .4h0m-.2 .4h0m-.1 9.8h0m-.7 .6h0m-1.7 .1h0m1.6 .3h0m-1.8 0h0m-.7 0h0m2.3 .3h0m-4.6 .1h0m.1 .1h0m5.8 0h0m-1.8 .1h0m-.5 0h0m.3 0h0m.6 .1h0m1.1 .2h0m-1.4 .1h0m1.4 0h0m-2.6 .1h0m-1 0h0m-.5 0h0m-.5 0h0m2.5 .1h0m-2.5 .1h0m.8 0h0m3.1 0h0m-3.6 .1h0m.8 0h0m.4 .1h0m.2 0h0m2 .2h0m-.1 .1h0m-4.6 .1h0m.7 .2h0m1 .1h0m2.4 .1h0m1.7 .1h0m-.6 .1h0m-.5 0h0m-2.4 .1h0m1.5 .2h0m-2.5 0h0m3.7 0h0m.2 .6h0m.6 .6h0m-1 .2h0m-4.6 .2h0m.3 .1h0m-.2 .9h0m3.1 .1h0m-.9 .4h0m1 2.9h0m-1.7 1.2h0m5.3 -83.9h0m.4 9.1h0m3 .4h0m-4.2 4.2h0m1.3 2.4h0m3.9 2h0m-5.2 .6h0m4.6 5h0m-4.5 9.4h0m.1 .9h0m.2 2.3h0m.2 2.3h0m4.5 4h0m-1.3 .5h0m1.3 3.9h0m-.8 .6h0m-2.7 2.9h0m3.5 4.1h0m-2.1 .6h0m-1.8 0h0m.3 .2h0m1.8 .3h0m-1.8 .7h0m1 .3h0m-2 .8h0m.6 .2h0m2.3 .3h0m-1.1 .1h0m-1.4 .4h0m1.1 .6h0m.5 .1h0m-2.5 0h0m4.7 0h0m-5 .2h0m4.7 .1h0m-2.7 .1h0m2.6 .1h0m1.3 .1h0m-5.4 .1h0m1.5 .2h0m.8 .4h0m1.2 .2h0m-3 .1h0m2.1 .3h0m2.2 0h0m-.8 .2h0m-1.8 0h0m-2.7 .3h0m.4 0h0m4.8 .1h0m.2 .1h0m-3.6 .2h0m-1 .1h0m2.8 .2h0m-3.6 0h0m3.2 0h0m.1 0h0m1 .1h0m-.9 .2h0m-.6 0h0m.7 .3h0m-.3 0h0m-2.7 .1h0m5.4 0h0m-2 .1h0m-3.8 .1h0m2.3 0h0m.5 .1h0m-1.4 .1h0m1.3 0h0m.8 .1h0m.8 .1h0m-.3 .2h0m-.9 .1h0m2.5 0h0m-2.2 .2h0m.6 .2h0m.4 .2h0m-1.1 .2h0m.6 0h0m1.5 .1h0m-.1 0h0m-1.8 .3h0m.1 0h0m2 .3h0m.1 .1h0m-.4 .1h0m-.2 .2h0m.2 .1h0m.3 .2h0m.3 .1h0m-1 .4h0m-.2 0h0m.3 .7h0m.2 .1h0m.2 .2h0m-.9 .8h0m-.5 .3h0m.8 .3h0m.4 .5h0m.5 .5h0m-1.6 .2h0m-.6 .1h0m1.3 0h0m-.8 .1h0m.4 .3h0m.5 .3h0m1 .1h0m-.6 0h0m-1.9 .1h0m0 0h0m1.5 .1h0m-1.6 0h0m2.2 0h0m.2 0h0m-3.5 .4h0m1.8 .1h0m-3 .1h0m1 .2h0m-.8 .1h0m.8 0h0m-.3 .1h0m1.6 .1h0m1.6 .2h0m-4.6 0h0m-.3 0h0m4.5 .1h0m-4.3 .2h0m5.5 0h0m-2.1 .3h0m.7 0h0m-3.5 .1h0m3.8 0h0m-3.7 .1h0m2.9 .2h0m-3.9 0h0m3.7 .1h0m-2.7 0h0m3.3 .1h0m0 .4h0m.2 0h0m-1.8 0h0m-2.3 .1h0m.7 .1h0m-.7 .1h0m1.9 .1h0m.8 0h0m-2.9 0h0m1.5 .2h0m-.6 0h0m1.7 0h0m.1 .2h0m-.5 .5h0m1.5 .1h0m-3.6 .2h0m.4 .6h0m3.4 .2h0m-2.2 .1h0m3.1 .7h0m-2.2 .5h0m1.1 .3h0m1.8 .2h0m-1.9 .5h0m1.9 2.2h0m1.1 -77h0m4 2.4h0m-4 4.4h0m-.5 14.9h0m5.4 4.2h0m.3 20.3h0m-3.2 .1h0m-2 1.5h0m2.8 1.5h0m.4 1.3h0m1 .3h0m-3.9 1.9h0m-.8 .3h0m4.6 .2h0m-3 .5h0m3.3 .4h0m.5 .1h0m-2.3 .1h0m2.5 .1h0m-5.5 .6h0m1.1 .3h0m2.5 .2h0m-3.8 .6h0m1.4 .2h0m1.5 .1h0m2.6 .2h0m-1.7 .1h0m-1.1 .1h0m-2 .1h0m2.9 .1h0m-3.2 .1h0m3.6 .1h0m-3.3 .1h0m4.1 .5h0m-.1 .2h0m-4.6 0h0m5.4 .1h0m-2.9 .1h0m-2.5 0h0m.1 .3h0m3.7 .1h0m-1 .2h0m-.1 .1h0m-2.8 .2h0m4.3 0h0m-3 .1h0m4.3 .3h0m-2.4 .1h0m-.1 0h0m2.3 .1h0m-2.7 .1h0m-1.9 0h0m4.5 .4h0m-4.3 .2h0m.8 0h0m.6 .2h0m-1.7 0h0m1.4 .1h0m-1.4 .1h0m.6 .1h0m.1 0h0m.5 0h0m-1.8 0h0m1.3 .1h0m4.3 .1h0m-3.5 .1h0m-.8 .1h0m-.5 .1h0m-.2 .3h0m1.9 0h0m-2.7 .3h0m5.5 0h0m-3.8 0h0m1.6 .2h0m-.3 .1h0m0 0h0m-.4 .1h0m1.1 .1h0m-2.5 0h0m-.8 0h0m4.8 .2h0m-1.5 0h0m1 0h0m-1.6 .1h0m-2 0h0m3.5 0h0m-3.4 .2h0m1.3 .1h0m-.8 .3h0m-1.8 .1h0m2.4 .1h0m-.2 .1h0m-1.7 .1h0m0 0h0m1.2 .1h0m4.2 .2h0m-2.4 0h0m-3.1 .1h0m0 .2h0m1.7 .2h0m1.4 .1h0m-3.5 0h0m3 .2h0m-2 0h0m1.3 0h0m-1.3 0h0m1.2 .2h0m3.7 .1h0m-2.8 .2h0m-1.1 .1h0m-.1 0h0m2.6 0h0m-3.7 .1h0m2.2 .1h0m-.5 .1h0m.7 0h0m-2.5 .2h0m0 0h0m2.2 .1h0m-2.4 0h0m3.9 0h0m.6 .1h0m-1.2 0h0m-1.7 .1h0m2.8 0h0m-3.6 .2h0m-.5 0h0m1.3 .1h0m3.1 .1h0m-1.7 0h0m-.5 .2h0m-1.4 0h0m.4 .2h0m3.1 .1h0m-2.6 0h0m.1 .1h0m-.3 .1h0m2.5 0h0m-1.8 .1h0m2.9 0h0m-2.9 .3h0m-1.7 .1h0m-1 0h0m1.9 .1h0m-1.6 .2h0m-.1 0h0m1.6 .1h0m-.4 .1h0m3.2 0h0m-.1 .2h0m-4.7 0h0m.8 .2h0m3.9 .2h0m-4.4 .2h0m1 .1h0m3.6 .3h0m-.2 .2h0m-4.5 .2h0m3.8 0h0m1.4 .1h0m-2.7 0h0m-.4 .4h0m-1.7 .1h0m2.7 .3h0m-.6 .1h0m2 .9h0m-.5 .1h0m.1 .6h0m-2.4 0h0m.2 .2h0m-.1 .3h0m-2 0h0m1 .5h0m2.5 1h0m.7 .1h0m.6 .3h0m-2.7 0h0m-2.2 .1h0m.5 1.4h0m4.9 1.6h0m5.1 -84.1h0m-2 1.8h0m.5 8.1h0m2.7 4.6h0m.1 5.4h0m-1.5 5.5h0m-.5 .3h0m-2.5 4.4h0m-1.3 1.1h0m3.1 5.5h0m.4 1.3h0m.8 2.9h0m-3.4 1.4h0m1.8 .8h0m-2 .9h0m3.9 1.1h0m-2.9 1.9h0m-.4 2.1h0m4.1 .1h0m-1.2 .2h0m.4 .6h0m-2 1.2h0m.1 1.2h0m-2.2 2.9h0m2.6 1.8h0m-.8 3.2h0m3.6 .7h0m-1.5 .9h0m-4.4 .4h0m3.3 .5h0m-1.1 0h0m-1.6 0h0m5.1 .3h0m-4.5 .1h0m3.6 0h0m.3 .2h0m-4.1 .2h0m1.4 .4h0m2.5 .5h0m-4.1 .5h0m4.2 .5h0m-.7 .1h0m-3.8 .3h0m.3 .1h0m1.2 .1h0m-.1 .2h0m2.2 .3h0m-3.7 .1h0m3 0h0m-3.1 .8h0m5.3 .1h0m-4.7 .3h0m-.7 .1h0m1.2 .5h0m-1.4 0h0m1.9 0h0m1.3 .2h0m-.2 .3h0m-.6 .1h0m1.1 0h0m-.2 .4h0m-.4 .1h0m-1.6 .1h0m.1 .2h0m-.8 .2h0m.9 0h0m-.4 .3h0m1.3 0h0m1.3 .1h0m1.7 .1h0m-1.3 .1h0m-.5 .7h0m-.2 .2h0m-.7 .1h0m-2.2 .2h0m.2 .7h0m2 .5h0m2.9 .1h0m-.7 0h0m-3.3 1.3h0m-1.2 .1h0m3.9 0h0m-1.9 0h0m3.1 .3h0m-4.9 .1h0m2.8 .6h0m-2.6 .4h0m3.3 .8h0m-1.2 0h0m1 .3h0m.3 .5h0m-3.5 .2h0m2.5 .5h0m2.5 .2h0m-2.9 .6h0m.4 1.7h0m-2.7 1.5h0m9.2 -77h0m-2.7 .6h0m4 4.4h0m-.5 9.1h0m-2.6 1.9h0m2.9 .3h0m-.7 2.2h0m-3.2 12.1h0m.6 1.5h0m2.9 .4h0m-3.1 6.3h0m-.3 1.4h0m2.8 2.7h0m-1.1 .7h0m-.7 1.1h0m2.1 1.2h0m-1.5 .9h0m2.4 2.6h0m-1.6 4h0m-2.6 .2h0m5 1.7h0m-4.1 .1h0m-.1 1.4h0m.2 0h0m.8 .3h0m2 .3h0m.3 0h0m-3.7 .9h0m2.9 .2h0m1.2 1.1h0m-2.2 .1h0m.7 .2h0m-1.9 .8h0m1.5 .1h0m1.9 .7h0m-.2 .1h0m-2.9 .5h0m-1.3 .2h0m0 0h0m.9 .8h0m-1 1.1h0m3.8 .3h0m-1.8 .2h0m.5 .3h0m-2.2 .3h0m-1 .3h0m1.2 .2h0m2.5 .9h0m-2.4 0h0m1.3 .1h0m-.8 .3h0m-.4 .1h0m1.1 1.5h0m.5 .1h0m1.3 .1h0m.8 .4h0m-3.2 .1h0m2.6 .3h0m-2.3 .5h0m1 .5h0m-3.1 .2h0m4.5 1.4h0m-4.1 2.5h0m0 .5h0m2.1 1.3h0m7.6 -76.7h0m1.5 3.8h0m-3.2 2.7h0m.9 8.6h0m-.1 2.8h0m1.2 7.8h0m.4 .4h0m-2.1 3.1h0m-2.2 5h0m2.6 1.3h0m1.6 1.1h0m-2.2 6.2h0m2.6 .7h0m-2.8 7.7h0m1.7 1.6h0m-3.6 .3h0m-.5 2h0m.4 .6h0m.6 1.6h0m.5 .1h0m1.1 0h0m-1.1 1.2h0m.5 .3h0m3.8 0h0m-1.9 .2h0m-2.5 .5h0m-.1 2.2h0m4.6 .4h0m-4.3 .5h0m2.9 .4h0m-4.2 0h0m4.2 .5h0m1.2 .3h0m0 .1h0m-4.4 .3h0m3.9 .2h0m.7 .7h0m-.3 .2h0m.2 0h0m-.8 .5h0m-2.3 .8h0m-.9 0h0m2.6 .1h0m-.4 0h0m-.2 .5h0m-3.3 .3h0m.9 .2h0m2.6 .3h0m-3.9 2.3h0m.7 .6h0m1.9 .2h0m2.4 .2h0m-4.7 .4h0m1.2 4.7h0m-.9 .1h0m8.8 -79.1h0m-1.4 .4h0m.2 .2h0m.8 3.5h0m2.7 3.7h0m-2.5 1.6h0m.3 6.7h0m-1.4 2h0m2 2h0m-4.1 7.1h0m3.6 13.8h0m2.1 .5h0m-2.6 5.4h0m-1 5.7h0m-.8 1.8h0m3.6 1.3h0m-1.8 .3h0m-2.9 4.2h0m5.4 .6h0m-3.3 .2h0m-.1 .6h0m-1.5 .3h0m2.2 1.1h0m1.4 .2h0m-3 2.1h0m3.3 1.7h0m-.6 3.3h0m.4 1.5h0m.7 .1h0m-4.3 .4h0m.5 .3h0m-.9 2.6h0m5 4.3h0m4.9 -77.1h0m.2 6.1h0m.2 2.8h0m-3.4 1.1h0m1.2 21.3h0m.9 1.4h0m0 1.7h0m1.1 2.4h0m-.7 2.7h0m.7 7.3h0m-3.1 4.2h0m3.7 .7h0m-3.1 .2h0m1 2.8h0m2.6 .3h0m-1.1 0h0m-4.1 .1h0m.6 1.2h0m3.2 .3h0m-2.4 .7h0m-.1 0h0m2.9 2.2h0m-3 0h0m2.8 .5h0m-.2 .8h0m.4 .4h0m-1.3 1.9h0m-1.4 .1h0m1.8 .3h0m1.6 .2h0m.5 .4h0m-.7 0h0m-2.7 .2h0m2.5 .2h0m-2.7 .4h0m-.7 1h0m1.3 .1h0m-2.1 1.2h0m3.7 1.2h0m1.1 2.8h0m-3.4 3.1h0m5.4 -74.5h0m1 5.9h0m.2 1.1h0m-2.5 5.1h0m.1 10.5h0m2 .7h0m1.1 2.5h0m.9 9.8h0m-.2 13.4h0m1 1.8h0m-.5 .8h0m-2.2 3.1h0m2.7 .7h0m-4.1 1.5h0m2.6 1.2h0m-3.6 .1h0m5.5 1.8h0m-5.6 1h0m4 .1h0m-1 .2h0m1 1.7h0m-1.1 .2h0m-.2 .5h0m-.3 1.5h0m-2.4 1.9h0m0 .6h0m3.1 0h0m-1.3 .4h0m-1.2 0h0m-.4 .1h0m1.8 .1h0m-.2 .1h0m3 1h0m-4.6 1.7h0m.6 1.8h0m-.7 .5h0m9.8 -84h0m-1.4 13.6h0m2.6 28.7h0m-3.1 6.3h0m.5 2.4h0m.4 5.1h0m-2 12.2h0m1.5 2.1h0m-2 .4h0m.1 .1h0m4.5 2.9h0m-1.9 .7h0m-1.5 .3h0m-1.3 .1h0m1 .6h0m.8 1.4h0m2.3 .3h0m1.1 1h0m-4.1 .1h0m-.7 .1h0m1.7 .2h0m-2.3 .3h0m5.3 1h0m-4.2 .5h0m.8 .1h0m2.8 .3h0m2 -45.5h0m3.2 16.3h0m-1.5 3h0m.3 2.1h0m-2.2 2.1h0m2.4 .7h0m1.7 .1h0m-2.2 8.4h0m3.3 .8h0m-.7 .9h0m-3.8 1.7h0m4.6 5.4h0m-5.8 2.9h0m4.6 .1h0m-2.7 1.7h0m-1.3 1h0m6.8 -60.8h0m2.2 5.1h0m-3.6 13.5h0m2.1 16.9h0m.5 7.5h0m-.2 1.8h0m-1.7 4h0m2.8 .2h0m-3.6 2.7h0m3.9 1h0m-3.1 1.5h0m1.3 2.6h0m1 .4h0m-.2 2.9h0m.6 1.3h0m6.8 -19.4h0m.8 4.3h0m-.6 6.3h0m-3.9 .6h0m3.4 1.4h0m.1 .2h0m.1 0h0m-3.4 .2h0m-.5 1.1h0m5.6 -3.2h0m.9 5.9h0" fill="none" stroke="#000" stroke-width="1.4" stroke-linecap="square"/>
<rect x="351.8" y="868" width="162.1" height="164.9" stroke="#808080" stroke-width="1.0" fill="none"/>
<rect x="423.6" y="894.3" width="89.4" height="73.7" stroke="#222" stroke-width="0.9" fill="none"/>
<path d="M347.8 895.5h4M347.8 926.5h4M347.8 963.5h4M347.8 1006.5h4" stroke="#111" stroke-width="1.2" fill="none"/>
<path d="M349.4 917.5h2.4M349.4 911.5h2.4M349.4 907.5h2.4M349.4 904.5h2.4M349.4 902.5h2.4M349.4 900.5h2.4M349.4 898.5h2.4M349.4 897.5h2.4M349.4 952.5h2.4M349.4 945.5h2.4M349.4 941.5h2.4M349.4 937.5h2.4M349.4 934.5h2.4M349.4 932.5h2.4M349.4 930.5h2.4M349.4 928.5h2.4M349.4 886.5h2.4M349.4 880.5h2.4M349.4 876.5h2.4M349.4 873.5h2.4M349.4 969.5h2.4M349.4 973.5h2.4M349.4 976.5h2.4M349.4 977.5h2.4M349.4 979.5h2.4M349.4 980.5h2.4M349.4 989.5h2.4M349.4 990.5h2.4M349.4 992.5h2.4M349.4 994.5h2.4M349.4 996.5h2.4M349.4 1000.5h2.4M349.4 995.5h2.4M349.4 989.5h2.4M349.4 984.5h2.4M349.4 980.5h2.4M349.4 977.5h2.4M349.4 975.5h2.4M349.4 973.5h2.4M349.4 971.5h2.4" stroke="#444" stroke-width="1.0" fill="none"/>
<rect x="349.2" y="980.4" width="2.6" height="9.2" fill="#000"/>
<path d="M364.5 1032.9v4.3M433.5 1032.9v4.3M468.5 1032.9v4.3M500.5 1032.9v4.3M393.5 1032.9v4.3M405.5 1032.9v4.3" stroke="#111" stroke-width="1.2" fill="none"/>
<path d="M444.5 1032.9v2.5M450.5 1032.9v2.5M454.5 1032.9v2.5M457.5 1032.9v2.5M460.5 1032.9v2.5M462.5 1032.9v2.5M464.5 1032.9v2.5M466.5 1032.9v2.5M477.5 1032.9v2.5M483.5 1032.9v2.5M487.5 1032.9v2.5M490.5 1032.9v2.5M493.5 1032.9v2.5M495.5 1032.9v2.5M497.5 1032.9v2.5M498.5 1032.9v2.5M509.5 1032.9v2.5M406.5 1032.9v2.5M408.5 1032.9v2.5M410.5 1032.9v2.5M413.5 1032.9v2.5M418.5 1032.9v2.5M424.5 1032.9v2.5M392.5 1032.9v2.5M390.5 1032.9v2.5M387.5 1032.9v2.5M384.5 1032.9v2.5M380.5 1032.9v2.5M374.5 1032.9v2.5M354.5 1032.9v2.5" stroke="#444" stroke-width="1.0" fill="none"/>
<rect x="394" y="1032.9" width="11.2" height="3.6" fill="#000"/>
<text x="338.3" y="901.2" font-size="9.3" font-weight="bold" text-anchor="end" fill="#111" textLength="11.3" lengthAdjust="spacingAndGlyphs">10</text>
<text x="338.9" y="895.6" font-size="9.6" font-weight="bold" text-anchor="start" fill="#111">5</text>
<text x="338.3" y="932.3" font-size="9.3" font-weight="bold" text-anchor="end" fill="#111" textLength="11.3" lengthAdjust="spacingAndGlyphs">10</text>
<text x="338.9" y="926.7" font-size="9.6" font-weight="bold" text-anchor="start" fill="#111">4</text>
<text x="338.3" y="969.2" font-size="9.3" font-weight="bold" text-anchor="end" fill="#111" textLength="11.3" lengthAdjust="spacingAndGlyphs">10</text>
<text x="338.9" y="963.6" font-size="9.6" font-weight="bold" text-anchor="start" fill="#111">3</text>
<text x="335.3" y="988.4" font-size="9.3" font-weight="bold" text-anchor="middle" fill="#111">0</text>
<text x="340.5" y="1012.5" font-size="9.3" font-weight="bold" text-anchor="end" fill="#111" textLength="17" lengthAdjust="spacingAndGlyphs">&#8722;10</text>
<text x="338.9" y="1006.1" font-size="9.6" font-weight="bold" text-anchor="start" fill="#111">3</text>
<text x="375.9" y="1051.1" font-size="9.3" font-weight="bold" text-anchor="end" fill="#111" textLength="17" lengthAdjust="spacingAndGlyphs">&#8722;10</text>
<text x="376.5" y="1044.7" font-size="9.6" font-weight="bold" text-anchor="start" fill="#111">3</text>
<text x="401.4" y="1051.1" font-size="9.3" font-weight="bold" text-anchor="middle" fill="#111">0</text>
<text x="443.3" y="1051.1" font-size="9.3" font-weight="bold" text-anchor="end" fill="#111" textLength="11" lengthAdjust="spacingAndGlyphs">10</text>
<text x="443.9" y="1044.7" font-size="9.6" font-weight="bold" text-anchor="start" fill="#111">3</text>
<text x="477.8" y="1051.1" font-size="9.3" font-weight="bold" text-anchor="end" fill="#111" textLength="11" lengthAdjust="spacingAndGlyphs">10</text>
<text x="478.4" y="1044.7" font-size="9.6" font-weight="bold" text-anchor="start" fill="#111">4</text>
<text x="507.7" y="1051.1" font-size="9.3" font-weight="bold" text-anchor="end" fill="#111" textLength="11" lengthAdjust="spacingAndGlyphs">10</text>
<text x="508.3" y="1044.7" font-size="9.6" font-weight="bold" text-anchor="start" fill="#111">5</text>
<text x="363.7" y="886.4" font-size="16" text-anchor="start" fill="#111">2.0%</text>
<path d="m521.6 979.8h0m6.3 -66h0m-.1 10.4h0m-.5 16.8h0m.5 3.4h0m-.4 1.4h0m-.2 .9h0m-.6 20.4h0m-.2 .2h0m0 1.7h0m-1.9 6.5h0m3 1.5h0m-2.5 2.8h0m1.8 .6h0m-1.1 .1h0m1.1 2.1h0m-4.3 .2h0m2.1 2.2h0m1.1 2.1h0m4.9 -75.6h0m2.9 2.2h0m-5.3 2.3h0m4.3 .1h0m1.2 1.1h0m-.8 .6h0m-2.2 1.2h0m-2.1 3.6h0m3.5 6.3h0m-1.4 1.1h0m1.2 2.9h0m1.2 .5h0m-1 0h0m-4 .7h0m4.7 6.2h0m-1.5 1.4h0m-.3 5.4h0m-2.1 .8h0m4.8 1.7h0m-2.1 .8h0m-2.3 .1h0m2.6 2.6h0m-.2 0h0m1.5 .4h0m-3.6 2.2h0m1.6 .4h0m-.6 .8h0m1.9 .4h0m1 .6h0m.3 .1h0m-5.1 1.7h0m5 .6h0m-.5 .4h0m-3.4 .7h0m2.3 .2h0m-3.1 .2h0m4.8 .3h0m.2 .3h0m-2.8 4.9h0m-.3 .6h0m-.3 .6h0m-1.4 .3h0m-1.1 .7h0m4.1 .1h0m-2.4 .4h0m2.1 .6h0m1.5 .8h0m-3.6 .3h0m0 .9h0m-.1 .1h0m3.7 .3h0m-1.7 .6h0m-.4 .3h0m-.4 .1h0m.6 .3h0m-2.2 .9h0m2.7 .1h0m-.4 .1h0m-.8 .3h0m2.3 .1h0m-.7 0h0m.9 .2h0m-.7 .2h0m.7 .1h0m.7 .7h0m-1 .1h0m-.6 .2h0m1 .2h0m-.7 .4h0m-2.2 .4h0m1.9 .2h0m-3.5 .7h0m0 .3h0m-.3 .1h0m.7 .2h0m4.6 .2h0m-2.5 .1h0m1 0h0m.7 .4h0m-1.1 .8h0m.4 .1h0m1.1 0h0m.5 .5h0m-5.7 0h0m4.6 .1h0m-1.9 .1h0m-.2 1.7h0m3.2 .1h0m-2.3 0h0m-1.1 1h0m-.9 .2h0m3.6 .1h0m-1.2 .4h0m-1.2 1h0m-.2 .1h0m2.5 .1h0m-2.7 .8h0m.1 .3h0m-1.5 .4h0m1.8 .4h0m1.9 1.2h0m-1.3 .6h0m.3 2.3h0m1.9 .3h0m0 .4h0m2.5 -79.2h0m-1 2.6h0m4.3 3.4h0m-4.1 5.5h0m2.8 2.7h0m1.5 2.9h0m-2.4 5.4h0m-2.7 3.3h0m0 .8h0m0 1.2h0m.6 5.4h0m-.8 3h0m4.2 .1h0m-2.5 .7h0m2.7 3.2h0m.7 .2h0m-.9 .3h0m-3.3 .8h0m-.5 1.1h0m4.1 .7h0m-3.5 .9h0m1.2 2.2h0m.4 .9h0m-2.7 0h0m3.2 .8h0m-.3 1.6h0m2.3 .4h0m.2 .3h0m-.7 .6h0m-1 .2h0m-.4 .1h0m-.8 .4h0m-1.1 .3h0m1.7 0h0m-2.4 .2h0m2.2 .7h0m.7 0h0m-.5 .1h0m2 0h0m-2.4 0h0m.4 .3h0m-2.9 0h0m5 .2h0m-.4 0h0m-.8 .1h0m.5 0h0m-4.1 .1h0m4.2 .1h0m.6 .2h0m-4.4 0h0m3.3 0h0m-2.9 .5h0m3.5 .6h0m.1 0h0m-2.2 .1h0m1.2 0h0m.8 .1h0m-1.3 0h0m-1.1 .2h0m1.2 .1h0m-1.4 .1h0m.9 0h0m-1.8 .1h0m3.6 0h0m-1.5 .1h0m1.8 .1h0m-.4 .1h0m-3.3 .2h0m1.5 0h0m-.6 .2h0m3 .1h0m-1 .1h0m-4.3 0h0m3.4 .3h0m-3.2 .2h0m1.4 .1h0m2.3 .3h0m-.6 .2h0m-2.5 .1h0m3.1 .2h0m.5 0h0m.2 0h0m-1.6 .2h0m.9 .3h0m.3 .1h0m.8 0h0m-4.2 .1h0m2.9 .2h0m-.4 0h0m-3.3 .2h0m3.3 .1h0m-.3 .3h0m-.8 .1h0m1.9 .3h0m-2.5 .1h0m1.5 .2h0m2.5 .1h0m-.9 0h0m-4.8 .1h0m.7 0h0m-.3 .1h0m4.6 .3h0m.7 .1h0m-1.5 .1h0m-2.8 0h0m4.5 0h0m-2.6 0h0m1.5 .1h0m-4.6 .1h0m1.2 .1h0m4.2 .1h0m-.4 0h0m-1.9 .1h0m1.1 .1h0m1.2 .2h0m-1.8 .4h0m-3.2 0h0m2.2 .1h0m2.6 0h0m.1 0h0m-.3 .1h0m-1.2 .1h0m.2 .2h0m-.5 0h0m1.9 .1h0m-1.4 .1h0m1.6 0h0m-4.9 .1h0m2.7 .1h0m2.2 .1h0m-.6 .1h0m-4.1 0h0m.7 .1h0m-.2 .1h0m1.9 .3h0m.9 0h0m-1.3 .1h0m-.3 0h0m-.4 0h0m2.2 0h0m.4 .1h0m-2 0h0m-2.6 0h0m4.8 0h0m-2.6 .1h0m2.6 0h0m-1.2 0h0m.4 0h0m.4 .2h0m.3 0h0m-2 .1h0m-1 .2h0m1.6 0h0m-.3 .2h0m-2.8 0h0m2.6 0h0m1.1 .1h0m1.3 0h0m-3 .1h0m2.5 .3h0m-1.2 0h0m1.1 .1h0m-5.1 0h0m5.7 .1h0m-2 .1h0m-2.5 .1h0m1.5 .1h0m.9 .2h0m1.5 0h0m-2.6 .2h0m-.5 .1h0m2.9 .1h0m-2.3 .3h0m2.5 .1h0m-2.9 .2h0m1.2 0h0m2.4 .1h0m-5.4 0h0m1.6 .1h0m3.8 0h0m-1 .1h0m.8 0h0m-.5 .1h0m.5 0h0m-.9 0h0m-1 .1h0m1.5 .1h0m-4.7 .1h0m5.1 0h0m-4.6 .2h0m4.8 0h0m-2.5 .1h0m0 .3h0m2.4 .2h0m-3.3 .1h0m2.6 .1h0m-2.7 0h0m-.9 0h0m-1.2 .1h0m5.1 .2h0m.2 0h0m-1.8 0h0m-1.8 .2h0m.1 .1h0m-.9 .1h0m4.7 .3h0m-1 .2h0m-.1 .1h0m-4.4 .1h0m5.6 .1h0m-.4 .1h0m-3.8 .1h0m3.5 .1h0m-5.1 .3h0m2.1 0h0m3.6 .1h0m-5.1 0h0m3.2 .2h0m-.5 .2h0m-1.2 .1h0m2.2 .2h0m.1 0h0m-1.6 .1h0m1.9 .2h0m.5 0h0m-.7 .4h0m-.6 .1h0m-.7 0h0m-.8 .2h0m2.1 .2h0m-.9 .1h0m-1.4 .4h0m2 .1h0m-1.1 0h0m2.2 .1h0m-2.2 .4h0m.1 .8h0m-2.2 .7h0m2.4 .1h0m-.4 .2h0m-.4 .1h0m-.9 0h0m3.7 .3h0m-2.9 .4h0m.3 .3h0m-1.7 .3h0m4.2 .1h0m-1.4 .2h0m1.7 .8h0m-2.7 .7h0m-1.8 .1h0m3.4 0h0m-.5 .2h0m-1.4 1.3h0m1.9 4.1h0m2.4 -84.8h0m.8 1h0m4 .2h0m-.9 .9h0m-3.4 3.6h0m-.5 1.7h0m4.6 1.2h0m-3.6 1.3h0m2.6 1.9h0m-.2 .5h0m-1.5 .5h0m-.1 .7h0m2 .1h0m-3.8 1.4h0m-.8 .4h0m.3 3.9h0m.5 .5h0m-.7 .3h0m4 .3h0m-2.3 .3h0m3.9 .1h0m0 .1h0m-.4 .5h0m-5.1 .9h0m1.8 1.8h0m-1.7 1.4h0m4.8 .6h0m-3.4 1.4h0m2.2 .1h0m1.7 0h0m-1.3 4.4h0m-1.6 3.6h0m2.8 1.2h0m-1.3 1.1h0m-1.7 .8h0m2 .3h0m-3.3 .2h0m-1.1 1.1h0m2.7 2.5h0m1.8 .7h0m-1.4 1.1h0m.5 .3h0m-2.3 1.1h0m3.6 .1h0m-3.6 .1h0m1.3 .6h0m.2 0h0m2.3 .4h0m.3 0h0m.2 .3h0m-3.7 .2h0m-1.5 .2h0m1.5 1.4h0m-.9 0h0m1.4 0h0m1.6 .2h0m.9 .9h0m.6 0h0m-1.1 .1h0m-2.4 .4h0m-.9 .4h0m.9 .2h0m1.6 0h0m1.6 .1h0m-1.6 .1h0m2.1 0h0m-2.7 .2h0m-.2 0h0m2.5 .1h0m-3.1 0h0m1.1 .1h0m.4 0h0m-3 0h0m1.7 .1h0m1.7 .1h0m-.5 0h0m-1.8 .2h0m-.1 0h0m.6 0h0m-2.3 0h0m2.9 0h0m1.9 .1h0m-2.1 0h0m2.9 0h0m-3.7 .1h0m-.2 .1h0m3.1 0h0m-.4 .1h0m-.5 .1h0m1 .3h0m-4.5 0h0m2.8 .1h0m1.4 0h0m-3.5 0h0m2.3 .1h0m-3.1 .1h0m-.5 .1h0m1.7 .1h0m.1 .3h0m2.4 .2h0m1 0h0m-3 0h0m2.9 .1h0m-.9 0h0m-1.4 0h0m-1.8 .1h0m3.6 0h0m-3.1 .1h0m1.1 .1h0m2.8 0h0m-4.7 0h0m2.1 .1h0m.1 .1h0m-1.3 .3h0m4 .1h0m-1.3 0h0m-1 0h0m.5 .1h0m-.7 .1h0m1.8 0h0m-.7 0h0m-2.9 0h0m4.1 .1h0m0 .1h0m-.1 0h0m-3.1 .1h0m2.1 .1h0m-1.7 .1h0m2.2 0h0m.8 .1h0m-3.5 .1h0m.7 0h0m.5 .1h0m1.7 0h0m.8 0h0m-1.9 .1h0m-3.7 .1h0m1.5 0h0m3.8 0h0m-2.6 .1h0m-1 0h0m2.7 0h0m-.6 0h0m1.5 .1h0m-1.2 0h0m.2 0h0m-.5 0h0m-.8 .1h0m-2.8 .2h0m-.1 0h0m5 .4h0m-1.6 0h0m1.5 .1h0m-4.7 0h0m.1 .1h0m1.2 .1h0m2.1 .1h0m-1.7 0h0m.7 .1h0m-1 0h0m3.2 0h0m-2.6 .2h0m1 0h0m-3.5 .1h0m5.6 .1h0m-2.6 0h0m1.6 .1h0m.2 .2h0m-.3 0h0m-.6 0h0m-3.4 0h0m-.5 .1h0m1.7 0h0m-1.7 .2h0m3.6 .1h0m-1 .1h0m.8 0h0m-1.6 0h0m1.5 .1h0m.4 0h0m1.5 .1h0m-3.9 0h0m4.3 0h0m-.8 .1h0m-2.3 0h0m3.2 .1h0m-1.4 .1h0m0 0h0m-.1 .1h0m1.2 0h0m-3.7 .1h0m-.7 0h0m.8 .1h0m1.6 0h0m.4 0h0m-3.3 0h0m1.1 0h0m3.5 .1h0m-.4 .1h0m-.2 0h0m.2 0h0m-1.5 .1h0m.7 0h0m-1.6 0h0m.3 .1h0m1.7 0h0m-1.6 0h0m-2.1 0h0m4.7 0h0m-1.9 0h0m-1.6 .2h0m2.7 .1h0m.1 0h0m-3.4 .1h0m1.1 0h0m3.3 0h0m-4.3 0h0m1.9 0h0m.6 .1h0m.6 0h0m.8 0h0m-2.7 0h0m1.6 0h0m-2.2 .1h0m-2 0h0m.9 0h0m0 .1h0m1.8 .1h0m1.1 0h0m1.8 0h0m-2.8 .1h0m2.8 .1h0m-2.3 .1h0m2.3 .1h0m-1.3 0h0m-.1 .1h0m-2.8 0h0m1.7 .1h0m-.6 0h0m-2.2 0h0m5.7 .1h0m-2.1 0h0m-2.9 0h0m4.2 .1h0m0 0h0m-4.2 .1h0m.9 0h0m.6 0h0m.6 .1h0m-1 0h0m-1.8 .1h0m5.7 .1h0m-1 0h0m-4.8 0h0m4.2 0h0m0 0h0m-4.1 .1h0m1.9 .1h0m-1 0h0m3.6 0h0m-1.5 0h0m-2.3 0h0m.8 .2h0m1.4 0h0m-3 0h0m.1 .1h0m1.1 0h0m3.3 .1h0m-3 0h0m-1.4 0h0m5.1 0h0m-4.4 0h0m1.7 .1h0m-2.1 0h0m.1 .1h0m4.3 0h0m-.8 0h0m-.8 0h0m-2.6 .2h0m-.6 0h0m.1 .1h0m2.5 0h0m1.5 0h0m-2.5 0h0m3.8 .1h0m-.7 0h0m.5 0h0m-3.1 0h0m3 0h0m-3.1 .1h0m3.1 0h0m-1.8 .1h0m-1.2 0h0m-2 .1h0m4.5 0h0m.7 0h0m-4 .2h0m2.9 0h0m.6 .1h0m-2.4 .1h0m-2.5 0h0m2.3 0h0m-1.8 .1h0m4.1 .1h0m0 0h0m-2.7 0h0m-1.5 0h0m2.7 0h0m1.4 0h0m1.2 .1h0m-5.7 0h0m2.7 0h0m-.9 0h0m1.8 .1h0m-.1 0h0m-.3 0h0m-2.9 .1h0m1.6 0h0m1.2 .1h0m1.4 .1h0m-1.4 0h0m0 .1h0m-1.8 0h0m4.5 0h0m-2.3 .1h0m.2 0h0m1.7 .1h0m-1.7 .1h0m1.3 0h0m-3.3 0h0m-.3 .1h0m.7 0h0m.7 0h0m1.4 0h0m-4.3 .1h0m2.7 0h0m2.7 .1h0m-3.6 0h0m3.1 0h0m-3.8 0h0m1 0h0m2.4 .1h0m-3.5 0h0m2.9 0h0m1.4 0h0m-2.6 .2h0m-.1 0h0m.3 0h0m-1.6 .1h0m1.2 0h0m2.7 0h0m-1 0h0m-3.4 .1h0m3.4 .1h0m-.1 .1h0m1.5 .1h0m-.9 .1h0m1.2 0h0m-3.9 0h0m-1.4 0h0m-.1 0h0m3.4 0h0m.1 0h0m-2.6 .1h0m-.9 0h0m.7 0h0m-.4 0h0m4.3 0h0m-1.7 0h0m1.6 .1h0m-3.6 0h0m2.1 .1h0m-3.1 0h0m2.2 .1h0m3 0h0m-2.3 0h0m-2.9 0h0m1.2 .1h0m-1.4 0h0m5.3 0h0m-.7 .2h0m-3.7 0h0m-.1 0h0m1.3 0h0m-1.6 .1h0m2.8 0h0m-.2 .1h0m-.3 .1h0m-2.5 0h0m3.8 0h0m.7 0h0m.1 0h0m-2.6 .1h0m2.5 0h0m-3.5 .2h0m-.3 0h0m-.9 0h0m.3 .1h0m.8 .1h0m4.1 0h0m-2.8 .1h0m-2.4 0h0m4 0h0m.9 0h0m-1.4 0h0m2 0h0m-3.7 .1h0m-2 0h0m5.4 .1h0m-2.5 0h0m1.6 .1h0m-.3 0h0m.7 .1h0m-4.1 0h0m4.4 .1h0m-.8 0h0m-1.8 0h0m2.5 .1h0m0 .1h0m.2 0h0m-.4 0h0m-1.3 0h0m2 .3h0m.1 .1h0m.2 0h0m-2.1 .1h0m1.8 0h0m-.7 .1h0m-2.4 0h0m.9 0h0m-1.2 0h0m1 .1h0m.1 0h0m-.7 0h0m.5 .2h0m.6 .1h0m.3 .1h0m1.8 0h0m-2.6 0h0m-1.4 .1h0m-.5 0h0m2 0h0m1.2 .1h0m1.1 0h0m-.1 0h0m-2.4 0h0m-.1 .1h0m0 0h0m1.5 0h0m-.3 .1h0m.7 0h0m-2.8 .1h0m-1.2 0h0m1.4 .1h0m-.1 0h0m-2.3 0h0m5.4 .1h0m-.6 .1h0m.5 0h0m-1.1 0h0m.9 .2h0m-2.7 0h0m2.4 .1h0m1.1 0h0m-3.3 .1h0m-2.2 .1h0m1.4 .1h0m2.9 0h0m-.3 0h0m1.5 .1h0m-2.5 .1h0m0 0h0m-3.2 .3h0m1.9 .1h0m.9 0h0m2.1 .2h0m-4.7 .1h0m4.9 .1h0m0 .2h0m-.7 .1h0m.8 0h0m-2 0h0m2.4 .1h0m-.6 .1h0m-2.1 0h0m1.2 0h0m.1 .1h0m1.5 0h0m-1.2 0h0m-3.2 .1h0m4.4 0h0m-1 0h0m-4.2 .2h0m3.5 .2h0m.8 .2h0m-.2 0h0m.4 .2h0m-1.4 .1h0m-2.7 0h0m3.1 0h0m-1.2 .2h0m-1.5 0h0m4.5 .1h0m-1.4 .3h0m-2.1 0h0m2.3 .3h0m.8 .4h0m-1.7 0h0m-2.5 .2h0m3.7 0h0m.7 .2h0m-5.2 0h0m.7 .5h0m2.3 .1h0m1 .8h0m-1 .1h0m1 .1h0m-2.8 .1h0m2 .1h0m1.6 .6h0m-1.1 .1h0m-1.6 .9h0m-.8 .1h0m4.1 .1h0m-1.5 .2h0m1.4 .1h0m-4.5 .1h0m4.1 1.4h0m.1 3.9h0m2 -84h0m2.2 1h0m-1.8 2.1h0m.9 .4h0m-.7 3.7h0m2 2.2h0m-3.9 4.6h0m3 1.6h0m1.3 .8h0m-3.3 1h0m4.1 1.9h0m-5.2 .4h0m2.4 .2h0m-.2 .6h0m-.6 1.1h0m2.3 .7h0m-2.9 .2h0m1.3 1.6h0m3 .3h0m-2.9 2.7h0m-1.9 4.7h0m1.9 .7h0m2.9 4.3h0m-3.7 1.4h0m2.6 1.9h0m-1.9 1.2h0m.1 0h0m-1.8 2.3h0m3.4 .2h0m-2.6 0h0m2.2 .3h0m-1.9 0h0m1.1 .2h0m2.9 .2h0m-1.7 .7h0m1.3 .2h0m-1.9 0h0m-2.9 1h0m2.7 0h0m-2.2 0h0m3.2 .5h0m-.9 .4h0m-3.1 0h0m4.1 .2h0m1.2 .2h0m-1.7 .1h0m-1.2 .2h0m-1.6 0h0m.8 .4h0m0 .1h0m4 .2h0m-1.3 .1h0m-1.4 0h0m-2.3 .4h0m3.2 0h0m-3.9 .1h0m3.6 .2h0m-2.2 .1h0m1.2 .1h0m.1 0h0m-2.5 .1h0m.7 0h0m3.3 0h0m1 .1h0m-5 .1h0m4.3 0h0m-1.9 .1h0m2.7 0h0m-1.6 .1h0m1.1 .1h0m-2.9 0h0m1.9 0h0m-2.3 .2h0m1.2 .1h0m-.5 .4h0m3.3 0h0m-1.8 .1h0m-2.6 0h0m1.7 0h0m-3 .1h0m.3 .3h0m5.1 0h0m-1.7 .1h0m-1.8 0h0m3.6 .1h0m-4.8 .2h0m5 .1h0m0 .1h0m-.1 .1h0m-4.2 .1h0m2.9 0h0m-1.8 .3h0m-.9 0h0m.7 .1h0m1 0h0m-.9 .1h0m1.3 0h0m.2 .2h0m-3.3 0h0m5 .1h0m-1.8 0h0m.3 .1h0m1.6 .1h0m-4.7 0h0m4.7 .1h0m-4.9 .1h0m3.4 .2h0m-3.2 0h0m-.9 .2h0m-.1 0h0m.3 0h0m4.7 .1h0m-1.7 0h0m1.6 0h0m-.4 0h0m.1 .1h0m-1.5 0h0m-1.4 .1h0m.6 0h0m-2 0h0m5.3 .1h0m.3 0h0m-1.1 .2h0m.9 0h0m-2.1 .1h0m-.3 .1h0m1.7 0h0m-1.5 0h0m-.3 .1h0m2.7 0h0m-2.2 0h0m-3.1 .1h0m1.6 0h0m-1 0h0m3.8 0h0m-2.5 .1h0m-1.8 .1h0m1.4 0h0m1.7 .1h0m1.6 0h0m-1.5 0h0m-2.9 .1h0m4.3 .1h0m-1.8 .1h0m-.6 0h0m-.1 0h0m2.6 .1h0m-.5 0h0m-2.5 .1h0m1.3 0h0m-1.4 .1h0m1.7 0h0m1.8 0h0m-3.5 0h0m1.7 .1h0m-3.7 0h0m3.1 0h0m-2.1 0h0m-.8 0h0m.5 0h0m2.7 0h0m1.9 0h0m-3.4 .1h0m-2.2 0h0m4.3 .1h0m-4.2 0h0m1.7 0h0m.9 0h0m-.6 .1h0m1.6 0h0m-3.5 0h0m4 0h0m1.6 .1h0m-5.6 0h0m1 .1h0m3.4 0h0m-3 0h0m1.2 0h0m-2.1 0h0m3.6 .1h0m-.8 0h0m-3 0h0m3.5 .1h0m-3 0h0m3.5 0h0m-3.5 0h0m4.8 0h0m-4.1 .1h0m1.2 0h0m2.4 .2h0m-4.3 0h0m-.2 0h0m2.9 0h0m-3.2 .1h0m.4 0h0m3.2 .1h0m-.8 0h0m-2.6 0h0m2.6 0h0m-.6 0h0m3.2 0h0m-4.9 0h0m.9 0h0m2.2 0h0m-1 .1h0m.7 0h0m.8 0h0m-1.3 .1h0m-.7 .1h0m-2 0h0m2.4 .1h0m1 0h0m-1.6 0h0m-.4 0h0m-.8 0h0m2.2 0h0m.4 0h0m-2.9 0h0m.5 .1h0m3.3 .1h0m-2 0h0m-1.9 0h0m1.3 0h0m2.4 0h0m-3.3 .1h0m-.5 .1h0m4.9 .1h0m-1.3 0h0m-1 0h0m-2.8 0h0m2.9 .1h0m2.1 0h0m-3.4 0h0m-2 .1h0m4.3 0h0m.8 0h0m-3.8 0h0m4.1 0h0m.3 .1h0m-1.9 0h0m-.1 0h0m1.2 0h0m-.2 0h0m-2 .1h0m1.7 0h0m-1.3 .1h0m.9 0h0m.9 0h0m.1 0h0m-2.2 0h0m3 .1h0m-2.3 0h0m-1.4 0h0m-1.1 0h0m2.4 .1h0m-1.4 0h0m1.6 .1h0m.7 .1h0m0 0h0m-.6 .1h0m-2.7 0h0m.4 0h0m-.8 0h0m2.4 0h0m-.4 .1h0m.2 .1h0m0 0h0m.7 0h0m-1.4 0h0m2.5 0h0m-1.3 0h0m1.8 .1h0m-.5 0h0m-1.8 0h0m-1.4 0h0m2.3 .1h0m1.7 0h0m-.2 0h0m.2 0h0m-.9 .1h0m-1 .1h0m-3.2 0h0m-.2 0h0m2.3 0h0m.3 0h0m1 .1h0m-.3 0h0m-.5 0h0m1.5 .1h0m-1.9 0h0m.7 .1h0m2.4 0h0m-5.5 0h0m5.3 0h0m-2.7 0h0m-.3 0h0m1.8 0h0m.2 0h0m-1.3 0h0m-1.6 0h0m2.4 .1h0m-.3 0h0m1.6 0h0m-2.8 0h0m.6 0h0m2.1 .1h0m-2.7 0h0m2.1 0h0m1.3 0h0m-5.4 0h0m1.9 .1h0m2.6 0h0m-.7 .1h0m-3.4 0h0m-.7 0h0m5.6 0h0m-1 0h0m-3.5 0h0m4.2 0h0m-3.8 0h0m3.7 .1h0m-4.7 0h0m5 0h0m-3.3 .1h0m-2.4 0h0m4.6 0h0m-2.6 0h0m2.2 0h0m-.5 .1h0m-1.4 0h0m1.7 0h0m-2 .1h0m2.5 0h0m-2.4 0h0m-.1 0h0m-.3 .1h0m4 0h0m-4.2 0h0m1.6 0h0m1.5 .1h0m-.5 0h0m-2.5 0h0m0 .1h0m.2 0h0m-.4 0h0m3.6 .1h0m-3 0h0m1.4 0h0m1.3 0h0m-2.8 0h0m-1.3 0h0m3.8 0h0m-2.7 .2h0m-1.5 0h0m3.5 0h0m-.7 .1h0m1.5 0h0m-3.6 0h0m2.6 0h0m-.2 .1h0m-2.9 0h0m5.4 0h0m-.6 .1h0m-2.4 0h0m.9 0h0m.9 0h0m-.7 0h0m-3.3 .1h0m2.5 0h0m-.8 .1h0m-1.3 0h0m2.9 0h0m.6 .1h0m.3 0h0m.9 0h0m-1.4 0h0m.8 0h0m-4.2 0h0m3.9 .1h0m-.7 0h0m.8 0h0m-3.3 .1h0m.5 0h0m1.1 0h0m2.1 0h0m-3.5 0h0m-1.6 .1h0m3.8 0h0m-2.4 0h0m2.6 0h0m-3.2 0h0m-.3 .1h0m5 0h0m-3 0h0m-1.3 0h0m3.5 0h0m-1 0h0m.7 0h0m-2.2 0h0m-1.1 .1h0m3.9 0h0m-5 0h0m5 0h0m-5.1 0h0m3.2 .1h0m1.9 0h0m-3.5 0h0m2.4 .1h0m-3.2 .1h0m.2 0h0m4.1 0h0m-4.8 0h0m3.7 0h0m-1.3 .1h0m.5 0h0m-.1 0h0m-.8 0h0m-.8 0h0m1.3 .1h0m2.9 0h0m-2.2 0h0m.8 .1h0m-2.6 0h0m2.5 0h0m.8 0h0m-1.2 0h0m-.3 0h0m0 0h0m-2 0h0m2.7 .1h0m-4 0h0m2.9 0h0m-2.5 0h0m3.1 .1h0m-3.6 0h0m2.6 0h0m.8 .1h0m-.8 0h0m-.2 0h0m2.8 0h0m0 .1h0m-2.7 0h0m-.5 0h0m0 0h0m-1.2 .1h0m.9 0h0m-.2 0h0m1.8 .1h0m-3.5 0h0m4.8 0h0m-3.3 0h0m.3 .1h0m3.2 0h0m.1 0h0m-4.6 .1h0m.4 0h0m1 0h0m-1.4 .1h0m4 0h0m-2.4 0h0m-2.1 0h0m2.9 .1h0m2.8 0h0m-4.5 0h0m3.4 0h0m-2.4 0h0m2 0h0m-.1 .1h0m-2.1 0h0m-1.3 0h0m.2 0h0m4.3 0h0m-1.8 0h0m.6 0h0m-3.1 .1h0m4.1 0h0m-1.2 0h0m.2 0h0m-1 0h0m-.4 .1h0m1.1 0h0m2.1 0h0m-2.6 0h0m-2.1 0h0m.4 .1h0m3.2 0h0m-1.9 0h0m-.3 .1h0m1 0h0m2.4 0h0m-3.5 0h0m-1.1 .1h0m1 .1h0m2.8 .1h0m-5.1 0h0m2.3 .1h0m1 0h0m.5 0h0m-.9 0h0m-1.9 0h0m-.6 0h0m3.2 0h0m.7 .2h0m.2 0h0m-2.2 .1h0m-.1 0h0m-1.7 0h0m.5 .1h0m-.4 0h0m1.9 0h0m3.1 .1h0m-3.5 0h0m.1 0h0m-.4 0h0m-1.4 0h0m.6 .1h0m1.2 0h0m-1.4 .1h0m3.5 0h0m-2 .1h0m.6 0h0m.1 0h0m1.6 0h0m1.1 0h0m-2.6 0h0m-2.7 .1h0m2.5 .1h0m2.4 0h0m-5.3 0h0m.1 0h0m2.1 0h0m-.6 .1h0m-.1 0h0m1.7 .1h0m.3 0h0m-1 0h0m-1.5 .1h0m-1 0h0m3.6 0h0m-3 0h0m2 0h0m.9 0h0m-3 0h0m.9 .1h0m1.3 .1h0m-1.2 0h0m.7 0h0m.3 0h0m-.5 0h0m3.8 .1h0m-2.1 0h0m1 .1h0m.7 0h0m-3.5 0h0m-.2 .1h0m.8 0h0m-1.5 0h0m4.5 .1h0m-.8 0h0m-1.3 .1h0m1.6 0h0m-4.4 0h0m3.5 0h0m1.2 0h0m-4.5 .1h0m.7 0h0m3.1 0h0m.5 0h0m-1.7 0h0m-1 .1h0m-1.8 0h0m-.1 .1h0m1.6 0h0m1.4 0h0m1.2 .1h0m1.1 0h0m-3.7 .1h0m.6 0h0m-1.7 0h0m1 0h0m.6 0h0m1.9 .1h0m.9 0h0m-2.6 .1h0m.7 0h0m.9 0h0m-2.7 0h0m1.9 .1h0m1.6 .1h0m.6 0h0m0 0h0m-2.8 .1h0m-.8 0h0m1.8 0h0m-2.9 0h0m1.9 .1h0m-1.3 .1h0m.9 .2h0m.2 0h0m1.7 .1h0m1.1 0h0m-1.8 .2h0m.5 .1h0m.1 .1h0m-2.9 0h0m3.8 0h0m-3.9 .1h0m2.2 0h0m-.4 0h0m-1.7 0h0m3.8 .1h0m-.8 0h0m1.1 0h0m-4.8 0h0m3.1 .1h0m-3.5 0h0m3.7 0h0m.2 .1h0m.4 0h0m-4.7 .1h0m-.1 0h0m4.1 .1h0m-1.5 0h0m.2 .1h0m2.5 0h0m-2 0h0m1.5 0h0m-2.7 .1h0m.7 0h0m2.9 .1h0m-2.5 0h0m-.2 .1h0m.3 .1h0m2.4 0h0m-2.2 .1h0m1.6 0h0m.5 0h0m-4.6 .1h0m2.9 0h0m.9 0h0m.7 .1h0m-.2 .1h0m-4 0h0m4 0h0m-5 .1h0m.6 0h0m1 0h0m1.2 .1h0m1.4 0h0m-1 .1h0m-2.4 0h0m.8 0h0m-1.2 .1h0m2.1 .2h0m2.3 .1h0m-1.1 0h0m1.7 0h0m-3.3 .1h0m.9 0h0m-1.4 .2h0m0 .3h0m2.1 .1h0m.6 0h0m-.3 0h0m-3 .1h0m-1 .2h0m4.1 .1h0m-.1 .1h0m-1.2 0h0m2.3 .1h0m-3.5 0h0m-.4 .1h0m-1.2 0h0m2.9 0h0m-1 .1h0m-.8 0h0m3.6 .1h0m-1.6 .1h0m-1.7 .1h0m1.8 .1h0m.7 0h0m-4 0h0m2 0h0m3.6 .1h0m-.8 0h0m-.7 .2h0m1.2 .2h0m-2.6 .3h0m2.9 0h0m-.3 0h0m-3.9 .2h0m4.4 0h0m-4.3 .1h0m3.5 .1h0m-1 .1h0m-3.7 0h0m4.8 .1h0m.5 .1h0m-2.9 .1h0m.2 0h0m-2.2 0h0m4.5 0h0m-3.4 .2h0m0 .1h0m3.5 0h0m-1.4 .1h0m-.2 .1h0m1.2 0h0m-3.6 .3h0m3.5 .2h0m-2 0h0m-.1 0h0m.8 .2h0m-.6 .6h0m-2.6 0h0m5.5 .3h0m-2.4 .2h0m0 .2h0m-1.5 .3h0m1.3 0h0m.3 .1h0m-2.5 0h0m-.7 .4h0m1.4 .1h0m2.5 0h0m.6 .5h0m-2.8 0h0m-1.7 .1h0m.3 .1h0m4.9 .7h0m.1 .3h0m-1.4 .2h0m.9 .3h0m-.1 1h0m-1.6 4.1h0m5.1 -88h0m-2.2 .8h0m.3 1.1h0m1.5 1h0m-.3 1.2h0m1.8 .4h0m.7 1h0m-1.5 .6h0m-2.2 3.9h0m.6 1h0m0 1.2h0m.5 .4h0m-1.8 .2h0m.6 .4h0m.2 4.6h0m2.1 1.3h0m1.2 2.6h0m.1 1.5h0m-.2 .6h0m1.2 .5h0m-4 1.9h0m.5 1.4h0m2.6 .8h0m.2 1.4h0m-3.2 .5h0m4.1 1.2h0m-4.9 2.5h0m2.2 .3h0m-.2 .8h0m-2.5 1h0m4.3 1.4h0m-4.2 .8h0m5.3 1.5h0m-.6 1.9h0m-1.8 1h0m-2.3 .2h0m-.5 0h0m.5 .1h0m3.7 1.1h0m-1.2 .8h0m1.6 .3h0m-1.8 .4h0m1.8 .1h0m-.5 .3h0m-.2 .9h0m-3.9 .2h0m.8 .1h0m.2 .3h0m.2 .3h0m4.3 .2h0m-4.3 .2h0m2.3 .2h0m-2.9 .6h0m5.1 .3h0m-.6 .2h0m-4.5 .3h0m.1 0h0m-.8 .1h0m3.3 .4h0m-3.1 .1h0m4 .1h0m-2.5 0h0m0 0h0m-.6 .1h0m.1 .1h0m.3 .1h0m3.1 0h0m-.2 .1h0m-3.2 .3h0m1.9 .1h0m2.2 0h0m-2.5 0h0m.3 .1h0m.1 .5h0m-2.3 .1h0m-.4 0h0m1.3 0h0m1.3 .4h0m-.4 .2h0m.9 .1h0m1.6 .1h0m-3.2 .2h0m1.9 0h0m-2.7 0h0m3.1 .1h0m-1.4 .1h0m-.3 0h0m1.6 .1h0m-3.7 .1h0m4.7 0h0m-5.1 .1h0m4.9 .1h0m-1.4 .1h0m0 0h0m-1.9 .1h0m2.2 .1h0m.5 .1h0m-1.7 .2h0m-.3 0h0m-2.4 .1h0m1 0h0m1.3 0h0m2.4 0h0m.7 .1h0m-1.1 0h0m1 .2h0m-3.8 0h0m-1.5 0h0m3.7 .1h0m-1.4 0h0m.5 .1h0m-1.9 0h0m3.2 0h0m-4 .2h0m2.2 0h0m2.6 .2h0m-4.2 0h0m2.2 0h0m2.4 0h0m-4.8 0h0m.6 .1h0m1.4 .1h0m0 .1h0m-.1 0h0m-1.3 0h0m.5 0h0m4 .1h0m-5.6 0h0m1.2 .1h0m2.4 0h0m1.5 .2h0m-.4 0h0m-3.5 0h0m-.6 .1h0m-.4 0h0m3.5 0h0m-1.3 .1h0m-.9 .2h0m-.6 .1h0m4.8 .1h0m-.1 .1h0m-5.2 .1h0m1.3 .1h0m-.9 0h0m2.4 .1h0m2.6 .1h0m-5.2 0h0m4.9 0h0m-4.7 0h0m2.2 .1h0m2.2 0h0m.6 0h0m-2.1 0h0m-1.6 .1h0m.1 0h0m-.7 0h0m1.6 0h0m-1.2 .1h0m-1.5 0h0m2.2 0h0m1.2 .1h0m-1.6 .1h0m-.5 0h0m-1.7 0h0m5.7 0h0m-.5 0h0m-2.1 0h0m.5 0h0m-2.3 .1h0m.6 0h0m1.4 0h0m-1.1 0h0m-1.1 0h0m4.6 .2h0m-5.8 0h0m.4 .1h0m1.5 .1h0m-1.6 0h0m.9 0h0m.8 .2h0m3.4 0h0m-1.1 .1h0m1.3 0h0m-3.6 .1h0m-1.8 0h0m4.9 0h0m-1.8 .1h0m-2.3 0h0m4.1 .1h0m-3.5 0h0m-1.5 0h0m-.1 0h0m3.7 .1h0m-1.8 0h0m-1.5 0h0m3.8 .1h0m.1 0h0m-1.9 0h0m.9 0h0m1.1 .1h0m.8 0h0m-1.4 0h0m-3.8 .1h0m3.5 0h0m-2.5 0h0m.5 .1h0m3.9 0h0m-5.3 0h0m1.7 0h0m-.1 0h0m3.2 0h0m-.3 .2h0m-2.6 0h0m2 0h0m-3.5 0h0m.2 .1h0m2.1 0h0m2.9 0h0m-4.5 0h0m3.6 .1h0m-2 0h0m1.9 0h0m-4 .1h0m-.3 0h0m5.3 0h0m-4.7 0h0m1 0h0m2.2 .1h0m-1.1 0h0m-2.3 .1h0m4 0h0m-4.4 0h0m.7 .1h0m-.6 0h0m2.5 .1h0m-1 0h0m.9 0h0m1 .1h0m-1.8 0h0m2.7 .1h0m-2.6 .1h0m1.5 0h0m1.5 0h0m-4.2 .1h0m3.2 0h0m.8 0h0m-2.3 0h0m.8 0h0m-2.6 0h0m.8 0h0m.8 .1h0m-1.5 0h0m1.1 .1h0m1.9 0h0m0 0h0m-2.2 0h0m.5 .1h0m2.1 0h0m1.4 0h0m-4.3 .1h0m3.3 0h0m-3.4 0h0m2.3 0h0m-.8 .1h0m2 .2h0m-1.4 .1h0m1.7 0h0m-3 0h0m3.2 0h0m-2.7 0h0m2.5 0h0m-1.4 .1h0m1.7 0h0m-3 0h0m.5 0h0m-2.9 .1h0m1.6 .1h0m3.1 0h0m-1.3 0h0m1.2 0h0m1.1 0h0m-5.1 .1h0m.4 0h0m1.2 0h0m1.2 .2h0m-1 0h0m1 .1h0m-3.1 0h0m4 .1h0m-1.5 0h0m-1.8 0h0m2.5 0h0m2.2 .1h0m-1 0h0m-2 0h0m1.2 0h0m-.5 0h0m2.1 .1h0m-3.5 0h0m.9 0h0m-2.4 .1h0m2.2 0h0m-1.9 .1h0m5 0h0m-5 0h0m0 0h0m-.3 0h0m1.7 0h0m-.4 0h0m2.3 .1h0m-.1 0h0m-3.3 0h0m-.2 0h0m2.7 0h0m-1.7 0h0m2.8 0h0m-2 0h0m-.4 .1h0m.5 0h0m2.4 0h0m-3 0h0m3.7 0h0m-.3 .1h0m0 0h0m-3.7 0h0m4 0h0m-5.4 .1h0m1.6 0h0m2.9 0h0m-.5 0h0m-3.2 0h0m1.9 .1h0m2.8 0h0m-4.3 0h0m.9 .1h0m1.2 .1h0m-2.8 0h0m2.8 .1h0m-.2 .1h0m.7 0h0m.9 0h0m.8 0h0m-1.8 0h0m-.3 0h0m-3.3 .1h0m2.7 0h0m1.1 0h0m1 0h0m-3.8 0h0m3.6 0h0m-4.8 0h0m2.9 .1h0m.1 0h0m1.2 0h0m.6 0h0m-4.4 0h0m3.2 .1h0m-1.8 0h0m-.4 0h0m.7 .1h0m3.1 0h0m-1.9 0h0m1.2 0h0m-1.7 .1h0m.8 0h0m.8 0h0m-3.8 0h0m3.1 0h0m1.5 0h0m-1.9 .1h0m2.3 0h0m-1.6 0h0m-3.4 .1h0m1.6 0h0m3 0h0m-4 .1h0m.1 0h0m2.2 0h0m-3.4 0h0m5.1 .1h0m-4.7 0h0m2.7 0h0m-1.6 0h0m-1.4 0h0m2.2 .1h0m-1.1 0h0m1.2 .1h0m1.9 0h0m1.1 0h0m-1.4 .2h0m1.1 0h0m-3.3 0h0m2.8 0h0m-1.6 0h0m.4 0h0m-.1 0h0m-1.9 .1h0m.7 .1h0m-.2 0h0m-.9 .1h0m3.8 .1h0m-4 0h0m3.4 .1h0m-2.3 0h0m3 .1h0m-.9 0h0m-3.2 0h0m1.1 0h0m.1 0h0m3.3 0h0m-4 .1h0m0 0h0m1.9 .1h0m.1 0h0m.3 0h0m1.1 0h0m-4.4 0h0m.3 0h0m4.7 0h0m-2.3 .1h0m2.5 0h0m-2.1 0h0m-1.2 .1h0m1 .1h0m-1.7 0h0m3.2 0h0m.1 0h0m-2.3 0h0m-1.9 .1h0m3 0h0m-.5 0h0m-2.4 0h0m1.1 .1h0m.8 0h0m1.3 0h0m-.9 .1h0m2.6 0h0m-4.3 0h0m2.7 0h0m-3.8 0h0m2.4 0h0m1.2 .1h0m.1 0h0m-1.5 0h0m2.9 0h0m-1.2 .1h0m-2.8 0h0m-.3 .1h0m1.9 0h0m-.1 0h0m-.5 0h0m-2.5 0h0m1.3 0h0m1.8 0h0m-2.6 .1h0m.5 0h0m1.5 0h0m3.2 0h0m-4.9 0h0m1.7 0h0m1.9 0h0m-3.5 0h0m2.9 .1h0m-3.8 0h0m.9 0h0m4.2 0h0m-.2 .1h0m-2 0h0m-2.5 0h0m4.3 .1h0m-2 0h0m2.4 0h0m-2.3 0h0m1.3 0h0m-4.2 .1h0m1.6 0h0m-1.6 0h0m1.1 0h0m2.9 0h0m-2.2 .1h0m1.4 .1h0m2.4 0h0m-3 .1h0m2.1 0h0m.7 0h0m-5.1 0h0m0 .1h0m1.8 0h0m-1.1 0h0m4.9 0h0m-4.9 .1h0m2.7 0h0m1.9 0h0m-3.6 .1h0m3 0h0m-2.1 0h0m2 .1h0m.8 0h0m-2.8 0h0m1.6 .1h0m.9 0h0m-3.9 0h0m3 0h0m-.9 0h0m.2 .1h0m-3.8 0h0m2.5 .1h0m-1.2 0h0m-.8 0h0m3.6 0h0m1.1 .1h0m-2.3 0h0m1.6 0h0m.4 0h0m-1 0h0m-3.7 0h0m4.8 .1h0m-3.6 0h0m-1 0h0m3.6 .1h0m-1.9 0h0m1.7 0h0m.7 0h0m-3 0h0m0 .1h0m-.6 .1h0m-.6 0h0m3 0h0m.8 0h0m-2.8 0h0m.3 .1h0m2.2 0h0m-2 .1h0m3.7 .1h0m-1.3 0h0m-.6 0h0m-1.4 0h0m-1.6 .1h0m5.3 0h0m-4.1 0h0m1.6 0h0m2 .2h0m-4.5 0h0m-.4 0h0m.4 0h0m-.1 0h0m3.4 0h0m-2.6 0h0m1.1 .1h0m.3 0h0m-2.1 0h0m1.8 0h0m-1.4 .1h0m-.9 0h0m1.9 0h0m-1.3 0h0m1.5 .1h0m.8 0h0m1.8 0h0m-4.2 0h0m3.8 0h0m-4.3 0h0m3.4 0h0m-2.4 .1h0m-.1 .1h0m4.6 0h0m-2.5 0h0m-1.2 0h0m1.1 0h0m-.7 .1h0m-1.1 .1h0m-.1 0h0m4.4 0h0m-5.1 0h0m4.9 0h0m-3.8 .1h0m1.7 0h0m-3 0h0m-.2 0h0m1.5 0h0m3.8 0h0m-1.8 0h0m-1.2 0h0m2.5 0h0m-1.4 0h0m.4 .1h0m-1.9 0h0m-1.3 0h0m.9 0h0m1.2 .1h0m.6 0h0m-2.5 .1h0m.7 0h0m2 .1h0m-2.2 .1h0m2.9 0h0m-.1 0h0m1.6 0h0m-5.5 0h0m-.1 0h0m1 .1h0m1.6 0h0m-2.5 0h0m1.7 0h0m-1.2 0h0m.2 .1h0m-1 0h0m2.4 0h0m-.7 .1h0m1.1 0h0m-2.6 .1h0m.5 0h0m2.6 0h0m1.9 0h0m-.8 .2h0m-.6 .1h0m.9 0h0m-2.7 0h0m3.3 0h0m-5.4 0h0m5.5 0h0m.3 0h0m-3.7 .1h0m2.2 0h0m.5 0h0m-.6 .2h0m-3.8 0h0m4.2 0h0m-2.1 .1h0m1.3 .1h0m2 .1h0m-5.2 0h0m4.6 0h0m-5.2 0h0m0 0h0m.7 0h0m5 0h0m-3.1 .1h0m.2 0h0m-.5 0h0m2.8 .1h0m-2.7 0h0m-1.9 0h0m4.1 0h0m-1.2 .1h0m-3.3 0h0m2.6 .1h0m1 .1h0m-1.5 0h0m3.5 0h0m-2.1 .1h0m-.6 0h0m1 .1h0m1.7 .1h0m-1.5 .1h0m1.7 .1h0m-4.3 0h0m1.4 .2h0m2.2 .1h0m-4.1 0h0m-.7 .1h0m.2 0h0m2.9 0h0m.1 .2h0m1.4 0h0m-4.6 .1h0m4.5 0h0m-2 .1h0m-2.1 0h0m-.8 .1h0m3.3 0h0m-.7 .1h0m-2.6 0h0m5.9 .1h0m-3.4 0h0m1.1 0h0m.5 .1h0m1.6 0h0m-5.4 .1h0m.2 0h0m-.4 0h0m2.8 0h0m1.4 .1h0m-1.3 0h0m.4 0h0m1.4 0h0m.9 0h0m-.9 .1h0m-.5 0h0m-1.6 0h0m-1.1 0h0m-1.1 .1h0m3.1 .1h0m.2 .1h0m.9 0h0m-4.6 0h0m1.2 .3h0m4.5 0h0m-2 .1h0m-1.9 .1h0m1 .1h0m-.6 .1h0m-2.1 0h0m1.7 0h0m3.8 0h0m-2.5 .1h0m-1.2 .1h0m3.8 0h0m-.8 .1h0m-4.6 0h0m3.8 .1h0m-.9 .1h0m2.3 0h0m-5 0h0m3.6 .1h0m-.2 .2h0m.1 .1h0m.6 0h0m-.1 .1h0m-4.5 .2h0m1 .2h0m.9 .1h0m-1.7 0h0m1.3 .1h0m3 .1h0m-4.4 .1h0m4.8 .1h0m.4 .1h0m-1.1 0h0m.6 .6h0m-1.2 0h0m-2.3 .1h0m4.5 .1h0m-5.3 0h0m2.1 .2h0m-.3 .1h0m-1.3 .1h0m1.1 .1h0m.4 .1h0m-.8 .2h0m1.2 .2h0m-.4 .3h0m-2.3 .1h0m.1 .1h0m3.1 .3h0m1.6 .1h0m-3.4 0h0m.6 0h0m-1 .2h0m4.3 .1h0m-3.3 .7h0m1.3 0h0m-3.4 .1h0m1 .1h0m1.3 .1h0m.2 .2h0m-2.7 0h0m4.3 .1h0m-3.9 .2h0m.6 .1h0m1.4 .1h0m-2.1 .3h0m1.8 0h0m-.6 .9h0m1.9 .1h0m-1.7 .1h0m3.8 3.2h0m-.2 2.6h0m-1.7 2.9h0m4.1 -94h0m.1 5.7h0m-.1 2.4h0m3.6 .5h0m.4 .4h0m-1.1 1.9h0m-1.2 1.2h0m.4 .7h0m-3.4 1.7h0m4.6 .9h0m-2.1 1.8h0m2 1.1h0m0 1.9h0m.1 1.2h0m-3.2 .3h0m1.7 .4h0m-3 .1h0m.6 3.9h0m2.3 .2h0m-.5 .1h0m-.5 6.3h0m0 .8h0m2.4 0h0m-1.2 .6h0m-2.1 .8h0m.5 1.3h0m3.1 1.4h0m-2.9 1.7h0m3.7 1.4h0m-.1 .7h0m-1.9 .3h0m.5 0h0m-.4 4h0m1.1 .1h0m-2.6 1.6h0m-2.1 .3h0m2.5 .1h0m-.8 1.1h0m-1 .2h0m.9 .5h0m3.1 .3h0m-3 .3h0m-.1 .3h0m1.2 .1h0m0 0h0m-.3 .3h0m2.1 .3h0m-1.6 .3h0m1.8 .3h0m-.8 .2h0m-2 .2h0m2.6 .2h0m-2.5 .3h0m1.1 .2h0m-3.3 .1h0m2.8 .3h0m.7 .1h0m.9 .1h0m-2.6 .1h0m1.5 .1h0m-2.3 .1h0m.4 0h0m3.5 0h0m-2 .1h0m-2.2 .2h0m4.2 0h0m-4.8 .2h0m1.4 0h0m1.3 .1h0m1.4 .1h0m-.4 0h0m-.2 .1h0m-3.8 .1h0m4.6 0h0m.5 0h0m-4.5 .3h0m-.1 .4h0m4.1 .1h0m-4.6 0h0m.1 .1h0m-.1 0h0m2.7 0h0m-.6 .1h0m.4 0h0m-2.5 0h0m4.2 .1h0m1.2 .1h0m-2.8 .2h0m-.6 0h0m1.1 .2h0m-1.7 .2h0m3.4 0h0m-1.8 .2h0m-1.3 .1h0m.9 0h0m.3 .1h0m2.6 .4h0m-3.7 0h0m-1.8 0h0m3.5 0h0m.6 .1h0m-3.4 .1h0m4.7 .2h0m-3.2 0h0m.9 .2h0m-.4 .2h0m-.6 .3h0m.9 0h0m-.6 .1h0m-1.2 .1h0m2.2 0h0m-.2 .1h0m2.5 0h0m-5.1 0h0m-.3 .2h0m2.1 0h0m-.6 0h0m-1.8 0h0m1 0h0m.5 .1h0m1.1 0h0m.4 0h0m1.3 0h0m-4.4 .2h0m4.7 0h0m-4.1 0h0m-.5 .1h0m2.3 .1h0m-1 0h0m.6 0h0m2.3 0h0m-2.4 .1h0m1.4 0h0m-2.4 .1h0m4.6 0h0m-3.9 .1h0m1.1 0h0m-.2 .2h0m-1.9 .1h0m1.3 0h0m1.5 0h0m-1.3 .1h0m-1.7 0h0m4.4 0h0m.7 0h0m-3.4 .1h0m2.8 0h0m.3 .1h0m.6 0h0m-.2 .2h0m-1.9 .1h0m-.2 0h0m.5 0h0m-3.2 0h0m2.9 .1h0m1.8 0h0m-4.3 .1h0m4.3 0h0m-1.8 .1h0m-1.5 0h0m1.2 0h0m2.5 0h0m-1 0h0m-4.1 .1h0m-.6 0h0m3.9 .1h0m-3.5 0h0m1.9 .1h0m-.2 0h0m1.5 0h0m-.6 .1h0m-2.9 0h0m5.3 0h0m-1 .1h0m.7 .1h0m-4.6 .1h0m.8 0h0m.2 0h0m2.3 .1h0m.8 .1h0m-2.1 .1h0m-1.5 0h0m2.7 0h0m-.7 .1h0m-.7 0h0m-2.3 .1h0m1.9 0h0m-.9 .1h0m2.9 0h0m-.3 0h0m-2.3 0h0m3.4 .1h0m.5 0h0m-4.2 .1h0m.4 .1h0m4.2 0h0m-3.8 0h0m2.5 .1h0m-.7 .1h0m.8 0h0m.4 0h0m-2.3 .1h0m1.6 0h0m-2.2 0h0m-1.1 0h0m.8 0h0m-.4 0h0m2.9 .1h0m-1.7 0h0m3 0h0m-1.8 .1h0m1.6 0h0m-1.4 0h0m1.4 0h0m-4.7 0h0m1.9 .1h0m2.1 0h0m-1.8 0h0m2.2 0h0m-4.1 0h0m.2 .1h0m1 0h0m.1 .1h0m.1 .1h0m.7 0h0m-2.3 0h0m4 0h0m-4.5 0h0m3.8 .1h0m-.8 0h0m-2.6 0h0m.3 0h0m.6 0h0m1.7 0h0m-1.4 .1h0m-1.1 0h0m0 0h0m3.6 .1h0m-1.7 0h0m.6 0h0m2.5 0h0m0 0h0m-2.7 .1h0m-.5 0h0m2.2 0h0m-.2 0h0m-4.2 .1h0m.9 .1h0m3.7 .1h0m-3.7 0h0m-1 0h0m4.3 0h0m-4.5 .1h0m5.3 0h0m-1.9 0h0m1.6 0h0m-1.8 0h0m2.4 .1h0m-.5 0h0m-1.8 0h0m2.3 .1h0m-4.3 0h0m4.1 0h0m-.7 .1h0m-3.1 .1h0m2.4 0h0m-1 0h0m1.7 .1h0m-3.1 0h0m.7 0h0m1 0h0m.7 0h0m-1.5 0h0m1.1 .1h0m-1.3 0h0m.6 .1h0m2.6 .1h0m.1 0h0m-3.4 0h0m1.1 .1h0m1.6 .1h0m-1.6 0h0m-2.5 0h0m.9 0h0m-1.2 0h0m.4 .1h0m-.9 0h0m5.1 0h0m.2 .1h0m-4.5 0h0m2.4 .1h0m-3.2 .1h0m2.1 .1h0m-1.6 0h0m-.4 0h0m5.2 0h0m-2.2 .1h0m1.5 0h0m-2.9 .1h0m-1.4 0h0m3.2 0h0m-2.6 .1h0m4.4 0h0m-2.7 .1h0m.9 0h0m-2.7 .1h0m-.7 0h0m.5 .1h0m3.5 0h0m-.1 .1h0m1.1 0h0m-.8 .1h0m-3 .2h0m3.2 0h0m-2.3 0h0m-1.2 .1h0m.9 0h0m1.7 .1h0m-.4 .1h0m1.9 0h0m-1.4 0h0m-2.2 0h0m-.5 0h0m1.9 0h0m-2.3 .1h0m2.3 0h0m-1 0h0m1.2 0h0m-2 0h0m3.6 0h0m-2.2 .2h0m-1.4 .1h0m-1.1 0h0m4.3 0h0m-.6 .1h0m1.3 0h0m-4 .1h0m3.7 0h0m-1.3 0h0m-.5 0h0m.3 0h0m-1.7 0h0m-1.4 .1h0m1.4 0h0m3 .1h0m.7 0h0m-1.2 0h0m-3.8 .1h0m1.1 0h0m-.3 0h0m.4 0h0m4.3 .1h0m-2.8 0h0m-2.3 0h0m3.4 0h0m-.2 .1h0m-1.2 0h0m-1 .1h0m.1 0h0m1.5 0h0m2.1 0h0m-2.4 .2h0m-.1 0h0m2.7 .1h0m-5.2 0h0m5.3 0h0m-2.1 .1h0m-3 0h0m1.7 0h0m-1.9 0h0m1.6 0h0m-1.6 0h0m2 0h0m3 0h0m-.3 .1h0m.1 .1h0m-3.6 0h0m2.5 0h0m-4 .1h0m-.1 0h0m2.5 0h0m-.2 .1h0m3.1 0h0m-4.4 0h0m2.2 0h0m-.9 0h0m1.5 0h0m1.1 0h0m-.1 .1h0m-4.3 0h0m.4 0h0m3.7 0h0m-2.4 .1h0m-1.6 0h0m4.6 0h0m-4.5 0h0m1.9 .1h0m-1.9 .1h0m-.5 0h0m1.5 0h0m-1.1 .1h0m-.2 0h0m3.3 0h0m-.8 0h0m-1.7 .2h0m.6 0h0m.3 0h0m-.4 .1h0m-.9 0h0m4.2 .1h0m-1.7 0h0m.2 0h0m-1.5 .2h0m2.5 0h0m-.6 0h0m1.7 0h0m-1.9 .1h0m1.7 0h0m.4 0h0m-4.9 0h0m3.7 .1h0m1 0h0m-1.3 .1h0m0 0h0m-.1 0h0m-4 0h0m.5 0h0m3.9 .1h0m-4.4 0h0m-.2 .1h0m3.7 .2h0m-3.3 0h0m1.7 0h0m2.3 0h0m-3.3 .1h0m-.7 0h0m3.6 0h0m-3.8 0h0m.9 .1h0m4 0h0m.1 0h0m-3.8 0h0m4.2 .1h0m-2.7 0h0m-1.7 .1h0m2.1 0h0m-3.1 .1h0m3.1 0h0m2 .1h0m-3.5 0h0m-1.4 0h0m4.2 0h0m.5 0h0m-1.8 .1h0m2.2 0h0m-1.4 .1h0m-3.6 0h0m3.1 .1h0m-1.3 0h0m3.2 0h0m-2.5 0h0m-2.2 .1h0m2.7 0h0m-3.4 0h0m5.7 0h0m-2 .1h0m-3.9 0h0m3.6 0h0m-.9 0h0m.7 0h0m.8 .1h0m-2.1 0h0m3.6 .1h0m-1.6 .1h0m-1.7 .1h0m1.8 0h0m-2.1 .1h0m.3 0h0m-1.9 0h0m3.7 .1h0m1.6 0h0m-4.2 .1h0m1.8 0h0m.6 .1h0m1.3 0h0m-4.8 0h0m1.2 .1h0m2.4 0h0m.1 0h0m-.6 .2h0m-2.3 0h0m3.5 .1h0m1.1 .1h0m-4.6 0h0m3.9 0h0m-.6 0h0m-2.5 .2h0m2.2 0h0m-2.4 .1h0m3.3 0h0m-.3 0h0m-4.3 0h0m2 0h0m2 .1h0m0 0h0m.7 0h0m.1 0h0m-4.2 .1h0m4.4 0h0m-4.7 .1h0m2.7 0h0m.8 0h0m-2.8 .1h0m1.5 0h0m0 .1h0m.1 .1h0m-1.5 .1h0m1.2 0h0m.7 .1h0m2.4 0h0m-.6 0h0m-2.2 0h0m-.4 0h0m1.2 .2h0m.5 .1h0m-2 0h0m.6 .1h0m-1.9 0h0m4.5 0h0m-3.6 .1h0m-1.6 .1h0m2 .1h0m-.6 0h0m-1.1 0h0m3.1 .2h0m-3.2 0h0m5 .2h0m-1.2 0h0m-2 .1h0m.5 0h0m.1 .1h0m2.8 .1h0m-3.6 0h0m-1.1 0h0m-.9 .3h0m1.1 .1h0m3.3 .1h0m.1 0h0m.2 .1h0m-.1 0h0m-3.5 .1h0m-.3 0h0m2.6 .1h0m-1.3 .1h0m2.8 .1h0m.1 0h0m-1.4 .1h0m-3.2 .1h0m3.3 0h0m-2.8 0h0m.7 0h0m-1.5 .1h0m5.5 .1h0m-4.5 .3h0m3.6 0h0m-2.8 0h0m-.9 .1h0m.5 .1h0m.8 0h0m2.3 .1h0m-.9 0h0m-3.1 .1h0m0 .1h0m2.3 .3h0m2.1 .1h0m-3.9 .1h0m.4 .4h0m.9 0h0m-2.5 .1h0m5.4 .2h0m-3.8 .3h0m0 0h0m.1 .3h0m.4 0h0m-.6 .2h0m1.8 0h0m-3.3 0h0m3.1 .2h0m-.9 0h0m-.9 .1h0m-1 .1h0m.7 .1h0m-.2 .3h0m-.6 0h0m5.1 .3h0m-4.4 .2h0m4.8 0h0m-2.6 0h0m-1.9 .3h0m4.5 .1h0m-4.7 0h0m1.5 .5h0m3.2 .1h0m-4.2 0h0m2.2 .2h0m-.6 .3h0m-.3 .4h0m-2.8 .1h0m0 0h0m1 0h0m1.3 .1h0m1.5 0h0m.2 .2h0m-1.5 .3h0m1.5 .7h0m.4 0h0m-3.6 .8h0m3.6 .1h0m-.1 1.2h0m-3.5 4.3h0m10.4 -88.1h0m-5.4 2h0m3.2 2.4h0m2.3 5h0m-4 2.7h0m-1 8.8h0m4.7 3.9h0m-.9 8.4h0m1.4 1.3h0m-4.1 1.6h0m4 1.6h0m-4.8 .4h0m.6 .1h0m4.1 .1h0m-3.1 .4h0m3 .8h0m.2 .8h0m-.9 .1h0m1.3 2.5h0m-1.9 .5h0m-2.3 2.5h0m-.5 .1h0m1.3 .5h0m-1.6 .4h0m3.5 .4h0m.9 .8h0m-3.3 0h0m-1.7 .2h0m2.2 .1h0m-.5 0h0m1.2 .5h0m-2.5 0h0m-.4 .7h0m4.1 0h0m-4.3 .4h0m3.3 .2h0m-1.3 0h0m-2 .3h0m2.9 0h0m1.5 0h0m.9 0h0m-3.1 .2h0m2.4 .2h0m-1.7 .2h0m-2.5 0h0m-.1 .1h0m2 .2h0m2.9 0h0m-4.9 .2h0m4.5 0h0m-.3 .1h0m.7 0h0m-4.8 .2h0m3.2 0h0m-3.6 .1h0m1.8 0h0m-1.1 0h0m.8 .1h0m-.1 .2h0m-.8 0h0m3.6 .3h0m-2.5 0h0m3.3 .3h0m-5.2 0h0m5.1 .2h0m.7 0h0m-2.3 .1h0m-3.4 .1h0m2.2 .1h0m1.3 .1h0m-3.5 0h0m3.9 .1h0m1.4 .1h0m.3 0h0m-2.7 .4h0m-1.2 .1h0m.6 0h0m2.5 .2h0m-1.6 .1h0m-2.4 .1h0m4.3 0h0m-1.6 0h0m-3.2 0h0m3.1 .1h0m-2.8 .1h0m.8 0h0m.4 0h0m-.3 .1h0m1.7 .1h0m0 .1h0m-1 .1h0m-2.3 .1h0m1.4 0h0m-1.1 0h0m1.8 .1h0m-.7 .1h0m3.3 0h0m1 0h0m-4.8 .2h0m2.2 0h0m.3 0h0m-2.3 0h0m-.5 .1h0m2.1 0h0m-.8 0h0m3.4 .1h0m-3.9 0h0m1.9 .2h0m-1.5 0h0m-.9 0h0m-.1 0h0m3.6 .1h0m-2.9 .1h0m3.7 0h0m-4.1 .1h0m-.9 0h0m.7 .2h0m-.7 0h0m4.1 .1h0m-1.8 0h0m1.5 .1h0m-2.9 0h0m-.2 0h0m2.2 0h0m.1 .2h0m2.2 0h0m-4 0h0m2.3 .1h0m-1.7 0h0m-1.6 0h0m5.3 0h0m-2.5 .1h0m.8 .1h0m-3.1 0h0m4.2 0h0m-.5 0h0m1.3 0h0m-.5 0h0m-4.2 .1h0m3.7 .1h0m-4.4 .1h0m.8 0h0m2 0h0m-1.7 .1h0m.1 .1h0m2.8 0h0m-3 .1h0m.5 0h0m1.7 .1h0m-3.5 0h0m1.6 0h0m-.3 0h0m2 0h0m-1.4 .1h0m-2 .1h0m.2 .1h0m.1 0h0m.6 0h0m.6 0h0m-.4 0h0m3.9 .1h0m-1 .1h0m-2.1 0h0m2.8 .1h0m-1.9 0h0m1 0h0m2 0h0m-3.9 0h0m-1.3 .1h0m.7 0h0m3.9 0h0m-3 0h0m-.6 .1h0m4 0h0m-.6 0h0m-4.6 0h0m4.3 0h0m-2 .1h0m2 0h0m.3 .2h0m.8 0h0m.1 .1h0m-2.7 0h0m-2.3 0h0m.8 .1h0m2.5 0h0m.5 0h0m-3.6 .1h0m-.5 0h0m-.3 0h0m.7 .1h0m2.9 0h0m-.8 0h0m-2.7 .1h0m5 0h0m-3 .1h0m.7 0h0m-1 0h0m2 0h0m-2.9 .1h0m.3 .1h0m.2 0h0m-1.5 .1h0m2.8 .1h0m-2.6 0h0m3.2 .1h0m-.2 0h0m-1.9 0h0m1.5 0h0m-.9 0h0m3.7 0h0m-1.6 .1h0m-1.3 0h0m-.2 .1h0m3 0h0m.1 0h0m-1.8 0h0m-.1 0h0m-2.7 .1h0m.9 0h0m-1.1 .1h0m1.9 0h0m2.5 0h0m-5.1 0h0m.8 .2h0m.7 0h0m.2 .1h0m-.7 0h0m0 0h0m-1 0h0m2.3 0h0m-2.6 0h0m3.2 0h0m.2 .1h0m2.5 0h0m-4.4 .2h0m2.5 0h0m-2.7 .2h0m2.9 0h0m-.4 0h0m-3 .1h0m4.2 0h0m.8 .1h0m-1.1 0h0m-2.7 0h0m1.2 0h0m-.3 .1h0m-.7 0h0m3.1 .1h0m.2 0h0m-4.7 0h0m-.3 .1h0m5 0h0m-2.1 .1h0m1.5 0h0m.4 .1h0m-1.1 0h0m-2.6 0h0m3.8 0h0m-1.7 .1h0m-3.1 0h0m2.4 .1h0m-2.7 0h0m1.4 0h0m1.1 0h0m1.8 .1h0m-1.4 .1h0m2.3 0h0m-4.7 0h0m1.1 .1h0m3.9 0h0m-3.4 .1h0m1.1 0h0m-2.6 0h0m3.8 0h0m-3.6 0h0m1.4 0h0m-1.2 .1h0m1.1 0h0m2.6 0h0m-1.1 0h0m1.2 0h0m-1.8 .1h0m-1.9 .1h0m1.2 0h0m1.2 0h0m-2.1 0h0m0 0h0m2.6 .1h0m-1.5 .1h0m-2.3 0h0m.5 0h0m-1 .1h0m.8 0h0m.1 0h0m4.6 .1h0m-1.1 0h0m.9 0h0m-3.5 0h0m1.7 0h0m1.4 0h0m.9 .1h0m-3.5 0h0m-1.3 0h0m2.2 0h0m-1.2 0h0m1 .1h0m-2.1 .1h0m1.5 0h0m3.2 .1h0m-.3 0h0m-.6 0h0m.5 0h0m-.6 .1h0m-1.5 0h0m.6 .1h0m-3.7 .1h0m.1 0h0m5.5 0h0m-3.8 0h0m3.9 .1h0m-5 0h0m5.1 .1h0m-3.8 0h0m-.4 .1h0m.6 .1h0m-1.6 .1h0m-.1 0h0m-.3 0h0m5.6 .1h0m-4.7 0h0m.2 0h0m.6 .1h0m0 0h0m.3 0h0m2.7 0h0m-.1 .1h0m-2.8 0h0m2.2 0h0m-1.5 .1h0m1 0h0m-1.7 0h0m1.4 .1h0m-2.2 0h0m3.6 0h0m-1.1 0h0m1.5 0h0m-1.9 0h0m0 0h0m-1.4 .1h0m.5 .1h0m-.5 0h0m1.6 0h0m2.2 .1h0m-5.1 0h0m.1 0h0m3 0h0m.8 .1h0m.6 0h0m-4.7 0h0m4.9 0h0m-3.9 .2h0m3.6 0h0m-3.7 0h0m3.1 .1h0m-1.5 0h0m.7 0h0m-2 .1h0m-.5 .3h0m-.6 0h0m4.9 0h0m-.5 .1h0m.5 .1h0m.5 0h0m-2.5 .1h0m-.9 0h0m-2.3 0h0m-.2 0h0m5.2 .1h0m-2.1 0h0m0 0h0m2.3 0h0m.2 .1h0m-.2 0h0m-.6 0h0m-.1 .1h0m.4 0h0m-.5 .1h0m-3.1 0h0m3.9 .1h0m-5.5 0h0m4.8 0h0m-4.5 0h0m2.2 0h0m-.3 .1h0m-.4 0h0m-1 0h0m2.3 0h0m1.5 0h0m-3.1 0h0m.5 0h0m3 .1h0m-3.5 0h0m2.6 0h0m-1.4 0h0m2.8 .1h0m-1.8 0h0m-.9 0h0m1.1 0h0m-3.1 .1h0m4.3 0h0m-.9 0h0m.4 .1h0m-2.7 0h0m1.7 0h0m2.1 0h0m-4.6 .1h0m.9 0h0m2.8 0h0m-1.3 .1h0m-2 0h0m4.4 0h0m-4.3 .1h0m1.5 0h0m-.1 0h0m-2.2 0h0m.5 .1h0m-.8 0h0m.5 0h0m.7 .1h0m3.6 0h0m-4.4 .1h0m3.2 .1h0m-3.7 0h0m4.7 .1h0m-4.4 0h0m.2 0h0m-.7 .1h0m3.2 .1h0m-3.2 0h0m2.8 0h0m-1.8 .1h0m2.1 .1h0m-3.1 .1h0m3.3 .1h0m-.1 .1h0m.5 0h0m.4 0h0m.7 .1h0m-4.8 .1h0m1.7 0h0m1 .1h0m-.7 0h0m-2 0h0m1.7 .1h0m3.8 0h0m-1.1 .1h0m-3.2 0h0m2.8 .1h0m1.7 0h0m-3.6 .1h0m-.3 0h0m2.5 0h0m-3.1 0h0m1 0h0m2.4 .1h0m-.6 .1h0m-3 0h0m.1 .1h0m1 0h0m2.8 0h0m-.7 .1h0m-.2 0h0m-1.3 0h0m.7 0h0m1 .2h0m-4.5 .1h0m.3 0h0m1.3 0h0m.4 .1h0m3.7 .2h0m-.6 0h0m-4.8 0h0m2.7 .1h0m-2 0h0m2.5 .1h0m2.3 .1h0m-3.1 .1h0m2.4 0h0m.5 .1h0m-.7 0h0m-1.2 0h0m.7 .1h0m-4.1 0h0m-.2 .1h0m4.9 .1h0m-3.2 .2h0m3.5 0h0m-2.9 .1h0m.9 .1h0m-2.5 0h0m4.4 0h0m-1.7 0h0m1.6 .1h0m-1.1 .2h0m-.7 .1h0m-2.6 0h0m3.9 0h0m-3.9 .2h0m2.4 0h0m-.4 0h0m-.4 .3h0m-1.4 .1h0m4.8 .1h0m.2 0h0m-3.7 .1h0m-1.2 0h0m2 .1h0m1.9 .1h0m-1 .2h0m-3.6 0h0m4.2 0h0m-2.8 .1h0m-.2 0h0m1 0h0m-1.1 .1h0m.3 .2h0m3.4 0h0m-1.4 0h0m1.7 .2h0m-3 0h0m.7 .1h0m2.3 0h0m-1.8 0h0m-3.3 .4h0m.1 0h0m3.6 0h0m.1 .1h0m1.3 .7h0m.2 0h0m-.5 0h0m.6 0h0m-5.6 .4h0m1.3 0h0m-.4 .1h0m3.5 .1h0m-3.3 .1h0m1.7 .1h0m-2.8 0h0m.6 .1h0m.7 0h0m.8 0h0m2 0h0m-2.7 .2h0m1.9 .2h0m1 0h0m-3.1 .4h0m4.5 0h0m-1.7 .1h0m.3 .6h0m-2.7 .1h0m4.1 0h0m-2.1 .6h0m-2.6 .2h0m0 .1h0m4.4 .1h0m.4 .1h0m-1.6 .7h0m-1.4 .7h0m-1.1 .8h0m2.5 .3h0m-2.7 0h0m-1 .6h0m4.7 0h0m-.8 .3h0m-3.5 1.1h0m2.4 1.1h0m2.1 1.1h0m-5.3 .3h0m8 -89.7h0m2.9 .1h0m-3.3 4.3h0m-.7 1.6h0m3.1 2.7h0m-2.5 3.9h0m-1.5 7.4h0m4.3 .2h0m.3 1.1h0m-1.6 .6h0m-2.6 .1h0m1.3 0h0m4 .2h0m-5.2 1.9h0m4.8 .3h0m-3.9 2.7h0m2.1 5h0m0 3.6h0m-3.2 0h0m4.9 1.8h0m0 5.4h0m-.4 2h0m.9 0h0m-4.3 .1h0m.5 1.5h0m-.3 1.7h0m-1.6 .2h0m5.2 .6h0m-3.2 .3h0m-1.2 0h0m.3 1.4h0m.7 .7h0m1.1 .2h0m.3 .1h0m2.4 0h0m-5.9 .6h0m2.8 .1h0m-.7 .1h0m-.7 .4h0m3 .1h0m-1.5 .3h0m1.1 .3h0m-2.1 .2h0m1.2 .1h0m2.9 .5h0m-5 0h0m.2 .4h0m3.6 0h0m.7 .5h0m-1.9 .3h0m-.6 0h0m1 0h0m-.3 .3h0m1.2 0h0m-.6 0h0m-2.7 .2h0m.3 0h0m3.3 0h0m-4.1 .2h0m1.6 .2h0m.8 .2h0m-3 .1h0m.6 0h0m2.3 .2h0m-3.3 .1h0m.6 0h0m1.1 .1h0m1.6 0h0m.7 0h0m1.4 .1h0m-4 .1h0m-.3 .1h0m1.7 0h0m3 0h0m-5.5 .1h0m3.5 .1h0m-1.2 .1h0m-.2 0h0m1.3 .1h0m1.9 0h0m-1.9 0h0m1.8 .1h0m-.2 0h0m-3.4 .1h0m.5 0h0m.9 .1h0m2.5 0h0m-2.9 0h0m.9 .1h0m-1.2 0h0m1.9 0h0m.3 0h0m-3.2 .1h0m-.1 .4h0m-.5 0h0m-1 .2h0m1.3 0h0m2.3 .1h0m1.8 0h0m-3.4 .1h0m2.1 0h0m-.4 .1h0m-2.1 0h0m.7 .1h0m2.8 .2h0m0 0h0m-.7 0h0m-3 .1h0m-1 .1h0m3.4 0h0m-2.1 0h0m-1.3 .1h0m2.2 0h0m.4 0h0m-1.6 .1h0m3.4 0h0m.1 .1h0m.5 .3h0m-.7 0h0m-.8 .1h0m-1 .1h0m2.5 .2h0m-4.8 0h0m.5 0h0m4.7 0h0m-.5 .1h0m-3.5 .1h0m2.7 .1h0m-.4 .1h0m-.1 0h0m-2.5 .2h0m.9 0h0m-.3 0h0m1.6 0h0m-3.4 .1h0m1.1 .1h0m-.1 .1h0m2.9 0h0m-1.1 .1h0m-2 0h0m.5 0h0m.8 0h0m1.6 .1h0m1.1 .1h0m.6 0h0m-4.6 0h0m4 0h0m-.7 .2h0m-3.8 0h0m2.7 0h0m2.6 0h0m-5.1 0h0m2.5 .1h0m1 .1h0m-.1 0h0m-2.7 .1h0m-.8 0h0m4 0h0m-4.4 .1h0m4.1 0h0m-3.5 .1h0m3.2 .3h0m-2.9 .1h0m2.6 0h0m1.9 0h0m-5.3 0h0m4.7 0h0m-4.4 .1h0m3.6 0h0m-.3 0h0m-.1 .1h0m-2.7 0h0m.1 0h0m3 .1h0m-1.1 .1h0m1.9 .1h0m-.6 0h0m.8 0h0m-3.3 0h0m-2.1 0h0m5 0h0m-3.5 .1h0m3.2 0h0m-1.9 .1h0m2.2 0h0m0 0h0m-.2 .1h0m-1.5 0h0m2 0h0m-3.6 0h0m-1 .1h0m5.2 0h0m-2.7 .1h0m.1 0h0m-.5 0h0m-.7 .1h0m2.2 0h0m.6 0h0m-1.1 0h0m-.8 .3h0m.8 0h0m-.9 .1h0m1.8 0h0m-3.7 .3h0m2.8 0h0m1.5 0h0m-.9 .1h0m-3.5 0h0m-.3 0h0m0 0h0m4.5 .1h0m-1.3 0h0m-2.1 .1h0m-.5 0h0m0 0h0m-1 0h0m-.1 .1h0m1 0h0m4.9 .1h0m-4.6 0h0m-1.2 0h0m0 0h0m5.4 0h0m-4.4 .1h0m3.2 0h0m-2.8 .2h0m-1.6 .1h0m2.2 0h0m-1 0h0m-.7 0h0m2.6 0h0m1.8 .1h0m-2.1 0h0m.4 0h0m-1.1 .1h0m2.4 0h0m-3.3 0h0m.4 .1h0m.1 0h0m3.7 0h0m.2 .1h0m-.9 0h0m-2.1 0h0m-2.4 0h0m4.5 0h0m-1.5 .1h0m.5 0h0m1.4 0h0m-.3 0h0m-1.2 0h0m-2.2 .1h0m2.3 0h0m-2.6 .1h0m2.5 .1h0m1.2 0h0m-3.7 0h0m-1 0h0m3.1 0h0m-2.9 0h0m-.1 0h0m5.3 .1h0m-2.7 0h0m.3 .1h0m1.5 0h0m1.4 .1h0m-1 0h0m.5 0h0m-1.2 .1h0m-3.9 0h0m3.7 .1h0m1.1 .1h0m-2.7 0h0m-.7 0h0m2.5 0h0m-2.5 .1h0m.4 0h0m1 0h0m-1.3 .1h0m1.7 0h0m-.6 0h0m-2.6 0h0m.2 0h0m4 0h0m-3.7 .1h0m3 .1h0m.3 .1h0m-1.1 0h0m.4 .1h0m-1.7 0h0m3.1 0h0m.8 0h0m-.2 .1h0m-3.3 0h0m3.4 0h0m-4.4 0h0m3.6 0h0m-3 .1h0m-.1 .2h0m.8 0h0m.2 0h0m.5 0h0m-2.1 .1h0m.9 0h0m.4 0h0m1.2 .1h0m-1.1 0h0m-1.6 .1h0m4.9 0h0m-1.3 0h0m.2 .1h0m-3.6 0h0m.4 .1h0m-1.4 .1h0m5.3 0h0m-1.7 0h0m.9 0h0m-3.4 .1h0m3.3 0h0m-.4 0h0m1.8 .1h0m-2.6 0h0m-.5 0h0m-1 .1h0m1.8 0h0m.4 .1h0m-1.2 0h0m3 .1h0m-1.4 0h0m-2.2 0h0m-2 0h0m3 .1h0m-3.1 0h0m.7 .1h0m4.7 0h0m-2.6 0h0m-.8 .1h0m1.7 0h0m-3.1 0h0m2.5 0h0m-.4 .1h0m.8 0h0m1.4 0h0m-3.5 .1h0m3.3 .1h0m-1.5 0h0m-1 .1h0m-.6 .1h0m3.9 0h0m-4.3 .1h0m3.5 0h0m-4.5 0h0m3 0h0m1.8 0h0m-1.3 .1h0m-1.4 0h0m3.4 0h0m-.3 .2h0m-3.5 0h0m.7 0h0m-.8 .1h0m2 0h0m-3.2 0h0m4 0h0m-.3 .1h0m-1.4 0h0m-1.8 0h0m-.8 0h0m2.5 .1h0m-1.9 0h0m1.6 0h0m-.3 .1h0m2.8 0h0m-1.6 .1h0m2.4 .1h0m-1.3 0h0m-3.3 0h0m-1 0h0m3.8 .1h0m.6 .1h0m-.4 .1h0m1.6 .1h0m-4.1 0h0m-.3 0h0m2.2 .1h0m1.4 0h0m-.8 .1h0m-1.9 0h0m2.6 0h0m.1 .1h0m-.3 .1h0m-1 0h0m-1.9 0h0m3 0h0m-4.8 0h0m3.2 .1h0m2.1 0h0m-4.8 0h0m1.9 0h0m.3 .1h0m-2.3 .1h0m-.1 .1h0m3.7 0h0m1.9 0h0m-4.2 .1h0m1.4 0h0m1.7 .1h0m-.6 .1h0m.8 0h0m-4.6 .1h0m2.6 0h0m-.9 .1h0m-1.8 .1h0m.5 0h0m3 0h0m-2.6 .1h0m2.1 .1h0m2 0h0m-1.9 0h0m-.6 0h0m-.4 0h0m.8 0h0m-.5 .1h0m1.3 .3h0m-4 .1h0m5.5 0h0m-3.7 .1h0m-1 .1h0m4.8 0h0m-3.4 0h0m.8 .1h0m2.5 0h0m-2.4 .1h0m.8 .1h0m-2.2 .1h0m3.8 .1h0m-4.2 .1h0m.1 0h0m-1.1 .1h0m.1 .2h0m1.7 .2h0m-1.9 0h0m2.9 0h0m1 .1h0m-2.4 0h0m.1 .1h0m-1.6 .3h0m5.4 0h0m-3.9 .2h0m-1.5 0h0m2 0h0m-1.8 .1h0m3.9 0h0m-4.2 0h0m5.3 .1h0m-4.6 0h0m4.9 .1h0m-5 0h0m4.8 .1h0m-.5 0h0m.7 .1h0m-3.2 0h0m0 .1h0m-.6 0h0m-.3 .2h0m2 .2h0m.7 0h0m1.5 0h0m-5.1 0h0m1.8 .1h0m-.1 0h0m1.9 .1h0m-.5 0h0m0 0h0m.1 0h0m1.3 0h0m-4.4 .1h0m4.4 .1h0m-.1 .2h0m-2.4 .2h0m-1.1 .2h0m3.3 .1h0m-3.4 .1h0m0 .2h0m2.9 0h0m-4.3 .1h0m1.1 0h0m3.6 .1h0m-.3 0h0m-1.9 .1h0m-1 .1h0m-.8 .1h0m.2 .1h0m.9 .2h0m-1.1 .1h0m2.7 .1h0m-1.8 .2h0m.2 .1h0m3.2 .1h0m-3.4 .2h0m4.1 .1h0m-1.4 .1h0m-2.5 .3h0m2.3 .1h0m-1.4 .1h0m-1.9 .2h0m3.4 0h0m-.6 .2h0m-2.9 .1h0m3.2 .2h0m-.4 .1h0m-1.4 .2h0m.6 .4h0m.5 .2h0m-1.4 0h0m3.9 .2h0m-4.9 .2h0m-.7 .6h0m2.2 0h0m-2.2 .3h0m4.6 .7h0m-1.5 .6h0m-3.2 .1h0m2.2 .1h0m-1.6 .7h0m3.7 .3h0m-1.2 3.8h0m.9 1.6h0m-.3 1.6h0m7.1 -87h0m-3.8 .4h0m4.3 0h0m-1 2.6h0m-1.7 .2h0m2.9 1.1h0m-1.2 1.4h0m.3 3.6h0m-1.1 10.2h0m-.7 .8h0m.1 2h0m2.4 2.8h0m-1.6 2.5h0m-1.8 1.3h0m.1 .8h0m-1.7 0h0m5.1 3.2h0m-4.7 5.8h0m4.8 0h0m-2.4 .2h0m1.9 1.1h0m-1.8 .2h0m-1.6 .3h0m2.9 0h0m-.9 .6h0m-.6 .9h0m-.1 .4h0m-1.9 .9h0m2.4 2.3h0m0 .1h0m1.7 .1h0m-4.5 0h0m3.5 .1h0m-2 .8h0m2.5 .4h0m.6 .3h0m-5.1 .6h0m1.8 .1h0m3.2 .1h0m-4.2 .1h0m2.6 0h0m2.2 0h0m-5.4 0h0m1.5 .2h0m2.3 .3h0m-1.9 .1h0m1 .4h0m-1.7 .1h0m.9 .2h0m.2 .2h0m2.5 0h0m-.1 .1h0m-4.9 .1h0m.6 .4h0m1.9 0h0m-1.5 0h0m3.7 .1h0m-1.5 .2h0m2.1 .3h0m-1.1 .1h0m-3.3 0h0m-.3 .2h0m.2 .4h0m1.1 .1h0m-1.8 .2h0m2.8 .1h0m-1.6 0h0m1.6 0h0m.3 .1h0m-.3 0h0m-2.6 .1h0m2.7 .1h0m2.1 .1h0m-1.6 .1h0m-2.2 .1h0m.9 0h0m-1 .1h0m-1.3 .1h0m3.8 0h0m-3.4 0h0m1.8 .1h0m-1.7 .2h0m5 .1h0m-.9 .1h0m-1.6 .2h0m-1.9 0h0m-.3 0h0m4.4 .1h0m-5.1 .2h0m.8 .1h0m.6 .1h0m3.4 .1h0m-.8 0h0m-3.3 0h0m2.6 .1h0m1.2 0h0m-4.5 .4h0m3.9 .3h0m0 0h0m-2.6 .1h0m4.2 0h0m-2.4 .1h0m-2.1 .2h0m.6 .1h0m-.9 0h0m2.6 .2h0m2.3 .1h0m-5.5 .1h0m.2 .1h0m3.8 .1h0m-2.5 .1h0m1.1 0h0m-.1 0h0m.7 .1h0m-3.4 .1h0m4.9 0h0m-.4 .1h0m-3.1 0h0m1.4 .1h0m.5 0h0m-.2 .1h0m-.7 0h0m-.1 .2h0m-1.6 .1h0m-.4 .1h0m1.6 .1h0m2.9 0h0m-1.5 0h0m-1.9 0h0m3.5 .1h0m-2.4 0h0m3.2 .1h0m-2.9 .1h0m-1.3 .1h0m-1.5 0h0m3.6 .1h0m-3.5 .1h0m-.2 0h0m1 0h0m2 .1h0m2.6 0h0m-5 .1h0m3.8 0h0m1 .1h0m-3.7 0h0m4 .2h0m-3.7 0h0m3.6 .1h0m0 0h0m-5.1 0h0m5.1 0h0m-2.4 .1h0m1.5 0h0m-4.2 .1h0m4.9 .1h0m-2.3 0h0m2.4 0h0m-4.7 0h0m2.4 .1h0m-.7 0h0m-1.9 0h0m3.1 0h0m-2.3 .1h0m-.8 0h0m1.3 .1h0m.6 0h0m0 0h0m3.3 .3h0m-3.3 0h0m-.8 .1h0m-1.6 .1h0m.2 .1h0m3.7 .1h0m.5 .1h0m-1.7 0h0m1 .1h0m-3.9 .1h0m2.1 0h0m1.3 .1h0m-2.1 0h0m1.5 0h0m2.7 0h0m-3.4 .1h0m1.8 0h0m.1 0h0m-1.7 0h0m0 .1h0m-.5 0h0m2.8 0h0m-3.1 0h0m4.2 0h0m-1.5 .1h0m1.7 0h0m-3.6 .1h0m2.6 .1h0m.6 .1h0m-3.2 0h0m-1.6 .1h0m3.6 0h0m1.2 0h0m-2.2 .1h0m-1.7 0h0m2.4 0h0m-2.1 .1h0m-1.9 0h0m4.4 .1h0m-1.4 .1h0m-.8 0h0m.1 0h0m3.2 .2h0m-.7 .1h0m-4.4 .1h0m5.4 0h0m-5.1 0h0m.3 0h0m1.6 0h0m-1.9 .1h0m.7 .1h0m.2 .2h0m-.2 0h0m2.1 0h0m-.9 0h0m1 0h0m-.8 .1h0m1.3 .1h0m-1.1 0h0m-.4 0h0m.4 .1h0m1.5 .1h0m-3.7 .1h0m3.9 0h0m-3.1 0h0m2.1 .1h0m-1.3 0h0m-2 .2h0m1.1 0h0m-.9 0h0m2.8 .1h0m1.8 0h0m-4.6 0h0m1.3 0h0m-.3 0h0m-1 0h0m2.1 0h0m-.3 0h0m2.8 .1h0m.1 0h0m-2.3 0h0m-2.5 .1h0m.7 .1h0m4.4 0h0m.1 .1h0m-.4 .1h0m-4.9 0h0m.4 0h0m.9 0h0m1.6 0h0m-.7 .1h0m.7 .1h0m1.7 0h0m-1.7 .1h0m1.8 .2h0m-4.9 .1h0m1.9 0h0m3.4 0h0m-4.1 0h0m1.4 0h0m-.8 .1h0m2.8 0h0m-4 0h0m.4 0h0m3.5 0h0m1 0h0m-2.1 .1h0m-.1 .1h0m0 .1h0m-.6 0h0m1.2 0h0m-4.1 .1h0m3.2 0h0m2.6 .1h0m-4.3 0h0m-.1 0h0m1.6 0h0m-2.3 .1h0m2.9 0h0m0 0h0m-3.6 0h0m.4 .1h0m.8 .1h0m3.8 .2h0m-.9 0h0m-1.9 .1h0m1.1 0h0m-3.1 0h0m.3 .1h0m4.1 0h0m-3.1 .2h0m2 .1h0m-2.3 0h0m.8 .1h0m3.4 0h0m-5 0h0m3.7 .1h0m-2.1 .1h0m1 0h0m2.1 0h0m-2.3 .1h0m2.3 .1h0m-4.5 0h0m2.1 0h0m0 0h0m2.2 0h0m0 .1h0m.8 .1h0m-5.4 .1h0m4.8 .1h0m-1.6 0h0m-.9 0h0m3.2 .1h0m-5.4 .1h0m-.3 0h0m5.1 .1h0m-.4 0h0m-4.8 0h0m1.2 .1h0m2.5 0h0m1.9 .1h0m-.9 0h0m-2.5 0h0m-1.8 0h0m3.9 .2h0m-2.8 .1h0m4.2 0h0m-1.4 .1h0m-.5 0h0m1.6 .1h0m-3.5 0h0m1.8 .1h0m-.1 .2h0m-2.1 0h0m3.5 0h0m-2 .1h0m-2.3 .2h0m1.4 0h0m0 0h0m0 .1h0m3.5 0h0m.4 .1h0m-5.7 .1h0m3 .1h0m-1.9 0h0m1.7 .1h0m1.8 0h0m-2.6 0h0m-1.6 0h0m.6 0h0m4.5 .2h0m-2.3 .2h0m-3.3 .2h0m2.4 0h0m.3 .1h0m-2.8 0h0m5.8 0h0m-5.8 .2h0m1.2 0h0m2.9 0h0m-2.3 .1h0m-1 0h0m4.6 0h0m-5.3 0h0m5.4 0h0m-2 .4h0m1.2 0h0m1 0h0m-.1 .4h0m-4.2 0h0m2.3 .1h0m-3.8 0h0m3.5 .2h0m1.7 0h0m-5 .2h0m1 .1h0m1.7 0h0m-1.5 0h0m.1 .2h0m2 .1h0m.7 0h0m-3.1 .1h0m-.4 0h0m.6 0h0m3.5 .3h0m-4 .1h0m4.7 0h0m-3.5 .1h0m3.7 0h0m-4 0h0m2.3 0h0m-3.3 0h0m.1 .1h0m1.3 .1h0m.9 .1h0m2.8 .1h0m-3.7 0h0m.7 .2h0m1.5 0h0m-3.2 0h0m.3 .2h0m2.9 .2h0m.5 .2h0m-4.6 0h0m5.5 .1h0m-5.5 .1h0m1.5 0h0m1.7 .7h0m.2 0h0m-.4 0h0m2.8 .3h0m-2.4 .2h0m2 0h0m-2.9 0h0m2 .1h0m-3.9 .1h0m2.1 .5h0m.1 .1h0m1.8 0h0m-.2 .2h0m.5 .1h0m-.6 .4h0m0 .4h0m-2.2 .1h0m-1.1 .2h0m3.7 .2h0m.6 2.8h0m-2.7 .4h0m.6 1.3h0m-.6 2.4h0m2.5 4.3h0m2 -93.7h0m4 5.4h0m-.8 .2h0m-4.2 3.2h0m.8 .1h0m1.9 1.3h0m-.6 0h0m-.7 .6h0m1.2 .6h0m.9 9.2h0m-1.7 .9h0m1.9 2.6h0m1.3 6.9h0m-.2 .7h0m.7 6.7h0m-3.4 .4h0m-1.4 0h0m4.2 .9h0m-1.8 1.3h0m1.1 1h0m0 .5h0m-2.2 .2h0m-.7 1.5h0m1.7 1.7h0m2.6 1.2h0m-.1 .3h0m-.5 .2h0m-.9 .2h0m1.2 .1h0m-3.2 .4h0m-1.7 .9h0m5.1 .5h0m-.6 .3h0m-4.1 .3h0m3.8 .1h0m-2.5 .3h0m-1.7 .3h0m.6 0h0m1.4 .2h0m-2.5 0h0m3.8 .3h0m-2.7 .3h0m4.1 .2h0m-2.7 1.5h0m2.7 0h0m.2 .4h0m-2.2 0h0m-.4 .1h0m-.4 .5h0m-2.2 .6h0m3.7 .1h0m.4 .1h0m-.5 .3h0m-1.8 .1h0m-1.2 .1h0m1 .1h0m2.3 .3h0m-.7 .1h0m.1 0h0m-.1 .1h0m-3.5 .1h0m.8 0h0m3.6 .1h0m-3.2 0h0m2 0h0m2 .1h0m-.4 .2h0m-2 .6h0m2.3 .2h0m-1.6 .6h0m.5 .1h0m-3.6 .1h0m1.3 0h0m.5 .3h0m1.7 .1h0m-3.1 0h0m.9 .1h0m1.2 0h0m1.9 .1h0m1 .1h0m-3.7 .1h0m3.4 0h0m-4.1 0h0m2.3 .1h0m-2 0h0m2.5 .1h0m-4.3 0h0m.4 0h0m3.2 0h0m-.6 0h0m.6 .1h0m1.8 0h0m-3.4 .1h0m.2 .2h0m-1 .1h0m3.1 0h0m-1.7 .1h0m-2.2 .1h0m.8 .2h0m-1 .1h0m4.9 0h0m-1.7 0h0m1 .2h0m-3.8 0h0m2 0h0m2.2 .1h0m.2 0h0m.2 .1h0m-3.1 .1h0m-.6 .1h0m3.5 .1h0m-1.8 .2h0m-1.7 0h0m.7 .1h0m-2.2 0h0m.7 .1h0m3.3 0h0m-3 0h0m.3 .2h0m2.7 0h0m-2 .1h0m.4 .1h0m-2.1 0h0m2.3 0h0m-1 .1h0m1.1 .1h0m-1.5 0h0m4.4 0h0m-1.1 .1h0m-1.3 0h0m.4 .1h0m-2.1 0h0m-.7 0h0m4.5 .3h0m-3.4 0h0m3.1 .1h0m-4.2 0h0m.7 .1h0m-1.2 .1h0m.1 0h0m4.8 .1h0m-1.9 0h0m2.6 0h0m-.4 .1h0m-2.3 0h0m-1.5 0h0m.9 .2h0m1 0h0m-2.1 0h0m2.8 .1h0m-4 .1h0m3.3 0h0m-2.9 .1h0m3 .2h0m2.2 .1h0m-4.9 0h0m2.6 .1h0m-3.5 .1h0m.2 0h0m3.5 0h0m-3 .1h0m4.1 0h0m-2.4 .1h0m-1.6 .1h0m1.1 .1h0m-1.7 0h0m1.5 .2h0m2.7 0h0m-.6 .1h0m-2.8 0h0m-.6 0h0m0 0h0m3 0h0m-2.9 .1h0m2.6 0h0m-2.4 .1h0m2.8 0h0m-3.2 0h0m3.8 0h0m-3 0h0m2.5 .1h0m-3.1 0h0m2.4 .1h0m-2.7 0h0m3.8 0h0m-2.2 .1h0m.3 0h0m.2 .1h0m-2.2 0h0m4.2 .1h0m-2.5 .1h0m-.3 0h0m2.7 0h0m-2.4 0h0m3.2 0h0m-4.5 .1h0m.5 0h0m1.4 0h0m2.4 .2h0m-3.5 .1h0m1.4 0h0m.3 .2h0m2.9 .1h0m-3.3 0h0m-.4 .1h0m-1.4 .1h0m2.7 0h0m1.8 0h0m-3.5 .1h0m-.6 0h0m1.1 0h0m1.9 .1h0m-3.8 0h0m3.3 .1h0m1.4 .2h0m-1.2 0h0m-1.7 0h0m-1.7 .1h0m3.3 .1h0m-.2 0h0m-2.9 0h0m5 .1h0m-.2 0h0m-5.5 0h0m.1 0h0m4.1 .1h0m-4.2 .1h0m1.3 0h0m1.3 0h0m0 .1h0m-2.2 0h0m4.7 0h0m-1.2 0h0m.8 0h0m-.5 0h0m-3.8 0h0m4.5 .1h0m-.9 0h0m-3.8 0h0m2.9 .1h0m-3 0h0m5.2 .2h0m-3.1 0h0m-.9 .1h0m2.2 0h0m1.4 0h0m-3 .1h0m2 0h0m-.9 0h0m-2.1 .1h0m2 .2h0m-.2 0h0m1.7 .1h0m-2.5 0h0m0 0h0m1.1 .1h0m-1.1 0h0m-1.7 0h0m1.8 .1h0m-.4 0h0m2.6 .1h0m-3.9 0h0m.1 0h0m-.2 .1h0m-.1 0h0m2.2 0h0m.8 .1h0m-.5 0h0m.3 .1h0m1.3 .1h0m-3.7 .1h0m1.1 0h0m.8 0h0m3.3 0h0m-1.1 .1h0m-.4 .2h0m1 .1h0m-5.1 .1h0m.1 0h0m2.2 0h0m.6 0h0m-2.2 0h0m3.1 0h0m-4 .2h0m1.9 .1h0m.3 0h0m1.5 .1h0m0 .4h0m-2.2 .1h0m.7 0h0m1.5 0h0m-3.4 0h0m4.1 .1h0m1.4 .1h0m-3.8 0h0m-1.5 0h0m5.4 0h0m-2.5 .1h0m1.4 .1h0m-2.4 0h0m2.7 0h0m-2.9 0h0m.8 0h0m-2.5 0h0m2.8 .1h0m1.7 0h0m-1 0h0m1.2 .1h0m-4.9 .1h0m1.5 .1h0m4.2 0h0m-5.2 .1h0m1.3 .2h0m-.2 0h0m3.8 0h0m-3.7 .1h0m1.2 .1h0m0 0h0m2.2 .1h0m-3.8 0h0m-.8 0h0m0 0h0m2.3 .1h0m-.1 .2h0m1.3 0h0m-3.2 .1h0m.6 .1h0m-.1 .1h0m0 0h0m.8 .1h0m-1.6 0h0m3.3 0h0m-.6 .1h0m.5 0h0m-1.4 0h0m2.2 0h0m-.4 0h0m-1.8 .2h0m1.1 .1h0m-3.1 0h0m2.2 .1h0m-1.3 .1h0m3.3 0h0m-4.4 .2h0m2.4 0h0m1.8 .1h0m-1.2 0h0m2.2 .1h0m-5.6 .1h0m.8 .1h0m3.3 0h0m.5 .1h0m-3.5 0h0m4.4 0h0m-1 .1h0m.5 .1h0m-2.9 .2h0m-1.3 .1h0m2.4 0h0m2.4 0h0m-4.7 0h0m1.5 .1h0m-.4 .2h0m3.3 .1h0m-4 0h0m4.5 .1h0m-4.2 .3h0m3.4 0h0m-3.8 0h0m.5 .1h0m-1.2 .3h0m.5 .5h0m4.6 .1h0m-3.2 .6h0m2.3 .1h0m-2.6 0h0m.8 0h0m-1.2 .2h0m3.9 0h0m-.5 .1h0m-4.1 0h0m4.5 0h0m.1 0h0m-1.5 0h0m-.4 .1h0m0 .2h0m-.9 .1h0m-2.6 .1h0m4.5 .5h0m.9 .1h0m-.5 0h0m-2 .1h0m.9 .1h0m1.2 .3h0m-1.3 .1h0m-.2 .1h0m-2.2 .1h0m1.8 .2h0m.7 .4h0m1.8 0h0m-2.1 .2h0m1.8 0h0m-1.3 .1h0m-2.7 .1h0m-1.1 .6h0m4.2 1.1h0m.4 0h0m-1.7 .7h0m-2.2 .2h0m-1 0h0m1.8 .4h0m-1.1 1.9h0m1.5 4.9h0m7.2 -87.9h0m1.7 .6h0m-1.9 8.7h0m-3.2 4.4h0m.9 .6h0m4.8 1.7h0m-3.8 1.4h0m3.6 2.5h0m-4 1.8h0m1.7 1.1h0m2.5 3.5h0m-3.1 1.7h0m.9 .5h0m-1.8 .8h0m3.3 1.4h0m-5 3.1h0m1.7 3.2h0m2.2 1.4h0m-1.5 .6h0m-.2 .1h0m2.7 5.1h0m-3.1 .2h0m2.4 3h0m-1.5 .1h0m1.2 .1h0m-.7 0h0m-.2 .2h0m-1.4 .5h0m3.6 .4h0m.1 1.2h0m-4.9 .2h0m2.9 .3h0m-.7 .4h0m-1.8 .3h0m-.7 .6h0m1.6 0h0m.1 0h0m-.2 .5h0m1.6 .4h0m-3.3 .1h0m4.3 .4h0m-2.9 .1h0m-.3 0h0m3 .5h0m-1.7 0h0m3.1 .6h0m-.1 0h0m-1.5 .5h0m-1 .1h0m.9 .2h0m-2.2 0h0m.8 .1h0m-.2 .6h0m-1.8 0h0m3.5 .2h0m-2.8 0h0m.8 .3h0m-.7 0h0m1.8 .1h0m2.1 0h0m-1.4 0h0m1.5 .2h0m-.9 0h0m-3.7 .2h0m4.2 0h0m1 .2h0m-1.2 .1h0m1.2 .1h0m-3.5 .1h0m2.7 0h0m.1 .1h0m-2.8 .2h0m2.7 0h0m-4.7 0h0m4 .2h0m-3.4 .1h0m1.7 .2h0m-.7 .1h0m3.3 .1h0m-2.2 .1h0m-.7 0h0m-.3 0h0m-1.8 0h0m5 .1h0m.1 0h0m-1.2 0h0m.9 .1h0m-4.3 0h0m-.2 0h0m3.5 0h0m-1 0h0m1.1 0h0m-2.6 .1h0m3.6 .2h0m-3.9 .2h0m-.5 .1h0m3.5 .1h0m-2.2 .3h0m3.8 .2h0m-3.8 0h0m.5 .1h0m3.3 0h0m-.6 .2h0m-.4 .1h0m-2.8 0h0m-1.9 .2h0m5.3 0h0m-2 0h0m-.9 0h0m1.3 .1h0m-1.5 .1h0m3.3 0h0m-.9 .1h0m.4 .1h0m-1.4 .1h0m-1.6 0h0m2 0h0m-.7 .1h0m-1.2 .1h0m3.3 0h0m-4.8 .1h0m4.2 0h0m.5 .1h0m.4 .1h0m-1.7 0h0m-3.5 .1h0m4.1 0h0m-4 0h0m.7 .1h0m4.5 .4h0m-5.7 0h0m3.6 0h0m-.7 .1h0m1.8 0h0m-1.4 .1h0m-2.9 0h0m5.1 .1h0m.2 0h0m-3.3 .1h0m.1 .1h0m-.8 0h0m-1.8 .1h0m1.9 0h0m2.5 .1h0m-3.9 0h0m2.2 0h0m1.9 .1h0m-.9 0h0m-.5 .1h0m.1 0h0m-1.4 .3h0m2.6 .2h0m-1.9 0h0m-.7 .1h0m2.5 0h0m-.6 0h0m-3.4 0h0m5.4 .1h0m-.3 .2h0m-.5 .1h0m-3.8 .1h0m1.8 0h0m1.6 .1h0m-4.7 0h0m1.8 .1h0m4.2 .1h0m-.9 0h0m-3.6 0h0m1.6 .1h0m1.9 0h0m.3 .2h0m-1.9 .2h0m-1.5 .1h0m3.4 0h0m-2.5 .1h0m2.4 0h0m.7 0h0m-.7 0h0m-.7 0h0m-.5 .1h0m-2.9 0h0m3.4 0h0m.3 .1h0m-.8 0h0m.8 0h0m-4.3 .1h0m1.5 0h0m.3 .1h0m-.3 0h0m-1.6 .1h0m5 0h0m-2.3 .1h0m1.7 .1h0m-2.1 0h0m-2.2 0h0m.2 0h0m5.3 .1h0m-1.3 .1h0m-3.5 .1h0m4.5 0h0m-1.2 0h0m1.3 .1h0m-3.1 .2h0m1.5 0h0m-3.7 0h0m.1 0h0m2.5 .1h0m-2.7 0h0m1.8 0h0m.8 0h0m2.7 0h0m-4.2 .4h0m-.6 .1h0m-.1 .1h0m1.5 0h0m-.8 0h0m3.4 .1h0m-1.3 0h0m-.7 0h0m-2.5 0h0m3.5 0h0m-1.9 .1h0m-1.3 .1h0m2.1 .1h0m2.7 0h0m-3 0h0m-2.2 .1h0m4.3 .3h0m.6 0h0m-1.4 0h0m1.1 .2h0m.5 .1h0m-4.1 .1h0m1.4 0h0m-1.4 0h0m-.1 .1h0m.3 0h0m3.2 0h0m-1.6 .1h0m-2.4 0h0m.6 .1h0m-.7 .1h0m3.5 .1h0m-.8 .1h0m.6 0h0m-3.3 0h0m2.1 0h0m.3 .1h0m-2.6 .1h0m0 0h0m4.5 .1h0m.6 .2h0m-3.3 0h0m1.7 0h0m-1.6 0h0m-.6 .1h0m-.2 .1h0m-.3 .1h0m1.7 .1h0m-1.6 .1h0m-.1 0h0m2.6 0h0m.7 0h0m-.3 .1h0m-.4 .1h0m-2.3 0h0m-1.2 .2h0m1.3 .1h0m-1.3 .1h0m2.4 .1h0m-.2 0h0m-1.5 .1h0m2.6 .1h0m.8 .1h0m.8 0h0m-2.7 .4h0m-.5 0h0m-1.6 .2h0m1.7 .1h0m1.6 0h0m-1 .1h0m1.6 .2h0m.2 0h0m-.8 .1h0m2.3 .1h0m-1.5 .1h0m-1 .1h0m.6 0h0m1.3 .1h0m-2.6 .1h0m-.5 .1h0m.9 .2h0m.6 .1h0m-3.7 0h0m2.5 .1h0m-2.6 .1h0m4.2 .1h0m1.6 .1h0m-1.1 0h0m-2.1 0h0m-2.5 .1h0m2.4 .1h0m.1 .2h0m-.4 .1h0m2.3 .1h0m-3.8 0h0m1.6 0h0m.1 .1h0m-.2 0h0m2.9 .1h0m-2.6 .1h0m.9 .1h0m1 0h0m-4.1 .2h0m1.2 0h0m2.4 0h0m-.7 .1h0m1 .5h0m-2.2 0h0m-1.7 0h0m1.7 .1h0m1.9 .1h0m-3.7 .1h0m2.8 .2h0m2.6 0h0m-2.6 .1h0m1.5 .3h0m-1.9 .2h0m-1.8 .1h0m-.6 .2h0m2.2 .1h0m1.9 .3h0m-1.1 1.8h0m-.2 .4h0m-.9 0h0m1.1 .2h0m-2.2 1.1h0m-.2 .3h0m-.5 .4h0m2.2 .1h0m3.1 .2h0m-.8 .6h0m-.4 .7h0m.2 3.6h0m-1.6 1.4h0m7.5 -91.1h0m.2 7.2h0m.2 .7h0m-1.4 1.5h0m-1.6 2.1h0m2.7 .1h0m-3.9 1.4h0m1.6 0h0m3.4 1.6h0m-1.6 .7h0m-.9 7.5h0m2.8 1.2h0m-4.4 1.9h0m4.3 1.8h0m-4 1.4h0m-1.3 .5h0m1.8 .6h0m-1.3 7.4h0m4.9 2.1h0m-5.8 .8h0m1.1 2.2h0m-1 4h0m5.1 .1h0m-1.4 .6h0m-2.7 2.2h0m1 .6h0m-1.4 .5h0m-.6 .3h0m2.8 .1h0m2 0h0m-1.5 .5h0m-1.9 .6h0m3.7 .3h0m.1 .5h0m-4.7 .4h0m1.1 .3h0m2.1 .5h0m1 0h0m-1.6 .1h0m-.9 .2h0m-.6 .6h0m1.7 0h0m-.1 0h0m-2.8 .1h0m-.2 0h0m3.2 .2h0m-2.7 .1h0m1.3 .2h0m-1.3 .2h0m3.8 0h0m.4 .6h0m-2.1 .3h0m.4 .2h0m2.1 .2h0m-4.5 .5h0m4.1 0h0m-1.4 .1h0m-1.2 .1h0m3 .4h0m-1.8 .2h0m-3.2 0h0m4 .5h0m1.2 .1h0m-.6 .2h0m-4.5 .5h0m.7 0h0m.8 0h0m-1.6 0h0m3.6 .1h0m.3 .1h0m-1.6 .1h0m2.8 .1h0m-.1 0h0m-2.6 0h0m-2.7 .1h0m1.8 .1h0m-.5 .1h0m2 0h0m-2.5 .2h0m3.6 .1h0m1.3 .1h0m-5.7 .2h0m5.3 .1h0m-4.6 0h0m-.9 .1h0m3 0h0m-1.9 0h0m3.9 .1h0m.9 0h0m-1 .1h0m-4.7 .1h0m2.5 .1h0m-.4 0h0m-2.3 .1h0m3.6 .3h0m-1.3 .1h0m-.7 .1h0m4.3 .1h0m-5.7 .1h0m4.8 0h0m-3.3 0h0m-1.3 .1h0m1.7 0h0m1.2 .1h0m.6 0h0m1.5 0h0m.3 .1h0m-4.3 .1h0m-1.1 .1h0m4 0h0m-3.7 0h0m2.8 0h0m-1.5 .2h0m.8 .1h0m-2.2 0h0m.8 0h0m2.2 .1h0m.4 0h0m-3.6 0h0m1 .2h0m4 .1h0m-4.6 0h0m-.8 .1h0m5.8 .1h0m-5.5 0h0m2.5 .1h0m1.4 0h0m-2.6 0h0m2.8 .3h0m-1 .5h0m-.6 .2h0m1.8 .2h0m.3 .1h0m.3 0h0m-5.1 0h0m2.5 .2h0m3.1 0h0m-5.3 .1h0m4.2 0h0m-3.7 0h0m.6 .2h0m4.3 0h0m-5.4 0h0m2.7 .1h0m-1.8 .2h0m0 0h0m-1.2 .3h0m5.1 0h0m-4.2 0h0m3.4 .2h0m-3.5 .1h0m2.1 0h0m-2.7 0h0m4.8 .1h0m.3 0h0m.3 0h0m-2.2 .1h0m-1.8 0h0m4 0h0m-1 .1h0m-4.7 .1h0m1.1 .1h0m-1 .1h0m2.5 0h0m-2.5 .2h0m0 0h0m.1 .2h0m2.2 .1h0m-.2 .4h0m-1.2 0h0m3.2 .1h0m-1 0h0m-2.1 .1h0m-.3 .1h0m1.8 0h0m1.8 .1h0m-2.3 0h0m3.4 0h0m-5.5 .1h0m.9 .1h0m.7 .1h0m-1.1 0h0m3.8 .3h0m-.8 0h0m-1.3 .2h0m1.3 .1h0m.8 .1h0m-1.5 .1h0m-2 0h0m1.7 0h0m-2.3 .1h0m5.1 .7h0m-5.1 0h0m4.5 .1h0m-1.4 .1h0m2.4 0h0m-1.4 0h0m-1.5 0h0m2.2 .1h0m-3.5 0h0m3.5 .1h0m-1 .1h0m-.9 0h0m.5 .1h0m-.5 .1h0m0 .2h0m0 0h0m1.7 0h0m-.7 0h0m-1.2 .1h0m-.4 .1h0m-2.2 0h0m2.2 .2h0m2.3 0h0m-2 .1h0m1.8 .6h0m-.4 0h0m-1.1 .1h0m.6 .2h0m-1.8 .1h0m1.8 .1h0m.5 .1h0m-2.8 .2h0m-1.4 .1h0m4.8 .2h0m-1.6 0h0m1.4 .1h0m-2.3 .2h0m3 .4h0m-4.1 .2h0m.3 .2h0m1.5 0h0m-1.4 .1h0m-.2 .1h0m1.2 0h0m-.6 0h0m1.8 .2h0m-.7 .2h0m1.8 .1h0m-2.9 .1h0m-1.7 .2h0m4.4 .3h0m-4.1 .2h0m1.9 .4h0m1.5 .1h0m-1.7 .3h0m.1 .1h0m1.3 .1h0m-2.8 .2h0m3.9 .2h0m-3.9 0h0m3.2 .1h0m.4 .3h0m-2.3 .4h0m1.6 0h0m-1.6 .3h0m-1.4 .2h0m4.4 .2h0m-3.1 .4h0m1.6 .9h0m.5 .5h0m-1.6 .1h0m1.5 .3h0m-3.6 .6h0m3.3 .1h0m0 .3h0m-.2 0h0m-2 .3h0m2.4 .1h0m-.2 .9h0m1.6 .2h0m-5 .3h0m.6 .8h0m.8 2.2h0m-.9 .5h0m3.7 1.4h0m.1 .6h0m2.2 -87.1h0m2.8 2.1h0m.3 4.2h0m.9 12h0m-4.8 1.8h0m1.3 .5h0m.6 .8h0m2.4 1.9h0m-.6 5.9h0m.5 3.9h0m-2.1 2.8h0m1.5 2.3h0m.7 4.2h0m-3.6 .8h0m3.3 .7h0m-2.5 1.3h0m4.4 3.5h0m-5.6 .8h0m2.3 .7h0m2.2 .3h0m-2.2 .3h0m2.1 1.1h0m-2.4 1.1h0m1.6 .2h0m-.5 .5h0m1.4 .1h0m-4.6 .4h0m1.4 .8h0m4.2 .3h0m-4.1 .5h0m-1.3 .2h0m-.4 .1h0m4 0h0m-2.6 1h0m4.1 .6h0m-5.3 .1h0m3.9 .1h0m-3.9 0h0m5.1 .1h0m-2 .2h0m-2.5 .2h0m.1 .1h0m.9 1h0m-1.4 0h0m.2 .2h0m-.3 .3h0m.5 .1h0m-.6 .4h0m2.6 0h0m-2.7 0h0m5 .3h0m-.8 .6h0m.9 .1h0m-2.8 .3h0m2 .1h0m-2.3 .1h0m-1.9 0h0m5.1 .1h0m-4.3 .2h0m4.8 .2h0m-5.9 .1h0m2.4 .3h0m.2 .2h0m-1.3 0h0m2.1 .1h0m-2.7 .2h0m.4 .6h0m.2 0h0m-1 0h0m.9 .5h0m2.1 0h0m1.1 .4h0m-1 .2h0m-1.7 0h0m-1.3 .3h0m2 .1h0m-1.2 .1h0m2.5 .4h0m1.1 .2h0m-4.7 .1h0m4.7 .2h0m-1.6 .1h0m.4 .3h0m-3.2 .1h0m2.6 .1h0m0 0h0m-1.6 .1h0m-.7 .3h0m-.6 0h0m1.9 .1h0m-1.9 0h0m4.5 .3h0m-3.7 .2h0m-.7 .1h0m5.1 .2h0m-1.7 .3h0m.7 .1h0m.7 0h0m-4.7 .1h0m1.4 .6h0m.7 .1h0m-1 .2h0m4.1 0h0m-2.7 .1h0m2 0h0m-2 .1h0m-.7 0h0m3.3 0h0m-4.6 .1h0m.4 .2h0m-.9 .2h0m5.3 .2h0m-1.3 .2h0m-4.3 .2h0m1.3 .1h0m.9 .1h0m.7 .3h0m2.6 .4h0m-3.5 0h0m3.8 .2h0m-4.7 0h0m1.5 .2h0m-1.5 .3h0m2.5 .2h0m-2.6 .7h0m-.8 .5h0m2.1 .1h0m1.3 0h0m-1.5 .4h0m2.6 .5h0m-1.9 .2h0m1.9 .8h0m-4.2 1.3h0m1.4 .6h0m2.2 .4h0m-.5 .1h0m-3.4 .5h0m0 .1h0m5.2 .1h0m-1.3 .6h0m1.2 1.8h0m6 -83.5h0m-5 6.7h0m4.3 3h0m-3.3 1h0m3.5 15.9h0m-4 7.5h0m1.4 .4h0m-1.6 1.8h0m3.8 1.9h0m-3.9 2.7h0m3.2 3.5h0m2.2 .5h0m-2.4 .5h0m-2.9 3.6h0m.4 1.6h0m.2 .9h0m.5 1h0m1.8 .2h0m-1.1 1.2h0m1.5 .1h0m.4 1h0m-1 1.4h0m2.4 .5h0m-3 .6h0m-1.8 1.2h0m.2 .3h0m3.2 .3h0m-2.2 .1h0m3.1 .2h0m-4 .6h0m-1 .1h0m3.8 .1h0m-.1 .1h0m.3 .1h0m-.7 .7h0m-2.8 .6h0m4.6 .3h0m.6 0h0m-4.5 .3h0m4.3 0h0m-4.2 .6h0m-1.1 .2h0m5.5 .2h0m-4.3 .1h0m2 .1h0m-1.5 .1h0m-1.5 .4h0m2.7 .3h0m-3.2 .9h0m2.2 .2h0m-1.6 .8h0m5.1 .5h0m-4 .3h0m.6 0h0m1.6 .3h0m-3.5 .3h0m3 0h0m-3.1 .4h0m-.3 0h0m3 .3h0m.4 .5h0m-3.3 0h0m1.3 .5h0m1.5 .1h0m-.4 .2h0m-.6 .3h0m1.3 .2h0m.2 .9h0m1.2 0h0m-4.2 .2h0m-.1 .5h0m.6 .6h0m2.3 .4h0m-2.6 0h0m-.7 .2h0m1.6 .4h0m.9 0h0m3.5 .2h0m-4.9 .1h0m-.8 .7h0m1.7 .1h0m3.2 .5h0m-1.3 .1h0m-.5 0h0m-3 .1h0m2.5 1.1h0m-1.9 .2h0m3.7 .5h0m-2.6 .6h0m-.9 .1h0m3.1 .3h0m-2.6 1.7h0m.1 .2h0m-.7 .2h0m2.1 .3h0m1.5 .7h0m-3.4 2.4h0m-1.1 1.3h0m10.4 -77.1h0m.9 .1h0m-2 3.2h0m2.2 1.8h0m-2.6 3.2h0m.5 1.3h0m-2.3 .4h0m3.1 0h0m-4 8.2h0m2 .4h0m3.5 3h0m-.8 4h0m-3.2 1h0m1 2.8h0m.5 7.1h0m1.9 0h0m-4.1 2.7h0m4.3 1.1h0m-.7 2.3h0m-.3 6.2h0m-3.9 .6h0m-.2 1.6h0m2 .9h0m1.6 1h0m-.6 .5h0m1.3 .4h0m-.5 1.6h0m-.1 .3h0m1.7 .5h0m-1.7 .3h0m-1 1.8h0m.3 .2h0m2.1 .5h0m-.2 .6h0m-4 .4h0m4.1 0h0m-2.9 .6h0m-1.4 .1h0m2.9 .6h0m-3.6 .1h0m4.4 .1h0m.5 .5h0m-1.1 .2h0m-3.6 .1h0m2.5 .1h0m-.8 .7h0m-1.7 .1h0m3.8 .2h0m-.1 0h0m-3.6 .2h0m1 0h0m.3 .1h0m0 0h0m0 .7h0m2.2 .8h0m1.5 .3h0m-5.3 .1h0m1.4 .4h0m-1.4 .1h0m1.7 .4h0m-1.2 .8h0m.4 .2h0m1.4 .5h0m1.9 1h0m-.8 0h0m-.2 1h0m-.9 1.1h0m2 2.4h0m-2.4 2.1h0m4.3 -75.5h0m-.1 6.7h0m1.4 14.1h0m2.1 .2h0m.9 1.1h0m.1 4.4h0m-1.5 4.8h0m1.6 7.6h0m.8 2.3h0m-.7 2.6h0m-2.4 .2h0m0 1.1h0m1.6 1.8h0m-2.3 .5h0m.4 1h0m-1.7 .7h0m1.9 .1h0m2.3 .9h0m-1.3 0h0m-3.1 1.6h0m4.6 .8h0m-5.1 .7h0m4 .1h0m-.1 .9h0m-1.5 .1h0m-2.2 .1h0m3.6 .8h0m-1.5 .3h0m2.7 0h0m-2.5 .7h0m-2 .2h0m3.8 .1h0m-2.5 .4h0m3.7 .5h0m-2.5 .3h0m1.1 .3h0m.9 0h0m-.2 .7h0m-4.3 .7h0m.7 .4h0m3.3 .1h0m.8 .2h0m.4 .3h0m-5.7 .5h0m1.7 .8h0m3.3 0h0m-4.7 1h0m2.1 .1h0m-1.3 1h0m4.6 1.6h0m-.8 .4h0m-4.1 .7h0m3.3 .1h0m-2.9 1.2h0m3.1 1h0m-2.1 .4h0m.8 1.5h0m1.7 .3h0m-1.2 .3h0m0 1.8h0m-2.1 .5h0m1.9 3.1h0m7.1 -73h0m-2.6 7.3h0m1.6 8.7h0m-.7 13.8h0m-1.8 7.4h0m-.6 .9h0m3.5 1.3h0m-1.5 .4h0m0 0h0m-1.7 1.2h0m2.6 3.6h0m-.6 1.1h0m-.8 4h0m.3 .2h0m1.8 1h0m-.7 .6h0m-1.6 .9h0m3 1.4h0m-.1 .1h0m-1.5 .2h0m-.7 .8h0m-.6 .1h0m4.1 .2h0m-1.6 1.7h0m.9 0h0m.5 .3h0m-3.8 .1h0m-.4 .9h0m4.3 .1h0m0 1.4h0m-2.9 .2h0m.7 1h0m-3.5 1h0m2.4 1h0m2.1 .6h0m-2 .1h0m2 .9h0m-4.3 0h0m.8 .1h0m3.2 3.7h0m-1 1.9h0m-2.6 .2h0m-.4 .4h0m1 .7h0m-.5 .1h0m4.9 4.8h0m4.4 -77.6h0m.9 21.5h0m-2.9 .4h0m3 5.9h0m-3.8 13.1h0m-.1 7.4h0m2.1 .5h0m-.1 .6h0m.3 .4h0m-2 .1h0m-1 1.5h0m4.9 .9h0m-3.7 .1h0m.6 1.4h0m1.3 .2h0m-3.1 .3h0m4.3 .3h0m.9 .9h0m-1 .1h0m-1.1 .5h0m-1.1 .4h0m-.7 .2h0m2.1 2.2h0m-2.3 .7h0m-.9 .6h0m5.1 0h0m-3.3 .5h0m-1.6 .1h0m-.7 .9h0m2.2 .2h0m1.2 .1h0m-3.4 .1h0m.7 .2h0m1.3 1h0m.8 .2h0m1.7 .3h0m-.9 .1h0m.6 .3h0m-1.3 1.3h0m-2.6 .8h0m2.7 1.8h0m2.3 2.3h0m5.4 -68.8h0m.3 16.2h0m-4.9 4.6h0m4.7 0h0m-.1 3.6h0m-1.2 10.6h0m.8 10h0m.1 2.8h0m-4.4 .8h0m.1 1.3h0m-.1 3.8h0m.1 .2h0m-.2 .6h0m2 1h0m3.6 .4h0m-1.9 .8h0m-3 .5h0m1.5 1h0m2.6 .9h0m-.4 .4h0m-4.1 1.1h0m1.5 1.7h0m9 -26.3h0m-4.5 4.6h0m1.1 3.7h0m-1 5.7h0m1.5 0h0m.7 2.2h0m-1.7 .6h0m.2 .8h0m3.8 .6h0m.1 .5h0m-4.4 1.9h0m4.4 1.5h0m-1.5 1.1h0m-.3 .2h0m-1.2 .3h0m-1.1 3.1h0m2.8 .4h0m-2.8 3.5h0m1.4 .3h0m-1.3 .8h0m2.4 2.6h0m3.5 -37.8h0m1.9 16.7h0m.8 5.7h0m-3.4 1.7h0m1.3 1.1h0m-1 2.5h0m.7 4.1h0m1.4 2.3h0m-2.4 .3h0" fill="none" stroke="#000" stroke-width="1.4" stroke-linecap="square"/>
<rect x="520.6" y="868.2" width="163.2" height="164.7" stroke="#808080" stroke-width="1.0" fill="none"/>
<rect x="592.8" y="893.2" width="90" height="69" stroke="#222" stroke-width="0.9" fill="none"/>
<line x1="682.8" y1="893.2" x2="682.8" y2="962.2" stroke="#000" stroke-width="1.6" stroke-linecap="butt"/>
<rect x="518.6" y="868.2" width="2" height="164.7" fill="#b5b5b5"/>
<path d="M518.6 895.5h2M518.6 926.5h2M518.6 963.5h2M518.6 1006.5h2" stroke="#555" stroke-width="1.2" fill="none"/>
<path d="M518.6 917.5h2M518.6 911.5h2M518.6 907.5h2M518.6 904.5h2M518.6 902.5h2M518.6 900.5h2M518.6 898.5h2M518.6 897.5h2M518.6 952.5h2M518.6 945.5h2M518.6 941.5h2M518.6 937.5h2M518.6 934.5h2M518.6 932.5h2M518.6 930.5h2M518.6 928.5h2M518.6 886.5h2M518.6 880.5h2M518.6 876.5h2M518.6 873.5h2M518.6 969.5h2M518.6 973.5h2M518.6 976.5h2M518.6 977.5h2M518.6 979.5h2M518.6 980.5h2M518.6 989.5h2M518.6 990.5h2M518.6 992.5h2M518.6 994.5h2M518.6 996.5h2M518.6 1000.5h2M518.6 995.5h2M518.6 989.5h2M518.6 984.5h2M518.6 980.5h2M518.6 977.5h2M518.6 975.5h2M518.6 973.5h2M518.6 971.5h2" stroke="#777" stroke-width="1.0" fill="none"/>
<rect x="518.6" y="980.4" width="2" height="9.2" fill="#000"/>
<path d="M533.5 1032.9v4.3M602.5 1032.9v4.3M637.5 1032.9v4.3M669.5 1032.9v4.3M562.5 1032.9v4.3M574.5 1032.9v4.3" stroke="#111" stroke-width="1.2" fill="none"/>
<path d="M613.5 1032.9v2.5M619.5 1032.9v2.5M623.5 1032.9v2.5M626.5 1032.9v2.5M629.5 1032.9v2.5M631.5 1032.9v2.5M633.5 1032.9v2.5M635.5 1032.9v2.5M646.5 1032.9v2.5M652.5 1032.9v2.5M656.5 1032.9v2.5M659.5 1032.9v2.5M662.5 1032.9v2.5M664.5 1032.9v2.5M666.5 1032.9v2.5M667.5 1032.9v2.5M678.5 1032.9v2.5M575.5 1032.9v2.5M577.5 1032.9v2.5M579.5 1032.9v2.5M582.5 1032.9v2.5M587.5 1032.9v2.5M593.5 1032.9v2.5M561.5 1032.9v2.5M559.5 1032.9v2.5M556.5 1032.9v2.5M553.5 1032.9v2.5M549.5 1032.9v2.5M543.5 1032.9v2.5M523.5 1032.9v2.5" stroke="#444" stroke-width="1.0" fill="none"/>
<rect x="563" y="1032.9" width="11.2" height="3.6" fill="#000"/>
<text x="544.9" y="1051.1" font-size="9.3" font-weight="bold" text-anchor="end" fill="#111" textLength="17" lengthAdjust="spacingAndGlyphs">&#8722;10</text>
<text x="545.5" y="1044.7" font-size="9.6" font-weight="bold" text-anchor="start" fill="#111">3</text>
<text x="570.4" y="1051.1" font-size="9.3" font-weight="bold" text-anchor="middle" fill="#111">0</text>
<text x="612.3" y="1051.1" font-size="9.3" font-weight="bold" text-anchor="end" fill="#111" textLength="11" lengthAdjust="spacingAndGlyphs">10</text>
<text x="612.9" y="1044.7" font-size="9.6" font-weight="bold" text-anchor="start" fill="#111">3</text>
<text x="646.8" y="1051.1" font-size="9.3" font-weight="bold" text-anchor="end" fill="#111" textLength="11" lengthAdjust="spacingAndGlyphs">10</text>
<text x="647.4" y="1044.7" font-size="9.6" font-weight="bold" text-anchor="start" fill="#111">4</text>
<text x="677.6" y="1051.1" font-size="9.3" font-weight="bold" text-anchor="end" fill="#111" textLength="11" lengthAdjust="spacingAndGlyphs">10</text>
<text x="678.2" y="1044.7" font-size="9.6" font-weight="bold" text-anchor="start" fill="#111">5</text>
<text x="529.8" y="886.4" font-size="16" text-anchor="start" fill="#111">3.6%</text>
<path d="M309.7 980.5V1068.6H478" stroke="#000" stroke-width="1.5" fill="none"/>
<path d="M309.7 974.5l-4.2 8.2h8.4z" fill="#000"/>
<path d="M484 1068.6l-8.2 -4.2v8.4z" fill="#000"/>
<text x="484.5" y="1073.5" font-size="15.9" font-weight="bold" text-anchor="start" fill="#000">S-2P-AF647</text>
<text x="318.3" y="926" font-size="15.7" font-weight="bold" text-anchor="middle" fill="#000" transform="rotate(-90 318.3 926)">S-2P-FITC</text>
</svg>
</body></html>
